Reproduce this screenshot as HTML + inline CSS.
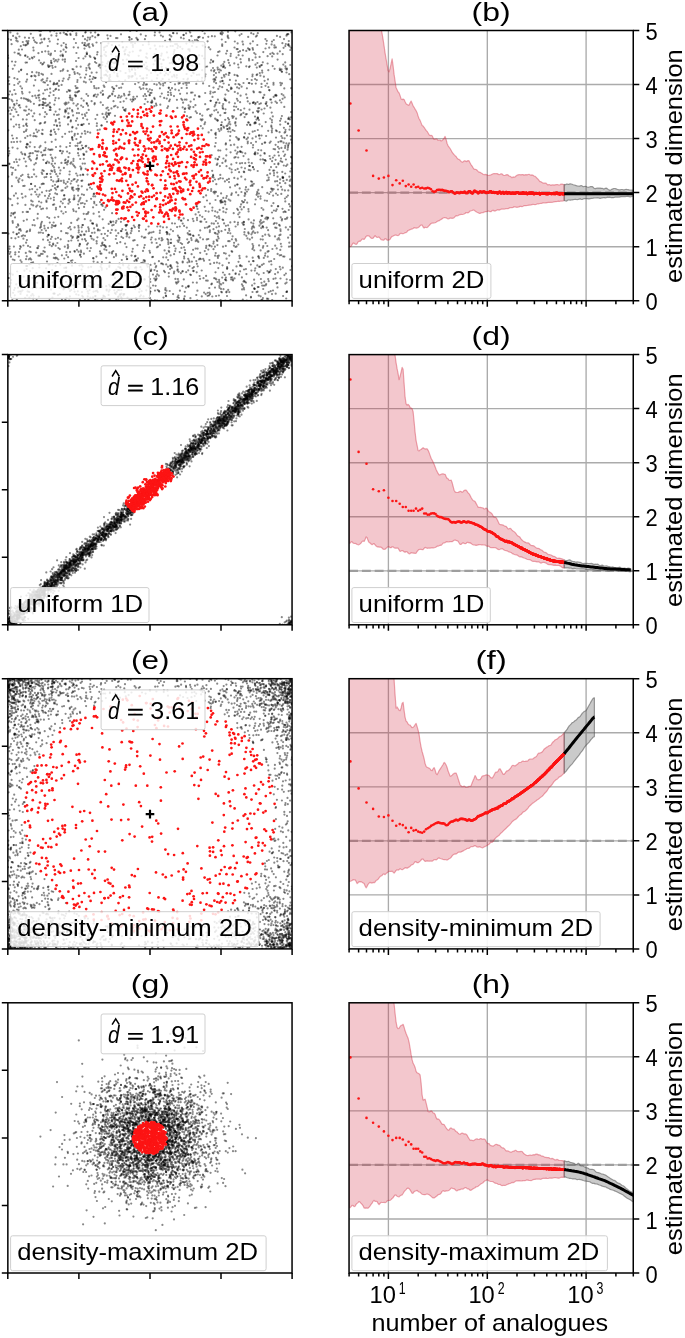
<!DOCTYPE html>
<html><head><meta charset="utf-8"><title>figure</title>
<style>
html,body{margin:0;padding:0;background:#fff;}
svg{display:block;font-family:"Liberation Sans", sans-serif;filter:blur(0.35px);}
text{fill:#000;}
</style></head><body>
<svg width="685" height="1338" viewBox="0 0 685 1338">
<defs>
<marker id="g" markerUnits="userSpaceOnUse" markerWidth="4" markerHeight="4" refX="2" refY="2" overflow="visible"><circle cx="2" cy="2" r="1.1" fill="#000" fill-opacity="0.47"/></marker>
<marker id="r" markerUnits="userSpaceOnUse" markerWidth="6" markerHeight="6" refX="3" refY="3" overflow="visible"><circle cx="3" cy="3" r="1.35" fill="#fc1414"/></marker>
<marker id="m" markerUnits="userSpaceOnUse" markerWidth="6" markerHeight="6" refX="3" refY="3" overflow="visible"><circle cx="3" cy="3" r="1.3" fill="#fc1414"/></marker>
<clipPath id="cl0"><rect x="7.85" y="30.5" width="284.2" height="270.2"/></clipPath>
<clipPath id="cr0"><rect x="349.05" y="30.5" width="284.2" height="270.2"/></clipPath>
<clipPath id="cl1"><rect x="7.85" y="354.6" width="284.2" height="270.2"/></clipPath>
<clipPath id="cr1"><rect x="349.05" y="354.6" width="284.2" height="270.2"/></clipPath>
<clipPath id="cl2"><rect x="7.85" y="678.7" width="284.2" height="270.2"/></clipPath>
<clipPath id="cr2"><rect x="349.05" y="678.7" width="284.2" height="270.2"/></clipPath>
<clipPath id="cl3"><rect x="7.85" y="1002.8" width="284.2" height="270.2"/></clipPath>
<clipPath id="cr3"><rect x="349.05" y="1002.8" width="284.2" height="270.2"/></clipPath>
</defs>
<rect width="685" height="1338" fill="#fff"/>
<text x="150.3" y="20.9" font-size="26" text-anchor="middle" textLength="38.3" lengthAdjust="spacingAndGlyphs">(a)</text>
<text x="491.1" y="20.9" font-size="26" text-anchor="middle" textLength="39" lengthAdjust="spacingAndGlyphs">(b)</text>
<g clip-path="url(#cl0)">
<polyline points="72.5,69.1 97.9,230.4 234.5,278.4 200.1,202 102.5,242.6 177.9,235.7 60.9,201.5 199.1,55.4 275.6,144.8 78.4,237.1 277.6,59.6 197.5,208.9 35.1,186.2 133.4,100.2 259.8,67 206.1,247.9 100.6,266.7 216.5,102.4 70.4,278 31,184 53.3,181.4 140.1,76.1 83.6,124.1 239.7,258.2 62.8,56.2 44.7,116.8 33.9,133.3 178,45.9 250.8,185.9 178.9,237.4 272.8,116.4 213.9,223.7 252.5,185.8 272,41.6 163.1,264.3 274.4,45.4 148.6,233.6 85.7,168.9 136.3,276.6 196.9,113.1 264.7,153.7 80.9,203.3 104.4,249.3 81.4,180.8 108.9,80.8 9.3,99 186.5,85 88.1,95.8 27.2,266 58,295.2 94.4,88 133.2,240.6 50.5,55.2 69.8,97.6 142.7,262.6 143.3,78.3 80.4,166.5 92.4,36.2 87.2,40.4 81.9,145.5 68.1,124.4 77.8,143.3 246.2,94.4 59.1,118.9 252.9,41.3 58.5,129.3 221.2,291.8 181.6,88 67.3,186.6 223.8,66.1 78.7,155.5 32.2,189.1 183.5,79 188.2,258.8 57.4,61.5 78.4,236.7 202.5,30.9 30.8,263.7 256.6,292.1 129.7,71.4 183.6,69.5 96.9,226 58.7,85.9 10.6,273.7 67.6,181.9 255.1,79.1 284.4,256.6 133.4,271.8 115.5,63 86.3,70.3 282.5,208.8 24.4,270.7 124,219.7 55.8,134 76.1,211.6 229.6,128.7 65.8,51.8 112.2,51.4 152,90.1 88.2,227.3 88,105.7 32.1,72.2 144.8,260.6 258.9,120.1 277.1,181.2 15.6,93.9 268.7,281.2 42.4,104.9 220.4,81.7 262.7,226.5 55.6,272.6 102.1,204.4 115.3,61.7 106.4,108.4 154.6,54.1 10.4,252.1 257.3,45 32.7,268.2 144.6,104 230.3,222.4 282,71.8 208.8,47.4 85.7,281.5 198.3,241.9 226.2,100.7 199.9,215.3 285.7,212 254.2,250.3 21,70.2 90.4,57 253,261 105.7,247.2 23.7,220.8 224.7,201.1 8.3,130.3 34.2,274.8 290.3,50 228.4,91 254.7,288.8 143.5,296.4 55.8,120.2 54.2,125 55,100.3 81.2,105.6 275.9,47.4 288.3,190.4 207.9,189.9 213.4,243.6 216.1,296 154.9,60.7 58.3,216.8 257.3,191.8 258.1,108.4 209.5,226.2 273.2,218.3 286.4,143.4 223.2,108.8 40.5,145.9 97.7,292 27.1,79.6 259.9,221.8 14.1,290 58.3,259.5 49.6,242.3 55,51 257.1,111.1 291.9,142.7 163,227.3 113.2,221.6 205.7,294.1 42,42.3 223.4,158.5 259.1,245.4 48.5,234.9 225.1,279.5 125.5,225.2 20.3,55.2 70.3,33.8 65.8,212 286.7,218.7 20.5,293.9 69.1,300.6 16.8,138.2 189.6,62.8 18.2,180.4 131.5,255.6 56.6,33.5 129.1,37 70.7,229.4 247.1,124.8 204.7,219.2 141.6,78.5 121.5,231.1 38.8,232.7 179.3,239.9 151.2,269.7 265.2,160.2 283.3,64.6 238,210 254.2,288.3 148.8,276.9 144,237.7 158.9,261.2 240.3,265.2 50.8,239 178.6,271.8 265.4,39.1 71.1,285.6 89.7,55.8 247.2,97.9 193.1,249.8 282.3,138 277.7,195 242.9,202.4 199.6,96.7 61.9,255.3 68.5,102.6 253.2,245.8 203,37.8 138.4,286.5 10.9,215.7 241.6,146.8 96.4,256.6 103.7,117.3 28.2,101 185.4,82.8 229.2,102.4 153.1,285.5 227.3,129 35.3,80.1 161.6,240.5 220.7,33.1 256.9,35.7 40.8,62.9 285.5,121.9 221.8,122.3 30.1,229.6 237.8,178.7 51.1,62.6 43.4,251.1 86.4,151.7 128.6,272 129.6,52.3 17.7,41.4 218.8,255.7 286.1,166 165.4,293.1 272.7,66.1 278.4,142.1 68.2,79.3 26.7,211.9 56.1,88.9 219.5,287.8 82,292.1 39.8,123.7 276,137.6 202.2,70.2 280.2,124.6 101.5,234.1 62.5,54.5 46.7,80.7 276,193.5 54.5,61.3 235.9,80.6 68,284.8 253.1,247.6 24,131.9 285.3,201.4 263,98 117.1,75.8 211.1,191 189.8,41.6 262,264.9 203.2,258.9 154.3,278.6 263.9,76.7 101.9,262 112.3,87.2 107.7,107.5 17.7,198.3 97.8,94.7 77,238.1 78.2,185.6 234.6,221.9 286.6,69.6 94.7,103.2 242.8,285.9 68.4,228 86.1,74.5 44.6,247.5 221.2,284.4 43.6,272.5 210.4,62.7 26.8,265.9 147.7,101.8 22.5,174.8 285.3,283.6 195.4,105.2 55.9,209.5 269.2,90.1 57.6,43.8 108.6,294.9 21.3,291.6 215.8,134.8 42.5,170.2 228.7,75 235.9,125.6 57.3,187.1 264.3,94.9 214.6,106.5 21.6,262 144.1,247.7 26.5,129.6 213.2,92.5 111.1,61 227.9,232.9 258.7,111.1 58,186.4 238.2,214.3 116.5,85.8 284.7,97.4 201.8,296.4 70.7,121.4 8,55.6 39.5,30.9 91.6,101.2 27.4,44.3 26.7,147.7 276.8,131.2 51,53.7 102.8,95 282.4,43.2 204.7,33.5 89.6,290.1 54.2,204.4 106.2,286.2 265.6,243.1 215.2,133.8 139.2,292.1 218.8,216.4 130.8,233.2 169.2,247.5 167,234.2 138.7,55.8 179.7,252.1 50.4,173.8 217.9,257.9 54.1,114.6 237.7,49.1 170.6,255.4 273.9,210.5 126.5,233.7 28.7,282.8 94.1,86.1 54,82.8 42.3,155.6 149.5,250.8 79.7,199.7 55.6,139.7 239,138.9 77.2,220.2 30.6,153.2 67.7,31.1 210.8,100.8 183.7,218.4 277.6,253.9 249.8,239.4 94.9,78.1 252.6,48.1 79.8,243.9 250.4,170.3 49.1,264.1 271.8,130.6 168.3,242.2 115.1,96.1 52.5,264.4 109,114.9 258.1,196.7 43,208.6 140.9,295.3 174.2,271.7 215.1,255.7 194.1,257.3 215.8,137.8 129.5,39.9 108.6,110.1 228.9,62.8 48.5,149.4 239.7,188.4 175,84.3 275.7,293.7 280.1,36.9 283.2,177.6 36.5,136.5 269.6,156 10.4,199.2 93.1,207.3 138.5,82.5 86.9,103.9 170.3,90.1 160.3,226.4 247.8,101.4 75.9,95.7 222.8,33.1 148.1,91.4 282.2,189.7 251.8,163.2 13.7,213.1 121.4,293.6 80.3,254.5 291,156.9 27.5,136.1 220.3,174.9 64.9,198.9 188.6,234.5 267.3,175.2 196.9,263.8 17.9,224.4 25.6,62.6 88.4,293.5 219,226.4 99.1,270.9 84.7,45.1 209.3,288 285.3,145.9 45.6,148.1 35.2,191.9 244.3,137.7 86.4,68 265.4,253.3 170.3,265.9 9.2,151.1 168.8,88.1 255.3,104.2 290.3,65 116,56.6 55.6,111.6 264.8,200.5 136.4,270.7 141.2,263.1 163.5,59.9 25.1,297.8 12.2,94.7 225.9,143.4 187.7,233.2 119.9,283.9 210.5,91.7 90.6,220.7 119.3,290.1 78.2,190.7 47.1,89.5 217.5,55.5 80.4,175.2 190.2,32.5 124.7,110.3 134.8,227.2 11.6,44.2 229.3,230.6 262.9,298 110.7,222.1 120.9,231.1 219.9,166.1 202.1,77.8 82,281.5 253.1,145.1 9.5,286.5 212.3,177 237.8,100.7 67.8,248.2 287,68.7 93.6,239.7 182.7,261.5 125.4,110.8 221.8,202.2 86.7,200.9 218.6,238.4 95.4,296.1 218.8,232.4 26,259.2 54.9,132.1 78.7,232.4 168.8,87.6 21.8,193.9 268.7,272.7 216.9,262.6 127.1,224.9 51,177.2 25.7,110.7 218,112.4 125.8,230 97.1,54.5 23.2,186 223.4,211.7 67.8,118.1 83.9,253.7 74,288.8 168.8,273.1 90.4,297.5 38.8,130.5 255.9,36.6 57.1,194.2 69.2,91.1 218.3,150.4 273.5,82.9 262.2,285.6 167.3,239.1 54.4,286.2 95.3,296 153.6,64.3 42.6,253.9 275.6,159.8 184.8,112 89.4,63.9 40.7,123.2 222.5,80.9 8.4,278 51.1,130.7 182.7,223.6 262,126.3 226.2,198 181.4,247.9 290.4,270 76.3,35.2 84.2,45.2 186.4,43.6 41.8,133.6 105.7,114.3 41.7,172.6 243.5,281.6 244.9,281.8 79.3,245.9 33.2,298.6 65.8,183.8 173.7,54 252.5,244 96.5,96.8 155.6,239.4 31.2,183.9 111.4,108.4 264.5,108.5 49.2,274.9 221.9,292.3 135.9,267 168.3,244.1 262.1,70.6 264,163.2 131.7,77.2 290.3,171.4 88.7,147.8 71.2,235.9 155.9,49.2 95.1,58.5 163.2,83.7 15.4,238.3 26.3,166.2 18.8,49.7 246.3,50.9 184.1,225.9 96.9,123.4 171.1,242.9 257.2,74.4 36.2,129.7 63.6,78.6 101.6,56 109.6,289.9 249,67.1 162.9,36.6 29.6,58.9 82.6,203 223.6,83.5 291,139.7 184.1,247.3 280.5,234.7 135.1,98.8 53.6,91 73.2,209.3 43.3,93.5 142.9,45 283.6,142.7 257.5,291.7 177.3,107.9 274.2,259 30.8,252.1 193.9,267 191.4,36.2 81.6,269.6 216.1,83.2 159.6,32.4 282.7,54.2 44.4,38.5 157.2,274.4 250.3,43.6 55.4,66.9 227.3,268.3 273.5,84.7 217.6,159.5 193.5,221.1 69.3,77.5 271.7,112.6 31.3,110.6 111.8,67.2 23.7,44.9 217.3,240.9 74.4,72.2 187.2,239.3 217.8,196.1 79.9,300.1 101.2,204.5 66.5,297.8 136.7,31 24.6,185.8 126.3,225 31.9,177 81.9,133.6 289.6,185.3 27.6,56.9 91.7,72.7 116,38.1 243.9,222.2 40.1,227.7 271.6,102.6 213,181.2 263.3,209.7 240.8,110.2 174.9,223.5 22.9,119.4 264.7,142.7 56,207.8 278.7,238 54.4,293.7 63.4,289.4 179.9,290.7 217.6,67.7 45.4,99.2 119.9,294.3 135.4,255.9 138,258.3 144,82.9 136.3,267.8 12.8,274.7 273.6,189.2 208.6,132.4 196.3,83.9 279.8,68.6 108.1,97.9 221.8,39.5 59.6,109.3 176.8,75.2 217.8,69.6 169.7,291 246.9,88.3 48.6,235 239.4,255.9 275.8,269.1 249.4,165.9 51.4,35.4 177.4,48 81.7,227.3 207.2,109.7 97.6,130.2 212.3,296.5 118.8,52.5 266.7,227.6 121,34.3 22.8,42 281.3,102.5 54.8,217.5 90.8,248.1 225.3,300.7 8,155.5 223.3,64.2 198.1,41.2 103.4,295.6 279.4,235.3 262.1,222.7 189.5,49.4 107,115.9 36.3,97.9 26.7,256.3 85.7,287.2 216.7,239.8 81.3,168.2 81.2,235.3 226.5,166.2 286.9,34.5 280.8,85.2 102.7,245 50.2,81.3 51.5,73.9 260.9,279 49.8,102.9 197.7,266.3 23.2,235.3 64,288.1 246.6,139.2 15.2,254.5 106.4,250.1 45,82.6 84.5,48.6 107.2,63.5 283.9,127.8 204.1,58.5 84.8,131.2 78.2,148.8 119.5,263.7 182.7,262.5 175.4,278.9 121.5,236.9 59.6,122.7 244.6,117.1 215,287.6 68,262.9 278.2,152.2 232.8,279.4 234,106.5 220.4,178.2 66.1,267.7 77.1,118.4 261.2,150.3 26.7,269 219.5,51.4 284.9,190.4 229.9,140.3 196.8,206.6 29.4,251.4 88.9,231.1 22,91.8 124,93.8 188.8,285.9 241.1,204.4 115.8,222.8 113.7,224.8 63.6,180.7 22.4,180.3 204.1,292.6 171.8,267.9 207.1,66.5 121.6,285 249.4,49.2 144.5,279.2 161.1,263.5 239.7,84.8 93,223.6 215.9,102.8 85,39.2 224.3,61.9 182.1,244.1 279.7,255.3 214.6,193.4 26.1,242.7 211.3,284.3 161.7,66.8 73.5,103.4 235.7,239.2 63.9,182.7 151.2,300.2 191.1,92.7 33.1,262.4 40.3,35.7 267.1,180.5 71.6,181 171,239.5 274.6,223 11,119.4 116.3,299.2 176.6,283.6 161.7,53.7 281.5,69.3 34.7,120.2 40.4,34.7 131.8,228.4 239.9,151.3 57.4,243 14.4,78.2 207,200.5 19.5,105.1 272.2,300 20.8,230.7 143.5,96.1 110.5,80.7 279.1,148.6 127.8,54.8 67.7,70.9 252.4,232.7 156.2,266 53.2,243.7 46.5,190.8 25.1,55.8 106.3,70.5 201.7,270.5 211.3,70.4 194.9,40 47.8,46.1 13.3,214.2 115.7,230.4 164.6,250.4 44.1,62.5 48,65.3 54.7,284.5 210.3,263.9 66.4,255.1 68.1,160.9 240.1,271.3 238,222.6 150.5,264.9 109.4,265.6 122.6,83.9 162.6,239.6 261.5,135.5 184,298.5 173,231.1 186.8,227.6 12.6,221.2 73.4,161 125.7,109 285.4,66.3 218.6,179.2 267,200.8 166.2,264.4 255,232.9 265.5,48.5 289.8,180.9 196.9,39.9 144.6,261.7 210,294.2 278.2,206.2 139.7,87.3 21.3,152.4 94.2,201.8 225.6,279.8 90.9,236.3 178.9,90.3 291.4,168.5 255.6,57.4 32.8,116.3 267.4,271 225.7,144.4 39.5,194.7 220.3,200.8 269.4,272 51.3,170.7 112.6,62.4 130.7,99.6 61.6,84.9 287,291.4 13.1,35.9 58,39.5 92.9,223.6 78.5,149.4 25,235.8 76,120.8 102.5,113.9 38.4,53.2 253.6,261.2 231.3,194.9 12,174.6 16.9,100.5 197.2,300.3 84.7,234.7 108.9,96.6 145.7,84.7 276.5,227.9 42,192.3 110,95.9 224.6,98.6 153,256.8 17.9,53.6 107,121.8 205.1,76.4 12.8,259.5 57.3,83.1 61.5,190.7 69,288.5 39.9,104.8 88.7,109.9 225.2,229.8 227.6,129 246,187.2 211.3,130.2 66,281.8 221.2,128.2 183.3,83.7 187,116.2 254.8,131 75.4,282.4 84.8,203.8 249.3,133.8 11,39.8 267.1,105.8 83.9,194.9 100,202.1 190.2,274.5 268.2,298.9 26.6,119.5 140.9,89.1 238.4,52.1 178.8,297.9 211.1,59.9 11.9,186.2 260.6,296.3 77.5,80.1 247.8,141.7 107.4,76.1 132.1,101.5 180.2,46.9 107.4,235.8 86.9,53.9 156,276.4 58.7,114.6 120.3,97.5 68.4,157.1 43,233 283.8,165.5 242,201 280.3,82.8 126.5,256.7 81.9,231.6 263.7,113.5 80.4,197.9 129.8,76.4 68.1,257.2 145.9,229.6 232.7,117.9 178.3,295.5 102.6,205.9 48.5,234.8 135,43.2 140.2,275.1 86.7,103 118.4,266.9 115.8,239 39.1,60.3 265,255.7 234.2,144.7 80.6,141.9 112,253.5 68.1,117 87.5,44.6 172.1,76.7 93,297.4 189.6,117.6 252.1,285.4 218,159.2 259.4,104 258.8,274.6 221.8,77.8 146.1,62.5 69.9,146 23.4,238.7 117.1,243.2 41.2,223.4 41,253.9 92.5,44.3 104.9,233.8 285.5,129.8 47.9,240.2 184.7,296.3 16.6,227.2 247.7,143.3 38.9,97.7 147.6,266.7 232.9,270.3 86.2,231.4 234.4,157.7 64.8,246.7 282.3,171.9 14.9,288 280.3,249.9 253.2,102.7 65.5,187.9 286.6,197 285.8,227.4 154.4,106.2 123.4,295.4 113.2,251.2 219.1,72.3 226.6,126.2 240.6,151.9 227,296 49.7,110 22.6,197.6 93.5,291.7 101.8,286.7 118.1,297 85.6,146.4 285.2,173.5 69.3,131.8 61.2,231.2 134.9,267.8 275.1,274.1 45.2,154.9 235.4,122.2 77,249.8 260.9,103.3 271.4,126.8 11.7,110.1 164.9,272.2 29,37.9 151.4,92.8 223,67.2 48.5,264.7 70.7,183.6 246.8,114.1 221.5,231.2 170.1,269.1 175.3,89.6 63.6,49.7 154.5,270.1 263.3,52.1 28,245.9 275.2,227.6 229.9,79.9 29,109.5 126.9,259.2 51.2,134.9 259.1,258.2 272.1,188.9 289.3,242.7 29.5,153.6 74,39.1 237.6,147.4 269.6,271.9 114,63.3 8.5,278.1 47.1,173.8 52.6,282.4 68.8,200.4 65.4,112.3 127.7,281.6 242.8,299.5 15.9,193.4 25.4,204.9 105.8,52.2 127.5,297.7 35.8,163.2 226.4,149.3 80.2,159 288.6,45.3 193.4,107.1 27.1,126 265.7,285.3 136.2,259.5 236.2,106.8 213.2,61.1 89.8,251 22,49.5 19.1,229.7 103.8,296.2 268.7,177.7 216.8,217.3 225.2,204.3 127.8,267.3 279.9,100.3 168.8,276.6 179.8,83 262.1,143.9 74.5,251.1 70.9,120.4 163.5,297.6 162.5,46.3 188,78.6 36.7,42.9 87.7,296.4 81.1,252.2 146.7,53.7 175.2,251.1 260.1,266.7 124.8,54.4 42.5,129.9 150.2,291.7 278.4,163.4 261.5,87 11.4,238.1 287.3,217.5 166.3,257.4 240,163.4 73.7,273.7 26.5,41.2 260.7,223.7 82.4,225.1 82.3,180.6 116.4,220.9 70.6,34.9 78.3,225.8 179.8,226.5 270.3,53.9 191.4,75.8 160,244.9 53.6,95 9.6,253.8 250.9,297.5 251.7,80 255.8,83.6 57.6,176.3 15.3,109.3 136.5,285.7 211.7,114.5 253.4,91.4 228.4,38.2 9.4,164.1 68.2,246.7 78,282.1 118.6,296.4 252.7,131.7 57.4,263 245.2,163.2 53,204.8 52.5,158.8 110.7,64.8 143.3,88.4 252.1,237.7 90.2,132.7 51.2,149.7 226.6,209.2 72.1,137.3 93.8,284.4 135.9,298 256,141.8 266.4,217.4 37.8,213.9 28.2,99.5 89,43.8 8.3,176.7 156.9,78.4 279.9,51.3 225.4,112.8 96.5,42.5 13.3,232.3 192,46 217.4,163.7 253.9,220.4 252.5,292 216.5,227.3 164.7,75.3 116.3,235.8 101.3,264.5 232.2,277.3 178.4,281.4 268.7,292.1 225.4,94.6 74.8,251.7 41.7,230 10.4,32.4 29.7,189.5 270.7,192 16.5,111.9 248.7,233.6 136.4,37.9 189.5,262 36.2,206.7 89.9,68.8 77.4,175.6 15.5,61.8 145.3,237.4 20.8,46.2 32.6,201.5 253,49.7 268.3,70.2 241.9,277.4 58.8,98.3 161.4,63.9 271.2,188.7 26.2,280.8 232.2,116.2 53.5,225.9 20.1,291.4 160.3,104.7 255.9,136.7 72.7,140 96.7,243.4 72.4,111.4 38,248.1 58.5,59.6 229.1,228.8 70.6,99.7 135.2,69.8 39.3,94.9 111.2,274.8 69.7,108.3 227.1,50.9 262.8,62.3 203.4,197.2 149,70.3 284.4,275.1 62.8,55.5 30.8,33.8 68.4,203.7 219.3,218.3 35.2,95.7 275.6,278.3 149.6,232.7 237.1,87.4 33.5,295.6 242.7,55.5 104,47.7 184.9,250 106.1,75.1 80,255.2 215.9,73 193.4,271.2 147.1,69.2 239.5,217.1 62.7,80.9 260.7,239.3 14,142 85.3,133.7 159.9,230.7 206.8,239.4 273.8,54 18,287.7 173,33 281.7,94.1 106.4,112.7 267.3,192.9 217.5,212.3 124.4,51.3 188.5,286.8 198.3,37.7 48.8,67 59.9,150.8 154.3,84 53.1,273.7 243.5,156.1 190.9,117.2 30.7,101.8 253.9,102.3 235.2,123.4 252.2,227.2 9.6,246.5 35.2,136.1 51,289.6 32.5,294 191.9,261.6 281.2,255.2 214.8,216 25.5,196.4 262.9,159.4 211.9,36.2 255.3,152.4 63.7,43 72.3,189.2 46.5,201.9 79.8,143 154.8,45.7 39.9,255.7 257.7,171 238.3,195.2 225.4,161.5 279.8,225.7 167.3,108 204.8,47 87.9,37.6 268.6,251.2 248.8,122.6 62.7,59.7 173.1,294.1 64.9,61.7 256.8,80.1 63.9,167.9 94.6,232.7 170.7,92.8 246.8,300.5 166.8,227.3 236.1,118.7 259.2,108 16.9,162 222.6,105.9 53.8,257.9 262.2,215.8 180.9,220.5 253.3,223.6 128.5,76.2 39.3,267.5 129.4,94.4 244.2,280.8 80.8,136.9 280.1,120.8 49.7,244.9 234.8,91.9 76,61 219.2,156.9 268.2,279.1 101.7,268 82.2,295.9 96.3,63 151.8,102.8 259.8,73.1 102.7,219.3 279.9,183.1 228.2,241.2 169.7,35.2 282,83.4 44.3,225.8 146.9,84.4 272,294.1 104.3,245.1 37.5,218.4 258.3,150 43.7,105.2 157.1,271.2 241.6,209.4 244.4,234.5 174.2,245.9 219.1,279.9 172.8,46 231.2,279.5 99.4,216.4 58.4,180.9 41,226.8 34.3,164.5 207.6,41.3 84.1,154.6 267,298.5 51.3,180 151.5,232.5 235.7,273.3 14.3,90 223.2,104 278.9,155.6 73.7,47.3 244.3,108.5 169.8,63.2 73.6,179.7 285.9,273.5 268.2,130.8 234.6,74.9 8.5,110.8 134.5,260.9 83.4,58.5 250.1,124.5 56,278.3 43,108 179.1,59.2 187.9,243 229.6,168.3 90.6,236 195.7,111.4 216.3,109.8 282.1,219.1 290.1,226.8 222.4,162.9 90.2,37.5 82.1,114.5 115.7,293.9 52.3,171.3 207.2,227.6 52.4,297.5 229.4,274.2 280.5,269.3 21.3,98.2 243.8,171.7 233.9,245.7 155,290.6 165.1,82.7 227,89.8 47,261.5 230.8,53.8 100.4,253.6 66.4,34.2 93.5,258.4 238.5,139.9 229.7,73 281.3,193.9 34.2,113.4 212.5,96.9 100,251.4 260.6,250.4 18.8,256.5 111.9,45.1 122.8,47.5 209.4,245.4 55.8,84.1 222.2,87.2 32.7,288.2 162.1,69 254.5,288.9 177.7,269.4 194,99.3 217.4,245.1 95.3,94.5 126.1,226.2 172,88.2 112.2,93.5 96.8,126 287,135.5 8.4,198.3 86.7,112.8 51.7,227.4 257.5,102 273.8,224 33.9,85.6 287.9,195.5 245.3,194.2 259.6,56.9 136.3,259.9 36.9,276.7 213.7,241.7 36.3,176.5 289.6,46.4 49.8,65.9 144.1,64.7 137,96.5 47.4,161.5 50.3,92.6 132.8,248.8 101.5,125.4 215.8,132.9 139.7,289.2 166.9,52.4 81.3,125 216.4,279.5 200,258.5 83.7,213.8 197.7,80.6 23.5,125.9 101.8,299.9 116.7,271.2 43.8,98.6 187.4,79.6 288.1,237.7 270.3,118.6 27,115 104.6,54.6 286.8,179.9 191.6,254.2 236.1,192.4 16.2,124.6 168.1,92.2 74.2,197.5 118.6,218.9 197.4,290.7 243.1,44.4 110.5,221.4 78.1,91.7 146.6,77.9 258.9,193.6 284,39.1 41,31 54.4,293.5 29.4,264.3 49.9,264.4 260.4,75.7 211.2,189.2 231.3,164.4 224.9,100 106.6,289.5 30.9,160.4 133.5,284.8 171.1,94.9 269.7,142.8 274.5,155.5 124.3,294.1 34.8,225.4 284.3,88.4 54.3,30.7 266.9,300.5 41.5,80.4 135.2,289.1 90.8,32.6 82.8,148 156.9,247.3 230.3,233.3 159.2,82.8 281.4,147.9 163.2,257.3 246.3,66.3 277.9,206.3 64.1,195.5 271.9,132.3 262.6,236.2 177.1,227.1 139.9,296.5 215,179.5 169.2,69 263.3,246 262.3,72.6 291.1,112.1 127,232.7 210,115.3 32.4,96.2 290.1,280 109.3,266.9 129.3,300.4 156,103.7 218.3,88.9 135.1,84.1 22.5,290.3 269.5,169.9 255.5,54.3 200.1,278.8 192.6,268.2 218.5,129.2 43.5,82.2 86.2,145.8 183.8,279.4 245.8,114.4 207.7,292.8 58.8,89.9 76.2,294.3 195.6,214.4 245,133.3 166.9,46.9 54.9,171.9 36.6,72.4 95.5,119 210.3,49.3 55.9,60.1 281.7,71.5 240.3,206.8 262.4,299.8 227.8,35.6 226,74.3 166.1,73.3 100.5,67.7 187,83 281.5,141.4 29.2,291.9 116.3,269.6 267.2,219.3 62.9,151.4 57.1,126 140.8,50.4 105.5,66.3 22.2,284.6 79,188.9 281,158.6 125.5,49.7 72,263 166.5,232.2 60.6,150.8 247.2,79 64.6,103.5 105.8,74.5 280.6,231.1 244.6,195.9 258,118.4 198.5,37.1 123.1,47.2 166.8,98.6 288.5,118.7 235.3,150.5 262.9,247.7 82.2,239.3 281.9,116 117.4,38.1 166.9,232.2 18.9,252 261.9,65 229.9,65.3 231.6,169.5 43,74.7 48.7,54 125.2,80.4 257.7,153.4 28.2,174.6 27,62.5 221.5,125 230.9,89.1 56.2,174.2 60.3,33.2 49.8,222.6 80.8,149.3 252.6,60 174.5,50 288.4,119 240.1,102.2 187,93.3 88.5,65.4 61.9,299.2 110.6,232.9 98.9,212.1 42.3,174 77.8,133.9 244,269.5 54.4,254.2 225.2,119.8 93.2,272.1 61,223.7 183.6,34.9 123.4,64.1 147.2,58.1 33.9,220 290.4,186.3 69.5,153.2 226.2,53.6 288.2,229.7 96.6,241.2 291.2,88.2 105.6,207.4 143.7,260.2 105,296.8 85.4,56.4 56.6,181.7 238.6,67.5 84.9,77.7 120.9,221.8 193.5,270.8 52.4,149.6 245.5,189.6 48.5,66.6 192.3,65.7 256.8,67.6 88.9,184.4 87.7,131.9 236.5,266.4 199.1,74.7 53.1,285.9 60,206.7 271.6,44.4 252.4,76.3 160.1,58.9 231.6,251.2 121,297.2 10.9,256.7 89,123.8 72.3,100.3 234.5,131 52,225 285.9,159.5 86.8,52.7 189.5,65.4 268.4,87.2 281.4,136.2 273.4,203.2 283.1,296 27,143.9 16.2,159.4 214.9,146.4 200.7,119.3 244.8,229 290,126.4 200.2,237.6 210.7,116.3 193.5,235.9 70.1,251.9 188,220.2 108.4,113.7 12.8,222.8 272.5,52.9 186.6,74 220.6,300.1 84.9,163.6 117.8,76.4 289.9,119.4 78.9,284 115.4,105.8 267.6,251.7 81.5,264.8 48.3,104.6 57.1,84.1 59.8,249.1 71.3,289.8 11.5,213.2 18.8,105.6 214.7,191.7 214.1,81.7 241.4,192 192.5,92.5 225.3,201.8 262.7,226.3 281,118.7 248.6,211.4 188.3,49.4 279.8,70 184.1,256.6 64.3,267.9 76.4,128.4 246.9,191.6 291.4,32.4 241.5,167.5 132.3,251.7 252.9,147.5 42.8,183.6 205.2,104.2 69.4,199.3 41.7,184.2 260.5,198.7 43.9,103.2 97.2,114.9 139.5,225.3 77.9,108.7 244.2,172.2 289.1,143.3 18.5,237 262.8,239.6 128.8,265.4 189.5,266.1 140.8,34.4 129.5,91.8 132.8,51.5 224.5,113 70.1,95.6 281.4,246.5 235.5,247 51.8,246.2 12.6,147.6 71,260.8 41.3,209.1 219.7,86.4 32.8,153.2 89.5,47.2 229,119.5 272.2,56.4 150.1,298.2 118.9,95.6 95.5,291.2 21.3,69.6 258.1,112.2 240.7,151.6 80.3,234.8 11.1,167.3 216.1,77.3 65.1,207.1 103.5,227.9 263.8,257.9 112.3,94.5 220.9,70.5 39.2,275.9 208.3,36.8 237.7,168.9 137.4,245.2 123,107.6 224.7,274.9 205.2,93 78.9,208.2 258.4,256.4 263.7,263.8 230.1,187.3 81.9,194.3 277.6,176.7 218.1,52 16.3,40.6 248.8,83 10.4,113.9 54.1,167.4 74.6,179 196.3,261.1 41.9,221.8 72.4,30.9 36.5,194.5 154.8,263.7 60.3,146.4 74.8,133.9 260.8,220.2 238.6,55.2 78.6,295.1 273.2,170.7 107.4,35.3 50.8,131.6 181,37.7 283.4,95.3 101.2,245.8 69,179.2 209,295.5 200.2,230.4 108.7,223.9 8.3,155.6 58.5,179.1 79,113.1 55.6,98 131,42.7 26.1,266 275.2,245.7 66,233.1 116.8,291.9 93.1,258.1 280.5,141.3 253.5,34.1 55.3,258.4 259.3,135.4 100.7,102.4 280.5,278.5 219.7,209.9 65.8,102.5 288,147.6 195.7,241.1 141.6,291.2 9.9,107.7 224,127.7 179.6,237.8 213,68 118.4,300.4 225.8,245.9 49.8,194.1 291.9,266.2 228.9,262.8 113.5,101.2 191.2,238.2 50,149.9 269.2,47.7 222.7,107.9 223.2,207.9 225.7,253.6 52.2,270.1 88,279.9 212.4,207.6 41.5,73.8 96.9,290.6 19,276 62.7,203.3 243.5,83 288.3,34.2 258.9,135.6 223,246.7 251.1,143.1 255.2,154.5 214.9,246.7 27.9,144.4 247.2,202.7 164.5,70.9 129.2,69.5 46.8,174 254.4,123.4 190.5,234.7 77.9,188.7 144.9,39.2 63.8,32.7 176.9,44.2 138.7,226.6 228.3,131.5 233.7,116.6 214.8,78.9 145.8,35.8 35.5,76.3 263.3,97.4 273.6,149 201.3,221.7 241.5,34 59.1,80.9 61.4,45.6 42.6,134.1 289,246.7 190.9,275.1 155.7,267.3 201.6,120.3 241.3,114.1 188.9,70.4 225.7,160.3 14.6,52.5 55.4,157.6 284.3,106.9 253.8,183.8 130.2,30.9 50.5,107.6 40.3,43.2 133,47 40.1,206.7 235.5,274 178.3,81.4 112.2,225.4 258.6,287 66.5,47.8 43.4,159.8 63.3,199.4 261.7,215.8 49.2,218.1 29.7,100.5 192.8,218.8 82.7,163.6 131.5,230.9 126.6,47.2 239.5,212.6 270.7,291.2 286.5,72.5 55,188.2 182.4,271.5 271.6,205.9 58.3,181.2 62.3,136.8 8.4,233.7 206.3,222 228.9,84.9 12.2,205.2 12.5,101.3 221.2,129.7 159.9,88.3 82.9,296.8 221.3,65.7 261.5,282.8 8.2,58.1 217.7,120.2 225.3,100.1 85,299.4 205.6,66.8 91.9,223.3 172.1,223.3 223.6,66.6 266.2,284.1 262.2,187.2 45.4,102.9 207.7,280.7 168.7,250.8 224.9,181.4 242.5,41.7 38.8,90.6 206.3,245.9 69.4,263.2 120.4,102 26.9,99.6 276.9,35.9 175.2,44.2 129.1,268.7 73.3,285.6 77.3,145.8 121.5,96.3 243.9,207.2 46.1,268.3 271.1,261.2 14.5,105.3 288.8,210 239.1,172.2 237.6,184.5 230.8,145.2 216.8,164.9 269.3,194 49.1,162.7 215.2,80.2 22.8,212.1 109.6,299.4 214.8,36.3 151.3,106 23.4,245.5 214.2,278.2 66.2,111.1 285.3,183.2 145,94.2 114.9,277.9 189.5,30.8 39,105.3 37.2,248.1 48.9,196 64.3,258.5 63.3,213.5 189.1,260.7 101.8,269.7 53.6,222.5 42,51.9 153,274.6 77.5,87.9 55.8,257.5 19.9,248.8 276.9,102.9 170.6,265.2 200,113.9 266.1,103.8 280.5,70.2 199.3,64 288.1,146 55.7,225.4 124.4,95.4 177.7,282.5 104.4,75.2 276.3,167.1 38.5,255.7 268.6,234.6 169.4,234.3 108.8,291.6 72.9,236.9 41.4,39.3 39.9,187.5 19.1,53.7 80.7,66.7 255.3,268.3 41.2,152.3 15.5,169.9 150.1,279.1 102.9,105 112.1,213.2 19.1,124.8 133,99.2 117.7,107.3 288.8,117.6 280.7,217.3 270.4,107.7 55.7,121.5 285.2,62.4 120.3,242.2 148,264 73.4,69.5 76.3,33.3 78.4,218.7 108.4,43.4 267.6,63.5 119.1,88 104.5,245.5 125.1,275.5 49.5,298.8 257.3,265.4 146.3,290.3 36.5,276.8 266.1,136 290.8,246.3 38.8,75.2 82.6,266.4 182.7,107.4 123.1,238 236.4,57.6 176.7,77.7 254.2,53 234.3,177.9 14.6,65.3 275,95.3 49.7,41.4 161.2,80.9 259.1,266.8 93.6,261.6 16.3,284.4 39.3,264.3 234.1,242.8 65.1,133.8 202.2,55.9 279.8,266.8 292,95.2 75.2,167.4 247.9,137.7 119.9,267.5 70.5,274.6 66,44.6 291.8,157.7 11.5,142.1 250.3,125.2 208.3,239 168.1,74.6 71.3,240.5 277.6,185.3 240.9,62.4 42.7,79.3 277.3,283 17.2,271.5 158.8,275.7 214.9,92.1 83.1,118.2 272.4,249 182.4,48.8 249.5,49.9 206.1,275.9 72.5,126.9 51.5,63.1 99.3,64.7 27.6,291.4 24,158.5 237.8,224.6 213.5,79.4 249.6,165.9 11.6,99.8 50.4,134.6 259.5,124.3 184.8,99.6 18.8,232.9 254.8,122.6 78.6,227.7 277.9,272.4 229.5,127.7 151.8,80.7 93.6,213.7 290.4,235 257.7,118.2 291.2,217.3 33.3,47.6 91.2,81.9 183.6,35.1 280.6,161.2 219.4,263.3 110.5,35.9 172.7,63.6 9.3,77.2 80.9,250.6 190,234.4 192.3,41.4 43.8,183.8 106.9,117.1 283.4,180.9 69.7,171.5 53.4,84.3 111.8,229.9 26.8,144.6 122.9,263.8 34.2,56.8 97.2,278.1 74.9,95.2 259.7,138.5 189,82.8 95.7,77.8 230.3,124.3 123.2,265.3 49.2,95.9 94.1,193.7 241.7,266.2 71.2,222.9 77.3,82 219.3,281.9 50.2,31.5 147.2,286.1 81.5,98.5 209.9,203.6 258.3,189.9 286.6,282.6 9.3,84.1 217.9,99.7 215.5,272.3 240,51.2 217.6,120.8 50.7,198.5 272.9,157.6 81.7,124.7 237.8,76.1 44.6,123 31.2,295.6 88.4,267.4 36.2,252.6 98.2,34.6 52.7,161.1 255.6,103 229,182.1 255.7,199.5 174.1,74.9 74.8,73.9 19.5,81.8 34.5,75.7 84.9,239.2 86.5,94.1 90,76.2 244.9,200 213.5,249.2 170.5,243 129.3,237.4 76.2,173.5 177,33.3 82.9,148.2 237.8,93.4 268.7,179.9 19.4,36.5 271.4,264.5 29.9,231.1 209.2,86 222,34.5 20.2,246.1 245,192.9 73.5,158.9 230.6,152.3 243.1,50.2 165.5,288.2 178.7,83.7 273,290.5 52.6,186 154.9,32.4 13.6,116.5 36.9,151.5 105.6,246.2 251.1,181.3 249.7,66.3 97.6,262.4 213.1,175.8 174.5,76.4 244,202 226.8,196.1 255.5,64.7 202.3,115.6 42.8,99 32.4,277.8 25.4,55.3 235.1,185.7 150,252.7 35.2,42 257.8,130 185.2,253.3 292,201.3 239.1,274.4 82.9,273.8 78.1,195.5 213.5,229.2 246.3,235.8 69.6,75.1 166.5,290.7 32.6,225.1 252.1,181.8 283.2,256.5 13.1,167.9 253.3,231.3 249.1,60.5 112,252.1 76.4,53 117.6,64.4 12.1,135.5 154.3,97.9 113.4,88.5 114,106.6 57.1,258.3 81.8,186.3 290.6,136.2 188.6,105.4 231.9,239.3 236.9,98.8 64.3,195.2 255.6,123.2 238.1,64.6 177.1,299.9 251,296.8 124.1,109.8 78,153.2 231.8,88.4 154.7,35.3 248.2,36.9 36.5,273.2 15.3,252.4 174.1,254.2 204.9,227.8 249.5,109.7 111,222.5 47.8,85 243.9,224.7 274.6,68.8 46.3,162.9 191.6,240.1 204.5,124.2 133.4,96.9 101.2,43.2 117.3,73.9 87.5,174.6 172,62.6 44.3,39.3 145.4,99.2 259.4,225.7 23.6,276.7 95,62 156.6,243 183.7,38.5 67.2,164.5 234.9,103.3 91.8,189 287.9,123.7 278,189.5 112.3,70.5 16.7,233.9 253.9,92.3 155.4,71.3 257.4,63 132.8,76.1 160.9,35.5 122.3,229.1 31.3,194.5 66.3,162.6 255,204.3 208.5,109 58,237.8 19.5,159.6 50.2,285.9 14.5,260.1 73.7,284.8 168.2,240 69.9,226.8 232.2,251.8 86.4,214.1 265.6,160.9 50.7,154.8 67.1,35 65.8,46.9 60.6,71.1 46.8,208.4 285.8,44.1 43.1,239.6 271,99.6 94.3,203.3 38.9,72.9 109.6,246.2 192.9,282.5 285.1,154.5 159.1,70.3 203.1,83.4 61.4,211.3 131.7,39.1 225.6,42 59.7,294.2 55.7,245.7 196.7,272.3 70.2,90.7 103.7,85.5 61.9,153.3 56.1,189.6 182.3,100 25.8,252.9 98.7,66.1 246,282.6 238.6,84 68.7,90 83.4,153.8 85.7,32 66.4,252.2 116,254 68.5,241.1 169.9,99.6 121.8,260 96.4,88.4 37.1,155.3 29.6,156.2 222.8,202.2 79.1,91.2 43.3,282.5 108.7,113.5 285.1,147.9 75.5,86.1 286.8,291.9 36.2,287.7 276,130.4 29.7,146.5 28.2,176.8 54,129.6 280.4,229.4 31.5,262.9 60.3,264.8 113.3,91.3 267.7,256.7 274,175.3 226.6,258.7 219.4,131.1 266.5,102.1 195,95.4 238.1,109.2 102.7,297.8 20.8,247.1 252.5,138.4 58.9,167.6 44.6,228.4 94.1,228.4 9.3,153.5 234.5,47.5 213.1,174.9 282.8,267.7 14.1,104.2 42.3,64.5 128.7,78 216.3,184.2 83.9,81.7 40.6,288 42.6,286 116.1,255.7 107.9,38.6 268,79.4 135.8,281.7 276.6,95.5 160.7,70.3 25.6,161.6 16.4,177.7 131.4,299.3 74.6,291.7 87.7,291.4 17.1,141.8 93.3,196.3 167.5,233.1 44.8,251.9 26.9,219.6 288.5,44 264.3,281.7 228,118.1 17.4,79.2 215.6,233.4 84.9,43 265.3,218.6 102.4,62.3 114.3,290.3 206.6,254.1 26.4,123.6 125.6,73 53.9,200.1 82.2,125.1 119.2,81 252.7,257.7 159.9,46.3 240.5,59.2 225.5,109.3 78.1,47.6 219.7,283.8 272.4,190.6 225.8,212.5 214.1,262.9 55.7,265.9 29.9,208.8 151.7,237.5 33.5,136.2 248.8,162.5 139.9,50.6 123.7,101.3 218,236.6 85.3,32.6 150.3,48.5 239.6,35.3 190.6,101.6 288.8,41.1 184.7,109.2 136.8,78.7 131.7,228.5 85.9,240.8 261.5,299.9 35.3,151.1 277.9,146.8 206.1,195.4 62.6,70.6 42.5,104.6 275,236.4 161.2,55.7 156.7,84.7 279.6,132.2 202.3,216.8 225.1,67.8 78.6,58 165.1,40.8 47.9,198.3 65.6,159.5 189,241.9 61,180.9 160.5,73.2 64.5,116.7 10,91.4 116.8,286.3 178.8,219.3 287.6,34.2 249.8,103.6 213.5,87.6 67.6,233.3 257.8,117.4 56.4,35.8 237.8,152.1 285,198.5 8.3,39 277.5,287.4 28.4,41 221.8,31.6 73.7,211 169.2,251.9 214.3,110.6 109.4,79.7 76.9,113.1 46.2,105.8 226.6,291.7 238.3,244.5 134.6,240.2 31.4,204.6 90.5,286.8 107.6,71.8 40.9,225.1 12,61.5 136.8,260.8 78.1,124.8 19.3,127.3 207.4,300.6 213.6,192.2 18.4,291.7 74.1,165.9 49.7,106.5 177.5,266.5 188.7,107.9 224.4,76.7 162.6,78.9 196.5,239.6 240.6,115.2 159.1,238.7 103.1,94.2 267.7,217.7 275.5,101.6 73.4,190.3 100.8,92.7 274.4,47.6 65.6,34.2 89.8,282.4 274.2,170.5 228.7,199.6 211.7,223.4 110.4,63.1 39.3,276.7 28.5,157 237.6,43.4 269.6,236 87.3,248.3 152.2,257.2 200.8,126.1 123.3,254.7 222.5,265.3 290.1,206.4 150.3,281.9 236.6,246.4 77.8,180 161.7,238.1 270.7,270.4 84.8,114.3 37,157.9 104.1,209.8 225.9,225.8 60.4,170.4 83.7,100.7 230.6,56.1 122.3,42.1 291.1,163.3 16.6,38.5 45.3,51.3 68.4,113.4 240.6,95.7 252.4,249.1 101.7,77.9 242.4,222.9 20.5,260.3 268.1,230.2 83.8,158.8 48.4,51.7 284.6,132.7 281.8,220.4 196.9,74.8 285.1,219.1 88.8,184.9 208.3,249.6 164,270.9 71.3,162.4 49.4,190.9 189.4,108.9 139,231.1 109.4,252.7 67.7,162.3 275.1,149.3 177.5,270.4 43.7,170.9 95.2,37.3 118.3,233.2 236.2,240.7 284.2,156 56.8,125.3 223.2,283.1 14.3,85 188.2,270.3 133.7,283.2 102.6,90.8 21.8,236.2 87.1,189.7 30.2,258.4 229.6,241.2 98,229.4 261.6,208 219.5,69.6 228.2,60.2 290.3,79.3 288.2,123.6 150.9,270.9 143.3,84.9 79.9,244.3 252.2,184.7 57,115 22.5,93.6 287.6,149.7 215.5,158.7 102.3,65.1 105.4,46.7 12.8,68.8 200.2,252.8 78.1,240.5 254.1,227.4 282.6,98.8 91.7,238.6 202.5,119.4 55.6,238.8 228,31.8 222.4,81.1 252.9,102.9 24.9,153.9 258.5,256.7 146.8,264.7 257.8,287.1 220.7,201.4 73.6,199.4 93.7,194.2 51.1,189.8 38.4,246.2 260.5,159.5 254.5,283.5 256.5,119.6 18.7,182.1 209.9,230.4 286.7,279.3 104,50 43.9,150.5 265.2,234.7 106.1,82.2 156.6,278.7 33.2,37.8 229.3,255.6 120.4,71.2 125,53.8 97.5,52.2 268.1,217.9 242.1,163.1 97.6,300.7 106.8,268.8 215.3,104.9 247.4,238.4 47.3,217 8,66 171.3,36.4 249,58.9 290.1,259.3 100.4,64.9 126.3,98.5 265.7,103.6 173.4,33.2 75.7,96.3 68.3,263.1 73.1,187.6 186.8,87.9 209.4,260 215.5,200 77.1,92.3 281.1,186.8 83.1,107 95.5,299.9 226.3,155.4 30.3,135.4 148.6,226.5 280.8,243.8 34.2,174.3 171.2,266.5 285.4,131.8 106.2,257.8 209.6,245.6 286.5,35.7 218.9,295.5 59.6,287.6 77.6,73.2 12.3,172.8 261.5,83.9 129.6,286.6 248.6,219.4 33.7,169.7 236.4,162.8 61.4,162.9 152.3,101.9 197.6,248.7 127.5,234.4 213.9,75.1 174,96.1 92.6,79 196.5,205.9 187.9,286.3 51.1,60.8 8.4,148.1 272,122.3 230.5,131.8 271.9,120.1 55.1,226.2 222.2,44.4 153.4,231.9 261.2,228.1 66.4,147.1 89.7,79.5 145.7,68.2 199,259.4 118,97.6 289.2,74.2 37.2,282.8 149.8,95.3 26.1,146.9 185.9,61.4 88.4,299.8 82.4,42.9 28.1,43.3 220.8,202.7 186.5,99.7 106.7,290.4 30.2,247 267.1,83.5 144.6,279.7 246.4,274.1 223.4,126.5 236.8,153.7 83.9,234.7 203,239.3 231,277.6 184.9,57.7 170.6,41.6 206.1,280.6 32.5,58.3 55.3,193.4 26.3,81.7 121.3,276.2 251.8,228.8 31.9,57.5 67,91.8 76.4,105.6 267.6,56.2 84.9,274.2 245.9,269.1 88.5,45.6 79.5,265.5 231,87.7 93.1,45.8 97.4,237.3 248.8,169.9 215.2,211.3 108,230.9 53.3,293.6 276.6,283.3 47.3,256.4 197,217.9 241.9,284.3 104.4,86.9 177.7,263.3 277.5,239.4 228.2,289.9 105.5,119 282.6,176.9 101.4,253.7 28.8,113.9 157.6,75.1 217.9,223.3 63.9,276.9 11.2,280 264.5,160 236.7,49.1 221.4,200.2 235.3,31.3 83.7,155 223.2,220 66.5,271.6 37.3,132.1 50.6,110 193.8,73.3 264.6,80.8 263.2,227.5 39.5,147.3 93.6,287.2 58.4,248 257.6,232.4 26.5,232 86.1,46 36.4,159.2 17.5,148.5 18.2,115.2 274,173 138.9,225 87.9,243.3 243.2,224.6 250.8,264.6 28.8,259.3 45,90.1 233,280.5 212.9,61.9 265.3,293.7 234.2,110.2 67.8,244.9 45.3,142.3 88.8,285.6 25.5,45.5 94.9,300.4 67.3,108.6 272.1,161.2 59.9,173.6 254.5,153.9 256.6,194.8 231.8,193.4 234.8,41.5 160.3,96.5 214.8,232.8 53.9,197.5 26.4,106.7 266.8,40.8 148.7,42 198.9,96.4 227.7,36.8 95.1,58.7 109.9,74.9 87.8,213.7 251.2,222.6 146,57.2 14,195.7 202.7,45.6 72.1,110.1 259.6,66.1 78,204.5 287.3,164.7 198.6,212.2 257.8,33.2 230.3,200.7 18.1,83.6 284.8,211.4 33.6,50.4 74.4,199.1 76.2,88.2 114.6,68.1 228.1,225.3 270.1,173.7 123.7,294.1 101.6,125.5 75.2,263.1 213.9,71.3 87.2,119.6 214.4,70.2 200.8,259.2 166.1,296.2 84.1,206.9 121.9,298.3 157.7,290.1 255.5,122.4 148.8,44.3 22.4,154.1 127.7,288.1 156.5,105.3 267.3,246 193,72.5 150.9,102.3 38.4,151.4 36.6,300.2 251.4,234.3 133.8,225.5 81.1,169.4 218.4,230.8 122.9,59.9 82.9,174.5 70.5,97.5 204.8,251.1 67.1,151.6 177,56.6 210.3,93.6 155.6,285.8 276.7,209.4 126.7,236.4 169.2,101.2 272,212.5 33.2,205.4 98.4,285 51.7,157.6 199.6,276 66.6,103.7 166,67.8 246.6,256.7 176,282.3 83,225 109.7,262.6 74.6,227.4 127.2,259 93.8,96.2 135.1,73.1 13.9,246.6 43,102 169.7,39.5 146.6,88.8 190.2,106.9 154.7,99.1 13.3,107.7 239.1,88.3 163.4,59.9 51.7,141.8 77.8,291.3 275.1,181.4 211.6,246.4 223.5,289.2 143.2,78.6 180.7,243 43,63.8 266.3,43.8 228.6,123.6 129,55.7 94.5,104.3 291.1,117.3 175.6,248.7 102.1,243.5 28,211.9 226.3,292.3 34.7,147.1 132,69.3 284.6,138.3 257.1,193.4 53.1,244.6 20.2,107.5 241.3,176.7 279.1,224.8 215.9,221 216,191.9 212.3,210.6 157.1,300.6 106.1,55.9 126.5,247.1 235.4,170 215.6,278.6 8.5,80.8 110.1,286.3 120.3,294.9 110.2,113.1 46.3,176.9 85.3,116 173.9,273.3 69.9,296.4 50.1,88.7 39.6,100.4 253.2,226.1 181.4,220.7 118.3,283.5 212.2,170.8 65.4,109.8 84.8,219.2 74.3,195.7 217.5,256.2 238.2,157.5 243.8,221.8 47.4,236.6 132.6,42.5 25.9,44.9 34.1,40.3 70,291 13,138.5 272.2,128.6 31.2,259.6 276,95.8 182.7,271.2 30,271 222.2,277.6 234.3,63.4 189.4,231 273.5,278.9 161.8,93.6 285.6,68.4 289.4,176.7 64.5,288.4 170.5,82 291.2,47.9 217.4,282 50.2,107.5 222.9,178.5 238.5,261.8 18.3,165.5 15.8,37.7 72.2,137.3 114.1,88.9 107.1,45.8 220.7,33.8 121.3,290 228.9,178.9 256.6,75.1 149.8,89.4 155.4,280.4 269.1,261.6 74.5,135.6 78.8,230.3 77.5,236.4 103.5,238.2 286.4,292 15,212.7 114.2,72.4 86.8,54.2 185.5,59.4 18.9,71.6 283.5,212.1 69,117.2 177.9,279.1 110.1,76.8 120.3,268.2 271.3,125.6 235.6,157.1 131.9,69.7 221,288.9 132.8,45.2 208.6,211.6 223.9,75.1 224,253.1 117.9,64.9 109,78.2 261.6,109.5 290.5,179.5 89.7,39.3 52.7,67.8 61.8,287.4 158.9,290.9 60,125.7 150,293.7 17.7,203.6 235.6,226.5 270.2,99.5 196.3,295 263.7,221.8 29.6,92.3 16.7,103.5 113.9,257.2 193,235.5 115,115.8 254.8,270.6 96.4,205 229.5,121.9 55,163.5 221,125.2 282.6,177.9 230.2,136.1 243.4,112.9 164.2,97.9 278.3,164.3 224.1,223.4 25.2,137.9 170.8,229.5 125.1,243.6 183.1,102.7 225.9,277.7 15,217.4 80.6,77.5 76.4,139.1 98.5,287.3 227.5,125.3 12.3,300 52.2,65.8 65,160.5 285.3,46.1 69.5,174.5 263.2,289 65.1,111.2 63.3,69.3 137.8,39.9 88.8,229.1 252.9,167 200.3,221.6 53.7,58.9 181.3,98.8 195.7,248.6 65,59.4 56,147 219.4,102.9 144.8,245.1 54.3,104.6 31.6,76 211.9,283.7 273.7,96.9 46.4,200.7 189.7,51.1 273.8,40 210.5,100.8 55.3,89.6 245,168.3 265.5,85.8 85.8,82.4 274.5,164 163.2,85.5 277.5,53.7 205.1,122.4 39.8,114.4 136.6,299.1 186.1,33.3 62.7,190.3 264,285.7 185.1,252.9 99.8,129.6 79.5,74.3 289.1,204.2 265.2,142.5 253,112.6 121.2,87.7 251.2,33.2 141.7,269.5 244.4,232.2 249,261.5 270.7,141.5 75.5,145.8 31.2,200.7 209.8,232.1 72.2,138.8 269.5,90.3 215.7,143 75.4,92.3 232.6,236.3 149.5,95 176.7,262.2 283,177.7 227.1,267.2 152,100.7 146.2,96 55,184.8 201.8,80.7 244,137.2 203.5,278.2 167.9,266.7 275.9,94.9 215.7,253.1 265.7,122.1 185.2,108.4 65.4,104.6 92,232.8 197.4,240.7 271,167.1 209.5,292.5 174,51.9 185.9,287.7 94,95.3 45.2,122.1 26.1,124.7 216.5,119.7 159.8,233 211.6,155.2 254,169.3 43,154.8 96.6,72.5 54.5,170 246.1,295.3 170,72.2 78.7,201.4 137.4,39.3 208.7,226.8 24.2,110.3 151,73 237.1,184.5 259.5,92.2 71.7,131.5 13.1,292.8 91.1,266.8 37.2,189.5 251.9,83.8 14.8,295.3 242.1,289.4 114.9,293 137.9,67.9 60.7,51.3 177.6,297.2 44.5,177.3 215.1,118.7 19.4,178.7 150.3,291.6 9.3,163.6 76.7,181.7 134.9,256.4 31.3,76.3 237.4,138.4 248.3,232.4 207.6,295.8 88.4,212.2 288.2,44.9 76.6,66.7 51.8,236.9 72.3,237.9 93.5,77.1 252.6,74.6 230.4,300.1 134.5,68 150.3,271 180.1,93.8 180.9,273.2 90,187.6 109.2,284.8 72,265.7 236.2,137 76.5,189.1 39,201.5 245.3,153.4 149.1,286.7 220.3,150.5 199.6,36.8 95.2,196.4 186.2,272.2 22,88.4 48.1,227.9 20.4,141.6 118.5,59 65.4,299.3 258.7,295.6 51.7,163.9 65.7,272.3 52.8,165.8 182.4,286.2 243.8,287.9 46.7,114.2 205.7,211 41.3,202.5 47.3,78.3 20.5,86.3 30.3,142.3 279.5,239.6 72.4,260.3 37.4,205.5 97.8,35.3 72.3,127.6 60.5,55.6 73.1,115.4 21,176 151.8,242.7 139,228 157.3,226.5 255,116.6 202.7,128.4 27.1,295.4 16.8,299.7 121.4,287.1 277.2,172.6 254.1,279.7 260.5,196.3 244.1,289.5 150.4,288.1 237.2,208.8 283.6,47.8 99.7,230.3 184.2,258.4 126.8,59.5 60.7,239.3 45.2,112.2 128.5,95.1 155.9,279.7 261.1,65.3 72.8,164.4 184.8,291.8 54,84.2 196.6,47 248,48.4 223.3,197.9 241.6,86.7 237,75.3 170.6,46 219.3,286 129.6,37.6 260.5,155.5 189.2,40.1 204,260.7 95.2,32.4 187.5,262.5 96.7,224.7 257,273.3 40.7,232.5 132,76 205.4,74.4 77.8,104.1 9.5,248.8 248.4,209.1 8.2,251.4 82.9,36.2 27.2,231.1 29.4,297.7 184.2,299.5 158.1,246.6 29.4,177.5 33.9,103.8 75.9,43 20.2,229.2 190.4,298.2 264.4,153 249.4,83.2 25.2,155 248.2,122.4 16.8,234.3 226.2,280.5 193.2,42.7 65.1,163 66.1,267.8 286.2,298.5 150.9,239.5 221.1,193.4 47.4,105.3 165.2,289.8 160.5,84.4 45.2,150.2 141.8,236.6 198.8,235.1 94.2,57.5 270.3,158.8 231.7,172.3 235.4,84.2 48.7,38.8 176.9,99.8 168.2,57.6 197,220.1 289.5,129.7 118,290.1 87,244.6 91.1,198.8 8.9,94.5 168.1,260 10.8,283 165.9,295.7 70.1,143.1 275.9,211 248.3,189.5 255,153.4 17.5,33.7 162.1,263.5 147,75.2 218.3,268.1 263.7,273 83.2,174.9 46,230.6 159.2,291.6 53.5,286.5 273.1,195.6 227,179.9 27.1,74.2 166.7,253.6 217.5,234.2 38.2,196.7 227,268.8 86.4,289 280.1,179.4 46.1,163.2 18.3,225.6 78.6,251.7 45,195.8 89.2,67.6 143,250.9 240.2,265.9 242.3,152.5 282.2,161.9 154.9,300.3 119.2,45.3 38,95.5 248.5,159.4 69.9,202 108.1,61.7 222.6,219.5 147.1,66.5 253,167.3 229,72.9 169.9,39.3 223,272.5 111.2,54.2 98.6,88.1 71.1,280.3 98.7,35.1 276.7,248.4 135.3,74.6 23.9,98.4 105.2,240 288.3,144.8 140.5,267.2 178.4,241.9 70.5,163.6 71.9,187.7 232.7,130.2 14.2,162.1 283.3,151.5 80.9,256.8 196.8,282.7 25.7,98.8 27.6,42.6 155.2,71 72.4,98.5 177.6,240.5 13.8,126.6 58.9,279.3 25.9,131.1 220.3,115.3 233.7,213.2 204.7,206.8 222.2,45.9 251.4,270.6 29.6,158.9 276.6,223.3 26.9,240 169,79.5 213.6,177.5 168.1,106.3 150.2,93.1 24.9,37.6 38.9,296.7 168.1,95.1 229.3,292.1 260.6,92.3 245.2,179.4" fill="none" stroke="none" marker-start="url(#g)" marker-mid="url(#g)" marker-end="url(#g)"/>
<polyline points="119,168.2 104.5,171 101.9,181.6 183.2,149 145.1,166.4 148.7,148.6 160.5,192.8 164.8,188.2 102.6,140.2 128,193.4 145.5,211.6 106.6,156.7 178.6,175.9 159.6,143.3 128.9,168.3 151,111.3 183.1,189.5 160.6,211 148.4,184.1 104.8,128.6 94.1,163.2 142.9,154.6 132.2,121.4 128,185.1 184.1,173.7 193.5,167 106.1,128.8 113.8,200.5 114.1,150.3 190.4,209.1 102.8,164.3 131.6,163.2 143.6,198.6 112,123.2 137.7,165.4 137.4,164.1 145.8,201.4 177.6,126.5 116.3,209.7 122.1,157.7 128.6,122.8 147,113.5 136.6,212 117.5,209.6 125.2,173.9 206.2,163.1 91,184 130.5,175 160.3,113.5 146.7,178.3 151.5,142.6 113.4,143.6 129.2,113.6 117.5,204.2 193.8,178.3 159.6,136.7 197.2,148.7 138,167.6 120.9,134.4 195,154.7 197.9,128.7 119.4,168.1 137.9,186.4 122.4,207.4 187.3,162.3 129.1,143.1 209.7,181.4 116.3,192 113.3,136.1 147.3,174.5 146.6,131.3 172.5,209.5 139.4,167.6 104.9,156.1 128.8,140.9 175.5,207.7 205.7,162.6 178.9,130.7 125.6,218.3 193.9,175.8 176.1,153.9 180.6,188.3 90.7,149.4 147.6,171.4 112.9,124.4 193.6,207.7 99.1,145.1 188.2,128 132.9,149.5 169.9,210 133.2,161 162.8,171.3 166.8,150.1 177.6,152.1 108.1,200.2 168.9,218.9 138.4,169.5 196.5,181.8 92.3,149.1 167.3,150.4 177.9,191.4 164.6,140 171.2,155 207.5,156.3 103.6,203 123.8,202.4 186.1,167.1 118.9,201.5 183,173.9 175.7,199.7 131,196.2 138.1,161.1 152,185.3 186.6,134 99.5,155 122.4,190.8 186.5,143.1 175.1,215.5 140.7,107.4 150.5,138.2 173.7,184.2 172,117.9 165.2,214.3 116,142.8 143,218.6 147.7,181.5 94,154.1 157.8,139.7 169.9,176.9 191.4,209.9 186.7,149.7 203.2,164.5 194.1,134.4 111.4,122.9 166.5,212.5 176.6,182.8 193.1,132.3 158.3,223.8 159.6,113.3 132.1,116.4 142.5,192.7 169,166.2 134.5,155.5 116,204.3 134.7,142.8 178.5,149.7 192.1,132.9 114,129.6 171.7,210.9 141.5,124 140.1,140.8 204,178 173.3,193.8 149.5,109 93.2,175.8 165.8,203.9 148,138.9 122.3,208.4 175.3,188.1 111.8,188.8 146.4,220.9 93.6,183.2 173.7,172.6 116.5,213.3 92.6,161.5 194.2,165.1 148.9,200 186.4,179.5 129.5,188.6 184.4,146.9 180,162.8 165.7,133.1 118.4,170 143.9,146.3 192.1,191 127.3,120.4 169.7,201.9 115.2,159.6 121.4,218.3 135.2,139 163.9,216.4 101.3,178.6 139.2,196.8 130.8,125.8 193.9,158.2 141.4,204.5 175.8,208.9 141,196.2 168.2,197.7 148.2,135.5 130.4,176.7 160.3,209.8 146.8,181.1 143.6,202.4 153.5,188.3 147.9,190.9 175.6,189.5 170.3,200.6 133.5,109.6 111.1,166.2 100.2,178.2 159.3,212.5 155.6,156.9 177.5,193.5 186.4,119.6 148.2,159.6 102.5,179.8 155.2,206.2 198.9,191.2 146.3,109.4 206.5,144.4 163.2,205.1 124.4,143.7 120.5,180 159.9,121.3 142.3,158.5 103.5,155.2 105.2,195.5 139.8,142.6 175.2,203.5 190.4,180.8 110.8,200 143.8,203.9 186,204.4 116.9,155.6 186.4,173.4 102.9,143.3 128.1,221.3 142.1,203.4 173.1,158.9 206,164.7 201.8,134.9 99.8,187.2 153.7,161.2 198.1,135.3 141.5,126 210,178.5 197.2,203.4 133.1,132.1 125.4,202.7 134.6,194.4 207.4,176.2 176.1,208.8 179.4,210.6 168.1,150 126.8,116.5 187.1,120.2 161,175.2 171.3,183.8 183.2,191 199.9,186.9 193.1,187.9 94.9,173.3 159.5,141.5 145.1,164.6 119,139.8 100.8,188.8 121.9,181.2 156.2,147.4 156.6,193.2 154,195.6 198.9,147.8 160.1,207.2 177.1,171.3 151.6,210.1 205.7,159.8 168.1,216 119.2,202.8 196.1,155.4 132.5,184.6 130.2,134.9 175.1,162.3 151.4,223.4 120.7,159.2 179.5,142.3 121.5,157.8 127.2,200.7 118,201.1 175.3,164 134.1,220 178,156.8 167,160.9 106.9,205.7 143.5,209 119.1,195.5 99.7,156.6 153.3,217.3 145.4,191.6 182.1,117.4 100.2,181.8 148.1,159.1 98.8,146.9 153,126.6 143.7,218.8 118.7,162.4 122.2,120.9 202.5,146 172.9,148.9 181.9,162.2 119.6,171 136.8,168 138.5,149.5 173.6,137.2 199.9,185.7 149.1,196.7 144.5,115.2 168.6,142.6 166.4,115.7 183.6,199.2 147.2,115.8 102.1,147.1 100.8,189.8 100.2,185 155.4,174.7 210.1,155.8 132.5,204.8 162,150.2 171.9,163.9 151.9,197 200,152.5 156.8,198.3 179.6,211.7 104.9,153.1 185,177.9 165.4,185.3 175.5,210.4 191.1,132.3 120,146.8 179.2,181.3 201.8,175.7 189.8,182.4 152.8,157.9 203.6,178.4 145.4,133.8 109.3,174.3 165.1,196.4 92.2,168.7 99.6,145.5 108.8,201.2 121.9,178.5 141.3,160.7 137.5,215.6 120.9,196.8 199.4,183.9 193.9,151.8 113,200.3 171.7,200.3 106.6,148.2 116.3,154.2 194.6,162.3 103,194.5 170.8,171.2 152.8,151.2 200.5,193.3 208.5,145.2 183.8,115.7 151,111.7 123.2,208.2 122.7,130.1 173.4,165.6 208.1,182.6 145.2,212 193.5,131.8 113.3,141 153.9,115.6 106.7,161.3 198.2,138.6 104.4,152.3 98.9,188.9 132.9,170.1 124.4,218.7 181.9,138.1 178.3,163.1 102.2,176.3 142.8,127.9 180.6,150 149.3,140.3 191.6,165.4 151.4,149.1 156,148.7 200.9,170.1 156.5,199.2 175.6,207.5 143.4,172.8 111.6,169.9 155.8,159.2 203.7,161.8 161.9,146.3 202.6,152 97.6,186.7 113.4,164.8 98.2,133.6 191.3,145.4 194.9,159 164.8,189 138,113.7 201.4,148.8 118.8,129.3 171.6,130.6 177.9,174.1 96.9,168.9 180.4,148.1 141,117.3 194.4,140.1 183.6,122.2 166.8,188.5 160.1,125.2 101.4,200 181.2,192.2 179.5,187.1 147.5,174.5 201.7,190.3 117.9,168.7 145.8,213.6 180.9,191.2 167.4,156.4 123.5,206.6 171.7,133.2 120.9,117 119.1,180.8 135.5,133 135.3,138.4 137.8,110 191.1,156.9 164.1,221.9 206.2,177.8 188.1,189.7 189.8,133.9 153.9,156.6 169.6,194.4 191.4,149.5 116.3,201.2 143.6,131.6 182.6,198.2 115.8,148.9 100.2,164.8 122.7,174.5 114.3,121.9 96.9,193.4 132.1,191 121.7,147.9 97.5,137.2 112.3,167.8 150.9,132.1 176.6,190.6 179.1,166.1 147.2,189.5 125.4,173.2 151,170.3 175.2,144.8 196.7,164.9 196.1,203.7 124.4,167.5 144.7,174.2 138.1,155.2 209.6,162.3 92.6,175.1 165.3,180.7 156.7,175.3 98.4,188.1 132.2,217.1 145.5,216.2 154.4,147.1 190.3,194.2 180.5,181.6 135.8,182.7 129,169.7 185,128.8 109.9,169.9 167.7,214 146.6,189.6 142.7,162 113.6,131.8 160.7,180 179,217.5 160.3,204.5 137.1,132.1 202.9,188.5 152.3,184.9 169.2,163.5 154.1,142.4 170.9,116.6 144.5,151 203.7,139.6 109.7,164.8 173.1,208.6 179.3,145.5 101.4,173.6 109.7,165.1 195.8,159.4 146.3,197.1 145.4,148.8 102.4,148.7 192.5,176 112.5,193.1 124,148.6 160.7,110.5 164.8,148.7 182.4,214.5 163.4,200.3 146.1,155.8 117,180.4 168.1,202.7 138.2,172.5 120.9,171.6 130.2,190.8 134.8,133.4 204.4,146 128.6,210.3 129.3,140.6 117.2,160.4 143.1,111.8 114.9,188.9 141.5,157.2 148,212.6 198.7,202.2 129.1,202 210.1,157.2 167,136.7 152,107.4 118.1,203.3 132.2,197.2 99.2,193.8 170.6,196 127.4,207.3 148.5,162.2 176.2,135.2 173,188.8 192.9,135.5 130,198.6 138.8,213.1 137.9,145.7 176.4,172.3 112.1,197.7 162,212.7 171.1,197.4 190.4,185 178.2,133.5 169.4,169.7 186.5,128.8 108.2,165.7 199,171.8 117.8,170.3 168.2,174.1 170.7,126.5 130.4,206.8 135.8,144.9 168.4,137.6 137.4,116.8 87.7,170.1 106.5,149.1 187.3,130.2 166,167.3 157.5,164.3 177.6,134.1 131.9,191.3 170.8,145.7 161.3,121.1 125.6,168.1 167,149 177.3,146.1 163.9,134.3 175.6,116.7 156.6,141.2 126.6,158.9 183.6,124.8 129.1,125.6 174.4,176 173.1,111.3 116.5,202.3 207.6,172.4 184.2,126.8 147.1,128.6 204.9,188.3 139.3,160.2 196,174.4 135.9,202.5 118.7,148.6 126.3,180.8 127.6,125.9 153.3,160.5 141.6,191.6 159.9,136.1 176.4,153.9 167.2,157.3 200,156.9 120.1,170.7 110.3,168.8 175.7,164 126,133.4 117.1,131.8 169.5,147.9 166.2,163.2 185,199.2 174.8,178.5 206,156.4 114.1,173.5 180.2,214.5 189.2,146.2 161.9,132.1" fill="none" stroke="none" marker-start="url(#r)" marker-mid="url(#r)" marker-end="url(#r)"/>
<path d="M145.7 165.9h8.6M150 161.6v8.6" stroke="#000" stroke-width="2.2" fill="none"/>
</g>
<rect x="101.1" y="41.7" width="103.9" height="39.8" rx="2" fill="#fff" fill-opacity="0.83" stroke="#cfcfcf" stroke-width="1"/>
<text x="108.1" y="71" font-size="24" text-anchor="start" textLength="11.5" lengthAdjust="spacingAndGlyphs" font-style="italic">d</text>
<path d="M112.1 52.4L115.7 46.6L119.3 52.4" fill="none" stroke="#000" stroke-width="1.5" stroke-linejoin="miter"/>
<path d="M128.1 61.6h14.6M128.1 66.4h14.6" stroke="#000" stroke-width="1.9" fill="none"/>
<text x="150.3" y="71" font-size="24" text-anchor="start" textLength="48.8" lengthAdjust="spacingAndGlyphs">1.98</text>
<rect x="10.6" y="263.5" width="139" height="34.9" rx="2" fill="#fff" fill-opacity="0.83" stroke="#cfcfcf" stroke-width="1"/>
<text x="17.3" y="287.9" font-size="24" text-anchor="start" textLength="125.8" lengthAdjust="spacingAndGlyphs">uniform 2D</text>
<rect x="7.85" y="30.5" width="284.2" height="270.2" fill="none" stroke="#000" stroke-width="1.5"/>
<path d="M7.8 300.7v6.0M7.8 30.5h-6.0M78.9 300.7v6.0M7.8 98h-6.0M150 300.7v6.0M7.8 165.6h-6.0M221 300.7v6.0M7.8 233.1h-6.0M292.1 300.7v6.0M7.8 300.7h-6.0" stroke="#000" stroke-width="1.5" fill="none"/>
<g clip-path="url(#cr0)">
<path d="M388.4 30.5V300.7M487.3 30.5V300.7M586.1 30.5V300.7M349.1 246.7H633.3M349.1 192.6H633.3M349.1 138.6H633.3M349.1 84.5H633.3" stroke="#ababab" stroke-width="1.35" fill="none"/>
<path d="M349.1 192.6H633.3" stroke="#9e9e9e" stroke-width="2.2" stroke-dasharray="8.9 3.9" fill="none"/>
<polygon points="349.1,-76 350.1,-76.2 351.1,-75.8 352.1,-72.5 353.1,-69.5 354.1,-69.1 355.1,-67.9 356.1,-65.6 357.1,-63.8 358.1,-63 359.1,-60.7 360.1,-55.9 361.1,-53.9 362.1,-52.5 363.1,-48.5 364.1,-45.8 365.1,-44 366.1,-42.4 367.1,-39.8 368.1,-35.6 369.1,-32.9 370.1,-31.5 371.1,-26.7 372.1,-22.6 373.1,-18.1 374.1,-12.6 375.1,-7.1 376.1,-0.6 377.1,5.6 378.1,11.2 379.1,17.8 380.1,23.9 381.1,28.6 382.1,33.6 383.1,39.6 384.1,46 385.1,53.1 386.1,59 387.1,65 388.1,70.6 389.1,71.8 390.1,68.3 391.1,63.7 392.1,58.8 393.1,65.9 394.1,74.4 395.1,81.2 396.1,87.8 397.1,89.7 398.1,91.9 399.1,93 400.1,95.6 401.1,98.9 402.1,99.6 403.1,99.1 404.1,99.6 405.1,101.8 406.1,103.7 407.1,104.4 408.1,105.1 409.1,105.1 410.1,102.7 411.1,101.1 412.1,103.3 413.1,105.9 414.1,107.3 415.1,109.2 416.1,110.7 417.1,112.7 418.1,116.1 419.1,118.8 420.1,120.4 421.1,122.9 422.1,125.4 423.1,126.1 424.1,127.3 425.1,128.9 426.1,130.3 427.1,131.3 428.1,133 429.1,134.8 430.1,135.6 431.1,135.3 432.1,135.8 433.1,137.8 434.1,139.3 435.1,139.3 436.1,138.8 437.1,139.2 438.1,140.3 439.1,140 440.1,140 441.1,141 442.1,140.4 443.1,139.5 444.1,138.1 445.1,136.4 446.1,139.4 447.1,143.5 448.1,145.8 449.1,147.2 450.1,148.5 451.1,150.2 452.1,152.1 453.1,153.5 454.1,154.7 455.1,155.7 456.1,156.5 457.1,158.1 458.1,159.1 459.1,159.4 460.1,160.3 461.1,161.4 462.1,162.1 463.1,161.9 464.1,160.8 465.1,160.8 466.1,161.6 467.1,161.1 468.1,160.6 469.1,160.9 470.1,162.9 471.1,164.8 472.1,166.1 473.1,167.8 474.1,169.2 475.1,169.3 476.1,169.5 477.1,170.3 478.1,171.4 479.1,172.2 480.1,172.3 481.1,172.9 482.1,173.6 483.1,174.3 484.1,174.7 485.1,174.4 486.1,174.6 487.1,174.9 488.1,175.4 489.1,175.5 490.1,175 491.1,174.8 492.1,174.3 493.1,173.8 494.1,173.5 495.1,173.7 496.1,173.7 497.1,173.6 498.1,174.1 499.1,174.7 500.1,174.3 501.1,173.7 502.1,174 503.1,175 504.1,175.5 505.1,175.3 506.1,174.9 507.1,174.6 508.1,175 509.1,176 510.1,176.3 511.1,176.9 512,177.7 513,176.9 514,177.1 515,177 516,175.9 517,175.2 518,174.8 519,174.7 520,174.7 521,174.8 522,174.6 523,174.6 524,175.1 525,174.8 526,174.6 527,174.9 528,174.5 529,174.4 530,174.8 531,175.1 532,174.9 533,175.2 534,176 535,176.3 536,177.1 537,178.2 538,179.1 539,180.4 540,181.6 541,181.7 542,182.4 543,183.1 544,183.2 545,183.1 546,183.2 547,184.2 548,184.9 549,184.5 550,184.8 551,185.4 552,184.9 553,184.8 554,185.1 555,184.8 556,184.7 557,184.6 558,184.7 559,185 560,184.7 561,184.1 562,184.1 563,184.4 564,184.5 564.2,184.4 564.2,200.6 564,200.6 563,200.9 562,201.1 561,201 560,201.3 559,201.4 558,201.2 557,201.5 556,201.7 555,201.7 554,201.8 553,202.1 552,202.3 551,202.3 550,202.4 549,202.4 548,202.4 547,202.7 546,202.9 545,202.8 544,202.8 543,202.9 542,203.3 541,203.4 540,203.5 539,203.8 538,203.9 537,204 536,204.5 535,204.7 534,204.5 533,204.4 532,204.6 531,204.9 530,205.1 529,205.2 528,205.3 527,205.5 526,205.7 525,205.7 524,205.7 523,206.3 522,206.7 521,206.4 520,206.4 519,206.9 518,207.1 517,207.3 516,207.2 515,206.8 514,206.9 513,207.4 512,207.7 511.1,207.6 510.1,207.6 509.1,208.1 508.1,208.7 507.1,208.6 506.1,208.5 505.1,209 504.1,209.1 503.1,209 502.1,209.1 501.1,209.2 500.1,209.6 499.1,210.1 498.1,209.9 497.1,209.9 496.1,210.5 495.1,211.1 494.1,210.9 493.1,210.2 492.1,210.6 491.1,211.7 490.1,211.7 489.1,211.2 488.1,211.1 487.1,211.5 486.1,211.7 485.1,211.7 484.1,212.1 483.1,212.6 482.1,212.6 481.1,212.8 480.1,213.4 479.1,213.3 478.1,212.7 477.1,212.3 476.1,211.8 475.1,211 474.1,210.1 473.1,210.1 472.1,210.5 471.1,210.8 470.1,211 469.1,212 468.1,212.9 467.1,212.6 466.1,212.5 465.1,213.5 464.1,214 463.1,214.3 462.1,214.5 461.1,214.4 460.1,214.6 459.1,215 458.1,215.6 457.1,215.8 456.1,215.7 455.1,216.6 454.1,217.7 453.1,218.2 452.1,218.3 451.1,218.2 450.1,218.1 449.1,218.6 448.1,219 447.1,218.5 446.1,217.8 445.1,217.6 444.1,217.7 443.1,218 442.1,218.9 441.1,219.4 440.1,220 439.1,220.8 438.1,220.9 437.1,221.5 436.1,222.2 435.1,222.7 434.1,223 433.1,223.1 432.1,223.1 431.1,223.5 430.1,224.5 429.1,225.7 428.1,226.7 427.1,227.6 426.1,227.5 425.1,227.2 424.1,228 423.1,227 422.1,225 421.1,225.1 420.1,225.8 419.1,226.9 418.1,227.6 417.1,228 416.1,228.2 415.1,227.8 414.1,227.7 413.1,228.5 412.1,229.1 411.1,229.2 410.1,229.6 409.1,230.1 408.1,230.5 407.1,231.7 406.1,232.6 405.1,232.7 404.1,233.2 403.1,233.6 402.1,233.6 401.1,233.3 400.1,233.6 399.1,234.9 398.1,235.6 397.1,235.5 396.1,235.1 395.1,235.1 394.1,235.5 393.1,236.1 392.1,236.4 391.1,237.5 390.1,239.3 389.1,239.9 388.1,240.2 387.1,240.2 386.1,239 385.1,238.6 384.1,239.9 383.1,240.3 382.1,239.8 381.1,239.6 380.1,238.3 379.1,237.2 378.1,237.2 377.1,237.5 376.1,236.8 375.1,235.7 374.1,236.9 373.1,238.2 372.1,238.4 371.1,238.2 370.1,237.1 369.1,236 368.1,235.7 367.1,235.8 366.1,236.4 365.1,238.1 364.1,239.4 363.1,239.1 362.1,239.1 361.1,240.4 360.1,241.4 359.1,241.1 358.1,241.9 357.1,243.7 356.1,244.4 355.1,244 354.1,243.2 353.1,243.2 352.1,244.6 351.1,246.2 350.1,246.7 349.1,246.6" fill="#d1283f" fill-opacity="0.26" stroke="#d1283f" stroke-opacity="0.4" stroke-width="1.2" stroke-linejoin="round"/>
<polygon points="564.2,184.6 565.2,184.8 566.2,184.2 567.2,184 568.2,184.3 569.2,184.1 570.2,183.8 571.2,184 572.2,184.3 573.2,184.7 574.2,185 575.2,185.2 576.2,185.7 577.2,185.9 578.2,186 579.2,186.3 580.2,185.9 581.2,185.5 582.2,186.1 583.2,186.7 584.2,186.5 585.2,186.2 586.2,186.5 587.2,187 588.2,187.3 589.2,187 590.2,186.7 591.2,186.6 592.2,186.6 593.2,187.3 594.2,188.3 595.2,188.6 596.2,188.4 597.2,188.2 598.2,188.1 599.2,188 600.2,188.1 601.2,188.3 602.2,188.3 603.2,188.8 604.2,188.9 605.2,188.3 606.2,188.1 607.2,188.6 608.2,189.4 609.2,190.1 610.2,190.1 611.2,189.7 612.2,189.1 613.2,188.7 614.2,188.5 615.2,188.5 616.2,188.9 617.2,189.3 618.2,189.6 619.2,189.8 620.2,189.8 621.2,189.5 622.2,189.5 623.2,189.8 624.2,189.9 625.2,189.5 626.2,189.3 627.2,189.5 628.2,189.7 629.2,189.9 630.2,190 631.2,190 632.2,190.1 633.2,190 633.3,189.9 633.3,196.3 633.2,196.3 632.2,196.3 631.2,196.6 630.2,196.8 629.2,196.6 628.2,196.4 627.2,196.4 626.2,196.5 625.2,196.6 624.2,196.6 623.2,196.6 622.2,196.6 621.2,196.7 620.2,196.9 619.2,197.1 618.2,197.1 617.2,197.2 616.2,197.1 615.2,197.1 614.2,197.5 613.2,197.7 612.2,197.7 611.2,197.6 610.2,197.3 609.2,197.2 608.2,197.3 607.2,197.2 606.2,197.6 605.2,197.9 604.2,197.7 603.2,197.6 602.2,197.8 601.2,198.1 600.2,198.4 599.2,198.2 598.2,197.8 597.2,197.9 596.2,198 595.2,198 594.2,198 593.2,198.2 592.2,198.3 591.2,198.4 590.2,198.6 589.2,198.9 588.2,198.9 587.2,198.7 586.2,198.7 585.2,198.6 584.2,198.6 583.2,199 582.2,199.5 581.2,199.3 580.2,198.9 579.2,199.1 578.2,199.5 577.2,199.6 576.2,199.5 575.2,199.4 574.2,199.5 573.2,199.6 572.2,199.8 571.2,200 570.2,200.2 569.2,200 568.2,200 567.2,200.6 566.2,201.1 565.2,200.8 564.2,200.4" fill="#505050" fill-opacity="0.3" stroke="#505050" stroke-opacity="0.55" stroke-width="1.2" stroke-linejoin="round"/>
<polyline points="350.4,103.5 358.6,130.5 366.5,150.5 373.1,175.9 378.8,178.6 383.9,177.5 388.4,175.9 392.5,185.1 396.2,180.2 399.7,183.4 402.8,180.7 405.8,186.1 408.6,184.5 411.2,186.7 413.6,184.5 416,187.2 418.2,186.7 420.3,188.3 422.2,187.8 424.2,188.5 426,188.4 427.7,187.8 429.4,188.2 431,189.2 432.6,191.2 434.1,191.9 435.6,191.4 437,190.1 438.3,189.9 439.7,189.7 440.9,190.1 442.2,189.9 443.4,190.4 444.6,190.9 445.7,190.8 446.8,191.1 447.9,191.4 449,192.3 450,191.7 451,191.3 452,191.3 453,192.2 453.9,193 454.8,193.7 455.7,193.2 456.6,192.4 457.5,192.7 458.3,192.5 459.2,193.2 460,192.9 460.8,192 461.6,192.5 462.4,192.7 463.1,192.4 463.9,192.5 464.6,191.6 465.3,192.6 466,193.2 466.7,192.8 467.4,193.2 468.1,192 468.8,191.2 469.4,191.2 470.1,191.3 470.7,192 471.3,193 471.9,193.1 472.6,193.6 473.2,192.8 473.7,191.5 474.3,190.7 474.9,190.7 475.5,191.8 476,191.8 476.6,191.9 477.1,192 477.7,192.8 478.2,193.4 478.7,192.8 479.3,192.2 479.8,191.5 480.3,191.6 480.8,191.7 481.3,191.9 481.8,192.5 482.3,192.2 482.7,192 483.2,191.5 483.7,191.6 484.1,191.9 484.6,191.8 485.1,192.1 485.5,192.6 486,192.9 486.4,192.9 486.8,192.5 487.3,192.7 487.7,192.6 488.1,192.6 488.5,192.6 488.9,192.1 489.4,192.2 489.8,191.6 490.2,191.2 490.6,191.2 491,191.2 491.4,191.9 491.7,192.7 492.1,192.8 492.5,192.6 492.9,192.3 493.3,192 493.6,192.1 494,192.5 494.4,192.8 494.7,192.9 495.1,192.7 495.4,192.4 495.8,192.4 496.1,192.2 496.5,192.3 496.8,192.6 497.2,193.1 497.5,193.4 497.9,193.4 498.2,192.9 498.5,192.3 498.9,192.2 499.2,192 499.5,191.9 499.8,191.8 500.1,192.1 500.5,192.8 500.8,193.5 501.1,193.5 501.4,193 501.7,192.9 502,193.1 502.3,193 502.6,192.6 502.9,192 503.2,192 503.5,192.8 503.8,193.4 504.1,193.8 504.4,193.6 504.7,193.3 505,193 505.2,192.8 505.5,192.8 505.8,192.6 506.1,192.1 506.4,192 506.6,192.2 506.9,192.9 507.2,193.6 507.4,193.5 507.7,193.3 508,193.1 508.2,192.9 508.5,192.9 508.8,192.6 509,192.3 509.3,192.5 509.5,192.7 509.8,193.2 510,193.3 510.3,192.9 510.5,193.2 510.8,193.2 511,193.4 511.3,193.7 511.5,193.2 511.8,193 512,192.8 512.3,192.9 512.5,193.2 512.7,193 513,192.9 513.2,193.1 513.4,193.5 513.7,193.6 513.9,193.1 514.1,192.7 514.4,192.7 514.6,193.3 514.8,193.6 515,193.7 515.3,193.5 515.5,193.1 515.7,193.1 515.9,192.8 516.2,192.8 516.4,192.9 516.6,192.9 516.8,192.7 517,192.5 517.2,192.5 517.5,192.8 517.7,192.7 517.9,192.5 518.1,192.5 518.3,192.7 518.5,193.2 518.7,193.1 518.9,193.1 519.1,193.3 519.3,193.3 519.5,193.6 519.7,193.6 519.9,193.3 520.1,193 520.3,193 520.5,193 520.7,193.5 520.9,193.7 521.1,193.7 521.3,193.6 521.5,193.4 521.7,193.4 521.9,193.5 522.1,193.4 522.3,193.3 522.5,192.9 522.6,192.4 522.8,192.4 523,192.6 523.2,192.9 523.4,193.3 523.6,193.5 523.8,193.5 523.9,193.3 524.1,192.9 524.3,192.8 524.5,193.1 524.7,193.2 524.9,193.3 525,193.2 525.2,193.2 525.4,193.2 525.6,193.2 525.7,193.2 525.9,193 526.1,192.8 526.3,192.7 526.4,192.8 526.6,193 526.8,193.2 526.9,193.6 527.1,193.9 527.3,194.1 527.5,193.9 527.6,193.7 527.8,193.8 528,193.8 528.1,193.8 528.3,193.5 528.5,193.1 528.6,193.1 528.8,193.2 528.9,193.3 529.1,193.2 529.3,193.1 529.4,192.8 529.6,192.7 529.7,193 529.9,193.5 530.1,193.7 530.2,193.5 530.4,193.3 530.5,193.1 530.7,193.2 530.9,193.1 531,192.9 531.2,192.9 531.3,192.8 531.5,193.1 531.6,193.5 531.8,193.6 531.9,193.5 532.1,193.4 532.2,193.2 532.4,193.1 532.5,193 532.7,192.8 532.8,192.9 533,193.3 533.1,193.3 533.3,193.2 533.4,193.1 533.6,193.1 533.7,193.6 533.9,194 534,194.2 534.1,193.9 534.3,193.7 534.4,193.5 534.6,193.4 534.7,193.4 534.9,193.5 535,193.7 535.1,193.5 535.3,193.4 535.4,193.2 535.6,193.5 535.7,193.5 535.8,193.4 536,193.3 536.1,193.2 536.3,193.4 536.4,193.6 536.5,193.8 536.7,193.8 536.8,193.7 536.9,193.8 537.1,193.7 537.2,193.8 537.3,193.8 537.5,193.6 537.6,193.4 537.7,193.3 537.9,193.2 538,193.5 538.1,193.5 538.3,193.3 538.4,193.2 538.5,193.2 538.7,193.4 538.8,193.5 538.9,193.3 539,193.3 539.2,193.1 539.3,193 539.4,193.1 539.6,193.5 539.7,194 539.8,194.3 539.9,194.2 540.1,194.1 540.2,193.9 540.3,193.9 540.4,193.9 540.6,193.8 540.7,193.9 540.8,193.8 540.9,193.8 541.1,193.8 541.2,193.6 541.3,193.6 541.4,193.5 541.5,193.3 541.7,193.4 541.8,193.6 541.9,193.4 542,193.4 542.1,193.3 542.3,193.4 542.4,193.6 542.5,193.4 542.6,193.3 542.7,193.4 542.9,193.6 543,193.4 543.1,193.4 543.2,193.4 543.3,193.5 543.4,193.7 543.6,193.6 543.7,193.4 543.8,193.4 543.9,193.5 544,193.5 544.1,193.6 544.2,193.5 544.4,193.2 544.5,193.2 544.6,193.2 544.7,193.4 544.8,193.5 544.9,193.4 545,193.4 545.1,193.4 545.3,193.3 545.4,193.2 545.5,193.2 545.6,193.4 545.7,193.6 545.8,193.7 545.9,193.7 546,193.9 546.1,194 546.2,194.1 546.4,194 546.5,193.7 546.6,193.4 546.7,193.3 546.8,193.2 546.9,193.3 547,193.4 547.1,193.5 547.2,193.6 547.3,193.6 547.4,193.6 547.5,193.6 547.6,193.7 547.7,194 547.8,194.2 547.9,194.1 548.1,193.8 548.2,193.4 548.3,193.3 548.4,193.4 548.5,193.4 548.6,193.5 548.7,193.6 548.8,193.7 548.9,193.5 549,193.4 549.1,193.6 549.2,193.5 549.3,193.6 549.4,193.5 549.5,193.7 549.6,193.8 549.7,193.6 549.8,193.5 549.9,193.5 550,193.4 550.1,193.5 550.2,193.5 550.3,193.5 550.4,193.8 550.5,193.8 550.6,193.7 550.7,193.7 550.8,193.6 550.9,193.6 551,193.4 551.1,193.4 551.2,193.6 551.3,193.8 551.4,194.1 551.5,193.9 551.6,193.8 551.7,193.6 551.7,193.5 551.8,193.4 551.9,193.5 552,193.5 552.1,193.7 552.2,193.8 552.3,193.8 552.4,193.7 552.5,193.6 552.6,193.4 552.7,193.3 552.8,193.3 552.9,193.2 553,193.2 553.1,193.2 553.2,193.5 553.3,193.9 553.3,193.9 553.4,193.5 553.5,193.1 553.6,193.1 553.7,193.2 553.8,193.3 553.9,193.4 554,193.4 554.1,193.3 554.2,193.3 554.3,193.4 554.3,193.5 554.4,193.6 554.5,193.3 554.6,193.3 554.7,193.5 554.8,193.8 554.9,193.9 555,193.9 555.1,193.9 555.1,193.9 555.2,193.8 555.3,193.6 555.4,193.3 555.5,193 555.6,193.1 555.7,193.3 555.8,193.6 555.8,193.7 555.9,193.3 556,193.2 556.1,193.1 556.2,193.1 556.3,193.1 556.4,193.2 556.5,193.4 556.5,193.6 556.6,193.6 556.7,193.5 556.8,193.4 556.9,193.1 557,193 557,193 557.1,193 557.2,193.1 557.3,193.1 557.4,193.2 557.5,193.5 557.6,193.6 557.6,193.6 557.7,193.6 557.8,193.7 557.9,194 558,193.9 558.1,193.7 558.1,193.7 558.2,193.6 558.3,193.6 558.4,193.5 558.5,193.4 558.5,193.4 558.6,193.4 558.7,193.4 558.8,193.5 558.9,193.7 558.9,193.7 559,193.5 559.1,193.5 559.2,193.7 559.3,193.9 559.4,194.1 559.4,194.2 559.5,194.3 559.6,194.3 559.7,193.9 559.8,193.5 559.8,193.2 559.9,193.2 560,193.2 560.1,193.3 560.1,193.4 560.2,193.6 560.3,193.7 560.4,193.9 560.5,194 560.5,194.1 560.6,194 560.7,193.8 560.8,193.6 560.8,193.5 560.9,193.5 561,193.4 561.1,193.5 561.2,193.6 561.2,193.6 561.3,193.6 561.4,193.7 561.5,193.5 561.5,193.5 561.6,193.4 561.7,193.4 561.8,193.6 561.8,193.8 561.9,193.9 562,193.9 562.1,193.7 562.1,193.4 562.2,193.5 562.3,193.7 562.4,193.9 562.4,193.8 562.5,193.6 562.6,193.5 562.7,193.6 562.7,193.9 562.8,193.9 562.9,193.9 563,193.9 563,193.9 563.1,193.8 563.2,193.7 563.3,193.6 563.3,193.7 563.4,193.6 563.5,193.7 563.5,193.4 563.6,193.4 563.7,193.7 563.8,193.7 563.8,193.9 563.9,193.9 564,193.8 564.1,194.1 564.1,194.1 564.2,194" fill="none" stroke="none" marker-start="url(#m)" marker-mid="url(#m)" marker-end="url(#m)"/>
<polyline points="564.2,193.7 565.7,193.7 567.2,193.7 568.7,193.7 570.2,193.7 571.7,193.7 573.2,193.7 574.7,193.7 576.2,193.7 577.7,193.7 579.2,193.7 580.7,193.7 582.2,193.7 583.7,193.7 585.2,193.7 586.7,193.7 588.2,193.7 589.7,193.7 591.2,193.7 592.7,193.7 594.2,193.7 595.7,193.7 597.2,193.7 598.7,193.7 600.2,193.7 601.7,193.7 603.2,193.7 604.7,193.7 606.2,193.7 607.7,193.7 609.2,193.7 610.7,193.7 612.2,193.7 613.7,193.7 615.2,193.7 616.7,193.7 618.2,193.7 619.7,193.7 621.2,193.7 622.7,193.7 624.2,193.7 625.7,193.7 627.2,193.7 628.7,193.7 630.2,193.7 631.7,193.7 633.2,193.7 633.3,193.7" fill="none" stroke="#000" stroke-width="3" stroke-linecap="butt" stroke-linejoin="round"/>
</g>
<rect x="351.9" y="263.5" width="139" height="34.9" rx="2" fill="#fff" fill-opacity="0.9" stroke="#cfcfcf" stroke-width="1"/>
<text x="358.6" y="287.9" font-size="24" text-anchor="start" textLength="125.8" lengthAdjust="spacingAndGlyphs">uniform 2D</text>
<rect x="349.05" y="30.5" width="284.2" height="270.2" fill="none" stroke="#000" stroke-width="1.5"/>
<path d="M633.3 300.7h6.0M633.3 246.7h6.0M633.3 192.6h6.0M633.3 138.6h6.0M633.3 84.5h6.0M633.3 30.5h6.0M388.4 300.7v6.0M487.3 300.7v6.0M586.1 300.7v6.0M349.1 300.7v3.6M358.6 300.7v3.6M366.5 300.7v3.6M373.1 300.7v3.6M378.8 300.7v3.6M383.9 300.7v3.6M418.2 300.7v3.6M435.6 300.7v3.6M447.9 300.7v3.6M457.5 300.7v3.6M465.3 300.7v3.6M471.9 300.7v3.6M477.7 300.7v3.6M482.7 300.7v3.6M517 300.7v3.6M534.4 300.7v3.6M546.8 300.7v3.6M556.4 300.7v3.6M564.2 300.7v3.6M570.8 300.7v3.6M576.5 300.7v3.6M581.6 300.7v3.6M615.9 300.7v3.6M633.3 300.7v3.6" stroke="#000" stroke-width="1.5" fill="none"/>
<text x="645.6" y="310.2" font-size="24" text-anchor="start" textLength="12.2" lengthAdjust="spacingAndGlyphs">0</text>
<text x="645.6" y="256.2" font-size="24" text-anchor="start" textLength="12.2" lengthAdjust="spacingAndGlyphs">1</text>
<text x="645.6" y="202.1" font-size="24" text-anchor="start" textLength="12.2" lengthAdjust="spacingAndGlyphs">2</text>
<text x="645.6" y="148.1" font-size="24" text-anchor="start" textLength="12.2" lengthAdjust="spacingAndGlyphs">3</text>
<text x="645.6" y="94" font-size="24" text-anchor="start" textLength="12.2" lengthAdjust="spacingAndGlyphs">4</text>
<text x="645.6" y="40" font-size="24" text-anchor="start" textLength="12.2" lengthAdjust="spacingAndGlyphs">5</text>
<text transform="translate(682.0 166.1) rotate(-90)" font-size="24" text-anchor="middle" textLength="233.7" lengthAdjust="spacingAndGlyphs">estimated dimension</text>
<text x="150.3" y="345" font-size="26" text-anchor="middle" textLength="36.6" lengthAdjust="spacingAndGlyphs">(c)</text>
<text x="491.1" y="345" font-size="26" text-anchor="middle" textLength="39" lengthAdjust="spacingAndGlyphs">(d)</text>
<g clip-path="url(#cl1)">
<polyline points="274.2,384.8 196.5,442.3 60.3,572.9 65,568.9 250,400.1 35.9,592.1 48.8,580.8 27.8,605.8 200.8,442.7 234.5,412 197.4,448.2 23.9,605.7 239,400.5 14.9,614.6 193.8,442.5 27,603 291.7,361.7 52.3,582.6 254.4,390.5 106.7,534.2 8.9,618.5 123.6,521.3 264,388.1 76.4,560.9 210.3,434.2 42.3,592.4 109.3,526.3 186.1,450.9 79.6,557 35.5,595.1 82.3,548.5 38.8,588.1 115.2,522.6 206.5,433.9 50.9,580.2 215,431.8 248.1,396.6 24.6,613.3 218.3,422.8 274.5,375.5 8.4,358 186.8,460.4 104.3,523.3 53.2,580.6 76.2,564.5 239.2,406 30.3,600.7 214.4,428.2 220.2,424 266.7,373.3 257.3,386.5 116.4,529.5 72,557.1 89.7,549.4 98.4,540.1 270.3,375.9 263.7,377.9 119.3,510.1 64.2,587.4 126,505 247.8,403.4 54.8,578 85.9,556.5 237.8,402.2 206.7,430.7 201.1,442.5 181,466.2 176.8,470 278.1,366.1 228.9,421.7 192.6,443.5 218.1,421.3 241.2,398.9 205.5,430.6 202.5,438.5 249.8,389.6 112.4,525 77.2,551.4 39.6,604 207.2,422.2 91.7,541.4 177,462.1 70.2,566.4 245.3,399.3 53.2,593.2 53.1,585 106.6,529.2 26.8,608.1 22.3,619.6 64.9,569.5 233.8,399.2 64.2,570.5 175.2,470.5 251.9,395.8 246.5,399.6 37.7,589.9 270.6,373.6 43.4,598 9.4,362.4 250.5,397.1 249.5,402.9 193.7,448.4 211.6,429.4 240.2,410.4 14.8,619.1 69.3,567.4 96,544.6 39.6,593.6 265.9,386.6 77,559 180.2,469.3 178.7,457.9 207.5,438.3 55,583.7 220.2,423.4 83.3,558.8 119.9,523.7 227.7,421.9 170.7,462.5 172.3,461.9 87.9,549.1 31.8,594.8 253.7,384.6 68.6,577.9 256.6,385 95.8,545.9 253.1,396.3 207.3,443.8 76.1,560.9 78.1,570.1 214.3,430 105.1,528.9 212.8,430.9 174.5,465.7 98.9,535.6 96.5,535 70.9,560.5 119.8,520.5 74.4,562.1 74.6,562.5 223.6,427 33.5,600.3 27.4,608.1 233.7,410.5 238,404.4 74.7,559.5 198.6,444.2 182.4,462.4 36,601.8 185.3,451.3 246.9,398 172.8,457.8 108.1,529.1 195.1,453.1 226.2,411.2 208.9,429 244.2,401.8 63.4,582.2 182.1,459.8 286.1,365.2 73.6,560.3 56.8,583.9 22.6,608.9 66.6,575.9 193.7,440.4 238.2,414.1 270.7,376.5 52.1,583.9 226.4,425.6 267.6,379.3 290.8,360 271,385.2 216.1,436 52.3,584 75.4,556.6 233,413.1 287.7,357.9 61.8,577.9 104.3,530.6 274.5,373.5 54.5,580.3 255.1,387.8 247.8,400.7 221.6,416.7 61,583.4 41.8,589.1 77.5,555.2 85.7,552 64.5,564.3 54.8,585.8 284,363.4 110.8,530.9 268.3,372.5 51.8,585.6 76.1,565 24.4,613.2 259.5,385.6 129,512.2 252.9,393.9 103.7,530.9 67.5,570.1 31.1,603.1 269.9,390.7 83.7,554.6 207.6,431.1 19.6,613.1 195.2,449.4 291.4,622.2 42.9,595.1 79.3,551.9 231.7,425.3 175,465.1 242.8,405.9 283.1,362.5 194.3,448.7 192.8,453.3 24.5,616.9 49.4,586.7 236.2,408.9 241.4,404.9 43.8,590.8 77.9,567.2 99,534.1 227.4,422.1 271.5,380.1 63.7,575.4 291.1,361 44.4,589.8 99.4,531.6 57.1,560.3 62,578.2 123.5,509.7 72,570.4 77.4,559.5 248,397.1 221.7,423.4 288.6,365.2 102.6,535.5 197.8,442.7 231.8,420.1 73.1,556.3 121.1,523.5 12,623.3 82.3,560 185.4,456.2 112.1,529.5 98.7,536.5 27.2,606 102.3,535.2 18.7,621.4 93.2,546.7 207.9,438.5 190.8,447 249.3,396.5 128,513.6 121.7,513 32.3,599.6 17.9,612.1 116.7,520.6 181.2,461.9 63.5,574.7 130.1,510.3 80.6,555.8 231.9,414 105.2,538.6 193.5,452.5 226.9,423.6 85.8,545.9 48.8,583.7 54.2,584.9 273.4,370.6 55.4,580.3 254,390 223.3,422.7 268.4,379.8 229.1,407.6 90,555.3 223.5,419 51.5,580.3 191.5,443.3 66.5,568.8 25.1,620.5 251.7,390 289.9,356.2 274,375.4 91.5,557.4 74,556.5 245.8,394.7 82.5,556.2 124.4,508.8 76,568.6 97.6,540.8 217.1,433.7 105.8,535.9 227.5,418.5 180.7,465 35.1,600.6 46.7,584.3 114.5,523.5 58.3,575 207.2,436.9 175.4,461.7 264.4,374.9 240.8,408 120.1,517 226.1,419.5 230.8,416.1 260.9,383.1 193.3,443.3 275.1,367.7 264.6,374.6 11.9,622.4 8.2,624.8 87.3,545 180.9,456.2 242.5,402 266,378.6 61.7,580.1 20.3,613.2 29.7,609 14,614.5 213.9,436 104.7,532.2 106.2,533.9 37.9,600.2 189.3,452.6 49,584.7 23,619.9 280.1,367.9 206.2,438.8 82,557.5 194.9,455.1 30.2,600.2 242.8,405.7 187.4,453.3 246,397.2 288.4,362.9 225.2,421.9 75.2,569.6 223.7,423.2 182.4,457.7 118.4,516.4 262.7,375.7 34.6,594.6 271.7,376 42.9,594.7 23.9,613.7 172.2,472.8 217.4,431 132.6,512.1 77.5,563.1 206.1,435.3 76,565.9 64.8,575.6 180,454.6 113.9,516.9 91.3,549.6 183.5,460.7 228.8,407.9 183.3,460.7 245.2,394.8 220.3,420.3 200.5,439.5 15.9,621.7 289.9,622.8 232.3,408.8 23.3,605.1 30.5,598 277,377 117.4,520.7 207.4,440.7 109.4,526.8 224.3,421.4 82.4,557.1 167.9,465.1 238.3,403.3 18.2,618.1 53.2,579.5 246.9,397 32.7,611.8 274,374.4 83.3,560 52.6,583.5 13.1,612.3 256.7,392.4 201.3,441.4 252.8,398.1 59.4,573.9 32.7,601.9 36.6,591.6 202.3,440.9 100.4,531 38.1,593.8 244.6,399.4 286.8,367 288.9,617.7 106.8,526 193,448.8 288.1,359.1 48.4,589.3 38.2,597.4 10.4,359.2 281.1,365.5 43.7,593.8 34.8,601.1 283.9,366.4 81.7,558.2 69.6,572.3 196,448.4 227.9,413.6 252.4,390.2 230.4,412.2 267.7,374.5 77.1,556.9 265.7,379 273.4,368.9 254.5,394.5 79.9,562.4 270.4,379.2 290.3,624.4 24.4,618.3 15.9,623.4 106.1,534.8 21.2,613.8 47.7,590.5 231.9,417.9 131.6,515.2 75.3,557.3 275.5,374.2 244.3,403.9 30.6,604.1 181.2,453.6 212,434.8 248.8,391.8 282.4,362 95.3,543.6 104.3,524.1 282.3,368.4 80.1,560.2 249.3,395.4 229.1,408.2 262.8,379.7 193.2,456.6 128.4,507.3 219.4,420.1 39.9,590.6 51.6,585.9 59.7,577.1 262,381.8 70.2,564.2 88.2,553.4 234.3,411.2 278.1,363.5 271.6,372.1 261.5,382.2 46.8,596.9 130,512.6 290.2,359.3 185.7,446.4 9.6,359.2 278.9,365.6 64.9,574.9 19.2,613.5 216.7,422.9 111.5,518.9 73,567.7 45.2,594 283.8,364.1 273.4,373.1 33.4,600.3 25.1,611.3 129.6,509.9 239.2,396 263.5,371.9 223,419.1 276.9,368.6 256.5,386.1 286.2,360.5 75.2,556.4 259.6,386.1 192.8,445.9 272,369 288.9,360.5 246.7,399.8 224.1,420.4 66.2,565.8 103.4,537.1 117,522.4 70.4,562 268.2,378 14.1,618 217.3,428.1 79.6,558.5 22.7,612 64.9,579.8 276.4,360.9 117.8,514 203,432.5 41.6,591.3 109.9,524.6 33.3,603.4 82.8,555.3 198.2,446.4 245.5,395.4 76.5,553.3 117.1,522.8 276.2,368.7 257.3,377.6 170.3,465.4 218.9,418.4 223,427.9 232,406.9 227.5,410.2 89.3,544.1 173.6,467.9 248,390.9 182.2,460.3 219.9,420.9 47,582.9 43.8,595.9 191.4,454.5 276.1,370.2 262.3,382.8 119.2,522.9 251.3,395 190.3,447.8 64.9,567.1 47.4,584.1 17.8,617.3 50.4,581.8 189.1,458.3 279.8,623.8 221,419.1 71,560.8 15.3,621.4 247.3,390.8 284.5,361.8 246.4,402.1 264.4,383.4 68.2,567.6 264.8,371.1 188.5,451.4 185.6,449.1 127.7,511.2 191.5,461.4 230.1,419.1 106.4,526.2 57.3,581 73.7,558.8 201.8,440.7 288.3,355.6 239,406.8 127.3,506.3 250.1,392.7 215.4,425.2 251.1,400.9 281.1,360.1 105,534.6 105.7,527.8 242.2,404.3 218.5,419.1 194.5,446.1 205.6,443.3 97.6,541.3 21.5,609.9 247.9,402.9 35.9,594.4 84.7,549.7 85.8,547 114.7,526.3 40.8,584.2 243.9,400.5 220.9,420.5 22.7,608.6 116,514.7 218.2,420.2 263.2,372.5 250.9,396.6 218.6,420.7 47.1,594.2 274.9,367.2 127.4,512.6 129.7,513.5 236,409 236.7,403.6 8.7,622 184.2,455.8 196.2,447 114.2,527.3 175.5,459.2 95.6,547 101.4,538.5 45,595.8 10.7,617.8 68.1,565.6 108.1,528.7 99.7,535.3 270.8,381.2 22.8,606.8 30.4,607 72.9,559.9 69.8,560.5 228.8,416.4 289.6,620.5 108.4,527 70.4,561.8 117.2,517.1 112,518.8 95.6,543.6 189,456.4 78.8,554.7 110.5,530.6 174.7,469.3 281.1,361.9 290.3,624.6 177,457.3 181,445 285.9,359.6 81.3,559.4 40.5,587.5 270.1,374.7 209.6,437.9 67.6,563 115.6,525.2 69.2,563.1 271.4,369.6 274.6,371.2 89.4,556.5 39.6,598.4 273.7,367.1 65.6,559.8 254,391 48.5,587.8 283.2,369.2 61.7,569.8 73.2,561.3 45.4,586.9 54.8,580.7 94,540.5 220.7,420.3 172.3,466.7 118.8,513.3 52.5,577.7 40.7,600 201.3,449.3 284.9,370 104.6,538.4 94.5,543.8 239.8,402.5 72.8,568.3 59.6,573.2 265.3,380.4 236.4,418.4 267.5,382.6 100.6,542 285.2,366.2 287,355.6 183.9,462.1 251.4,387.6 119.4,519 57.5,578.8 11.3,607.4 103.1,532.1 65.4,565.3 65.8,572.8 101.9,539.1 213.1,431.2 61.2,562.2 288.6,622.8 239.6,408.2 219,417.6 247.6,399.1 70.3,564 239.4,394.5 277.5,374 247.6,398.2 189.2,449.1 74.4,568.8 226.1,418.7 124.5,516.9 90.1,546.4 69.3,574.2 208.6,441.9 11.4,614.4 235.1,408.5 14.7,621.1 176.6,463.8 58.9,571.5 178,462.4 273.4,372.3 110.8,526.7 44.8,588.8 179.5,468.1 116.3,519.9 254,390.6 207.6,438.1 258.8,385.7 80.7,556.2 185,453.1 123.6,516.4 231.4,409.7 281.8,361.8 204.3,445.6 123.2,511.8 274.5,380 51.5,580.4 190.8,443.9 17.2,618.4 96.4,538.2 20.4,602.4 111.2,531.6 220.3,414.2 101.1,540 39.7,595 234.5,409 247.8,391.4 61.4,576.8 27.9,606 220.2,428.5 193.2,443.5 196.6,447.1 229.2,410.9 121.1,517.2 66.6,566.2 200.9,436.1 36.9,592.3 233.3,418 189,450.5 82.8,560.6 80.3,547.4 219.9,426.3 115.4,529.1 243.4,399.2 275.2,369.4 278,366.7 88.9,548.3 58.5,581.9 191.5,449.5 197.7,441.1 281.9,364.9 234.6,400.3 48,592.3 36.2,594.6 18.1,605.9 101.2,539.4 44.9,585.6 56.4,575.4 287.5,356 199.5,437.9 246.3,398 271.9,375.9 114.8,526.7 80.1,548.5 201.9,440.9 65.6,562.3 195.6,449.4 37.1,595.2 107.5,531.2 184.7,459 205.9,434.2 237.8,404.8 32.2,608.4 38.2,589.8 280.8,364.9 230.3,410.5 32.4,592.9 282.6,360.7 82.5,552.9 39.6,591.3 31.6,599.2 274.2,365 237.4,401.7 247.4,393.3 258.8,383.4 33.5,599.9 253,391.8 59.7,575.4 267,380.3 55,583.8 120.8,512.2 115,526.7 91.2,551.6 69.7,564 93.7,540.1 219.7,421.7 215.1,433.8 194.1,447 115.3,518.9 86.4,543.3 59.8,567.1 275.5,360.3 75.3,558.1 53.4,578.3 226.5,414.5 12.4,622.7 64.5,571.1 87.9,545.3 186.4,453 185.1,448.6 43.1,592.2 40.7,595.3 17.1,620.4 243.2,391.7 225.5,415 195.6,436 29.5,605.8 86.2,543.4 174,466.5 226.1,418.5 55.6,572 196.5,440.6 8.7,614.2 44.9,593.2 218.8,426.7 244.3,402.2 62.8,571.7 208,428.9 251.5,389.1 182.1,468.8 176.3,466.8 212.3,435.7 187,453.4 192.6,452.3 190.3,451.9 203.1,444 192.4,450.6 42.8,591.4 111,524.9 284.5,359.2 13.5,616.6 28,603.3 288.5,354.8 238,394.6 178.2,458.3 64,583.3 31.1,595.4 251.8,403.6 178.3,454.9 278.3,362.7 82.3,553.3 275.7,372.6 214.2,425.3 129.5,509.8 236.5,410.2 57.3,577.5 283.6,369.4 88,548.4 192.3,447.7 59.8,569.7 255.8,394.1 118.1,509.8 66.8,577.6 185.2,449.2 87.8,546.5 181.3,459.7 287.4,358.7 239.7,398 190.5,445.8 98.4,539.5 44.3,592.3 237.5,407.4 264.3,381 222.8,420.8 204.1,433.1 186,456.5 273,382.2 123.3,515.8 239.1,408.9 191.4,448.2 234.4,409 266.4,378.8 22.1,614.7 121.2,519.8 232.3,415.4 66.2,568.7 42,587.7 8,358.2 231.1,416.5 63,573.6 26.7,606.2 286.7,355 91.3,544.4 46.9,584 209.1,427.3 64,562.8 240.7,405.3 38.1,590.1 75.3,562.3 225.8,417.5 224.6,424.2 37.9,598.1 95,544.6 38.8,595.6 130.6,513.1 13.9,612.8 264.1,375.9 108,535.7 113.3,525.6 105.7,536 267.3,375.7 284.1,370.7 187.7,444.8 65.6,568 186.1,453.7 29.9,611.6 291.4,356.9 185.6,460.3 24.6,603 61.2,578.3 230.4,417 208.4,427.4 244.1,403.6 23.7,610.4 105.4,534.2 207.1,432.1 231.1,412.9 40.8,598.1 236.2,402.3 44.4,596.7 258.9,385.4 83,549.9 75.4,566.3 189.8,450.5 19.4,610.7 261.6,384.9 217.8,428.3 20.9,596.7 197.9,447.9 270.3,374.9 57.2,577.8 82.6,564.4 234.5,412.8 74.9,559.9 83.9,547.5 248,394.2 234.7,405.1 86.1,545.5 92.7,534.3 217.4,423.5 22.4,608.3 200.9,442.9 56.6,580 251.6,395.4 123.4,519.5 217.1,420.3 205.3,441.9 210.9,429 285.9,359.9 41.4,593.3 33.6,599.5 28.7,601.3 107.8,526.4 272.8,362.6 56.1,580.3 74.5,566.1 19.3,616 177.1,477.3 85.8,554.7 16.2,616.3 82.4,553.3 17.5,607.8 86.4,548.3 213.8,418.4 11.8,618.1 24.7,616.9 237.7,409.5 279,362.8 57,576.2 64,561.8 72.3,560.9 72.5,571.1 272.3,365.9 19.9,611.6 244.1,395.4 133.9,512.5 84.4,554.9 96.5,544 29.5,607.7 56.3,582.4 17.1,613.8 100.3,532.9 200.3,434.8 81.4,559.7 20.5,612.7 260,385.5 263.3,386.8 261.4,381.7 213.1,433.1 128.3,516.1 225.4,412.3 228.9,411.6 198.3,442.4 115.4,527.3 87.2,548.2 104.4,527.5 76.4,561.5 69.6,563.7 215.9,429 236.7,407.7 233.8,400.6 93.1,545 99.2,540.2 175.1,460.5 26.5,604.3 97.6,539.9 32.3,604.1 259.8,381 211,436.9 280.1,359.5 126.5,510.7 178.5,473.1 97.2,542.2 238,406.6 110.2,527.2 238.3,412.5 175.5,474.8 210.4,438.2 270.4,368.2 89,549.6 28.7,604.3 110.1,526.5 174.7,466.8 210.3,437.4 73,563.6 8.2,354.9 75.1,560.4 44,596.2 57.2,575.5 121.7,521 218.9,429.9 33.8,589.9 198.1,434.7 39.2,589.5 286.3,358.3 125,505.4 255.9,389.6 36.8,591.5 51.9,583.2 43.7,590.3 92.7,541 236.7,406 23.8,605.1 9.8,618.4 181,464.1 124.7,521.8 209.7,431.5 239.3,393.4 58.1,577.1 111.3,524.2 186.8,452.9 39.1,605.8 68.2,568.6 116.6,526.5 51.5,588.4 123.7,503.4 101.7,529.5 68.3,567.7 203.2,445.8 244,402 125.7,516.6 12.2,621.5 273.2,371.9 99.5,537 76.9,557.6 215.2,431.5 106.8,526.8 287.1,359.6 227.7,423.4 212.7,426.3 12.8,617.3 87.3,549 275.8,378.7 114,517.2 199.4,444.6 82.2,553.6 261.6,388.5 201.2,431.9 8.8,622.1 94.4,543.8 57.8,581.2 88.1,550.8 44.5,586.8 224.9,425.8 33.8,600.9 103.4,535.8 174.4,468 247.5,395.9 27.7,607 82.5,549.9 180.1,460.5 49.8,581.4 199.3,445.7 237.4,406.3 112.8,527 27.4,610.9 60.8,572 279,377.2 257.6,381.6 274.4,371.1 288,356.7 66.8,572.9 32.7,600.6 197.7,445.8 45.7,590.5 130.8,510.9 274.8,371.7 263.4,370.1 33.2,599 231.6,422.3 229.5,418.2 289.6,362.3 257.6,390 80.8,554.5 18.3,607.6 263.2,382.8 218.6,423.1 69.2,571.2 41.5,592.6 281.6,362 93.2,549.4 183.2,455.2 51.6,577.1 179.2,461.2 11.2,618.4 35.9,595.8 24.7,608.1 93.3,537.9 172.4,464.9 169,468.1 93.5,540.1 121.7,513.7 235.5,400.7 51.7,582.9 89.8,536.7 228.6,419.8 220,418.2 203.7,435.3 111.4,521.6 210.2,422.1 244.4,408.1 26.4,600.6 289.7,359.6 13,619.6 181.5,454.3 25.6,604.6 273,364 175.9,464.6 216.5,428.6 278,380.3 219.4,425.7 178.3,469.6 200.3,442.1 246.9,398.3 273.5,368.4 104,517.1 16,624.2 46.3,572.4 225.8,415.1 215.2,424.5 103.8,528.9 203.6,427.7 290.5,357 190.5,451 172,473.1 74.3,560.5 83.9,547.7 215.8,421.3 105.3,535 29.4,602.2 173.2,467.7 128.6,508.4 34.9,598.8 235,401.6 246.6,397.7 223.7,412.6 35.2,592.9 114.2,516.7 115.2,522.1 36.5,604 14.1,616.1 120.7,520.1 47.7,582.2 229.3,415.1 82,554.2 32.4,597.2 250,387.6 172.9,471.9 101.2,538.4 239.7,416.4 103.5,539.9 199.4,435 128,511.9 291.1,616.7 29.8,595.7 47.4,587.1 249,394.8 114.4,519.8 82.6,554.9 124.9,516.5 258.1,395 11.3,358.8 84.8,568.7 93.6,543.3 71.1,563.1 121,517.9 223.4,423.6 131.6,514.9 54.6,586.8 92.1,549.2 93,545.1 12,621.9 91,545 24.5,602.2 35.6,610.6 272.7,365.9 18.1,614.7 27.5,607.5 179.1,456.6 290.9,360.3 281.7,366.3 271,376.7 129.4,508.5 125,515.8 18.7,615.5 20.1,615.5 58.1,574.4 251.5,391.3 232.1,411.6 21.9,604.3 273.1,365.9 227.2,418.7 92,549.4 9.5,621.4 125.7,509.9 80.7,556.2 82.7,553.2 221.3,407.6 180.2,458 53.6,575.5 215.9,426.9 213.5,428.9 179.8,461.9 284.7,622.4 70.9,563.9 47.6,582.9 236.1,403.6 283.6,362 55.9,584.6 37.4,593 216.6,427.2 40.6,602.1 47.3,584.8 260.3,387.6 64.6,572.7 39.8,597.3 89,549 91.9,540 16.1,612.9 23.8,610.4 70.2,569.5 17.1,607 179.9,455.3 82.3,551.5 237.7,413.3 106.9,528 45.5,582.8 43,586.1 118.7,519.6 9,622 118.1,518.8 76.7,548.9 266.5,375.2 68.1,578.5 281.8,358.7 97.9,527.6 251.3,398.4 243.2,403.3 233.8,403 209.6,436.7 10.8,354.7 121.2,519.6 284.6,361.4 179.3,461.3 232.5,413.9 63.4,570.1 95.9,538.3 187.6,456.4 92.4,548.6 280.8,362.1 238.8,412.3 166.9,467.9 228.5,401 68.5,569.7 9.1,355.6 192.3,445.6 60,575 81.7,558 49.2,587.4 8.1,355.1 195.6,454.3 189,451 203.9,437.7 62.4,577.6 196.1,453.7 77.6,551.8 66.2,568.4 260.4,384.3 259.8,380.6 224.1,428.5 188,459 252.2,394.1 113.2,525.6 51.9,578.7 286.8,364.5 78.9,558.5 218.9,433.4 40.2,596.9 217.9,417.1 280.4,361.3 225.3,421.3 286.7,362.8 40.9,596.4 237.5,411.1 90.4,550.1 44.7,590.7 124.1,518.5 126.5,514.1 256.7,393.4 282.3,360.5 88.6,546.3 102.7,532.6 180.1,460.8 125.6,516.5 286.8,364 212.1,435.6 85.5,554.9 48.2,588.6 191.2,442.9 37.2,596.5 264.7,386.1 238.3,409.6 272.9,375.2 197.9,439 199,441.9 43.5,588.4 35.1,602.5 67.8,571.1 248.1,402.1 10.9,616.4 248.6,390.1 55,579.3 254.9,385.2 54.3,576.6 79.1,553.3 119.2,522.1 32.7,595.4 289.9,355.8 70.9,571.3 245.6,402.8 18.1,617.5 284.2,359.9 42.8,599.5 267.1,378.2 93.1,551.9 195.4,441.4 208,429.4 285.1,360.6 108.2,529 42.7,600.5 26.5,601 279.3,358.4 206.8,448 266.9,384.2 23.8,619 282.7,363.9 259.5,388.6 171.8,470.6 220.1,422.8 283.9,358.9 251,395.1 29.9,604.6 76.8,559.5 32.6,596.9 107.7,529.7 46.1,588.2 118,518.8 61.1,565.1 230.7,412.4 284.3,359.3 69.4,566.2 238.1,414.7 115.6,533.1 245.4,398.9 181.8,460.4 51.3,576.3 262.8,381.1 242.9,401.1 65.6,572.7 50.9,591.8 183.7,457.7 229.9,420 190,450.5 280.4,359.4 226.1,417 210.6,427.2 252.1,391.2 53.5,567.3 51.4,584.8 208.2,437.2 131.1,518.9 217,417.9 22,604.3 226.3,424.4 79.5,549.5 69.7,559 169.6,465.4 116.4,529.7 288.7,621.4 260.4,387.1 81.1,560.4 212.3,424.9 34.4,608.6 177,461.8 286.8,366.2 221.2,415.1 239.3,404.8 207,432.1 116.4,524.5 126.4,520.4 104.4,534.2 29.6,598.9 219.5,417 61.6,570.3 65,567.9 114.5,523.8 246.6,396 108.5,533.1 16.8,615 15.6,606 234.1,415.3 117.4,519.9 188.9,449.7 103.8,536.3 33.4,609.7 78.7,566.5 40.5,594.2 42,595.6 191.4,446.8 208.9,446.1 80.8,552.8 244,399.6 40.6,600 175.7,466.1 54.1,576.2 195,454 69.3,567.8 31.6,601.8 183.7,467.6 76.1,564 228.9,409.4 130.1,524.6 223.3,420 192.4,440.8 116.2,518.2 228.2,414.3 65.1,578.3 210,431 75.8,562 10.5,359 288.8,368.2 67.7,562.5 179.5,460.9 18.4,611.7 190.7,448.9 241.5,414.7 16.3,611.9 176.4,454.5 282.9,364 250,395.9 44.7,581.8 45.2,583.3 22.6,617.5 263.2,386.6 93.9,544.1 76.6,569.4 277.2,369.8 117.2,520.7 87.9,549.2 175.6,468 112.6,525.5 258.8,385.7 254.8,395.9 211.5,424.4 177.2,460.2 116.6,518.8 266.6,378.9 171.5,466.4 109.1,526.8 186.5,462.8 180.5,464.3 116.1,512.9 282.6,369.9 278,361.4 11,623.7 124.8,509.2 169.9,465.6 75.3,568 229.8,406.1 203.1,435.7 233,410.3 47.1,579.6 281,360.5 178.2,460.7 14.1,615.7 193.3,450.6 36.9,596.8 265.7,378.5 256.8,400.9 239.9,398.4 72.2,568.7 61.8,575.1 79.8,558.6 59.9,573.5 37.3,595.3 240.4,412 222.2,422.3 291.6,620.7 21.5,606.5 273.5,371.4 184.3,456.7 39.7,591.2 38.3,595 224.7,410.9 208,434.3 69.4,564.8 37.9,594.6 63.2,565 80.7,558.3 26.1,606.5 96.4,533.3 90.8,545.9 237.4,396.7 87.3,541.3 264.1,383.1 274.8,372.1 206.2,435.9 57.8,579.9 41.7,592 9.3,621.5 114.7,521.6 9.1,356.6 71.7,569.7 105.8,533.7 42.1,590.5 199,440 43.2,590.6 110.8,524.5 56.7,572.5 195.3,449.1 75.9,557.3 214,429.6 263,375.8 269.9,367.3 277.3,364.6 121.1,523.1 80,554.3 78.3,559.4 173.1,463.7 77.8,555 112.4,524.6 74.4,564.7 29.7,601.1 237.1,408.9 263.8,380.5 73.6,561 76.3,549.5 279.6,366.4 244.8,396.6 128.3,518.9 263.4,384.9 94.6,539.5 187.5,452.4 274.9,379.6 174.5,463 76.5,570.6 231.5,406.7 231.8,419.9 263.7,390.4 221.6,421 39.2,600.5 91.7,544.3 132.4,514.7 285.4,356.9 61.3,573.6 42.8,592.3 268.4,373.2 108.8,528 64.3,574.2 208.1,429.9 236.1,408.9 214.2,423.5 49.9,586 273.5,369 234.2,421.3 287.5,624.2 212.5,436 74,568.2 258.6,388.9 260.2,384.3 85.4,549.3 185.8,454.9 80.6,563.5 231.6,408 227.6,422.3 35.8,601.5 214,433.4 255.4,390.7 48.3,589.7 244.2,409 276.9,375.5 72.2,560.4 189,460.2 112.3,517.1 225.3,416.3 222.1,418.9 255.3,393.2 52.2,586.5 188.7,445.9 227.9,413.3 191.1,449 194.1,439.6 219.6,424.6 108.6,537.2 282.6,360.9 35.2,601.5 117.8,514.8 82,553.9 278.8,377.6 204.9,443.6 41.5,598.7 19,615.4 203.1,444.1 242.1,393.4 44.7,590.9 27.2,611.4 61.8,571.2 277,364.3 190.2,455.8 217.4,417.7 127.2,509.6 181.2,462.2 212.5,437 101,539.2 238.3,397.7 36.8,604.2 210.2,423 273.7,370.3 189.6,466.3 42.9,589.7 195.1,452.9 95.2,538.4 97.1,538.5 287.2,357.5 223,421.1 116.1,525.6 119.8,517.3 223.8,417 84.6,553.4 262.2,382.3 269.4,366.1 206.8,434.4 250.1,397.2 291.8,623 274,374.2 201.7,437 288.8,624.4 63.9,567.8 259.3,383.5 193.3,435.7 11.6,624.5 120.4,521.6 128.8,508.1 283.4,368.5 91,544.1 44.9,585.7 233,410.9 181.6,457.2 63.6,569.2 285.9,362.3 8.9,356.6 14.2,623.4 120.2,518.8 54.5,574.2 31.8,600.3 33,604.9 172.9,459.1 106.7,534.9 173.3,469.4 75.5,571 22.4,610.6 246,394 16.8,616.2 61.9,574.7 124.8,519 207.7,438.5 102.8,528.6 11.3,607.6 52.1,584.7 241.4,400.4 180.2,456.6 85.5,549.6 248.3,407.7 73.2,554.3 234,411.1 113.9,520.8 186.8,464.7 203.6,438.5 97.5,539.9 275.1,369.9 223.9,416.3 270.6,378.3 31.4,594.4 253.5,384.6 224.5,419.7 21.6,618.8 115.7,513.8 108,519.9 170.2,463.9 29.8,608.8 228.8,417.4 201,439 113.3,529.2 248.8,399.2 65.1,575.8 28.3,610.4 269.2,377.3 193.1,449.9 203.2,434 222.5,424.9 111,522.3 92.4,549.2 72.8,573 92.4,546.1 13,356.8 38.7,591.8 282.7,366.2 171,463.7 219.6,418.4 40,597 95.4,549 186.9,452 71.9,565 15.6,621.6 67.1,566.6 37.4,591.8 251.8,392.2 95.5,538.4 63.1,570.6 90.3,547 276.9,371 39.6,596.5 48.1,588.3 26.7,610.4 75.1,562.8 270.1,377.6 262.3,372.6 226.5,414.7 108,524.7 61.8,573.1 245.7,396.7 223.9,417.4 122,516.4 36.9,592.6 192.3,454.3 248.9,389.8 288,364.9 198.6,444.7 122.8,515.2 289.7,358.2 243,410.7 215.6,423.7 85.3,538.8 10.9,622.9 281.7,365.6 19.9,617.6 272.5,370.3 265.7,382.6 195.7,449 116.7,526.5 201.4,440 70,563 203.6,434.5 108.3,534.6 186.5,455.6 172.7,472.9 54.5,591.1 286.7,360 88.5,545.7 239,400.5 259.4,376.7 266.7,375.2 281.1,364.5 18.1,614.9 211.6,429.2 281,360.7 232,411.8 291.9,359.3 207,434.4 56.8,582.3 71.3,569.8 270.1,363.4 238.5,408.4 266.3,372.6 111.6,530.1 226.7,424.9 61.7,568 184.6,454.7 194.7,454.2 246.7,386.7 82.8,554.9 230.5,418.9 88,548.8 250,394.5 69.5,574.4 91.9,544.4 94.1,547.2 193.2,457 44.4,592.6 247.4,394.8 110.9,531 62.6,580.5 50.6,571.5 261.5,379.9 205.2,433.7 276.7,374.7 20.1,614.3 226.5,416.9 269.3,373.7 191.4,448.7 198.8,443.8 252.1,390 260.3,385.5 113.4,525.2 103.9,530.2 99.1,538.1 287.5,355.3 33.9,591.5 176.5,463.1 110.1,522.5 217.4,420 232.9,408.3 46,584.5 195.2,451.6 31.6,599.2 289.7,356.5 16.8,611.3 273.6,376.7 61.7,582.9 288.7,359.5 65.8,567.5 260.9,381.1 76.7,561.5 87.4,550.3 42.8,587.6 225.7,420.8 189.2,456.5 249.4,390.7 63.5,570 247.1,395.8 251.8,391.8 18.4,615.3 254.4,382.7 15.1,624.6 38.6,596.1 260.1,385.3 112.2,522.6 290.9,358.3 65.6,572 226.3,424.4 254.1,390.6 275.5,378.1 248,393.7 184.7,466 88.9,544.6 53.5,586.2 288.9,619.8 127.4,511.3 268.7,372.8 90.6,548.3 19,615.6 218.8,423.6 171,469.7 53,582.3 109.6,531.5 115.9,527.3 234.1,411 291.4,624.7 80.1,549 184.5,457.8 94.8,547.7 171.3,466.5 194,451 205.3,442.5 60.2,578.5 235.6,406.9 16.9,616.8 103.8,545.6 282,365.8 290.9,358.2 200.4,448.8 205.4,443.4 74.3,562.1 37.9,602.3 126.1,512.6 127.8,519.4 219.3,422.7 19.5,617.4 96.5,546.5 182.4,461.9 289.5,623 45.3,585.8 100.5,530.1 276.7,372.2 47.2,584.8 181.3,461.9 174.5,458 282,374.4 8.7,357 190.3,451.8 67.6,567.1 201.7,442.7 279.4,367.1 112.8,528.3 199.8,441 39.2,600 67.5,567.5 99.1,530.8 246,397.7 85.7,548.4 111.1,527.9 120.6,514.8 252.8,396 245.1,398.7 283.2,360.3 236,421.2 17.3,614 59.5,573.9 254,384.8 125.9,505.9 271.2,375.2 191.9,448.7 223,414.2 10.1,621 215,421.9 177.2,462 289.1,623.3 261.4,376.6 93.3,549.5 87.2,559.7 52.6,577.4 54.8,584.5 61.1,578.1 209.9,430.5 99.3,537.7 187.1,450.8 282,363 203,432.7 269.4,383.2 102,528.7 267.9,379.5 51.6,576.6 283,371.3 260.2,377.2 174.7,453 87.9,550.5 203.5,440.6 66,567 284.6,360.5 9.7,620.4 10.1,616.8 237.7,397.5 244.4,408.7 268.7,377.1 81.5,547.6 130.9,512.9 11.7,620.8 264.3,381 286.9,620.6 288.1,355.4 19.8,616.6 245.2,400.2 207.6,433.2 52.8,582.5 48.9,589.3 131.5,510.2 83.9,553.6 187.3,459.7 62.7,570.6 9.7,617.6 79.2,560.5 10.2,621.1 123.4,514.7 172.6,471.4 50.3,579.6 280.6,366.4 266.8,387.7 89.1,554.5 67.8,571.4 69.6,570.5 63.8,569.8 249.8,389.7 200.3,440.3 281.2,369.1 189.6,455.8 269.5,378.4 281,366.5 175.3,465.5 17.1,618.2 95.4,538.4 231.2,409.3 220.4,426.4 28.8,608.3 260.6,381.4 195.8,443.3 117.5,527.7 19.6,619.1 247.3,398.6 53.9,581.4 97.2,539.1 35.8,607.5 117.8,528.4 263.6,389.5 80.2,553 218.9,423.3 190.4,459.6 128,515.9 31.3,608.8 279.1,368.8 278.9,378.2 70.4,563 121.6,519.1 72.8,562.3 273.9,372.8 102.1,534.5 121.8,520 188.5,460.5 25.8,600.3 26.6,608 224.2,418.1 120.6,514.7 42.3,597.7 73.9,555.7 208,438.5 116.6,522.4 38.9,603 26.4,607.4 202.5,430.8 34.9,594.7 90.5,546.1 78,560.2 290.7,356.7 240.7,405.5 211.5,431.9 253.6,391.6 191.4,450.3 192,449.6 23.1,619.9 244.1,395.2 184.9,455.2 170.6,470.8 227.1,419.9 118.4,523.7 175.8,465.1 28.1,603 197.9,450.4 48.5,581.7 210.7,426.6 117.7,515.2 185.1,453.3 53.4,578.9 246.4,402.5 182.2,462.9 112.8,523.1 268.2,379.8 27.2,604.4 57.2,580.7 261.4,381.3 71.4,567.6 244.8,404.2 64.2,575.7 119,520.5 69.5,570.6 289.9,357.9 11.8,623.2 241.9,405 109,524.4 44.7,589.4 69.5,565 204,432.5 9.9,607.9 95.8,536.1 278.7,371.7 63.4,571 238.6,402.2 8,357.7 63.3,585.6 265.9,386.7 47.6,588.4 209.1,436.7 58.5,577.9 232.7,410.7 33.4,603.6 283.3,366.5 88.3,549.6 127.3,508.5 36.4,591.6 86.3,546.6 251.5,394 190.4,448.1 285.4,361.7 208.5,428.1 102.6,535.6 264.5,383.2 50.7,582.8 82.2,541.9 22.5,607.1 97.6,531 260.8,384.4 192.7,447.7 178.8,468.7 227.4,422.7 89.1,555.9 110,531 266.6,376.1 222.6,423 8.5,366.1 94,545.4 242.5,399.4 39.5,603.5 205.8,424 69.1,561.4 94.6,539.9 86.4,554 114.9,524.2 45.7,587.6 22.1,610.8 117.6,513 73.5,561.9 189.2,457.8 26.3,612.4 241.9,401.8 228,421.5 182.5,459.1 275.5,371.3 80.6,554.9 101.4,544.9 255.6,379.9 279.2,359 50.4,589.8 197.8,447.4 239.2,412.4 258,391.9 111,534.8 289.9,358.3 290.8,355 193.6,444.6 61.9,580 51,587.4 126.7,510.7 177.5,462.3 22.3,611.1 254.9,393 27.9,606 211.2,432.7 247.2,402.7 263.6,377.3 263.9,385.8 262,381 103.5,532.7 66.2,565.9 182.8,453.3 127.7,514.1 255.1,385.1 185.8,457.4 246.5,396.3 8.6,613 189.7,439.3 88,541.5 41.9,593.1 120.8,516.9 263.4,380.5 217.9,421 92.6,543.2 199.4,440.2 257.6,383.7 83.6,551.9 271.8,378.8 195.4,448.4 248.2,395.8 169.9,470.3 114,526.7 205.2,441.7 92.5,545.9 257.5,382.3 188.2,450 260.8,386 32.8,598.4 200,442.2 51.3,585.9 64.2,568.1 257.5,383 290.5,621.8 101.4,533.6 196.9,453.9 60,577.1 257.9,379.8 24,603.9 276,373.2 65.3,568 247.2,403.7 285.4,369.2 102.2,534.6 176.6,463.5 259.1,385.3 207.9,439.3 76.3,560.8 240.2,403.4 51,596 213.9,422.1 265.1,379.8 46.9,585.3 100.3,526.6 103,534.5 40.1,598.6 280.5,360.5 260.5,388.9 182.9,461.4 229.9,413.5 239.9,403.5 194.6,447.5 82.1,554.5 180.2,466.9 287.3,362.8 197.8,446.7 277.9,371.3 23.2,612 53.4,585.7 226.3,412 14.7,621.3 40.1,595 90.9,544.8 201.9,439.5 104.3,524.7 273.4,370.3 205,430.4 266.4,380.3 290.8,621.4 61.4,577.5 90.1,545.8 177.3,470 39,597.5 221.9,425.7 129.6,514 286.2,359.6 222.3,415.2 253.3,400.8 201.6,433.5 82.2,552.6 217.5,421.2 63.4,572.5 85.7,544.8 86.6,552.5 80.4,567.5 11.9,614 15.2,620.8 109.2,528 8.8,624.4 63.5,576 278,370.9 256.5,389.1 54.6,572.4 280.5,361.1 63.3,575.4 274.9,370.7 17.2,619.1 91.3,546 70.9,564.4 55,575.3 193.9,445.6 107.4,531 71.3,575.3 56.6,586.3 29.5,598.1 261.7,388.7 238.7,395.6 186.9,463.6 282.6,371.9 281,376.9 250.2,393.9 105.7,534.5 70,562.9 280.8,367.3 227.9,409.6 227.7,423.9 40.9,589.4 225.4,415.6 116.4,515.2 23.6,612.3 109.6,525.6 178.7,453.7 235.7,411.5 114.8,523.2 245.8,399 193.9,448.8 89.2,546.7 283.9,361.7 38.1,594.8 72.9,565.4 126.4,513.4 126.5,517.2 236,410.7 277.8,368.6 65.1,570.9 289.6,623.7 261.2,370.9 60.1,580.1 215.3,437.6 128,520.6 234.2,409.9 48.9,588.9 44.6,588.2 108.3,528.8 65.1,566.2 35.5,597.7 37.5,596.3 119.9,516.6 247.6,400.6 36.9,599.1 121.2,510.6 87.8,553.8 88.3,547.2 85.3,549.1 103,541 40.8,595.6 93.8,539.3 249.2,396.6 63.6,580.9 60.5,580.1 90.5,544.8 235.2,411.4 16.9,610.6 122.8,510.5 172.6,461.4 60.4,571 270.4,380 249.1,394.6 30.5,607.9 229,415.4 99.9,535.6 287.2,367 171.1,467.3 238.8,401.5 120.9,516.8 14,623.2 22.4,604.1 235.2,405 203.3,435.9 223.5,418.5 29.1,609.6 93.8,542 67.1,573.8 179.3,464.7 128.8,513.6 128.7,511.6 106,529.5 229.7,415.6 17.8,618 269.7,371 199,448.7 232.3,417.7 265.8,381.2 117.9,520.9 276.3,374.1 238.1,404.4 179,460.3 43.8,592.5 199,445.8 132,511.5 92.1,548.4 212.8,433.6 270.5,372.2 277.2,361.9 279.9,363.6 179.8,460 44.6,588.1 74.3,570.2 278.8,363.9 193.2,448.4 180,463.8 283.3,364.9 29,603 23.4,607.9 56.6,571.9 218,430.1 83.6,560.1 194.8,450.9 192.2,457 14.8,613.7 103.6,533.8 191.3,448.8 125.5,518 119.4,522.8 63.8,566.7 106.8,533.5 69.5,566.8 200.9,446.2 221.4,421.3 56.4,584.1 279.5,369.6 173.1,473.9 116.5,526.9 240.1,400.3 214.6,430.3 29.8,601.6 190.5,457 83.5,550.3 55.4,577.1 107.9,530.9 197.9,445.1 195.3,437.1 222,417.3 227.1,417.8 237.7,401.9 66.9,569.2 192.9,447.2 270.4,378.9 207.4,431.9 61.3,580 119.9,525.8 187.8,446.6 279.8,374.4 190.1,441.3 212.9,431 17.6,611.8 285.4,360.3 262.2,390.2 196.5,452.7 189,450.1 243.9,398.9 69.9,565.8 10.7,616.9 291.9,356.5 269.2,372.2 191.9,452.5 101.8,534.9 214.6,430.6 78.6,558 256.2,393.2 84.4,548.8 90.9,545.6 21.9,609.4 288.5,362.1 127.3,514 64.4,565.5 278.6,366.6 29.7,603 23.6,621.9 189,456 82.5,552.7 279.9,368.2 223.6,419.6 272.4,376.2 235.5,409.1 220.7,412.6 44.2,585.7 291.5,365.8 28.2,618.8 104.2,525.8 201.2,435.8 207.2,436.7 269.8,381.3 271.8,363.2 84,551.6 28.4,593.2 254.2,385.7 38.6,597 104.5,530 101.9,545.4 227.9,412.7 8.4,355.3 60.9,578.6 215.6,421.1 123,516.8 186.1,448.5 233.4,403.3 32.9,613.5 94,536.9 220.3,419.9 207.5,433.8 261.5,390.9 249.6,385.4 242.7,408.8 265.8,384.6 272.6,369.5 275.5,365.8 59.6,587.8 117,529 114.4,518.8 229.9,405.7 68.7,567.3 260.7,377.9 52.1,569.2 121.3,519.8 38.2,604 277.4,371.3 251.9,399.4 30.4,607.7 248.3,399.8 23.6,614.1 61.2,572.5 184.3,455.5 125,516.8 109.2,533.1 11.9,620.3 121.9,508.9 94.3,534.4 22.9,605.3 283,360.3 73.5,558.8 17.5,354.7 199.1,448.4 265.5,369.1 275.9,367.9 198.9,446.6 244.2,399.8 190.6,447.7 241.5,405.7 90.6,544.1 66.4,565.1 46.5,586.3 175.8,458.9 84.9,551.1 287.2,367.1 287.2,365.4 253.4,391.9 263.3,383.8 61.3,572.5 115.9,524.9 259.9,386.4 27,612.9 240.7,399.4 41.1,598.1 48.3,588.2 102.9,532.5 201,443.4 214,431.6 267.3,378.8 61.4,573.1 212.8,433 216.5,432.5 89.2,547.8 235.8,410.2 284.6,356.4 78.8,560.5 165.9,463.9 23.9,603 187.5,456.9 53.6,588.2 241.4,406.5 28.7,606.5 105.8,539.5 114.3,523.6 67,562.9 235.1,408.1 271.9,368.9 278.7,366.9 78.9,563.5 47.5,589.8 238.2,411.4 67.9,576 23.3,613.3 92.7,551.9 22.7,612.5 67.2,578.2 13.7,619 235.9,410.3 276.7,369.8 83.7,547.3 177.9,463.8 82.1,555 220.3,416.8 94.5,540.1 260.6,378.1 8.7,618.9 87.3,548.5 185.7,456.8 24.6,607.9 104.2,533.5 121.7,513.3 12,618.5 277.5,368.4 18.7,612.7 80.2,554.8 280.4,355.8 217.9,413.1 93.8,537.4 67.3,564.8 73.8,561.6 112.4,526.4 228,413.8 44.4,594.2 246.7,395.3 194.3,446.5 257.8,395.6 80.6,551.7 107.3,529.5 167.2,464.1 221.6,419.1 41,589.3 235.5,400 69.6,564 56.2,582.6 24.7,610.5 119.1,521.9 68.2,572.9 10.1,623.4 19.9,624.7 12.2,622.2 224.9,411.6 99.4,531.7 181.8,471.5 197.2,450.2 27.7,608.1 249.2,392.3 85.5,562.4 102.8,529.6 31.3,604.5 13.4,623.4 113.4,531.2 251.9,401.1 19,607.1 39.1,595.3 271.2,370.5 204.9,442.1 54,581.6 221.6,424.1 27.9,605.4 23.3,607.5 82.3,545.8 64.4,571.5 24.7,610 291.5,621.6 179.4,465.6 9.7,620.3 181.5,460.8 288.3,364.9 224.4,424 96.6,540.9 48.5,590 128.1,514.3 227.4,416.7 104.6,537.9 77.8,558 106.5,530.5 9,610.8 40,600.9 78,556.2 26,606.4 86,551.3 52.6,573.1 118.7,520.6 277.7,365.6 108.6,531.1 49.2,584 66.5,567.2 49.9,589.3 121.3,521.3 263,386.3 15.4,619.2 110.6,534.2 61.2,566.6 27.8,604 236.2,412.4 101,540 123.2,512.8 44.9,594.8 186.7,457.1 85.4,548.6 288.3,356.1 210,437.6 47.8,586.2 173.4,468.3 68.7,564.3 278.3,363.9 282.2,359.1 19.4,612.5 54.9,574.2 40.2,592.7 190.2,444.8 289.6,358.4 41.6,588.2 206.5,430.9 233.6,415.8 40.2,595.9 30.6,610.2 97.5,536 80,563.5 11.4,623.1 219.4,420.7 267.8,379.3 264.6,381.3 79.8,561.5 199.8,436 228.7,409.2 224,421.6 88.6,553.9 267.5,384.7 234.5,408.8 202.1,454.1 17.2,619.9 217.8,430.4 58.4,579.6 183.1,459.7 255.4,388.7 64.9,573.8 127.2,507.9 204.4,434.8 282.6,361.9 58.1,576.7 181,462.7 271.8,374.9 77.2,551.1 81.8,547.1 100.6,532.5 225.2,425.2 21.5,617.1 17.9,609.8 131.7,512.5 126.7,517.7 198,445.5 185.4,457.7 237.5,408.9 182,458.5 124.6,506.5 17,622.6 71.8,566.2 90.7,537.3 40.3,590.1 211.5,430.7 218.5,421.1 111.1,522.3 194.8,434.8 227.8,410.6 232.7,410.6 33.9,593.1 45.8,590.2 283.9,363 232,416.2 81.6,559.5 119.7,526 123.6,514.9 57.4,585.2 250.7,389 194.1,440.6 174.9,457.2 183.2,458.4 250.2,398.6 261.4,381.8 72.8,564 103,533 186.2,452 12.2,620.7 226.4,425.4 108.1,526.1 92.2,555.1 43.1,592.5 39.4,598.3 176.9,473.8 224.3,425.8 63.1,567.2 237.8,414.3 104.7,536.1 37.5,591.5 180.9,455.2 127.7,509 64.5,570.1 70.9,565.6 182,454 96.6,542.4 261.6,393.8 228,405.2 106.3,538.8 32.7,600.9 223.3,423.8 80.8,547.3 273.2,371.3 47.1,580.6 49.1,590.5 41.8,595.2 101.5,535.3 110.3,524.3 79.9,557.2 81.4,552 272.7,383.6 189.7,446 62.6,565.4 21.3,614.7 33.7,602.4 225,413.6 27.9,602.7 240.8,403.1 221.1,411 87.8,543.7 178.5,465.2 217.3,422.7 116.8,521.1 245,400.5 98.9,542 260.6,381.2 175.9,466 29.3,607.6 93.1,545.1 192.7,452 104.6,539.6 90.4,541 283.3,368.5 121.6,516.2 55.9,587.9 222.5,425.5 69.7,563 121.3,513.2 15.4,614.9 9.2,358.6 101.3,533 219.8,427.7 251.7,391.9 214.1,424.7 169.1,469.1 16.8,355.8 180.2,466 274.6,373.8 67.1,568.2 266.5,384.3 245.3,399 247.5,397.6 130.8,515.1 58.5,573.5 281.5,364.7 98.8,538.9 82.3,554.7 25.1,602 92.4,539.4 211.2,424.5 210.7,430.8 129.6,509.7 280.2,363.3 236,406.7 209.6,433.6 44.2,591.9 14,623.5 20.8,622.8 289.1,357.1 254.1,388.7 285.9,355.3 42.4,591.6 107.3,529.2 251.8,397.1 182.4,463.9 195.8,443.8 17.7,611.9 58.1,569.7 58.9,569.4 55.2,582 29.5,609.6 31.9,597.1 193.2,436.2 24.7,606.9 188.5,461.3 69.7,574.3 215.6,423.1 57.7,574 276.3,371.8 12.9,616.8 45.6,587.1 274.7,365.6 238.9,405.9 76,570.7 73.3,570.8 240.3,405 39.7,596.8 171.4,463 288.2,361.2 103.5,536.7 27.4,603.5 62.6,570.9 64.6,565.6 289.1,362.9 224.9,419.6 196.9,445.4 18.6,618 85.3,549.4 69.1,570.2 198.9,439.2 16.4,619 290.3,622.6 31,601.6 57,573.7 249.6,397 178.2,472.9 263.6,386.3 216.2,419 178.2,471.6 56,576.8 213.7,429.1 183.6,462.7 26,602 35,600.7 284.9,377.3 119.8,520.1 281.8,617.2 204.8,438.2 99.3,537 12.5,610.5 15,617.3 166.5,466.4 244.6,403.4 84.9,548 59.7,575.6 180.1,474.5 49.6,588.6 15.9,608.8 12.2,616.1 92.7,541.3 44.5,585 224.2,413.5 96.4,548.5 270,377.2 238.7,411.5 280.5,363.4 178.4,457.8 269.7,371.9 66.8,563.3 114.4,526.8 115.8,524.4 34.4,602.5 11.2,622.1 251.1,393.6 277.4,362.1 27.9,606.7 8.5,620.6 17.4,622.2 25.3,607.6 215.6,426.6 109.5,512.8 106.3,530.6 121.5,512.5 277.7,374.9 229.9,414.9 224.9,424 48.2,586.5 220.7,425.3 112.9,530.5 257.3,377.9 73.4,556.3 88.2,540.8 224.6,417.2 121.2,514.6 201.3,426.7 223.8,412.9 283.1,362.5 271.6,376.3 202.3,453.1 78.9,564.1 62.7,569 44.6,583.7 28.1,601.8 284,361 178.8,461.7 224.1,412.4 108.1,536.7 188.1,456.2 120.8,527.3 34.9,602.4 202.2,439.4 106.6,524 213.2,425.5 17.8,614.5 43.7,590.1 189.9,447 94.9,548.8 50.5,586.2 16.4,615.1 204.7,438.4 113.9,522.2 13.7,621.1 224.6,426 33.7,594.9 175.8,467.7 69.7,559.3 77.6,564.2 195.2,443.9 191,448.9 246.8,401.5 93,548.1 263.2,387 43.9,594.9 33.4,592.4 54.3,582.4 97.6,536.7 124.5,508.7 175.1,461.8 98.4,539.2 36.8,596.6 206.9,431.5 290.9,359 208.2,419.3 39.8,585.1 47.7,583.4 282.2,362.5 71.4,560.7 246.1,391 279.1,364.5 242.9,400.2 178,461.6 259.9,390.4 262.9,380.6 71.2,561.5 203,442.9 89.8,553.9 264.5,381.8 77.3,555 97.5,538.3 213.5,425.9 246.9,398.3 266,378 230.1,407.4 68.5,563.2 8,623.1 19,604.2 199,453.1 214.5,436.1 277.1,368.6 205.3,426.6 25.6,601.9 227.2,407.2 8.3,357.4 39.6,593 103.7,539.8 178.5,460.1 98.3,530.8 185.5,459 44.8,595.7 127.5,509.4 198.5,444.4 41.2,601.1 28.8,605.5 258.5,382.2 91.9,542.6 111.4,531.2 63.7,570.1 110,523.8 28.7,602.6 78,558.9 48.7,594.2 29.8,600.2 105.2,522.4 178.6,461.7 258.5,383.6 58.4,583.6 34.5,599.2 18,619.1 269.6,372.8 44.3,593.4 48.2,588.2 57.5,572.6 180.4,459 84.3,544 99.1,531.4 267.2,375 269.6,368.1 121.1,517.6 64.2,566.4 17.1,617.6 213.2,421.4 123.1,505.4 185.2,452.7 254,391.3 23.1,608.8 230.3,417.5 195.2,443.9 186.8,450.1 261.7,376.6 122,518.2 53.1,580.4 106,540.3 244.6,394.6 33.7,604.7 177,462.2 89.2,553.5 263.7,385.3 208.3,434.8 91,545.5 115,526.3 276.2,372.5 184,454 271.9,369.6 240.3,402.2 60.1,582.9 215.4,422.1 90,552.4 183.5,466.8 20,604.2 58.8,565.3 278,362.5 184.6,460 58.3,579.6 25.2,611.9 17.3,616.2 8.3,619 58.7,590.9 70,553.2 10.9,616 254.8,388.2 116.2,526 210.6,433.2 29.9,593.9 267.4,374.4 89.9,541 269.3,377.1 93,543.4 249.7,398.8 170.4,470.1 191.2,450.6 274.9,360.6 280.2,367 244.9,392.4 238,405.6 16.2,611.4 264.2,382 183.7,462.5 132.9,513 268.1,378.9 58.9,574.6 95.6,538.3 71,565.1 63.8,571.6 99.7,537.7 40.5,588.4 265.6,377.5 279.7,374.1 76,565.5 78.4,555.5 287.1,360.7 238,405 121.3,515.6 253.4,390.9 59.1,576.4 75,572.7 51.4,577.4 205.8,434.3 90.9,547.3 286,621.5 50.5,579.9 235.4,411.8 221.9,422.6 14.2,621 28.9,602.5 83.9,550.1 182.1,450.8 255.9,396.5 218.9,420.1 196.1,439.4 238.4,416 88.4,548.6 82.8,557.4 203.2,437.7 207.7,433.5 32.9,602 179.1,462.4 268.6,369.1 99.2,536.8 255.5,392.9 198.4,443.7 219.7,419 251.9,394.1 13.6,622.2 69,565.4 36.1,594.8 53,576.7 252.7,394.4 258.6,381.2 52.9,590.4 254,389.6 265.1,388 199.8,449.5 50.6,585.7 43.5,594 242.8,399.5 184,457 219.2,425.9 62.9,570.5 183.9,466.5 66.3,557.2 279.7,372.7 55.9,574.7 61,572.1 22.6,607.5 9,357.2 77.8,565.4 75.1,556.3 77,557.2 43.6,587.4 216.2,437.2 276.1,372.5 89.8,553.2 201.6,446.9 200.2,451 74.1,563.5 88.9,552.8 174.9,463.8 235.7,407.6 119.1,516.3 233.9,416.7 60.9,572.6 84.8,543 41.7,590.5 242.7,407.7 258.2,390.8 89.2,547.5 78.8,560.6 188.6,450.1 277.9,366.6 238.9,410.4 96.6,534.9 109.1,533.7 187.2,459 130.4,511.6 224.3,417.4 278.3,363.8 123.7,515 84.8,552.7 64.8,568.6 129.1,509.9 175.4,461.2 60.3,579.6 40.5,601.8 50.9,584 44,598.2 238.4,412.3 94.8,545.6 283,358 188.5,454.1 200.4,436.6 51.2,589.7 51.3,581.2 66.1,577.6 185.9,451.9 187.6,458.4 279,364.9 121.9,509 236.5,415.5 216,425.2 104.9,537.6 250.3,380.6 34.5,596.3 215.5,431.5 207.4,433.9 95.3,544.6 124.5,520.8 211.3,433.1 128.5,508.8 262.1,385.3 253.1,391.2 220.6,427 118.8,518.3 111.6,527.1 89.9,542.1 249.5,394.7 176.3,472 182.2,452.4 200.7,442.6 92.2,545.9 114.2,523 217.6,424.7 257.6,382 269.1,379.5 100.8,539.9 204.9,430.6 190.2,445.6 232.6,407.3 223.7,416 116.4,520 232.6,425.3 283.4,358.2 28.8,611.1 258.7,390.1 253.8,402.4 38.4,597.1 210.2,425.2 235.2,411.3 44.6,588.3 210.8,434.3 173.1,461.3 238.7,414.1 19.8,611.8 122.9,514.6 183.3,466.4 280.6,367 117.5,519.1 74.5,555.3 104.4,536.6 261,384.6 74.4,562.2 13.2,623.4 19.2,614.6 90.2,546 17,611.9 38.8,592.1 114.6,530.5 195.8,437 10.9,619 9,356.2 13.4,616.6 183,450.6 254.2,388.1 111.1,528.7 37.6,595.3 199.1,438.8 261.3,395.1 25.3,617 192.9,455.2 188.8,454.9 222.5,418.6 53,574.4 106,527 195,448 268.9,377.4 270.9,371.8 40.7,590.5 252.2,389.1 196.7,450.9 279.9,369.5 215.7,427.3 192.6,443.6 87,539.4 116.3,520.3 82.1,545.5 111.4,528.3 47.4,582.7 118.8,527.6 32.3,591.5 100.6,533.9 89.5,555 238,405.4 66.3,565.1 115.8,526.3 8.3,623.1 77.8,565.8 111.7,523 180.5,459.8 280.3,361.7 235.1,407.6 122.7,519.4 30.2,590 36.1,598.3 72.4,558.3 264.5,372.7 29.6,598.8 206.5,440.2 91.2,541.9 73.6,561.8 113.9,518.7 47.9,580.5 204.4,440.6 31.3,608.1 250.7,393.5 20.7,613.3 286.8,361.6 244.4,398.6 279.8,358 83.1,552.7 42.6,586.9 102.4,532.1 12.2,618 76.1,559.5 43.2,586.9 58,575 252.9,392 14.5,608.1 256.4,390.1 34.3,602.8 8.7,618.9 29.9,596.4 260,375 228.4,419.8 257.2,388.3 205.4,440.5 44.7,590.7 267,373.3 169.2,469.4 101.8,538.1 252.9,386.5 246.8,398.8 55.2,582.2 212.7,426.5 86.6,551 95.4,539.6 280.1,359.7 282.2,368.2 92.2,542.8 122.6,514.9 209.7,432.9 26.5,595.5 44.3,591.1 241.3,409.2 207,427 121.8,516.7 231.1,416.5 12.5,620.2 240.2,406.9 36.9,596.1 269.9,371.7 15.3,615.8 48.4,595.6 62.3,571.4 285.3,366.2 36.1,602.9 208.5,434.3 214.3,425.5 19.7,617.5 17.2,615.9 268.1,370.7 213.4,427.2 51.1,586.2 101.8,528 66.7,576.1 240.6,396.5 268.1,374.5 239.1,402.3 98.9,542.1 46.7,588.3 44.6,583.9 27.4,612.1 68.8,570.4 86.2,560.3 55,582 121.1,515.2 25.8,610.3 237,402.3 234,406.6 264,377.4 204.7,439.4 230.1,411.3 179.5,464.7 43.1,592.3 271,383.2 284.6,368.5 175.9,459.4 283.3,371.5 252.2,398.4 195,440.9 277.4,380 97.7,536.7 102.8,529 33.8,596.2 17.6,619.2 74.1,564.3 44.5,582.6 227.6,417.3 188.1,454.2 212.4,426.3 188.4,452.7 203,440 117.3,522.7 280.9,371.3 278.8,374.9 217.7,421.9 238.4,411 276.2,370.8 87.5,553.5 175.3,462.8 252.1,395 218.1,426.8 283.1,372.6 270.9,370.7 66.3,561.8 269.6,374.3 211,428.3 282.5,624.7 29.7,603.8 33.9,605.8 35.7,596.7 214.9,437 222.5,420.5 190.9,458.3 287.9,364.5 247.5,406.8 199.8,449.2 282.9,366.5 228,409 260.4,373.9 245.1,396 78,563.7 253.6,380.2 87.5,552.2 251.8,393.2 224.5,421 66.6,561.9 270.2,371.7 61.1,565.8 89.7,540.1 86.9,555 211.3,418.9 187.7,456.5 221.2,425.5 126.9,514.9 219.4,430.4 93,538 109.9,529.1 202.2,438.2 44.3,589.4 287.1,362.4 266.5,372.4 249.3,392.6 73.7,564.2 262.9,376.4 19.3,607.7 182.2,456 25,607.8 222.1,427 55.9,580.5 279.2,360.3 59.5,577 66.5,573.7 117.4,525.3 289.1,367.9 41.1,580.2 23.1,614.6 70.4,568.2 257.4,383 253.5,391.3 279.6,372 281.1,370.8 252.8,392.8 26.5,606 177.7,468.1 81.3,556.2 202.2,434 233.5,407.8 35.3,591.2 109.8,527.5 217.9,410.5 186.5,458.6 50.4,578.4 288.4,357.2 259.1,389.5 236.1,403.3 38.4,596.5 90.2,552.4 186.1,455.3 226.2,421.1 227.4,430.5 291.4,364.4 86.6,550.2 258.6,389.1 16.7,611.8 9.4,623.4 43.3,593.7 179.4,468.6 59.9,574.4 113.3,526.9 218.4,428.9 203.7,438.4 117.6,517 170.3,468.8 39.3,594.2 181.6,457.7 240.7,398.4 202.1,440.4 27.4,610 276.4,372.5 242.2,397.4 107.3,526.8 112.2,522.5 90.1,551 218.4,414.1 11.5,611.6 12.7,624.5 74.9,561.6 173.2,471.6 184.1,458.3 246.3,395.7 91.4,553 20.1,602.7 232.2,407.7 259.1,389.3 49.9,584.3 272.9,369.3 34.7,598.9 228.5,413.2" fill="none" stroke="none" marker-start="url(#g)" marker-mid="url(#g)" marker-end="url(#g)"/>
<polyline points="151.3,491.1 151.9,483 168.4,473.9 130.3,503.8 160.4,477.1 135.2,503.6 135,504.6 127.7,504.1 139,493.4 157.9,476.9 157.9,482.5 136,499.5 153.7,488.2 158.5,485.5 164.6,480.6 153.2,479.8 131.1,499.8 137.4,500.4 164.7,476.2 136.3,506.6 165,474.1 164.9,476.2 141.7,498.5 163.4,473.8 164.5,480.7 150.4,487.6 145.6,497.8 166.3,481.2 166.1,469.7 136.9,502.4 144.2,489.4 132.8,508.4 162.1,475.7 147.1,497.3 134.4,511.7 132.4,501.3 164.8,471.8 139.1,502.4 165.5,477.9 128.7,497.4 134.6,503.7 156.9,480.2 138.7,500.8 128.4,504.2 142,496.8 127.9,497.7 155.6,487.6 165.3,486.5 159.8,479.3 130,506.2 150.2,483 140.2,486.4 166.2,476.1 140.7,502.4 154.8,484.8 157.9,472.8 142.3,503.5 152.8,482.4 135.3,503.1 149.5,491.8 136.7,495.3 155.3,492.3 164.1,481 158.8,485.9 166.6,473.3 162.1,466.1 150.4,480.2 145,492.9 163.7,472.2 151.4,492 158.5,483.3 151.1,485.2 151.3,488.2 157.7,483.1 153.1,473.1 134.5,508.2 131.1,508.7 169,478.6 159.8,477.1 135.5,487.6 132.7,510.1 150.1,488.5 143.9,494.5 153.2,488.6 126.6,504.3 165.1,479.4 139.3,503.9 144,493.7 132.2,503.1 140,495.3 134.4,502.5 144.4,500.5 165.2,476.7 161.3,487.4 142.1,506.8 145.9,489.5 162.4,488.2 128.3,506 145.9,486.7 136.8,505.2 143.3,502.4 146.8,489.6 169.4,475.9 151.4,484.3 161.3,480.2 144.5,502.9 144.9,494.3 153.8,482.2 158.7,480.5 144.1,499.9 140.9,500.3 144.4,491 152.8,486.4 156.5,485 148.9,489.5 167.8,470 163.9,480.3 140.1,501.8 143.5,491.1 141.3,499.4 167.1,472.4 136.6,506.5 152.5,485.8 157.6,477.1 136.1,506.9 142.7,502.2 167.8,471.6 130.9,506.7 147.7,494.7 157.8,475.9 158.3,480.8 134.4,500.5 167.2,477.9 130.4,505.2 141.9,496 139.6,494.4 143.3,501.1 158.1,480.9 134.1,488 131.7,508.4 165.6,476.5 153.4,488.8 170.8,480.3 142.2,498.1 146.6,495.2 137.9,495 161,472 132.4,507.9 138.1,497.3 169.4,477.1 135,501.4 148.2,490.4 136.3,506.2 133.9,496.8 165.9,471.3 130.1,506.4 171.5,477.9 133.6,509.6 135.1,495.8 151.4,488.7 151.9,480.9 141.5,503.6 147.9,489.6 138.8,491.5 133.6,508.2 133.1,511.1 155.3,488.7 160.2,482.8 126.5,502.3 144.2,490.4 144.8,493.8 135,496 148.1,493.3 154.1,492.4 148.5,493.2 157.4,495.2 142.8,504.6 149.5,491.2 169.7,475.6 164.3,473.9 137.7,499.3 136.5,498.6 144.2,495.8 129.9,495.6 147,490.1 139.5,493.3 146.6,488.1 171.8,473.3 136.6,498.8 147.9,490.9 155.6,493 139.7,499.2 160.2,479.8 163.3,472.9 164.3,477.5 149.3,480.9 164.5,474.7 134.2,509.6 141.3,500.9 138.6,504.2 162.1,478.2 152.6,489 147.2,492.6 141.1,503.6 152.1,486.3 148,497.8 132.7,502.9 155.9,491.3 149.4,483.6 141.1,498.3 159.5,486.1 151.9,488.2 142.7,494.2 152.9,495 128.4,505.2 151.9,483.6 141.9,501.6 141,493.9 126.1,503.2 144.3,493.6 133.8,499.7 156.3,489.2 150.7,493.8 142.1,500.2 126.2,502.4 139.9,500 142.7,492.6 153.4,482.3 137.9,503.9 146.4,491.1 136.8,490.4 139.5,496.3 169.3,472.7 153.8,480 168.5,473.1 127.5,505 144.2,498.9 141.1,499 163.3,478.5 165.5,473.4 137.2,504.2 137.5,499.6 140.6,500.2 165.1,480 142.4,496.3 148.5,495.2 162.4,479.2 143.8,501.4 159.2,476.9 165.8,483.1 143.4,495.4 151.2,489.4 166.2,478.7 139.2,499.8 146,490.4 164.2,480.6 141.3,494.7 134.2,501.4 137.3,499.3 147.2,493.2 128.7,505 158,487.9 152.5,490.3 148.9,486.7 161.4,484.5 151.4,490.2 166.6,473.2 146.6,484.6 140.4,495.7 137.3,496.8 137.5,504.9 152.2,494.5 131.7,505.3 142.8,488.5 133.8,506.6 155.1,484 165.6,472.1 163.8,476.4 152,488.5 135.4,503.4 162.1,489.1 131.6,508 169.5,475.2 138.2,493.8 147.9,491.9 134.8,498 147.8,487.2 139.4,498.3 163.5,477.5 156.1,492.4 165.7,472.6 143.9,488.5 142.4,497.2 133.7,503.4 143.6,503.6 131.1,506.3 141.8,495.2 141.8,492 154.3,489.8 161.9,478.2 163.8,470.8 129.8,505.3 160.7,473.8 145.2,502.3 153.5,489.8 166.1,480.3 134.5,508.7 158.6,474.2 167.6,471.8 146.9,481.9 148.5,486.5 139.8,498.4 167.2,479.1 172.3,475.5 166.9,473.5 148.6,488.3 152.5,486.2 146,494.2 144.4,479.3 128.8,506.7 163.5,473.4 162.7,475.6 160.2,479.1 140.8,497.5 150.4,491.9 141.3,489 146.2,479.7 131.8,503.9 150.4,489.9 169.8,472.3 158.4,475.2 156.4,481.1 139.9,495.8 164,475.5 133.8,499.2 159.1,479.7 159,473.4 141.6,495.1 158.4,474 147.1,498 134.5,507.4 128.3,505.1 160.5,474.8 153.3,481.3 168.6,470.8 155.6,488 162.8,473.7 144.1,494.8 140.8,508.2 154.5,494 134.5,503 147.6,497.7 143.5,494.4 159,480 138.2,487.6 161.5,477 144.8,506.6 159.9,478.2 132.4,507 140.5,489.9 160.6,485.8 134.2,503.6 165.8,472.4 141.5,491.5 169,473.2 143.3,508.2 155.2,479.6 141.9,496.8 140.8,498 171.3,479 161.4,476 150.3,494.9 153.6,491.2 158.2,475.9 149.7,491.8 154.3,488.7 134.1,505.3 149,499.1 150.3,493.9 162.6,482.4 160.6,476.6 159.1,481.8 170,474.2 137.2,506.1 135.1,506.8 137,501 169.4,478.7 159.2,474.1 159.7,484.7 148.6,492.6 166.7,474.3 141.2,497.1 147.2,492.9 141.7,499.2 132.2,510.2 173.5,476.6 132.4,503.9 169,470.1 136.7,501.5 141.8,496.3 139.7,507.4 134.4,509.5 151.2,482.2 149,497.7 145.4,484.3 158.7,482.3 157.4,486.9 134.8,498 151.1,481.8 137.2,505.6 142.4,489.3 138.3,500.6 148.1,484.5 136.7,496.2 132.3,508.4 135.1,501.6 150,500.1 165.8,476.5 141.2,495.7 164.1,481.4 154.1,489 154.4,483.7 159.4,483.6 138.6,500.6 138.9,509 153.5,484.1 147.3,493.4 168,469.4 156.5,482.1 142.8,482.2 148.4,498.4 135.8,500.6 145.5,499.9 157.7,483.3 157.3,494.3 153.1,485.2 161.2,484.7 168.4,471.7 159.1,485.3 161.7,470.6 168.1,481 154.6,475.7 149.5,489.1 132.8,499.4 157.9,483.9 152.2,497.1 148.4,484.4 135.6,498.4 148.4,491.9 156.2,487.5 127.8,503.1 161.2,480.6 137,509.1 130.6,508.6 142.1,490.5 164.5,478.1 152.2,491.2 153.1,489.8 162.4,480 167.1,470.7 143.1,504.3 140.2,500.4 136.6,498.5 141.4,491.7 149,487.8 132.2,504.5 131.3,503.1 153.7,488.4 148.7,481.9 137.1,489.2 134.6,507.3 148.4,486.9 151.4,489.4 137.5,503.3 147,494 150.3,493.1 142.8,491.2 132.8,501.2 154.8,482 154.4,485 163.8,470.2 167.1,472.8 166,474.2 130.7,508.5 159.7,478.8 161.9,467.4 163,477.6 168.4,470.5 132.3,510.3 169,474.5 164.7,472.3 141.2,504.6 138.5,504.8 160.7,485.2 160.3,473.1 155.3,478.9 156.3,489.8 154.4,487.6 131.2,501.2 144.6,491.3 148.4,490.7 135.4,503 139.1,503.5 149.9,494.3 155,483.1 159.2,482.2 161.3,478.5 140.1,494.9 131.8,504.2 149.3,492.1 147,499.3 149.3,490.2 132.2,499.5 152.6,490.1 134.3,510.3 162.9,476.7 135.1,500.7 160.8,474 135.5,495.3 134.4,504.2 152.1,485.8 157.3,476.1 151.8,491.3 148.7,496.7 152.3,476.7 135.4,504.4 157.3,489.8 154.8,494.2 167.7,473.5 138.6,497.7 128.8,500.9 168.9,475.8 167.6,472.1 162.4,475.2 166.9,475.9 170.8,481.1 137.5,492.1 142.5,496.8 155.2,490.4 128.6,506.9 136.3,505 146.1,479.5 148,501.7 145.9,496.2 154.4,481.1 164.5,478.1 165.5,479.9 136.5,506.7 154.8,495.2 152.2,485.8 166.6,477.7 133.7,506.1 140.9,506.6 150.6,487.3 139.3,506.2 154.6,493.1 146.7,496.7 146.3,490.4 162.8,473.6 145.6,499.4 152.2,495.2 152.2,489.2 159,478.8 146.1,496.3 161.8,474.9 166.1,476.8 152.6,486.1 162.4,485.3 139.1,501.9 138.1,495.9 151.1,482.7 162.5,475.5 168,474.8 157.6,482.9 149,487.9 143.2,500.6 126.5,500.7 163,481.4 150.7,484.6 164.2,478.8 166.5,471.4 138,499.9 132.3,498.3 130.9,504.4 138.7,504.5 163.7,477.5 148.1,488.7 155.9,481.1 142.2,490.5 152.7,481.9 142.5,502.3 133.2,507.9 166.3,480.6 150.8,498.8 146.4,497.9 145.8,502.4 145.1,495.6 155,483.5 136.7,506.1 147.9,488" fill="none" stroke="none" marker-start="url(#r)" marker-mid="url(#r)" marker-end="url(#r)"/>
</g>
<rect x="101.1" y="365.8" width="103.9" height="39.8" rx="2" fill="#fff" fill-opacity="0.83" stroke="#cfcfcf" stroke-width="1"/>
<text x="108.1" y="395.1" font-size="24" text-anchor="start" textLength="11.5" lengthAdjust="spacingAndGlyphs" font-style="italic">d</text>
<path d="M112.1 376.5L115.7 370.7L119.3 376.5" fill="none" stroke="#000" stroke-width="1.5" stroke-linejoin="miter"/>
<path d="M128.1 385.7h14.6M128.1 390.5h14.6" stroke="#000" stroke-width="1.9" fill="none"/>
<text x="150.3" y="395.1" font-size="24" text-anchor="start" textLength="48.8" lengthAdjust="spacingAndGlyphs">1.16</text>
<rect x="10.6" y="587.6" width="138.4" height="34.9" rx="2" fill="#fff" fill-opacity="0.83" stroke="#cfcfcf" stroke-width="1"/>
<text x="17.3" y="612" font-size="24" text-anchor="start" textLength="125.8" lengthAdjust="spacingAndGlyphs">uniform 1D</text>
<rect x="7.85" y="354.6" width="284.2" height="270.2" fill="none" stroke="#000" stroke-width="1.5"/>
<path d="M7.8 624.8v6.0M7.8 354.6h-6.0M78.9 624.8v6.0M7.8 422.2h-6.0M150 624.8v6.0M7.8 489.7h-6.0M221 624.8v6.0M7.8 557.2h-6.0M292.1 624.8v6.0M7.8 624.8h-6.0" stroke="#000" stroke-width="1.5" fill="none"/>
<g clip-path="url(#cr1)">
<path d="M388.4 354.6V624.8M487.3 354.6V624.8M586.1 354.6V624.8M349.1 570.8H633.3M349.1 516.7H633.3M349.1 462.7H633.3M349.1 408.6H633.3" stroke="#ababab" stroke-width="1.35" fill="none"/>
<path d="M349.1 570.8H633.3" stroke="#9e9e9e" stroke-width="2.2" stroke-dasharray="8.9 3.9" fill="none"/>
<polygon points="349.1,192 350.1,193.4 351.1,195.8 352.1,200.9 353.1,205.8 354.1,207.5 355.1,208.2 356.1,209.4 357.1,213.3 358.1,220 359.1,223.9 360.1,225 361.1,227 362.1,231.1 363.1,235.2 364.1,238.7 365.1,242.4 366.1,244.6 367.1,246.2 368.1,250 369.1,255.2 370.1,257.6 371.1,257 372.1,258.9 373.1,263.8 374.1,267.2 375.1,269 376.1,271.1 377.1,273.3 378.1,276.5 379.1,282.5 380.1,287.5 381.1,289.2 382.1,292.6 383.1,296.4 384.1,296.9 385.1,298.8 386.1,305.6 387.1,310.9 388.1,315.6 389.1,321.4 390.1,327.4 391.1,333.7 392.1,339.5 393.1,344.5 394.1,349.5 395.1,355.7 396.1,362.8 397.1,368.7 398.1,373.7 399.1,379.6 400.1,376.2 401.1,372.1 402.1,367.4 403.1,369.2 404.1,383.2 405.1,397.2 406.1,403.8 407.1,405.2 408.1,404.3 409.1,405.3 410.1,407.5 411.1,408.1 412.1,408.7 413.1,411.6 414.1,421.5 415.1,432.3 416.1,440.6 417.1,445.3 418.1,450.5 419.1,450.9 420.1,449.8 421.1,449.5 422.1,448.5 423.1,447.7 424.1,448.4 425.1,449.1 426.1,448.8 427.1,448.8 428.1,450.3 429.1,452.6 430.1,455.4 431.1,458.2 432.1,460 433.1,462 434.1,464.3 435.1,466.8 436.1,469.4 437.1,471.4 438.1,473.4 439.1,474.8 440.1,474.8 441.1,474.2 442.1,473.9 443.1,473.8 444.1,474.3 445.1,474.3 446.1,476.6 447.1,478.4 448.1,478.8 449.1,480.2 450.1,480.5 451.1,480.1 452.1,482.5 453.1,486.3 454.1,490.2 455.1,491.9 456.1,492.4 457.1,492.5 458.1,492.4 459.1,491.9 460.1,491.2 461.1,491.6 462.1,492.3 463.1,491.7 464.1,490.5 465.1,490.1 466.1,490 467.1,491.4 468.1,492.8 469.1,493.8 470.1,495.4 471.1,497.5 472.1,499.2 473.1,500.5 474.1,500.9 475.1,501.6 476.1,503.4 477.1,505.3 478.1,507.1 479.1,507.5 480.1,507.2 481.1,507.7 482.1,507.7 483.1,508 484.1,509 485.1,508.8 486.1,508.1 487.1,508.8 488.1,510.6 489.1,511.7 490.1,512.2 491.1,513 492.1,514 493.1,515.8 494.1,517.1 495.1,517.2 496.1,517.8 497.1,519.4 498.1,521.6 499.1,523.8 500.1,524.6 501.1,524.7 502.1,524.8 503.1,525.1 504.1,525.8 505.1,526.1 506.1,526.3 507.1,527.6 508.1,528.9 509.1,528.8 510.1,528.3 511.1,529 512,530.1 513,531 514,531.6 515,532.4 516,533.7 517,535.1 518,536.1 519,536.5 520,537.3 521,538.8 522,540 523,540.9 524,541.6 525,542.1 526,542.6 527,542.9 528,542.8 529,543.3 530,544.5 531,545.3 532,545.6 533,545.6 534,546 535,546.9 536,547.8 537,548.1 538,548.3 539,548.6 540,549.3 541,549.9 542,550.3 543,551.2 544,552.2 545,552.4 546,552.6 547,553.5 548,554.4 549,554.7 550,554.7 551,555 552,555.6 553,556.1 554,556.3 555,556.7 556,557.4 557,558.3 558,558.4 559,558.1 560,558.3 561,558.6 562,558.9 563,559.4 564,559.9 564.2,560.2 564.2,567.8 564,567.9 563,567.9 562,567.4 561,566.5 560,565.9 559,565.5 558,565.5 557,565.5 556,565.4 555,565.2 554,565.3 553,565.2 552,564.8 551,564.6 550,564.6 549,564.6 548,564.4 547,563.8 546,563.1 545,562.7 544,562.4 543,562.3 542,562.7 541,563.1 540,562.6 539,561.9 538,561.8 537,561.9 536,561.6 535,561.4 534,561.3 533,561.4 532,561 531,560.3 530,559.7 529,559.6 528,559.5 527,559.3 526,558.8 525,558.3 524,558 523,557.6 522,557.1 521,556.9 520,556.9 519,556.5 518,555.6 517,555.1 516,554.8 515,554.6 514,554.3 513,553.9 512,553.2 511.1,552.5 510.1,552.2 509.1,552 508.1,551.4 507.1,550.8 506.1,550.6 505.1,550.5 504.1,550 503.1,549.2 502.1,548.6 501.1,548.8 500.1,549.3 499.1,549.6 498.1,549.4 497.1,548.7 496.1,548 495.1,547.6 494.1,547.5 493.1,547.7 492.1,547.6 491.1,547.6 490.1,547.4 489.1,546.4 488.1,546.1 487.1,546.3 486.1,545.8 485.1,545.1 484.1,545 483.1,545 482.1,544.9 481.1,544.8 480.1,544.5 479.1,544.6 478.1,544.9 477.1,545.2 476.1,545.4 475.1,545.1 474.1,545 473.1,544.8 472.1,544.2 471.1,543.4 470.1,542.9 469.1,542.9 468.1,542.3 467.1,542.4 466.1,543.4 465.1,543.7 464.1,543.2 463.1,542.9 462.1,543.3 461.1,544.4 460.1,544.4 459.1,543 458.1,541.3 457.1,540.7 456.1,540.4 455.1,540 454.1,540.3 453.1,541 452.1,541.7 451.1,541.7 450.1,541.5 449.1,541.9 448.1,542 447.1,541.6 446.1,541.9 445.1,542.6 444.1,543 443.1,543.1 442.1,544.3 441.1,545.3 440.1,545.2 439.1,545.8 438.1,546.2 437.1,546.2 436.1,547 435.1,547.5 434.1,547.8 433.1,547.8 432.1,547.6 431.1,547.8 430.1,548.2 429.1,548.1 428.1,548.1 427.1,548.3 426.1,547.7 425.1,547.4 424.1,548.4 423.1,549.6 422.1,549.7 421.1,549.3 420.1,549.3 419.1,549.5 418.1,550.3 417.1,551.5 416.1,553.1 415.1,553.5 414.1,553.1 413.1,553.2 412.1,552.8 411.1,552.7 410.1,553.6 409.1,553.8 408.1,553.1 407.1,551.9 406.1,551.5 405.1,552.3 404.1,551.9 403.1,550.9 402.1,550.5 401.1,551 400.1,551.4 399.1,549.9 398.1,548.2 397.1,548 396.1,548.2 395.1,548.2 394.1,547.7 393.1,546.9 392.1,546.8 391.1,547.7 390.1,547.7 389.1,546.8 388.1,546.9 387.1,547.3 386.1,548.3 385.1,549.2 384.1,549.3 383.1,549.2 382.1,548 381.1,547.2 380.1,547.2 379.1,547.1 378.1,546.9 377.1,546.8 376.1,546.1 375.1,544.9 374.1,543.7 373.1,543.9 372.1,544.7 371.1,544 370.1,543 369.1,542.5 368.1,540.6 367.1,537.8 366.1,536.9 365.1,539.5 364.1,541.4 363.1,541 362.1,541.5 361.1,543 360.1,543.9 359.1,544.6 358.1,544.8 357.1,544.5 356.1,543.7 355.1,543.4 354.1,543.5 353.1,543 352.1,541.9 351.1,541.9 350.1,543.1 349.1,543.3" fill="#d1283f" fill-opacity="0.26" stroke="#d1283f" stroke-opacity="0.4" stroke-width="1.2" stroke-linejoin="round"/>
<polygon points="564.2,560.2 565.2,560.4 566.2,560.5 567.2,560.6 568.2,560.2 569.2,559.8 570.2,560.1 571.2,560.8 572.2,561.4 573.2,561.6 574.2,561.5 575.2,561.9 576.2,562.1 577.2,561.9 578.2,562 579.2,562.2 580.2,562.3 581.2,562.7 582.2,563.3 583.2,563.6 584.2,563.4 585.2,563.4 586.2,563.5 587.2,563.4 588.2,563.5 589.2,563.5 590.2,563.5 591.2,563.4 592.2,563.6 593.2,564.2 594.2,564.3 595.2,564.2 596.2,564.3 597.2,564.2 598.2,564.4 599.2,565.2 600.2,565.8 601.2,565.4 602.2,565.1 603.2,565.6 604.2,566 605.2,566 606.2,565.8 607.2,566 608.2,566.6 609.2,566.7 610.2,566.9 611.2,567.2 612.2,566.9 613.2,567.1 614.2,567.5 615.2,567.6 616.2,567.7 617.2,567.7 618.2,567.5 619.2,567.2 620.2,567.4 621.2,567.9 622.2,568.2 623.2,568.3 624.2,568 625.2,568.2 626.2,568.7 627.2,568.4 628.2,568.1 629.2,568.2 630.2,568.6 630.8,568.8 630.8,571.6 630.2,571.8 629.2,571.7 628.2,571.4 627.2,571.3 626.2,571.4 625.2,571.3 624.2,571.2 623.2,571.2 622.2,571.1 621.2,571.1 620.2,571 619.2,570.9 618.2,571.1 617.2,571.2 616.2,570.8 615.2,570.7 614.2,570.7 613.2,570.7 612.2,570.6 611.2,570.4 610.2,570.6 609.2,571 608.2,570.8 607.2,570.6 606.2,570.5 605.2,570.5 604.2,570.7 603.2,570.7 602.2,570.5 601.2,570.3 600.2,570.2 599.2,570.3 598.2,570.4 597.2,570.3 596.2,570.2 595.2,570.1 594.2,569.9 593.2,569.7 592.2,569.7 591.2,569.8 590.2,569.7 589.2,569.6 588.2,569.7 587.2,569.7 586.2,569.5 585.2,569.2 584.2,569 583.2,568.9 582.2,568.8 581.2,568.8 580.2,569 579.2,569 578.2,569 577.2,569 576.2,568.8 575.2,568.5 574.2,568.4 573.2,568.6 572.2,568.7 571.2,568.1 570.2,568 569.2,568.2 568.2,567.9 567.2,567.8 566.2,567.9 565.2,567.9 564.2,567.8" fill="#505050" fill-opacity="0.3" stroke="#505050" stroke-opacity="0.55" stroke-width="1.2" stroke-linejoin="round"/>
<polyline points="350.4,379.5 358.6,451.9 366.5,463.8 373.1,489.2 378.8,491.3 383.9,490.2 388.4,497.8 392.5,501 396.2,501 399.7,503.8 402.8,507 405.8,507 408.6,510.8 411.2,510.8 413.6,510.8 416,508.6 418.2,510.8 420.3,509.7 422.2,508.6 424.2,513.5 426,513.5 427.7,514.8 429.4,514.6 431,513.6 432.6,513.3 434.1,513.4 435.6,514.1 437,515.7 438.3,516.6 439.7,517.1 440.9,517.1 442.2,517.6 443.4,518.2 444.6,518.7 445.7,518.9 446.8,519 447.9,519.1 449,519.8 450,521.1 451,522 452,522.4 453,522.2 453.9,522 454.8,522.4 455.7,522.6 456.6,522.1 457.5,521.8 458.3,521.5 459.2,521.5 460,521.9 460.8,522.5 461.6,522.4 462.4,522.2 463.1,521.6 463.9,521.3 464.6,521.8 465.3,522 466,522.2 466.7,522.4 467.4,521.9 468.1,521.9 468.8,521.9 469.4,522 470.1,522.5 470.7,522.5 471.3,522.5 471.9,523 472.6,523.1 473.2,523.3 473.7,523.2 474.3,523.5 474.9,524.2 475.5,524.5 476,524.7 476.6,524.8 477.1,525 477.7,525 478.2,525.4 478.7,525.8 479.3,526.1 479.8,526.5 480.3,526.6 480.8,526.8 481.3,527 481.8,527.3 482.3,527.7 482.7,528.1 483.2,528.6 483.7,528.8 484.1,529.3 484.6,529.5 485.1,529.6 485.5,529.8 486,529.7 486.4,530.2 486.8,530.7 487.3,531 487.7,531.4 488.1,531.2 488.5,531.3 488.9,531.2 489.4,531.2 489.8,531.6 490.2,531.9 490.6,532.1 491,532.2 491.4,532.1 491.7,532.3 492.1,532.6 492.5,533 492.9,533.4 493.3,533.6 493.6,533.9 494,534 494.4,534 494.7,534.2 495.1,534.5 495.4,535.1 495.8,535.8 496.1,536.1 496.5,536.3 496.8,536.7 497.2,536.8 497.5,536.8 497.9,536.5 498.2,536.8 498.5,537.2 498.9,537.8 499.2,538.1 499.5,538.2 499.8,538.4 500.1,538.6 500.5,539 500.8,539.3 501.1,539.3 501.4,539 501.7,539 502,539.2 502.3,539.7 502.6,540 502.9,540.1 503.2,540 503.5,540 503.8,540.3 504.1,540.7 504.4,541.1 504.7,541.1 505,541 505.2,541 505.5,541.4 505.8,541.4 506.1,541.2 506.4,541 506.6,540.9 506.9,541.3 507.2,541.8 507.4,542 507.7,542.1 508,542 508.2,541.9 508.5,541.9 508.8,541.9 509,541.9 509.3,541.9 509.5,541.9 509.8,542.1 510,542.3 510.3,542.5 510.5,542.5 510.8,542.6 511,542.7 511.3,542.7 511.5,542.8 511.8,542.6 512,542.8 512.3,543.1 512.5,543.5 512.7,543.8 513,544 513.2,543.9 513.4,543.9 513.7,543.9 513.9,544.2 514.1,544.3 514.4,544.5 514.6,544.6 514.8,544.7 515,544.9 515.3,544.9 515.5,545.1 515.7,545.1 515.9,545.3 516.2,545.5 516.4,545.6 516.6,545.8 516.8,545.8 517,545.8 517.2,545.8 517.5,546 517.7,546.2 517.9,546.3 518.1,546.4 518.3,546.3 518.5,546.6 518.7,546.6 518.9,546.7 519.1,546.8 519.3,547 519.5,547.2 519.7,547.3 519.9,547.4 520.1,547.5 520.3,547.6 520.5,547.9 520.7,548.1 520.9,548.3 521.1,548.2 521.3,547.9 521.5,547.8 521.7,547.9 521.9,548 522.1,548.2 522.3,548.5 522.5,548.8 522.6,549.1 522.8,549.2 523,549 523.2,549 523.4,549 523.6,549.2 523.8,549.4 523.9,549.5 524.1,549.5 524.3,549.6 524.5,549.6 524.7,549.6 524.9,549.7 525,549.9 525.2,550.1 525.4,550.3 525.6,550.5 525.7,550.5 525.9,550.6 526.1,550.4 526.3,550.5 526.4,550.5 526.6,550.6 526.8,550.7 526.9,550.8 527.1,550.9 527.3,551 527.5,551.2 527.6,551.5 527.8,551.7 528,551.8 528.1,551.6 528.3,551.5 528.5,551.4 528.6,551.6 528.8,551.8 528.9,552.1 529.1,552.3 529.3,552.4 529.4,552.3 529.6,552.3 529.7,552.3 529.9,552.5 530.1,552.7 530.2,552.8 530.4,552.8 530.5,552.8 530.7,552.9 530.9,553.1 531,553.2 531.2,553.3 531.3,553.3 531.5,553.3 531.6,553.4 531.8,553.5 531.9,553.6 532.1,553.7 532.2,553.7 532.4,553.8 532.5,553.9 532.7,554.1 532.8,554.2 533,554.2 533.1,554.2 533.3,554.1 533.4,553.9 533.6,554 533.7,554.1 533.9,554.2 534,554.2 534.1,554.2 534.3,554.2 534.4,554.4 534.6,554.5 534.7,554.6 534.9,554.6 535,554.7 535.1,554.9 535.3,555 535.4,555 535.6,554.9 535.7,554.9 535.8,554.9 536,554.9 536.1,555 536.3,555.2 536.4,555.4 536.5,555.6 536.7,555.6 536.8,555.5 536.9,555.5 537.1,555.5 537.2,555.5 537.3,555.5 537.5,555.5 537.6,555.7 537.7,555.8 537.9,555.9 538,556.1 538.1,556.1 538.3,556.1 538.4,556.1 538.5,556.1 538.7,556.2 538.8,556.2 538.9,556.2 539,556.3 539.2,556.4 539.3,556.4 539.4,556.4 539.6,556.3 539.7,556.3 539.8,556.5 539.9,556.6 540.1,556.8 540.2,556.8 540.3,556.8 540.4,556.8 540.6,556.7 540.7,556.8 540.8,556.8 540.9,556.7 541.1,556.8 541.2,556.8 541.3,557.1 541.4,557.2 541.5,557.2 541.7,557.3 541.8,557.2 541.9,557.3 542,557.4 542.1,557.3 542.3,557.4 542.4,557.4 542.5,557.6 542.6,557.7 542.7,557.7 542.9,557.6 543,557.4 543.1,557.5 543.2,557.7 543.3,557.7 543.4,557.7 543.6,557.8 543.7,557.9 543.8,558 543.9,558 544,558.1 544.1,558.1 544.2,558.2 544.4,558.3 544.5,558.4 544.6,558.4 544.7,558.3 544.8,558.2 544.9,558.1 545,558.2 545.1,558.3 545.3,558.4 545.4,558.5 545.5,558.4 545.6,558.4 545.7,558.3 545.8,558.3 545.9,558.3 546,558.5 546.1,558.8 546.2,558.9 546.4,558.9 546.5,558.6 546.6,558.6 546.7,558.7 546.8,559 546.9,559.3 547,559.3 547.1,559.1 547.2,559 547.3,559 547.4,559 547.5,559.1 547.6,559.1 547.7,559.1 547.8,559.1 547.9,559.2 548.1,559.4 548.2,559.5 548.3,559.5 548.4,559.5 548.5,559.6 548.6,559.7 548.7,559.6 548.8,559.5 548.9,559.6 549,559.7 549.1,559.8 549.2,559.9 549.3,560 549.4,559.9 549.5,559.7 549.6,559.6 549.7,559.5 549.8,559.7 549.9,559.8 550,559.9 550.1,560 550.2,560 550.3,560.1 550.4,560 550.5,560.2 550.6,560.2 550.7,560.2 550.8,560.2 550.9,560.2 551,560.2 551.1,560.2 551.2,560.3 551.3,560.5 551.4,560.6 551.5,560.7 551.6,560.6 551.7,560.5 551.7,560.4 551.8,560.4 551.9,560.5 552,560.6 552.1,560.6 552.2,560.5 552.3,560.5 552.4,560.6 552.5,560.6 552.6,560.8 552.7,560.8 552.8,560.9 552.9,561 553,561.1 553.1,561.2 553.2,561 553.3,560.8 553.3,560.6 553.4,560.7 553.5,560.9 553.6,560.9 553.7,561 553.8,561 553.9,561.2 554,561.3 554.1,561.2 554.2,561.1 554.3,560.9 554.3,560.9 554.4,561 554.5,561.2 554.6,561.3 554.7,561.3 554.8,561.2 554.9,561.1 555,561.1 555.1,561.3 555.1,561.3 555.2,561.3 555.3,561.2 555.4,561.2 555.5,561.1 555.6,561.1 555.7,561.1 555.8,561.2 555.8,561.3 555.9,561.3 556,561.3 556.1,561.3 556.2,561.4 556.3,561.4 556.4,561.3 556.5,561.3 556.5,561.5 556.6,561.6 556.7,561.5 556.8,561.4 556.9,561.3 557,561.4 557,561.5 557.1,561.5 557.2,561.6 557.3,561.5 557.4,561.4 557.5,561.4 557.6,561.4 557.6,561.4 557.7,561.5 557.8,561.5 557.9,561.6 558,561.5 558.1,561.4 558.1,561.4 558.2,561.6 558.3,561.8 558.4,561.8 558.5,561.8 558.5,561.7 558.6,561.7 558.7,561.8 558.8,561.7 558.9,561.6 558.9,561.7 559,561.8 559.1,562 559.2,562 559.3,562 559.4,562 559.4,562.1 559.5,562 559.6,562 559.7,561.8 559.8,561.7 559.8,561.7 559.9,561.7 560,561.7 560.1,561.7 560.1,561.8 560.2,561.9 560.3,562 560.4,562 560.5,562 560.5,562.1 560.6,561.9 560.7,561.9 560.8,561.9 560.8,561.9 560.9,562 561,562 561.1,562.1 561.2,562.1 561.2,562.1 561.3,562.1 561.4,562.1 561.5,562.1 561.5,562.2 561.6,562.2 561.7,562.1 561.8,562.2 561.8,562.3 561.9,562.3 562,562.3 562.1,562.1 562.1,561.9 562.2,561.9 562.3,561.9 562.4,562 562.4,562 562.5,561.9 562.6,561.9 562.7,561.9 562.7,562 562.8,562.1 562.9,562.3 563,562.3 563,562.2 563.1,562.2 563.2,562.1 563.3,562.2 563.3,562.3 563.4,562.4 563.5,562.3 563.5,562.5 563.6,562.4 563.7,562.4 563.8,562.3 563.8,562.3 563.9,562.4 564,562.3 564.1,562.3 564.1,562.3 564.2,562.4" fill="none" stroke="none" marker-start="url(#m)" marker-mid="url(#m)" marker-end="url(#m)"/>
<polyline points="564.2,562.4 565.7,562.7 567.2,563.1 568.7,563.4 570.2,563.8 571.7,564.2 573.2,564.5 574.7,564.8 576.2,565 577.7,565.3 579.2,565.5 580.7,565.7 582.2,565.9 583.7,566.1 585.2,566.3 586.7,566.5 588.2,566.6 589.7,566.8 591.2,567 592.7,567.1 594.2,567.3 595.7,567.5 597.2,567.6 598.7,567.8 600.2,568 601.7,568.1 603.2,568.3 604.7,568.5 606.2,568.6 607.7,568.7 609.2,568.8 610.7,568.9 612.2,568.9 613.7,569 615.2,569.1 616.7,569.2 618.2,569.3 619.7,569.3 621.2,569.4 622.7,569.5 624.2,569.6 625.7,569.7 627.2,569.7 628.7,569.8 630.2,569.9 630.8,569.9" fill="none" stroke="#000" stroke-width="3" stroke-linecap="butt" stroke-linejoin="round"/>
</g>
<rect x="351.9" y="587.6" width="138.4" height="34.9" rx="2" fill="#fff" fill-opacity="0.9" stroke="#cfcfcf" stroke-width="1"/>
<text x="358.6" y="612" font-size="24" text-anchor="start" textLength="125.8" lengthAdjust="spacingAndGlyphs">uniform 1D</text>
<rect x="349.05" y="354.6" width="284.2" height="270.2" fill="none" stroke="#000" stroke-width="1.5"/>
<path d="M633.3 624.8h6.0M633.3 570.8h6.0M633.3 516.7h6.0M633.3 462.7h6.0M633.3 408.6h6.0M633.3 354.6h6.0M388.4 624.8v6.0M487.3 624.8v6.0M586.1 624.8v6.0M349.1 624.8v3.6M358.6 624.8v3.6M366.5 624.8v3.6M373.1 624.8v3.6M378.8 624.8v3.6M383.9 624.8v3.6M418.2 624.8v3.6M435.6 624.8v3.6M447.9 624.8v3.6M457.5 624.8v3.6M465.3 624.8v3.6M471.9 624.8v3.6M477.7 624.8v3.6M482.7 624.8v3.6M517 624.8v3.6M534.4 624.8v3.6M546.8 624.8v3.6M556.4 624.8v3.6M564.2 624.8v3.6M570.8 624.8v3.6M576.5 624.8v3.6M581.6 624.8v3.6M615.9 624.8v3.6M633.3 624.8v3.6" stroke="#000" stroke-width="1.5" fill="none"/>
<text x="645.6" y="634.3" font-size="24" text-anchor="start" textLength="12.2" lengthAdjust="spacingAndGlyphs">0</text>
<text x="645.6" y="580.3" font-size="24" text-anchor="start" textLength="12.2" lengthAdjust="spacingAndGlyphs">1</text>
<text x="645.6" y="526.2" font-size="24" text-anchor="start" textLength="12.2" lengthAdjust="spacingAndGlyphs">2</text>
<text x="645.6" y="472.2" font-size="24" text-anchor="start" textLength="12.2" lengthAdjust="spacingAndGlyphs">3</text>
<text x="645.6" y="418.1" font-size="24" text-anchor="start" textLength="12.2" lengthAdjust="spacingAndGlyphs">4</text>
<text x="645.6" y="364.1" font-size="24" text-anchor="start" textLength="12.2" lengthAdjust="spacingAndGlyphs">5</text>
<text transform="translate(682.0 490.2) rotate(-90)" font-size="24" text-anchor="middle" textLength="233.7" lengthAdjust="spacingAndGlyphs">estimated dimension</text>
<text x="150.3" y="669.1" font-size="26" text-anchor="middle" textLength="38.4" lengthAdjust="spacingAndGlyphs">(e)</text>
<text x="491.1" y="669.1" font-size="26" text-anchor="middle" textLength="31.4" lengthAdjust="spacingAndGlyphs">(f)</text>
<g clip-path="url(#cl2)">
<polyline points="261,740.3 14.2,703.4 38.1,732.6 235.6,683.3 69.8,707.8 291.6,923.6 215,931.9 289.8,914.1 18,933.9 275.8,920.8 284.3,871.7 131.5,692.5 71.9,696.4 60.7,933.4 14.1,809.3 94.6,928.8 29.7,710.7 86.2,695.9 277.4,735.6 17.1,691.8 17.3,936.5 282.4,940.8 59.3,695.4 287.3,765.4 25.6,947 289.5,945.2 242,941.8 254.2,924 45.1,712.4 9.1,948.1 36.2,742.3 241.3,942.1 72.9,691.3 265.3,691 43.6,937 280.2,934.1 24.8,941.8 243,938.7 24.7,678.9 254.4,942.1 253.3,743.1 260.6,914.1 288.1,932.8 51.3,924.4 24.4,943.9 76.8,914.2 9.4,856.9 22,680.3 288.5,919.9 178.7,686.4 277.2,858.1 289.2,946.8 72.7,922.8 280.4,888.2 291.9,684.9 248.9,893.4 64.5,948.8 291.9,889.1 244.6,920.9 14.8,947.6 290.6,790.6 285.1,911.3 105.8,938.8 138.8,687.8 261.2,906.9 235.8,938.3 269.4,916.9 268.2,765.3 255.3,906.6 265.9,933.2 287.5,706.3 291.8,682.7 11.6,935.9 17.1,900.7 62.4,931.9 234.5,697.4 19.8,939.2 254.4,680.5 9.3,685.3 9.8,702 277.6,922.3 11.7,804.8 14.2,924 209.2,944.4 280.8,914.6 281.1,773.1 186.1,692.4 281.6,687.5 291.8,931.3 25.4,922.3 285,892.8 35.6,716.3 28.3,940.4 276.4,681.5 276,688.2 46,701.6 44.9,699 241,694.1 278,865.6 27.8,948.6 284,682.3 20.6,947.8 279.7,692.3 291.1,713.6 222,943.7 31.6,936.6 275.4,896.8 24.9,753.1 273.8,794.3 55.1,944 38.6,918.3 266.5,941.5 32.1,897.4 22.9,758.9 20.8,933.5 279.9,774.7 18.6,758 268.5,924.6 41,946.5 17.9,886 32.8,702.9 291.1,696.2 12.6,820.7 28.2,688.3 25.9,938.4 24.1,946.1 27,873.3 86.1,944.2 261,703.8 286,696.4 33.9,937.1 38.1,692.8 258.7,908.6 32.8,871.4 196.3,701.1 54.2,682.6 53.8,943.3 16.1,766.9 210.9,706.5 15.2,700.5 47.8,944.9 248,904.4 183.1,697 282.4,940.9 273.9,947.1 260.3,938.1 93.6,923.5 157.5,680.2 52,683.3 59.8,918.7 26.8,937.7 25.5,688.3 263,920 10.4,746.5 272.5,780.7 288.9,717.2 286.4,944.5 45.3,930.3 97,946.7 10.1,858.3 75.4,935.1 74.4,913.4 285.5,803 51,926.2 48.8,719 291.7,703.8 11.8,912.4 229.9,941.3 263.7,930.3 265.5,933.3 125,684.2 10.2,774.8 52.6,709.3 233.2,925.1 240.2,695.3 146.1,943.9 31.5,905.6 275.7,928.7 10.6,683.3 28.3,700.3 68.7,945.6 291.4,714.4 17.6,737.1 31,707.1 69.8,681.4 52.1,692.2 222.4,689.3 269.3,916.6 14.2,932.8 235,715.6 266.3,948.3 280.1,756 9.9,897.8 261,907.7 62.1,720.1 273.8,689.6 274,944.7 39.3,716.1 250.3,937 30.6,680.5 276.4,747.9 10.9,871.9 66.5,939 18.5,724.3 66.2,689.4 15.1,943.5 50,943.4 19.5,764.7 14.9,724.6 51.4,918.5 20.7,942.9 291.9,764.9 271.6,941.9 289.8,943.6 286.2,692.8 27.8,891.7 31.4,917 51.2,711.2 290.7,689.1 55.5,935.8 279.4,684.9 92.1,937.8 289.1,733.1 41.6,679.2 251.3,945.2 21.3,743.9 274.3,862.7 10.7,848.1 80.9,936.9 127.8,679.7 284.1,760.1 250.7,706.6 288.5,934.1 286.2,682.8 290.8,682.2 25.7,927.3 175.4,686.7 286.9,685.4 279,850.8 82.2,944.9 276.8,930.2 228.9,716.2 20.7,948.9 265.5,919.2 284.1,913.6 250.8,905.1 21.4,922.2 285.6,687.8 17.7,687.1 50.6,687 278.3,839.4 281,926 286.3,739.3 121.7,943.2 247.5,943.9 89.4,941.5 41.5,935.4 26.9,714.1 284.7,685.3 24.9,707.2 15.1,801.7 25.8,692.4 139,945.4 256.4,734.9 253.3,735.3 269.9,935.8 87.8,938.3 248.8,714.8 267,896.4 272.2,713.5 290.3,938.3 265.3,876.6 14.8,763.9 268.8,681.2 288.7,689.4 273.9,890.5 262.9,692.3 262.1,948.5 291.7,942.8 279.8,903.3 50,930.7 21.8,782.5 282.2,691.7 13.9,685.3 259.9,921.9 270.3,710.1 100.8,684.6 12.6,680.8 36.6,695.1 14.3,874.3 20.9,680.5 10.1,689.7 49.7,700.7 19.6,780.8 231.9,936.7 11.6,935.8 274.2,947.4 18,928.4 12.8,688.5 283.7,684.7 10.6,695.5 99.3,691.8 283.3,709.8 278.9,937.3 264,703.3 289.6,730.6 41.7,685.5 259.7,701 288.1,918.6 43.1,686.4 16.5,944.6 260.5,685.2 50.9,714.5 14,946.1 124.3,688.4 13.4,691.1 243.1,910.5 19.1,682.1 8.2,922.7 259.1,884.6 8.6,889.1 68.7,701.2 275.2,828.9 261.2,934.4 18.3,913.3 280.9,736.2 24.1,903.9 283.9,700.1 271.4,679.9 74.6,922.1 43.7,690.8 59.9,931.6 183.8,945.7 14.7,733.6 24.1,729.7 275.5,682.6 48.2,684.5 97.4,943.5 283.5,915 202.6,940 289,693.7 219.3,940.2 26.6,886.1 21.4,946.4 14.9,948.2 200,938.4 36.2,930.7 22,736.5 19.5,939.1 8.1,726.5 267.8,934.5 256.9,917.4 260,724.2 73,713.6 41.9,694.1 285.4,731.5 35.5,680.5 25.9,696.3 286.2,945.3 23.4,908.3 11.6,690.3 20.7,926.2 287.8,907.5 273.9,902.7 270.9,686.2 22.2,830.3 34.7,710.3 266,696.9 41.5,683.5 24.5,902.8 282.5,906.2 17.6,853.6 206.4,685.2 26.5,940.7 283,781.3 51,899.4 11.3,938.1 288.3,830.4 206.4,932.7 244.3,892.8 28.8,945.2 9.1,928.7 36.1,699.2 13.4,699.2 27.3,903.8 46.6,929.2 267.6,916.8 36,943.9 273.1,944.7 33.6,904.7 18.2,693.8 32.2,734.4 223.7,933.3 283.8,727 10.7,919.9 197.6,945.7 14.3,725.3 270.3,906.2 167.5,690.7 11.7,862.1 291.2,938 278.1,867.3 49.6,908.7 261.7,692.9 46,705.5 284,927 256.7,690.7 17.4,933.3 24.9,891.6 28.7,730.6 262.3,910.5 290.5,902.6 36.3,695.3 39.7,925.4 49.4,938.2 35.2,723.1 8.2,681.2 288.6,857.4 275.6,738.6 239.9,935.7 249.8,680.8 284,936.9 35.9,873.9 11.4,715.9 257.9,901.5 284.4,814.6 248.1,903.8 249.7,692.4 289.4,688.2 286.8,683.2 26.1,680 17.5,742.7 262,945.8 285.7,945.4 23.7,942.3 239.1,706.1 30,867.1 18.5,923.6 289,687.5 290.7,785.4 263.1,934.6 23.9,892.3 285,913.4 11.2,706.2 38.8,682.2 279.7,758.4 77.2,921.6 272.8,698.1 286.4,697.4 142,692.5 38.3,938.2 29.6,946.3 14.6,906.8 286.2,836.9 37.4,697.4 18.8,907.3 8.4,944.2 18.1,747.5 287.2,854.3 11.3,927.9 20.4,726.8 275.9,925.3 37.5,889.3 16.3,687.4 276.8,696.2 262.8,909.3 20.2,851.9 250.8,939.1 73.4,684.7 248,913.2 11.2,867.4 114.9,693.3 14.2,944.2 266.9,934.5 54.3,940.5 209.9,679 210,703.3 34.5,930.9 21,863.2 187.5,698 24,946.9 268.8,860 235.1,711.9 264.1,907.8 25.9,737.3 289.4,891.3 22.6,947.1 30.7,947.6 260.1,691.2 66.6,925.9 240.5,946.6 57.9,714.5 62,681.2 238.9,691.2 18.2,682.1 275.5,684.5 270,691.5 57.6,682.1 237,705 288.2,689.3 54,936.2 291.2,738.6 236.1,685.8 8.4,888.1 249.6,725.6 31.6,680.2 269.5,710.8 180.6,679.4 147.8,941.7 10,710.9 275,719.6 268.8,936.1 39.4,683.4 44.3,895.4 87.4,698.5 17.2,948.3 53.2,681.9 194.4,692.2 35.2,925 254.7,716.8 255.9,696.2 8.6,792.3 289,739.5 277.4,753.1 67.8,696.1 217.9,946.2 11.9,770.7 50.2,917.8 52.5,943.8 12.3,684.8 16.7,942.6 291.5,913.8 42.1,740.4 48.4,681.2 28.6,867.9 104.1,689.7 145.2,947.9 266.5,913.3 289.7,779.7 32.9,770 38.8,938.3 40,686.2 12,696.7 29.7,735.5 7.9,701.3 20.7,834 284.3,916.7 285.2,689 257.5,730.3 267.1,705.2 11.9,718.8 273.7,696 283.6,944 278,684.6 289.8,700.2 289.9,840.7 286,740 120.4,687.3 279.2,700.2 290,691.9 285.3,696.3 158.1,947.9 8.5,696.7 234.4,715.6 286.9,683 102.8,936.3 287.8,691.7 9.8,680.3 89.1,933.8 85.9,697.8 105.7,926.3 19.2,943.5 276.6,931.8 36.4,943.5 242.1,709.2 69.8,942.2 29.4,925 14.5,924.9 253.7,691.4 277.7,926.2 45.4,694.8 237.3,711.6 205,692.8 191.2,926.8 253.8,941.1 248.7,941.9 13.9,845.1 21.6,761.7 248.8,690 53.4,945.1 287.4,694.2 275.3,705.6 37,941.1 14.8,911.5 257.1,704.8 74.6,687.6 283.9,724.8 59.9,691.9 101.9,946.5 254.2,711.6 9.6,690 219.1,701.1 270.8,948.7 64.1,932.1 278.3,931.2 124.2,946.1 81.9,678.9 249.3,714.9 274.2,857.5 9.9,691.9 283.3,914.3 282,939.2 223.6,691.2 16.3,931.4 16,694.2 159,683 111.3,935.6 58,942.1 26.6,751.7 248.2,685.9 285.8,699.4 277.2,741.8 277.2,683.9 16.6,754.8 238.1,713.5 246.3,718.4 281.9,711.3 291.4,946.2 274.6,942.3 16.6,875.7 290.1,924.3 20.9,788.7 38.5,886 271.3,908.1 30.4,852.5 49.6,728.4 55.2,703.6 32.4,749.2 8.2,688.1 237.4,727.8 16.8,688.6 282.1,789.6 46.6,919.4 281.4,689.4 8,691.5 58.5,911.6 106.7,680.9 286.5,757.7 281.7,942.3 277.1,679.5 264.5,686.5 77,713.8 283.8,698.2 286.5,722.5 12.3,696.3 286.1,935.8 48.3,687.7 239.1,709.7 31.8,922.6 272.3,940.6 264.6,932.5 65.4,684.1 268,920.4 273.1,852.2 255.4,939.9 12.7,929.3 271.4,700.4 270.3,933.2 157.4,938.4 13.1,921.7 277.3,902.6 31,685.8 273.1,683 238.4,947.4 244.9,905.8 285.4,702 32.5,700.2 283.5,927.4 246.6,697.3 91.1,699.1 271.8,683.6 112.9,935.4 12.2,684.5 14.4,936.1 263.8,707.1 23.7,740.3 25.5,898.2 40.2,698.8 273.5,935 21.3,722.2 25.2,888.7 259.6,943.9 59.4,923.8 101,944.9 265.8,757.8 93.8,942 11.3,934.7 279.6,940 32.4,681.9 263.8,684.4 263.6,695.3 8.2,686.7 290.1,946.7 16.5,892.4 19.6,787.7 58,900 24.6,680.7 9.4,911.5 14.7,708.4 85.1,701.2 253.9,728.1 210.6,708.2 8.3,914.6 210.6,946 273.5,937.7 23.9,710.5 25.8,888.8 230,916.7 25.9,908.3 282.7,708.5 32.6,883.6 235.1,921.5 14,698.4 42.2,707.6 26.4,754.3 279,939.3 287.4,940.5 23.8,732.7 93.9,685.5 287.7,709.5 101.1,683.2 37.7,719.5 73.2,692 29.9,686.3 20.8,692.9 287.2,774.8 254.8,930.8 13.3,697.6 289.7,925.6 248.9,910.9 279.8,940.8 16.2,694.2 266.2,939.7 8.4,730.9 54.2,730.6 70.1,925.8 38.6,943.2 268.8,714.1 96.9,687 288.9,862.9 289.9,944.9 86.2,938.9 286.8,927.8 190.2,678.9 223.3,695.5 279.8,899.6 262,703.4 261.9,684.1 260.4,684.9 23.1,729.3 9.1,947.5 250,687.8 260,683 286.9,696.1 288.5,870.9 32.7,918.4 52.9,945.1 68.6,717.9 255.8,689 240.9,686.6 283,700.1 287.6,694.7 19.6,934.1 13.5,913.7 80.7,682.9 280.7,709.2 237.1,714.6 22.5,692.7 283.5,937.9 271.4,719.3 30.6,728.4 270.7,726.4 282.5,705.3 7.9,717.6 186,685.9 13,679.1 290.7,749 234.2,936.2 238.7,915.9 12.1,708.3 28.2,922.6 242.2,719.1 225.4,920.6 279.7,902 16.5,850.3 288,945.4 163.7,946.8 272.3,938 74.2,696.6 275.9,719 256.7,894.3 225.2,691.2 176.7,943.4 39.1,946.6 280.7,948.7 234.9,910.3 80.2,944.4 271.5,708.8 24.5,679.6 248.2,926.3 29,688.5 234.3,944.2 10.8,906.4 215.4,701.8 274.8,938.7 44.4,696.6 279.5,866.8 31.5,699 29.4,873.8 274,731.2 214.4,927.4 30.7,939.2 195,685.7 262.1,740 10.2,905.1 287.8,885.6 229.1,930.4 258.8,942.3 33.6,921.4 282.6,904.1 255.7,882.1 58,711.3 19.1,936.2 280.1,683.3 287.8,910.5 290.7,685.8 41.3,934.6 272.2,921.3 24.7,907.7 72.2,680.2 157.4,944.8 46,713 18.6,910 16.1,941.5 27.7,926 95.5,701.8 17.8,904.1 10.5,916.9 23.4,926.6 290.4,692.9 270.1,679.2 86.1,692.6 271.7,939.2 50,917.4 113.9,678.9 21.1,716.1 46.6,743.2 27.9,679 16.2,686.9 58.3,695.4 258.9,683.1 282.2,695.6 11.6,715 288.6,934.5 15.7,712.2 29.6,934.8 103.4,693.5 246,707.9 8.6,940 201.8,689.8 18.9,882.3 78.2,679.9 14.7,941.4 290.3,938.4 48.7,711.2 278.4,709.2 19.2,747.9 289.3,691.4 285.5,694 8.8,685.9 283.7,935.9 19.3,720 24.1,929.4 14.8,733.9 272.4,905.3 9.3,720.9 39.9,732.6 30.7,904.8 14.1,721.5 53.4,683.4 34.8,947.4 206.5,943.5 49.2,694.5 9.5,927 20.3,919 44.5,879.1 22.2,948.2 24.3,942.4 48.2,736.5 235.9,691.2 275.4,840.5 27.4,945.3 211,678.9 23,898.6 22.4,841.6 91.4,931.2 287.3,698.2 277.4,944.1 46.2,922 267,869.6 282.9,832.2 46.8,699.7 59.9,926 269.4,939.3 254.8,683.7 292,939.4 280.2,915.7 28.2,680 38.3,722.5 272.8,941.5 14,734.3 276.1,779.1 20.8,870.7 39.4,904.2 261.5,900.4 77.8,948.2 30.6,877 14,881.6 248.1,718 289.4,689.5 289.9,942.5 280.9,930 277.9,703 13.2,707.7 290.6,909.3 289.5,686.1 48.4,905.5 250.4,690.8 34.1,936.6 172.4,945.8 52.6,918.2 9.9,731.6 75.5,680.6 191.9,692.5 32.5,683 90.1,689.2 24.2,915.2 8.5,889.2 271.4,708.6 27.5,758.4 9,763.8 31.9,886.8 258.6,679.4 259.6,944.5 11.6,753.5 24,738.9 267,943.7 210.9,688.9 268.9,921 30.5,736 9.8,786.9 61.4,686.2 30.4,686.3 243.5,717.3 282.3,732 271.3,680.5 52.5,922.6 271.4,731 276.3,925.6 20.7,906.5 124.8,692.2 45.4,922.2 21.7,825 12.8,684.6 282.7,948.2 80.3,944.3 52.9,920.3 10.6,924.5 105.4,940.2 262.6,681.2 18.8,702.1 18.9,731.6 277.9,898.8 38.8,919.7 17.9,939.6 284.3,683.3 276.7,937.8 9.1,785.5 21.4,933.8 85.6,947.6 30.5,692.1 241.8,940.9 20.3,680.8 15.4,702.5 284.2,696.4 286.2,680.7 110.1,939 287.2,946 85.1,923.6 279,695.5 57.2,925.2 291.3,747.2 22.3,915.5 219,694.2 276,681.2 269.1,694.4 69.6,687.4 289,938.4 271.3,719.5 289.1,937.4 38.6,729.4 30.8,942.5 242.6,686.6 27.9,948.3 285.1,701.6 274.7,698.1 65,927.8 244.3,702.8 42.8,926.7 59.2,932.5 99.3,929.9 278,722 289,869.7 291.8,863.1 26.2,941.1 271.8,944.9 280.9,684 111.9,945.4 16.8,734.6 18,709.1 9.4,686.8 253.9,933.8 271.7,946.9 273.5,944.7 11.9,932.1 56.9,690.5 56.3,946.9 9.8,704.5 60.7,693 38.3,942.3 272.1,941.9 271.7,912.4 268.4,885.6 230.7,928.5 10.5,945.6 36.8,902.9 278.1,744.2 273.4,925 38.3,934.1 291.9,864.6 52.7,686.4 277,930.4 246.8,680.9 215.9,701.7 287.7,922.5 117.1,695.2 15.4,923.3 38.2,944.4 86.1,706.1 261,729.7 52.7,940.6 89.2,937.9 197.4,684.7 25,926 287.2,714.3 275,938.6 30.5,861.9 287,773.7 21,760.7 38.7,947.2 20.8,679.7 44.3,947.4 29.1,759.8 20.4,945.1 19.3,679.3 38.2,697 231.3,681.5 48.1,946.2 281.4,948.8 233.7,948.9 31.6,942.1 19.7,810.8 9.5,693.2 29.2,916.9 280.3,942.9 19.6,939.3 11.3,708.5 263.9,898.1 252.5,924.6 16.4,767.3 47.6,902.2 267.6,908.4 281.8,715 87.9,918.6 247,683.4 20.2,684.4 80.1,713 180.7,934.9 247.8,920 21.8,847.3 237.4,699.5 8.6,722.1 52.5,735 12.5,918.9 282.3,767.4 23.3,945.5 25.2,707.4 44.4,926.4 287,815.9 74.8,937.4 38.7,933.8 10.1,885.1 291.1,727 24.7,893.8 43.9,942.2 207.4,948.6 9.8,919.4 278.3,726.8 46.9,913.5 29,681.5 289.9,905.7 274.1,720.1 37.3,684.6 12.6,702.7 53.9,679.2 280.5,929.4 11.1,847.6 252.4,939.1 9.6,927.5 275.9,877.3 281.4,697.8 14.1,946.4 248.8,937.7 25.4,684.8 122.8,947.1 14.8,719.4 122,936.2 228.7,702.6 29.2,719.7 284.9,702.9 256.9,944.2 272.7,696.6 51.2,686.9 15.3,945.9 18.6,948.7 9.3,688.2 53.2,891.8 284.6,920.3 290.3,948 270.5,774.8 47.9,688.4 62.2,706.5 42.2,744.4 9.8,925.7 15.1,734.2 22.8,812 37.2,728 287.1,727 179.2,936.2 274.7,947.9 259.8,887.4 11,744.1 287.8,738.5 82,681.6 257.4,689.3 176.9,679 236.3,935.7 287.2,876.3 71.6,682.6 214.2,938.8 291.6,723.6 255.4,685.8 250.6,690.4 17,909.5 231.7,703.7 203,945.3 54.3,682.6 246,681.5 222.3,701.9 238.1,692.5 16.8,820 289.1,925.6 85.4,930.8 287.6,919.4 62.9,929.1 10.5,927.4 40.7,746.2 236.2,695.5 287.8,893.8 269.6,709.4 25.5,682.8 45.4,680.9 63.9,940 287.5,939.1 48.1,914.4 250.9,927.9 288.8,938.3 286.8,934.3 279.3,826.5 45.8,932.5 220.6,920 26.4,768.3 274,907.9 28.7,682.5 283.4,898.8 263.4,687.5 19.6,691 290.4,749.8 45.2,898.7 280.8,859 27.1,745.9 15.8,689.7 251.5,690.4 225.3,696.7 243.9,942.9 162.9,685.4 236.1,934.7 258.7,698 267.8,946 266.5,761.9 282,934 265.4,917.7 284.4,889.9 274.3,838.7 15.7,948.8 79.9,936.7 43.9,719.7 48.2,715.6 14.9,684.3 56,947.3 278.5,685.6 43.5,940.8 272.1,714.2 23.7,718.1 30.7,702.1 253.6,707.4 21.8,752.3 8.8,717.3 48.4,886.6 202.5,936.2 76.2,685.5 23.5,943.8 206.9,937.1 283.6,847.4 278.7,714.5 9.6,875.8 13.4,702.8 68.4,689.1 36.1,937.8 258.6,933.2 289.3,874.3 47.1,941.6 190.7,687 286.7,938 27.6,709.6 11.1,867.5 285.6,727.3 234.5,703.3 285.9,935.2 139.9,687.1 243,945.8 121.5,678.9 57.5,943.6 26.6,682.8 234.8,934.6 275.9,819.2 105.2,683 279.6,930.3 272.9,839.4 289.5,943.2 13.9,922.6 28.8,690.9 268.2,946 51.5,697.7 221.6,932.2 9.2,678.8 206.9,935.5 23.3,941.5 144.8,944.5 287.6,701.9 265.2,715.5 11.6,918.5 278.6,690.6 22.2,696.3 69.2,911.6 285.7,700.9 289.7,908.7 264.2,905.2 271.4,923.4 292,757.4 17.2,679 271.1,934.4 289.3,721.4 36.8,888.7 24.4,681.7 285.4,686.4 290.2,736.2 41.5,679.7 15.3,687.4 8.8,920.7 272.4,688.2 18.5,679 100.5,943 286,738.2 16.9,930.3 274.7,786.8 48.7,937.9 9.2,934.8 263.7,710.2 263.9,938.9 53.3,931.3 78.6,689.2 53.3,708.8 280.3,947.4 261.8,699 42,695.6 20.1,685.9 94.1,705.7 128.6,695.1 11.9,679.3 277.3,678.9 280.8,692.6 223.7,686.1 50.9,921.1 228.1,911.3 271.4,941.2 10.9,786.3 8.5,687.6 23,945.7 27.9,929.2 283.4,682.9 15.7,945.6 23.7,802.3 58.3,913.5 248.7,926.9 34.4,766.1 253.8,701.5 269,683.7 18.6,682.9 75.6,921.9 8.3,772.8 133.9,932.5 272.1,687.9 23.3,760.8 202.3,942.5 28.7,683.6 13.6,845 52.4,687.3 216.7,923.2 67.5,693.7 15.6,832.7 36.6,684 16.6,729.2 8.9,687.2 65.9,903 14,697.7 258.3,941.9 287.1,922.4 42.3,700.8 73,944.3 274.7,768.7 219.2,945 286.7,941.1 53.5,692 54.8,944.5 263.8,713.6 249.2,943.4 271.1,722.3 33.6,931.8 283.2,692.2 291.5,696.7 275.1,940.8 287.3,730.2 218.5,693.5 275.8,707.4 287.5,797.9 289.9,812.1 12.4,931.7 10.7,947.4 289.9,924.7 18.4,945.9 52.1,699.8 32.7,708.8 45,935 253.1,689.1 30.2,703.4 55.1,689.1 7.9,718.1 31,727.8 283.3,842.9 281.9,933.8 237.3,908.7 8,948.3 255.3,723.3 255.1,683.6 279.5,846.7 28.7,845 251.7,943.3 24.5,866.5 70.5,714.4 48,898.8 282.6,935.8 276.8,727.6 46.5,703 285.7,946.4 10.5,690.4 13.7,936.8 8,684.2 30.5,937.5 11.5,759.9 200.5,690.3 238.3,910.2 18.8,912 274.3,910.4 268.5,929.1 78.8,915.8 53.8,699.6 44.3,695.4 275.6,933.1 33.6,945.2 214.9,680.6 19.7,772.5 263.7,720.1 31,906.5 31.5,683.4 9.4,875.6 14.8,929.6 56,680.7 22.3,936.6 26,942.6 8.6,773.5 84.8,918.3 31.9,683 52.3,941.6 13.2,944 252.7,898.8 273.3,699.3 163.7,692.1 38.9,685.6 48.2,904.7 269.4,695.2 290.6,784.3 27.1,776.9 252.6,889 141.5,936 287.7,681.3 178.2,938.6 59.7,935.3 260.7,698 249.1,908.7 287.7,821.3 8.3,840.7 8.1,685.8 27.7,853 37.3,698.1 17.6,869.9 283.2,704.1 29.5,696.9 30.7,685.8 108.7,941.8 289,701.9 279.9,700.7 277.5,685.5 64,706.1 15.9,946.1 21.9,943.1 46.1,914.3 190.1,684.9 35.3,686.5 74.3,941.9 254.2,897.8 268.7,679.7 30.9,736.9 261,687.7 256,944.8 29.6,872.4 60.3,946.5 38.2,711.6 52,900.2 27.8,883.7 60.2,684.6 273.9,683.6 240.4,706.3 275.5,695.2 20.4,866.5 55.7,935.5 16.5,711.8 157.6,686.5 280.1,937.2 20.2,686.2 282.8,940.2 9.4,939.5 277.8,940.8 43.3,887.9 237.5,940.8 196.5,679.6 13.9,712.9 288.9,718.9 182.6,944.5 252.3,703.9 237.6,693.3 291.4,686.3 73.7,709.7 291.6,831.8 51.2,693.8 31.7,941.2 276.4,735.8 43,710.9 263.9,749.9 11.8,828.7 17.3,690.2 226.3,709.9 287.1,916 282.8,692.4 287.1,737.5 262.7,679.8 285,724.9 25.4,691.8 277.6,704.4 256.7,693 93,943 253.1,742.4 26.6,687.1 246.2,904.4 242.6,931.5 38.3,684.8 282.6,684.7 26.6,915.2 14.7,944.7 270.4,684.9 209.4,696.5 34.2,926.3 8.2,860.6 7.9,925.2 196.9,679.8 289.8,933.1 276.3,944.5 286.7,923.4 235.8,945.2 279.1,867.4 13.2,947.6 18.9,735.4 105.2,693.6 25.1,706.2 10.7,918.7 18.6,896.3 196,939.2 289,908.6 12.7,764.1 286.7,739.8 176.7,681.1 279.3,700 32.4,946.4 260.4,699.8 9.9,714.1 288.6,791.1 262.7,912.4 268.3,728.2 57.7,687.5 181.1,684.7 278.8,774.3 17.5,948.6 152.3,942.5 21.7,924.3 283.5,731.2 265.8,919.5 61.8,914.6 250.2,712.7 288.3,931.2 58.5,898.4 54.3,682.4 31.2,696.6 40.6,929.6 12.3,679 269.7,690.9 39.1,928 9,927.6 237,944 249.3,907.6 11.7,688.8 290.4,700.1 10.9,921.3 269.1,694.9 43.6,913 281,710.3 9.2,697.5 34.4,701 259,691.5 246,725.2 253.5,944.2 11.9,927.4 10.3,877.3 269.7,692.1 262.4,931.1 216.6,678.7 277.2,906.5 290.1,850 9,939.3 266.9,861 22.7,726.8 98.5,698.3 39.3,680.5 10.2,730 287.3,928.9 269,726.8 50,935.1 9.6,809.9 283,708.6 291.1,679.2 265.3,866.3 285.1,754.8 21.8,887.6 274.7,910.7 196.2,693.6 281,914.3 145.2,936.7 28.4,855.8 8.5,938.4 267.4,941.4 284.5,682.7 280.7,947 189,936.2 220.2,934.7 23,687.6 14.4,924.4 178.7,940 291.3,947.6 263.9,692.5 38,887 96.5,944.8 11,946.7 291,928.7 253.1,928.8 23.9,935 26.8,721.2 20,944.8 284.7,692.8 285.8,731.9 22.5,718.7 25.2,897 271.2,947.2 20.6,678.8 75.3,708.4 12.1,935.5 9.2,684.5 227.4,712.6 19.8,947 88.7,948.2 247.8,933.6 220.8,698.4 16.5,851.8 55,723.9 180.1,695.4 13.4,852.7 250.9,945.1 160.7,681.1 239.7,947.7 246.9,932.4 14.4,899.9 282.2,935.3 247.9,687.6 249.6,896.6 23,704.7 244.2,681.2 284.3,811.9 287.2,861.1 278.5,938.2 266.8,943 16.9,680.9 282.3,942.5 8.2,732.6 216.2,930.7 15,904.7 36.6,945.3 35.4,931.6 12.7,685.9 267,913 273.7,716.3 170.6,943.3 13.4,691.9 280.3,944.1 34.8,941 20.8,692.4 10.2,936.2 76.6,943.2 273.8,722.6 242.9,682.3 59.3,932.9 9.8,681.1 60.1,727.9 38.2,888.3 39.3,754.4 13.4,910.5 196.1,947.2 269,705.4 13.8,678.9 282.2,948.3 18.3,932.7 8.2,849.2 253.1,921.8 279.6,688.8 240.7,703.8 285.8,703 8.9,938.1 43.8,892.8 26.7,743.4 30.2,932.4 289.9,696.8 153.5,935.7 67,931.4 11.6,779.9 278.5,947.3 263.6,937.2 19.8,848.5 264,916.6 66.1,913.6 273.7,874.1 25.1,914.5 290.2,707.7 272.1,684.1 44.9,948.7 194.7,696.1 290.8,689.9 260.3,688.7 246.2,706.1 164.1,682 266.2,759.5 20.9,948.4 45.4,946.8 9.1,700.7 40.7,692.8 237.5,908.4 20.1,701.6 268.2,893 49,944.4 18.8,805.5 280.2,719.6 8.4,685.5 211.4,703.6 21.8,942.9 283.5,861.2 24.9,868.9 116.2,687.2 231,685.1 22.8,843.2 26.2,722.6 31.6,706.4 32.3,715.5 45.3,706.6 268.6,895.1 233,926 172.8,937.2 14.3,691.8 130.7,679.7 259.8,703.8 228.4,945.7 21.4,724.9 11.3,784.5 263.6,908 288.1,698.5 265.2,704.5 15.7,718.7 235.4,917.1 242.6,946.8 42.6,912.7 288.8,936.6 226.7,689.4 30.6,929.3 12.7,937.5 249.2,735 13.4,871.4 67.7,931.1 275.3,922.6 272,937.2 14.8,681 14.5,945.5 155.2,686.7 16.1,918.3 25.8,730.4 42.9,933.4 277.6,945.2 21.5,930.1 275.6,885.8 22.9,681.2 282.4,827.7 273.6,696.9 30.8,891.5 275.9,699.4 52.3,686.6 11.2,943 15.8,709.9 82.2,939.7 28.3,921.9 281.5,929.5 16.1,941.6 54.6,917.8 27.1,743 52.8,679.7 252.9,923 289.4,693.5 275.2,917.1 290.6,681 72.6,711.9 226.4,684.6 8.8,682.5 255.2,730.9 266.2,906 24.2,877.5 219.2,921.6 266.6,759.3 270.2,913.9 237.7,698 10.5,931.2 221.2,704.5 27.6,888 245.5,703.4 22.8,914.5 290.1,690.8 12.8,947.5 268.4,699.9 13.7,698.7 14.3,682.7 252.3,679.8 107.5,932 24.2,938.2 282.9,748.4 248.3,701.3 30.2,947.9 31.1,681.7 287,911.4 280.2,858.9 21.2,710.4 279.9,908.6 14.7,680.6 266.1,945.8 24.1,926.4 287.7,929.1 15.8,937.2 49.2,700.1 11.3,771.6 28.8,684.5 80.3,697.1 21.5,726 281.2,699.2 282.5,948.8 277.5,703.4 271.2,681.2 210.9,697.3 71.4,706.9 13.1,685 266,944.6 81.4,698.6 9.4,691.3 289,923.6 250.1,920.7 283.8,791.8 13.8,831 10,927.2 28.3,945 68.1,700.7 23.1,893.3 12.2,690.8 17.9,911.9 234.7,690.2 267,887 286.3,879.7 16.8,900 271.6,704.9 241.5,680 215.4,948.6 289.3,718 36.7,937.7 269.9,944.7 24.8,948.1 263.8,690.9 10.5,694.2 10.4,892.6 282.5,948.7 277.7,702.6 37.4,936.1 275.2,901.4 177.4,681.1 40.1,935 275.4,917.3 14.6,947.2 31.8,689.8 49.2,927.1 281.4,689.8 23.3,943 286.8,945.7 286,764.7 12.1,712.9 264.6,688 28.1,717 264,701.6 282.3,721 15.1,725.2 29.8,748.2 51.9,695.4 102.4,679.1 240.2,679.4 254.8,725.9 291.1,746 9,701 285.6,689.2 13.8,923.4 64.6,683.9 26.5,915.9 288.2,872.6 34,888.7 284.5,923.9 130.7,938.9 269.2,774.8 283.1,937.5 278.8,746.9 288.2,703.3 285.6,928.3 67,932.5 277.5,730.1 247.1,939.3 203.9,688.2 13.5,836.8 33.2,687 259,929.5 216.6,944.8 281.7,705.9 273.6,684.7 266.3,729.1 288.7,693.3 31.3,944.9 290.2,912.7 261.2,700.4 284.5,682.6 25.7,688.1 249.8,930.4 43,689.5 25.1,937.9 20.2,932.7 246.6,944 14.4,683.3 51.4,726.3 107.7,927.7 26.7,946.4 24.4,932.8 73.1,948.7 266,691.1 87.2,948.7 275.1,704.3 44.4,934.8 245.3,922.5 22.9,931.9 274.7,897.9 290.7,935.2 290,730.7 54.4,702.5 25.8,864.1 9.3,943.8 284.8,912.1 279.7,704.5 259.6,705.3 30.6,771.7 38.1,721.1 290.9,729.9 34.4,682.3 22.2,919.3 51.5,932.2 257.7,931.8 40.5,690 31.5,872.3 289.6,945.8 285.3,935.4 17.5,855.2 9.7,680 25.7,697.3 39.4,948.7 8.2,946.2 18.8,928.5 265.4,883.3 285.4,855.1 282.8,745.9 42.7,682.8 8.6,941.6 12.8,898.6 64.9,943.4 42.7,695 54,703.4 16.9,744.7 40.7,719.6 74.1,948.5 291.1,923.9 10.9,837.1 256.7,698.6 22.6,936.9 48.4,680.6 26.6,941.5 257.6,935.7 56.5,715.3 284.1,929.9 241.9,695.6 50,708.8 289.9,694.3 12.6,679.1 63.6,692.8 55.6,700.6 65.7,684.6 18.6,942.2 290.4,897.3 20,695.3 72.5,685.9 286.4,846.9 49.5,698.4 20.4,947.1 27.7,726.2 256.6,945.1 252.8,932.3 18.7,876.2 270.3,700.8 265.3,931.9 33,695.2 224.4,695.4 45.9,935.5 46.2,948.2 91.7,697.1 12.6,931 250.5,934.3 11.1,825.6 41.9,895.1 274.9,729.8 110,692.4 31.4,737 16.1,845.2 290.1,800.6 15.6,938.6 13.5,727.8 274.9,764.9 281.9,800.5 268.7,942 52.5,680.7 41.3,943.5 8.1,845.6 271.9,717.7 22.3,685.6 237.7,943.5 101.8,937.4 18.2,865.8 75.3,945 21.7,705.6 245.8,925 12,698.1 45.4,938 279.6,700.3 14.8,695.7 200.6,938.4 22.1,679.6 248,730.8 167,932.8 105.8,698.1 27.7,945.3 279.6,887.2 229.9,926.9 9.7,936.2 291.1,714.1 271.7,692.7 218.9,948.6 19,787 238.8,679 66,695 55.1,944.7 26.8,730.3 29.8,862.8 25.2,940.1 73.7,684.8 48.8,909.3 25.4,920.5 286.9,926.4 48.7,929 30.1,936.7 290.5,744.9 33.2,937.6 238.4,692.3 252.6,694.9 76.7,695.7 93.5,941.1 248.4,690.6 22.7,779.2 32.2,691 247.1,939.9 289.9,928.1 258.6,689.9 77.7,699.2 7.9,681.5 8.1,938.9 285.2,804.9 274.2,699.3 34.9,692.9 282,693.4 275.3,930.2 68,930.3 288.3,683.6 211.3,680.1 14.7,917.3 51.7,891.3 134.6,686.2 43.3,712.5 257,682.3 56.4,714.7 224.8,928.2 79.7,943.6 275.5,688.4 12.8,683.6 287.5,724.3 33.5,717.2 279,948.7 22,940.7 14.8,902 220.7,706 11,680.6 287.9,928.4 71.9,692.8 283.6,947.4 33.2,907.3 25.6,716.4 18.9,680.3 11.1,934.8 16.8,691.9 281.5,759.6 16.8,925.9 83.6,688.3 289.2,684.1 80.8,919.8 281.5,940.6 112.2,680.9 8.1,706.8 7.9,686 44,700.6 9.6,758.9 258.4,937.2 36.7,721.4 21.5,877.6 265.1,710.4 42.8,945.5 31.2,944.8 17.6,715.8 291.5,793.7 56.1,692.5 277.2,912.5 289.2,934.9 286.5,947 22.7,893.1 217.6,936.3 280,934 279.5,762.5 84.2,947.3 12.5,785.4 79.9,711.8 279.8,935.5 273.8,710 37.1,721.9 276.9,905.1 235.6,927.9 201.1,694.4 280.8,694.9 45.8,935 240,693.8 102.2,701.1 10.2,679.1 237.1,701.1 272.9,932.9 282.1,942.6 244.3,711.9 11,702.3 276.7,727.3 81.9,687.9 281.8,684.1 58.4,924.5 276.9,799.8 286.9,696.7 16.1,799.5 8.8,689.4 289.6,716.4 101.2,694.1 286.1,934.3 18.4,701.3 44.3,944.8 47.4,895.7 63.5,915.1 19.6,693.8 240.6,727.5 276.7,943.3 264.9,863.4 289.3,718.6 114.8,679.9 63.7,948.8 16.5,877.8 290.5,718 277.9,934.9 291.6,941.1 276,807 9.6,903.2 269.7,882 26.8,920.6 16.1,704.4 275.6,807.9 33,705.6 16.8,701.7 25.4,930.7 17.7,945.3 279.5,687.4 285.7,926.1 282.3,785.7 14.5,937.6 34,934.3 19.9,832.3 10.1,690.2 235.3,948.4 20.8,943.3 283.3,884 34.4,907.8 210.7,699.9 18.8,936 21.4,942.1 270.1,897.1 229.1,943.6 17.6,759.7 65.6,683.3 28.3,743.6 273.5,898.7 249.9,943.7 68.9,948.1 286.2,937.1 193.2,926.8 217.2,683.7 81.4,943.1 284.3,691.2 9.6,938.8 26.7,943.5 264.9,944.9 272.8,723.1 40,940.7 235,931.8 271,898.6 271.1,868.4 22.8,804 103.7,936.2 285.2,725.1 58.4,686.4 290.9,944.5 256.9,682.3 245,679.8 282.9,695 287.6,925.3 14.3,938.2 75.1,933.3 35.1,729.7 288.8,882 29.6,694.4 245.4,725.3 292,908.3 14.8,887.3 14.3,891 12.2,922.9 284.9,909.7 251.9,717.3 33.7,703.1 281.7,686.9 27.2,684.9 280.7,939.6 9,747.7 289.7,945.3 188.9,939.1 280.4,941 19.9,938.5 118.9,930.1 116.1,930.5 13.5,884.9 291,696.7 145.6,693.6 286.7,890.4 209.4,931 24.1,912.9 31.4,932.4 15.5,932.4 250.6,925.3 267.6,694 277.4,897.3 109.9,693.2 125.8,696.4 281.4,937.7 23.5,691.8 288.6,695 264.4,692.8 12,711 10.8,824.1 291.8,886.5 272.3,853.1 23.4,700.7 19.1,943.7 10,783.7 225.7,697.8 45.9,937.4 280.6,881.9 288.2,927.4 277.3,861.3 11,940.6 274,689.1 25.7,719.1 22.3,895.4 272.9,706.3 35.6,683.9 278.2,747.5 31.1,879.2 291.6,692.7 24.9,940.1 270.6,919.6 290.7,715.8 36.7,928.8 202.8,934.8 48.9,893.5 268.7,730.9 12.4,738.6 19.9,690 287.8,804.2 262.5,739.3 52.2,693.1 35.1,714.7 23.1,935.5 22.3,684.1 237.9,916.3 287.3,699.3 39.7,703.4 213.1,701.3 202.5,691.9 272.1,871.4 45.1,924.3 22.8,902.3 38.7,701.6 291.8,905.3 243.4,937.6 21.2,945.6 24.3,701.4 277.3,775.8 57.8,948.6 266.1,685.4 233.3,945.3 30.8,700.2 250.6,696.6 8.3,686.4 69.2,931.6 89.6,686.8 268.7,877.6 14.2,930.9 92.5,686.8 271.7,848.4 254.6,940.7 28.4,886 50.3,729.3 197.2,945.4 289.1,712.4 243.2,699.3 184.9,681.5 36.4,710.7 48.5,889.8 8.9,944.8 12,920 22.6,695.6 20.4,742.2 278.4,696.4 38.3,705.7 282.2,685.2 44.6,943.5 267.3,932.2 282.5,925.2 287.2,938.8 265.7,928.8 8.4,933.7 291.9,931.3 41.4,688.4 13.3,942.2 24.1,726.4 281.6,772.2 241.8,728.7 7.9,701.5 266,686.5 274.9,684.5 34.5,688.5 250.6,718.8 15.2,707.3 163.2,940.3 177.4,686 290.3,702.2 101.4,689 273.1,693.4 22.4,838.5 290.3,856 88.6,944.1 279.9,763.9 285.1,691.3 32.7,770.9 22.5,948 152.3,947.8 285.7,905.9 19.9,903.6 233.5,707.7 38.7,945.6 264.5,875.8 269.9,944.1 35.3,754.7 19.1,683.8 290.5,934.7 37.3,680.3 275.4,907.2 51.6,927.6 258.9,726.1 253.8,719.2 290.9,689.7 284.3,734.7 283.1,945.4 234.2,944.4 247.5,947.9 12.9,862.6 280,686.9 39.7,928.3 19.8,913.3 84.4,916.7 186.1,687.2 272.2,899.8 100.9,930.5 290.5,685.9 41,943.9 289.2,681.3 261.7,934.2 287.7,725.8 279.1,749 289.6,851.5 279.7,947.4 209.1,681.2 25.7,685.4 90.4,684.1 24.6,863.2 255.2,937.4 14.3,678.9 19.5,766.3 8,930.8 18.5,752.4 263.6,723.7 249.7,738.1 74.8,691.1 288.8,689.7 206.5,689 18.6,866.4 23,695.4 31.5,928 20.6,936.9 15.5,699.7 266.8,727.9 218.5,927.7 281.6,767.5 206.3,940 221.2,946.5 258.7,735 280.3,923.3 277.8,947.2 202.5,679.7 15.9,717.6 263.9,725.7 135.8,687.7 83.4,930.8 112.2,937.1 289.1,932.7 264.5,924.1 232,683 271.3,685.6 39.9,938 248.6,706.3 228.4,680 231.8,943.4 269.9,937.5 14.7,735.2 25.4,858.3 9.6,684.2 282.9,761.5 286.3,745.9 292,702.9 56.8,944.9 27.9,682.9 28.1,683.3 267.6,695.1 32.7,929.3 290.2,707.4 38.7,738.1 289.6,679.1 234.3,690.7 8.3,844.8 48.3,931 7.9,942.1 14,741 14,934.9 11.8,699.4 28.2,855.4 41.2,938.6 9.6,818.6 14.2,923.1 47.9,887.2 15.2,913.1 285.9,824.5 25.4,942.4 197.6,948.4 268.4,935.9 30.5,943 282.4,925.9 289,784.3 282.2,735.4 18.6,934.3 291.3,945.4 22.1,843 25,948.8 10.7,948.7 57,704.5 152,942.8 269.5,940.2 23.2,688.8 22.9,932.7 284.8,947.1 290.2,719.3 23.1,682.4 11.9,684.9 100.3,939.3 24.8,835.7 266.1,686.2 288.1,920.3 10.4,689.8 22.5,876.7 279.1,722.5 238.9,933.4 17.4,921.1 237.2,723.1 117.9,681.9 240.3,923.5 36.5,921.2 244.4,939.6 231.9,933.2 257.7,687.1 44.8,684.7 269.5,901.3 8.1,867.2 34.6,752.7 14.1,691.8 62.2,693.2 75.4,933.7 266,704.4 261.7,707.1 69.5,687.5 26.9,948.5 26,696.2 8.9,944.1 36.7,719.5 11.2,918.2 18.8,701.5 207.2,940.5 288.8,943.5 37.4,933.3 223,925.9 283.1,742.1 286.1,759.5 253,904.8 42.4,924.9 20.1,932 276,946.5 60.5,693.8 29.9,689.3 10.7,946.2 265.5,693.4 286.8,696.2 25.9,917.9 259.7,718.8 271.6,699.5 288.6,683.2 14.2,794.7 150,690.7 11.8,937.2 275.6,678.8 275.5,775.5 17.9,884.8 38.5,721.5 244.8,922.8 270.2,946.3 93.9,921.5 23.7,924.4 11.2,938 55.2,937.9 37.4,681.7 83.4,924.7 290.3,680.5 32,947 52.5,689.4 37.9,693.8 224.1,696.3 247.1,935.7 228.5,943.8 233,903.2 280,720.9 252.9,906.4 282.3,921.2 266.6,941.1 71,947.6 8.2,812.9 38.8,937.2 211.7,948.2 16.1,935.3 11.3,941.5 220.3,690.4 258.9,945 42,901 175.5,935.9 274.2,728 42.9,705.6 289.1,705.9 276.1,937.9 69.8,708.8 11.7,706.5 274.1,886.2 41.9,710.5 227.7,699.4 287.5,693.6 41.3,923.2 13.1,922.9 72.9,946.3 227.4,931.3 250.2,681.4 15.3,855.3 28.6,847.8 30.7,693.7 76.8,685.7 172.5,936.8 268.9,688.8 57.6,941.3 255.5,927.3 10.1,946.2 281.6,853.1 195.2,927.1 256.7,888.3 266,699.8 16.5,760.4 88.1,935.9 287.4,703.6 19.4,914.2 289.5,726 264.8,941.4 30.2,686.1 8.5,830.5 23.9,925.2 221.2,927.3 283.2,853.6 37.2,751.5 274.5,717.6 12.8,798.5 30.3,712.4 9.3,924.8 66.5,678.8 107.5,926.2 51.2,923.4 265.3,716 289,944.5 251.6,933.6 10.2,713.5 274.7,947.1 254.9,945.8 115,679.4 281.9,945.3 204.8,700.7 214.2,699.5 287.5,753.1 289.8,680 272.4,948.6 90.4,692 30.4,724.8 38.9,714.1 288.5,939.2 204.8,926.8 14.3,702.6 273.6,938.4 274,945 32.1,729.1 59.8,683.5 156.4,691.5 14.4,917.5 287.4,701.5 248.1,688.3 268.3,930.4 240.9,926.7 29.9,686.5 284.2,688.4 252.4,682.3 191.5,697.2 281.4,740.4 52,683.9 257.6,908.4 240.4,691.3 284.1,934.8 240,698 11.2,948.4 163.9,690.3 282.5,683.2 11.5,945.7 268.2,946.7 256,689.6 266.2,889 24.4,929.2 240.9,711.9 251.9,883.6 19.3,946.6 265.1,704.8 15,694 68.2,696 266.3,941.7 265,869.4 273.3,944.7 32.7,938 267.5,722.5 72.5,932.6 234.5,923.8 290.1,717.9 244.3,937.3 25.9,839.6 262.1,681.1 288,875.9 274.4,709.3 103.8,939.9 277.2,934.3 287.1,755.6 283.2,730.1 245.6,903.6 8.5,727.7 232.4,945.7 261.1,876.2 36.3,717.2 192,934.3 278.9,727.4 14.4,903.3 187,944.3 24.5,802.2 15.5,737.8 31.8,687.8 25.2,942.2 19.7,697 242.7,938.7 253.7,928.3 44.3,692.5 287.2,929.7 19.7,942.7 290.5,865.1 256.2,711.7 277.8,789.1 10.8,938.6 280.7,747.3 269.8,905.7 15.3,946.6 31.9,717 214,945.5 231.1,909.7 9.7,896.2 90.3,679.8 267.5,890.7 21.3,734.5 18.4,912.6 35.8,944.3 250.6,930.9 12.8,931 47.3,682 12.1,703.2 288.1,747 9.3,751.2 226.4,692.5 14.3,679.7 271.8,853.3 285.7,780.5 212.9,702.8 25.9,749.3 267.5,692.2 254.6,923.8 12.1,948.6 20.2,843 168,695.7 274.9,692.2 14.9,687.7 64.3,918.3 225.6,936.8 208.7,691.4 274.1,905.8 26.2,937.7 269.2,934.5 277,730.1 34.8,905.6 16.7,773.5 203.2,944.4 289.8,682.3 277,718.6 45.3,906.8 37.5,943.1 266.1,879.8 10.4,947.7 269.6,851.7 18,709.4 276.8,705.7 273.6,943.5 62.9,679.4 288.3,944 226.9,689.2 206,942.9 184.4,937.3 17.4,884.3 276.5,689.8 24.2,767.8 52.2,681.5 10.7,849.3 291.7,855.9 14.5,940.4 17.8,706.4 284.1,773.1 277.1,910.8 260,935.8 30.4,930.2 31.8,697.2 62.3,723.1 26.4,929.2 12.6,898.4 16.6,941.6 241.1,688.5 39.8,733.4 271.7,681.8 20.5,930.8 291,680.7 285.3,932.2 10.6,849.4 9.5,684.9 291,679.2 272.4,742.4 25.5,723.1 120.7,944.6 276.7,680.4 171.1,944.1 258.1,689.4 255,684.9 202.8,686.3 241.3,727 239.6,716.1 244.8,732.3 11.5,941.9 284.2,684.8 65.2,916 267.6,930.5 292,684 275.4,699.4 191.8,689.1 282.5,723.4 271.9,682.4 232.9,933.6 283.2,693.3 8.8,948.7 227.1,940.9 283.9,947.3 287,823.4 271,925.3 287.1,735.5 277.6,702.7 19,680.2 79.5,933.6 288.2,858 285.2,690.5 111.7,944.6 10.7,901.7 291.5,759.6 274.6,841 9.5,922.3 24.1,937.5 184.7,929.3 22.6,714.6 11.3,771.4 15.1,946.6 37.3,934.3 261.2,934.8 15.3,820.3 278.8,937.1 189.1,934.6 13.7,695.8 265.6,708.2 280.8,679.1 71.2,923 228.6,937.3 12,938.3 65.6,713.8 35.6,711.4 44.7,731.2 231,695.6 9,815.6 9.9,716.8 289.9,702.7 256.3,913.7 29.7,935.2 83.3,941.6 284.1,892.1 73.3,683.6 130.4,938.3 251.6,913.5 12.2,862 17.3,680.4 45,944 15.3,768.6 281.9,683 24.7,947.6 201.7,688.5 119,681.3 270.5,684.7 20.8,915.3 260,929.5 277.2,700.6 268.5,723.3 248.9,911 225.6,920.4 119.9,697.7 13.9,905.9 290.4,728.7 252.8,741.7 291,943.2 274.6,694.4 13.3,925.1 29.3,873.3 20.1,941.5 273.3,680.3 95.2,941.8 195.2,926.6 63.4,939.3 48,924 225.6,679.1 177.1,679.6 287.9,688.9 215.4,948.2 288.5,944.2 145.1,942.2 30.5,755.3 267.4,731.9 34.4,734.3 219.6,693.7 9.9,941.2 14.3,700 25,937.1 271.1,717.6 51.1,691.1 35.5,938.2 284.8,688.1 84.4,942.9 287.8,734.5 26.4,864.1 13.9,688.7 267.6,943.3 69.7,927.2 285.2,936.7 256.2,944.3 33.7,921 190.2,938.7 40,915.4 12.2,875.2 35.1,942.4 12.9,750 12.7,928.8 288.6,936.5 278.7,897.9 275.6,687.3 158.1,941.8 8.5,940.8 287.8,692.8 268.8,724.8 72.5,933.9 263.3,684.1 290.2,944.3 281.9,947.2 118.3,685.9 22.6,746.6 40.9,941.7 208.8,702.2 270.2,723.4 274.4,680.8 31.7,736 292,940 255.1,703.3 270.6,689.5 70.8,716.6 47.7,703.6 271.6,704.8 286.9,702.4 43.1,688.4 287.6,942.7 289.3,715.1 32,703.9 272.5,908.3 17,785.6 31.9,907.8 23.3,933.9 243.9,902.3 232.9,683.1 10.3,948.7 280.9,831.3 198.8,939.6 22.7,869.1 228.9,710.1 284.8,753 33.1,716.2 279.8,689 267.1,692.3 94.7,702.6 259.7,705.4 292,685 8.3,946.2 282.1,681.5 11.2,722.2 269.3,689 291.7,704.3 270.4,944.6 42.5,928.3 282.6,921.9 261.3,873.8 12.4,930.1 65.2,935.3 270.5,721.5 214.6,921.8 17.6,699.9 17,932.8 262.8,939 259.1,944.9 289.3,930.9 268.4,770.4 279,777.9 288.9,945.7 252.8,705.8 249.7,920.1 22.5,914.7 249.3,947 34.2,698.6 273.3,705 69.9,720.9 224.7,714.3 63.1,944" fill="none" stroke="none" marker-start="url(#g)" marker-mid="url(#g)" marker-end="url(#g)"/>
<polyline points="257.2,755.3 173.6,911 129.7,915.3 64.7,832.3 100.8,802.2 231.7,753.7 269,777.8 52.5,790.2 183.1,877.7 62.4,825.9 65.8,746.3 231.4,729.3 25.1,806.4 35.6,772.6 92.4,820.7 72.4,806.8 262.8,843.1 185.9,871.8 78.8,760.3 47.2,774.3 256.4,837.6 45.8,843 203.2,756.6 114,869.6 150.6,708.6 269.5,787 218.3,840.3 259.9,803.3 258.8,789.3 125.4,887.5 244.3,759 125.1,769.6 134.6,836.6 76.6,754.7 233.1,733.1 108.7,761.3 45.5,868.2 62.7,828.6 159.5,744.1 39.6,757.4 124,909.9 129.5,887.2 232.4,845.3 234.8,900.3 218.2,795.9 237.8,820.5 177.3,918.7 43.4,755.5 245.5,768.7 212.2,750.6 264.4,829.3 30.1,827.3 256.4,873.4 155,920.6 232.9,790.3 62.4,896.1 191.8,775.9 32.2,790.2 73.3,886.8 73.2,771.2 79.9,762.4 143.8,773.7 164,898.2 272.6,830 274.6,803.8 107.3,916.4 27.3,810.9 177.5,698.9 85.9,916.2 195.5,713.8 104.6,898.3 228.8,778.8 61.6,778.5 76.5,720.7 211.1,710.8 173.2,909.5 190.5,918.5 250.4,813.5 59.8,732.2 40,802.5 60.2,835.1 109.5,749.4 197.8,713.9 226.5,874.2 118.5,903.1 90,812.8 51.2,744.6 219.9,883.9 253.2,761.3 178.6,718.2 102.1,733.4 139.3,928.4 27,792.7 38.1,777.4 47.5,774.1 97,831 131.1,748.5 149.7,893 248.8,740.5 222.8,897.2 226.8,893.3 137.2,756.1 152.6,739 49.3,790.4 33.8,853.6 163.3,927.1 35.7,769.5 213,713.3 52.4,788.3 92.2,873.9 32.4,772.8 114.8,763.6 137.8,720.5 59.8,891.3 76,828 77.7,903.6 174.7,771.3 250.5,751.8 232.7,823 122.8,699.7 51.6,747.3 210.7,717.4 152.2,836.8 129.5,764.8 37.9,812.4 161.5,929.2 215.5,724.5 201.4,913.6 247.7,818.7 221.7,855.1 229.5,732.5 253.9,755.9 43,780.4 91.7,838.6 126.2,698.5 244.6,736.2 169.7,712.6 78.1,883.6 122.2,730.4 254.6,766.2 261,782.1 47.5,804 56.5,844.7 225.6,902.6 198.6,923.5 178.6,871.5 149.8,931.5 160.9,800.7 64,775.1 225.9,727 206.4,904.3 254.9,853.4 147.3,785.7 51.7,772.5 49.7,774.4 128.8,907.9 97.1,717.3 191.5,890.9 228.6,885.2 129.1,885.5 72.5,725.8 108.3,897.8 219.7,874 40.8,782.9 202.7,893.3 224,846.2 132,742.3 209.6,847.7 94.1,708.9 150.7,703.8 251.6,828.3 74,904.6 89.7,846.3 30,783 68.4,891.7 256.1,793.7 230.4,806.1 258.6,842.5 231.6,739.6 79.6,723.3 199.1,707.8 107.6,879.5 200.7,757.5 126.1,765.4 53.3,767 189.7,893.6 226,772.1 273.6,832.3 50.2,757.5 51.3,847.2 223.9,803.4 46.2,765.3 101.7,912 217.2,902 265.6,811.1 220.9,850.7 161.1,833.6 198.8,785.8 41.8,790.7 62.9,897.3 62,897.2 122.3,925 211.6,714.8 79.4,906.9 207.7,879.6 80.2,811.8 60.1,873 119.6,915.1 105,880.8 79,760.2 210,851.3 134.7,876.2 45.5,805.8 146.5,703.1 250.1,862.5 39.3,864.2 263,784.6 131.8,875.1 233,903.1 26,797.6 36.5,770.1 54.8,870.1 201.4,868.4 70.8,870.7 80.8,719.8 152.1,909.3 88.1,859.4 64.2,872.4 123.1,722.4 187.6,863.4 56.5,885.3 137.6,727.1 210.1,882.6 243.7,856.5 44.9,808.4 223.8,815.1 271.1,839.3 241.8,740.9 204,730.8 245.7,752 221.2,901.1 127.3,700.3 108.6,918.9 259.9,763.4 108.2,806.4 189.3,921.8 36.3,786.4 73.1,880.6 84.4,893 164.1,725.9 233.7,855.9 219.6,902.7 237.3,881.6 192.4,702.2 244.5,773.6 142.1,826.6 148.3,909 158.1,720.4 226.4,725.6 68.8,762.2 65,825.4 115.7,910.9 266.1,831 56.7,836.6 134.1,925 218,893.4 264.9,845.5 247,888.3 258.3,845.7 209.6,905.5 256.6,759.3 129.5,741.5 94,892.9 105,851.6 262.2,850.6 76.2,904.8 140.2,766.3 75.7,905.6 42.6,847.8 48.4,846.8 47.8,861.6 237.4,775 229.6,754.8 93.5,914.4 218.2,912.5 224.3,831.7 158,911.1 29.9,825.7 41.9,857.8 207.7,770 110.4,883.7 158.5,897.4 245.5,788.4 60.4,864.3 245.6,842.1 237.7,881.4 54.5,800 129.1,897.3 201,779.9 56.7,767.6 111.5,923.5 98.6,851.6 108.6,882.8 51,754.4 135.8,785.7 230.5,867.5 77.8,768.2 165.1,899.1 234.1,733.9 146,703.1 41,847.5 171.6,707.3 261.8,764.6 41.6,765.4 32.8,800.2 60.1,742.2 244.4,794.2 234.8,743.4 223.4,883.7 179.1,746.4 229.8,801.4 123.4,804.6 37.4,765.7 156,872.4 139.7,696 133.3,730.9 212.4,822.6 221.2,870.1 90.6,900.9 183.1,879.6 88.7,869.5 26.8,836 211.5,906.2 206.9,893 189.9,916.1 268.6,781.3 79.2,754.2 165.7,877.2 250.6,879.1 158.2,823.5 162.8,874.5 76,825.1 262.7,863.8 63.4,897.9 172.6,917.8 217.2,721.3 156.4,728.2 201.3,920.3 182.6,900.7 235,737.8 150.4,755.6 254.3,813.8 219.2,761.2 55,874.3 78,783.8 64.4,728.5 221.6,909.8 235.1,868.2 56.3,780.5 256.1,767.8 224.6,776.7 81.4,850.5 207.9,708.1 32,809.1 213.1,847.3 232.4,828.6 89,896.5 230.5,893.6 225.7,721.6 75.1,765.8 196.5,717.2 50.3,838.6 215.5,857.2 272,786.2 133.7,719.6 149.6,837.4 224.7,867 35.5,781.3 265.8,796.1 34.5,772.6 104.5,898.1 182.8,853.2 187.7,711.1 73.6,888 100.4,892 171.7,875.5 204.6,877.6 134.7,714 40.8,871.2 255.7,837.8 169,707.4 195.9,729.2 152.8,699.1 174.1,855 131.8,705.2 24.9,822.4 53.6,866.6 179.5,707.6 134,930.9 247,829.1 238.8,744.8 252.6,749 122.2,914 94.8,878.2 59,833.7 51.8,778.7 249.2,823.8 228.7,792.4 122.3,840.3 200.6,767.9 143.4,919.5 136.8,927 160.8,787.3 168.1,854.1 177.2,912.1 72.4,722.4 263.3,812.6 147.3,908.4 231.4,748.1 209.6,759.6 137.2,751.7 251,769.9 129.6,834.1 247.7,857.2 213,913.8 55.6,888.9 229.5,868.2 38.1,845.7 107.6,915.9 178,828.8 121.7,742.2 60.8,740.8 205.9,733.3 132.9,927.6 86.2,909.1 95.8,716.2 92,728 160,759.7 110.6,895.6 215.5,914.3 231.2,743.2 187.3,894.1 46.3,874.8 173.2,923 174.3,710.3 46.4,779.9 85.4,717.9 153.8,909.5 54.3,831.9 112.8,886.2 247.8,861.9 274,820.9 148.7,930.6 168,726.5 191.7,904.8 52.3,819.8 193.6,896.3 38.6,807.9 106.2,794.2 188.9,700.8 218.5,893.8 178.2,698 72.9,899 215.7,875.7 79,870 218.9,764.5 46.9,782.6 101.6,902.8 47.6,865.5 130.7,742.2 241.9,737.8 159,911.7 58,828.6 152,841.6 111.5,819.6 109.7,711.1 236.8,862.9 209.6,879 204.1,909.8 246.7,857.9 143.1,912.5 80.8,883.3 240.1,892.1 241.4,876.2 139.2,802.2 154.9,725 118.8,783.9 94.4,707.4 101.5,920 27,805.3 120.1,897.3 125.8,767.3 113.8,893.2 209.9,855.7 166.5,772.5 194,899 246.3,797.4 270.3,836.9 246.4,747.8 120.8,926.7 45.3,803.8 245.2,814.3 61.5,865.8 194.6,772.6 165.4,849.6 111.3,785.7 258,809.7 31.4,810.1 46.3,858.2 243.6,815.8 36,792.4 111.7,867.8 58.7,871.9 94.7,870.1 238.3,734.4 229.7,735.3 53.6,742 67,903.1 164.8,922.1 145.5,919.2 103.5,709 84.9,761.5 70.9,729.2 170.1,930.3 137.9,869 121.1,720 61.7,765.8 85.7,839.5 133.7,916.2 43,783.3 255.5,874.3 140.9,806.1 48,820.8 270.4,793 74.1,720.6 198.4,798.8 77.5,728.8 191.6,708.9 246.9,767.5 31,782 167.7,706.5 36.3,863.5 126.5,728.7 73.4,725.3 259,763.3 260.5,803.5 225.2,827.6 207,721.8 64.8,829.7 28.3,821 200.5,902.7 204.3,736.5 177.5,929.3 232.7,874.5 74.1,858.7 74,908.2 197.3,846.1 246.9,874.5 182.5,743.5 93.8,919.7 93.9,716.4 139.2,921 110.4,771.4 79,895.8 29.7,840.4 122.9,896 62.7,754.2 251.9,847.4 52.1,880.1 28.5,784.2 191.8,902.2 254.1,785.5 48.9,776.8 121.1,820.1 104.8,780 214.4,900.7 34.6,852.5 245.4,887.9 234.3,895 190,904.6 255.1,759.8 110.5,706.5 102.4,747.4 215.7,793.9 43.1,839.1 251.2,755 213.1,851.9 251.5,799.6 182.7,758.9 194.3,785.1 84.2,811 235.4,738.7 81.8,902.1 82.2,821.3 156.3,820.7 44.8,795.6 157.6,717.3 128.4,819.5 234.6,808.4 183.6,869.4" fill="none" stroke="none" marker-start="url(#r)" marker-mid="url(#r)" marker-end="url(#r)"/>
<path d="M145.7 814.1h8.6M150 809.8v8.6" stroke="#000" stroke-width="2.2" fill="none"/>
</g>
<rect x="101.1" y="689.9" width="103.9" height="39.8" rx="2" fill="#fff" fill-opacity="0.83" stroke="#cfcfcf" stroke-width="1"/>
<text x="108.1" y="719.2" font-size="24" text-anchor="start" textLength="11.5" lengthAdjust="spacingAndGlyphs" font-style="italic">d</text>
<path d="M112.1 700.6L115.7 694.8L119.3 700.6" fill="none" stroke="#000" stroke-width="1.5" stroke-linejoin="miter"/>
<path d="M128.1 709.8h14.6M128.1 714.6h14.6" stroke="#000" stroke-width="1.9" fill="none"/>
<text x="150.3" y="719.2" font-size="24" text-anchor="start" textLength="48.8" lengthAdjust="spacingAndGlyphs">3.61</text>
<rect x="10.6" y="911.7" width="248.2" height="34.9" rx="2" fill="#fff" fill-opacity="0.83" stroke="#cfcfcf" stroke-width="1"/>
<text x="17.3" y="936.1" font-size="24" text-anchor="start" textLength="234.5" lengthAdjust="spacingAndGlyphs">density-minimum 2D</text>
<rect x="7.85" y="678.7" width="284.2" height="270.2" fill="none" stroke="#000" stroke-width="1.5"/>
<path d="M7.8 948.9v6.0M7.8 678.7h-6.0M78.9 948.9v6.0M7.8 746.2h-6.0M150 948.9v6.0M7.8 813.8h-6.0M221 948.9v6.0M7.8 881.4h-6.0M292.1 948.9v6.0M7.8 948.9h-6.0" stroke="#000" stroke-width="1.5" fill="none"/>
<g clip-path="url(#cr2)">
<path d="M388.4 678.7V948.9M487.3 678.7V948.9M586.1 678.7V948.9M349.1 894.9H633.3M349.1 840.8H633.3M349.1 786.8H633.3M349.1 732.7H633.3" stroke="#ababab" stroke-width="1.35" fill="none"/>
<path d="M349.1 840.8H633.3" stroke="#9e9e9e" stroke-width="2.2" stroke-dasharray="8.9 3.9" fill="none"/>
<polygon points="349.1,516.8 350.1,517.9 351.1,521.7 352.1,524.6 353.1,526.6 354.1,531.4 355.1,534.2 356.1,535.8 357.1,540 358.1,543.8 359.1,546 360.1,547.6 361.1,551.4 362.1,556.6 363.1,558.8 364.1,559.9 365.1,562.3 366.1,566.1 367.1,570.4 368.1,573.4 369.1,577 370.1,580.5 371.1,583.1 372.1,586.8 373.1,590.3 374.1,592.1 375.1,593.8 376.1,595.8 377.1,599.3 378.1,603.8 379.1,607 380.1,609.8 381.1,612.3 382.1,615.1 383.1,618.6 384.1,621.7 385.1,625 386.1,630.1 387.1,635.4 388.1,643.4 389.1,650.7 390.1,656 391.1,661.2 392.1,667.3 393.1,672.7 394.1,679.5 395.1,695.1 396.1,708.2 397.1,707 398.1,708.6 399.1,710.2 400.1,710.7 401.1,708 402.1,703.5 403.1,702.3 404.1,710.4 405.1,717.3 406.1,721.1 407.1,722 408.1,724 409.1,724.9 410.1,725 411.1,726.5 412.1,727.6 413.1,727.2 414.1,726.4 415.1,724.7 416.1,723.5 417.1,726.6 418.1,730.1 419.1,734.4 420.1,741.6 421.1,747.1 422.1,751.5 423.1,755 424.1,758.7 425.1,763.6 426.1,766.3 427.1,767.3 428.1,767.7 429.1,768.1 430.1,768.9 431.1,770.3 432.1,770.6 433.1,768.8 434.1,767.6 435.1,770 436.1,773.5 437.1,774.7 438.1,772.7 439.1,770.6 440.1,769.1 441.1,767.7 442.1,766 443.1,764.5 444.1,762.4 445.1,763.3 446.1,765 447.1,767.5 448.1,771.1 449.1,773.5 450.1,776.1 451.1,776 452.1,775.1 453.1,774.1 454.1,773.4 455.1,773 456.1,773.1 457.1,775.4 458.1,778.6 459.1,781.8 460.1,784.8 461.1,785.8 462.1,786.7 463.1,786.7 464.1,786.1 465.1,786.7 466.1,787.5 467.1,787.3 468.1,786.9 469.1,786.4 470.1,786.5 471.1,785.7 472.1,782.9 473.1,780.6 474.1,778.2 475.1,775.5 476.1,777.3 477.1,779.5 478.1,779.8 479.1,779.7 480.1,779.6 481.1,778.1 482.1,776.3 483.1,775.8 484.1,775.7 485.1,775.4 486.1,774.8 487.1,775 488.1,775.2 489.1,775.6 490.1,776.8 491.1,777.8 492.1,778.2 493.1,776.9 494.1,774.9 495.1,772.9 496.1,772 497.1,772.2 498.1,771.2 499.1,769 500.1,768.8 501.1,770.6 502.1,772.4 503.1,774.1 504.1,774.3 505.1,773.1 506.1,771.7 507.1,770.8 508.1,770.6 509.1,769.8 510.1,768.6 511.1,767.3 512,765.8 513,765.3 514,765.7 515,765.9 516,765.2 517,764.5 518,763.7 519,762.6 520,762.5 521,762.2 522,761.4 523,761 524,761.3 525,761.5 526,761.1 527,761.2 528,760.7 529,759.5 530,759 531,759 532,759 533,758.8 534,757.9 535,757.2 536,756.8 537,755.5 538,753.8 539,753.1 540,752.9 541,752.6 542,752.1 543,750.8 544,749.3 545,748.5 546,747.7 547,747 548,746.4 549,745.7 550,745.5 551,744.9 552,743.2 553,742 554,741.1 555,740 556,739.5 557,739.1 558,738.2 559,737.1 560,736.4 561,736 562,735.1 563,734.1 564,733.1 564.2,732.7 564.2,773.2 564,773.4 563,774.2 562,775.2 561,776.1 560,776.6 559,777.1 558,778.3 557,779.3 556,779.8 555,780.7 554,781.7 553,783.1 552,784.7 551,785.8 550,786.7 549,787.6 548,789.2 547,790.9 546,792 545,793 544,794.2 543,795.5 542,796.4 541,797.1 540,797.9 539,798.8 538,799.4 537,800 536,800.9 535,801.6 534,802.4 533,803.1 532,803.8 531,804.8 530,805.7 529,806.7 528,808.1 527,809.3 526,810.2 525,811.2 524,811.6 523,812.1 522,813.4 521,814.5 520,815.1 519,815.9 518,817 517,818.2 516,819.1 515,819.6 514,820.2 513,821 512,821.9 511.1,823.1 510.1,824.3 509.1,825.4 508.1,826.3 507.1,827.2 506.1,828.3 505.1,829.2 504.1,830.2 503.1,831.2 502.1,832.2 501.1,832.9 500.1,834 499.1,835.3 498.1,836.1 497.1,836.7 496.1,837.6 495.1,838.7 494.1,839.9 493.1,841.3 492.1,842.3 491.1,842.3 490.1,843 489.1,844.2 488.1,844.7 487.1,845.4 486.1,846 485.1,846.4 484.1,847 483.1,847.6 482.1,847.8 481.1,847.5 480.1,846.8 479.1,846.7 478.1,847.2 477.1,847 476.1,846.2 475.1,845.6 474.1,845.9 473.1,846.6 472.1,846.6 471.1,846.6 470.1,847.4 469.1,848.3 468.1,848.3 467.1,848.5 466.1,849.2 465.1,849.8 464.1,850.2 463.1,850.9 462.1,851.4 461.1,851.9 460.1,852.2 459.1,852 458.1,852.4 457.1,853.2 456.1,853.9 455.1,854.1 454.1,854.2 453.1,854.8 452.1,855.9 451.1,857.4 450.1,858.3 449.1,858.7 448.1,859.4 447.1,860.1 446.1,859.8 445.1,859.5 444.1,859.7 443.1,859.5 442.1,859 441.1,858.8 440.1,858.5 439.1,857.9 438.1,858.2 437.1,859.3 436.1,859.9 435.1,859.5 434.1,859.6 433.1,860.5 432.1,861.2 431.1,861.1 430.1,861 429.1,861.2 428.1,861.1 427.1,860.9 426.1,861.1 425.1,861.4 424.1,860.5 423.1,859.2 422.1,859 421.1,860 420.1,861.1 419.1,862 418.1,862.7 417.1,862.7 416.1,861.8 415.1,861.7 414.1,863 413.1,864.3 412.1,864.7 411.1,865.1 410.1,866.3 409.1,867.1 408.1,867.6 407.1,868.3 406.1,867.9 405.1,867.7 404.1,868.6 403.1,869.3 402.1,869.8 401.1,869.3 400.1,868.7 399.1,869.6 398.1,870.1 397.1,869.8 396.1,870.4 395.1,871.9 394.1,873.1 393.1,872.1 392.1,871.1 391.1,871.5 390.1,871.4 389.1,871.3 388.1,872.1 387.1,872.7 386.1,873.6 385.1,874.6 384.1,874.1 383.1,874 382.1,875.4 381.1,876 380.1,876.6 379.1,877.8 378.1,879.2 377.1,880 376.1,880.5 375.1,882.1 374.1,882.8 373.1,882.4 372.1,883.1 371.1,882.9 370.1,882.3 369.1,883.1 368.1,884.3 367.1,886.3 366.1,887.8 365.1,886 364.1,883.5 363.1,882.9 362.1,882.3 361.1,881.7 360.1,881.9 359.1,881.7 358.1,882.7 357.1,883.6 356.1,881.4 355.1,879.8 354.1,879.8 353.1,879.7 352.1,880.4 351.1,881 350.1,881.3 349.1,881.3" fill="#d1283f" fill-opacity="0.26" stroke="#d1283f" stroke-opacity="0.4" stroke-width="1.2" stroke-linejoin="round"/>
<polygon points="564.2,732.9 565.2,731.7 566.2,730.5 567.2,729.1 568.2,727.4 569.2,725.9 570.2,724.9 571.2,723.8 572.2,722.6 573.2,722.2 574.2,721.5 575.2,720.5 576.2,720 577.2,718.9 578.2,717.6 579.2,717.1 580.2,716.4 581.2,714.8 582.2,713.3 583.2,712.4 584.2,711.4 585.2,711 586.2,710.4 587.2,708.6 588.2,706.7 589.2,705 590.2,703.3 591.2,701.4 592.2,699.7 593.2,698.3 594.2,697.8 594.4,697.8 594.4,736.6 594.2,736.7 593.2,737.2 592.2,738.4 591.2,739.4 590.2,740.7 589.2,742.1 588.2,743.1 587.2,744.1 586.2,745.2 585.2,746.4 584.2,747.7 583.2,749.4 582.2,750.9 581.2,752 580.2,753.3 579.2,754.8 578.2,756.2 577.2,757.4 576.2,758.6 575.2,759.9 574.2,761.1 573.2,762.5 572.2,763.8 571.2,764.8 570.2,765.9 569.2,767.1 568.2,768.3 567.2,769.7 566.2,771.1 565.2,772.1 564.2,773.2" fill="#505050" fill-opacity="0.3" stroke="#505050" stroke-opacity="0.55" stroke-width="1.2" stroke-linejoin="round"/>
<polyline points="350.4,761.4 358.6,788.4 366.5,802.5 373.1,808.9 378.8,816.5 383.9,817 388.4,815.4 392.5,820.8 396.2,825.7 399.7,824.1 402.8,825.1 405.8,827.9 408.6,832.2 411.2,827.9 413.6,830.6 416,830 418.2,831.6 420.3,832.2 422.2,832.7 424.2,831.6 426,829.3 427.7,828.3 429.4,827.2 431,825.9 432.6,825 434.1,824.2 435.6,823.3 437,822.9 438.3,822.4 439.7,822.9 440.9,823.3 442.2,823.4 443.4,823.4 444.6,823.7 445.7,825 446.8,825.2 447.9,824.7 449,823.5 450,822.5 451,821.8 452,821.5 453,821.5 453.9,820.8 454.8,820.5 455.7,819.9 456.6,819.7 457.5,820.4 458.3,820.2 459.2,819.7 460,819.1 460.8,818.7 461.6,818.9 462.4,818.9 463.1,819.1 463.9,819 464.6,819.2 465.3,819.4 466,819.8 466.7,820.4 467.4,820.4 468.1,820.1 468.8,819.5 469.4,819.5 470.1,820.1 470.7,820.5 471.3,820.8 471.9,820.6 472.6,820.4 473.2,820.1 473.7,819.7 474.3,819.4 474.9,819.2 475.5,819 476,818.6 476.6,818 477.1,817.2 477.7,816.6 478.2,816.1 478.7,816.2 479.3,816.1 479.8,815.7 480.3,815.5 480.8,815.1 481.3,815.2 481.8,815.1 482.3,814.7 482.7,814.3 483.2,814.2 483.7,814 484.1,813.8 484.6,813.5 485.1,813.1 485.5,812.6 486,812.7 486.4,812.9 486.8,813.1 487.3,813.3 487.7,812.6 488.1,812.3 488.5,812 488.9,811.7 489.4,811.7 489.8,811.2 490.2,810.9 490.6,810.6 491,810.6 491.4,810.6 491.7,810.5 492.1,809.9 492.5,809.2 492.9,809.3 493.3,809.3 493.6,809.3 494,809.2 494.4,808.9 494.7,809.1 495.1,809.1 495.4,808.9 495.8,808.6 496.1,808.3 496.5,808.1 496.8,807.9 497.2,808.3 497.5,808.5 497.9,808.3 498.2,807.6 498.5,806.9 498.9,806.8 499.2,806.8 499.5,806.9 499.8,806.6 500.1,806.3 500.5,805.9 500.8,805.8 501.1,805.9 501.4,805.8 501.7,805.7 502,805.5 502.3,805.5 502.6,805.2 502.9,804.7 503.2,804.1 503.5,804 503.8,804 504.1,803.8 504.4,803.8 504.7,803.6 505,803.7 505.2,803.7 505.5,803.5 505.8,803.4 506.1,803.2 506.4,803 506.6,802.7 506.9,802.2 507.2,801.9 507.4,801.7 507.7,801.6 508,801.5 508.2,801.4 508.5,801.5 508.8,801.4 509,801.3 509.3,800.9 509.5,800.6 509.8,800.5 510,800.4 510.3,800.4 510.5,800.2 510.8,800 511,799.8 511.3,799.8 511.5,799.5 511.8,799 512,798.6 512.3,798.5 512.5,798.7 512.7,798.9 513,799 513.2,798.7 513.4,798.4 513.7,798.1 513.9,797.9 514.1,797.7 514.4,797.5 514.6,797.3 514.8,797.2 515,797 515.3,796.8 515.5,796.6 515.7,796.3 515.9,796.2 516.2,796.2 516.4,796.1 516.6,796 516.8,795.8 517,795.9 517.2,795.9 517.5,795.7 517.7,795.6 517.9,795.3 518.1,795.1 518.3,794.9 518.5,794.8 518.7,794.7 518.9,794.6 519.1,794.5 519.3,794.4 519.5,794.2 519.7,794.1 519.9,793.9 520.1,793.8 520.3,793.6 520.5,793.5 520.7,793.4 520.9,793.3 521.1,793 521.3,792.8 521.5,792.6 521.7,792.3 521.9,792.3 522.1,792.4 522.3,792.4 522.5,792.2 522.6,791.8 522.8,791.6 523,791.5 523.2,791.4 523.4,791.3 523.6,791.2 523.8,791.1 523.9,791 524.1,790.9 524.3,790.9 524.5,790.7 524.7,790.6 524.9,790.4 525,790.2 525.2,790.1 525.4,790.1 525.6,789.9 525.7,789.8 525.9,789.7 526.1,789.5 526.3,789.4 526.4,789.2 526.6,789 526.8,789 526.9,788.9 527.1,788.8 527.3,788.7 527.5,788.4 527.6,788.2 527.8,788.1 528,788.1 528.1,788 528.3,787.8 528.5,787.8 528.6,787.8 528.8,787.8 528.9,787.7 529.1,787.5 529.3,787.3 529.4,787.1 529.6,787 529.7,786.8 529.9,786.7 530.1,786.6 530.2,786.5 530.4,786.4 530.5,786.4 530.7,786.2 530.9,786 531,785.8 531.2,785.6 531.3,785.5 531.5,785.3 531.6,785.2 531.8,785.2 531.9,785.2 532.1,785.3 532.2,785.2 532.4,785.1 532.5,785.1 532.7,785 532.8,784.9 533,784.6 533.1,784.4 533.3,784.2 533.4,784.1 533.6,784.1 533.7,784 533.9,783.9 534,783.8 534.1,783.6 534.3,783.3 534.4,783.1 534.6,783.1 534.7,783 534.9,782.8 535,782.6 535.1,782.7 535.3,782.7 535.4,782.7 535.6,782.5 535.7,782.3 535.8,782.2 536,782 536.1,781.8 536.3,781.6 536.4,781.6 536.5,781.5 536.7,781.3 536.8,781 536.9,780.9 537.1,780.9 537.2,780.9 537.3,780.7 537.5,780.6 537.6,780.5 537.7,780.4 537.9,780.3 538,780.1 538.1,779.9 538.3,779.9 538.4,779.8 538.5,779.5 538.7,779.3 538.8,779.1 538.9,779.1 539,779.1 539.2,779 539.3,778.9 539.4,779 539.6,779 539.7,778.9 539.8,778.7 539.9,778.4 540.1,778.2 540.2,778 540.3,777.8 540.4,777.7 540.6,777.6 540.7,777.6 540.8,777.5 540.9,777.4 541.1,777.3 541.2,777.2 541.3,777.1 541.4,777.1 541.5,776.9 541.7,776.7 541.8,776.6 541.9,776.6 542,776.7 542.1,776.7 542.3,776.5 542.4,776.1 542.5,775.9 542.6,775.7 542.7,775.6 542.9,775.6 543,775.6 543.1,775.5 543.2,775.4 543.3,775.3 543.4,775.1 543.6,775 543.7,774.8 543.8,774.8 543.9,774.8 544,774.6 544.1,774.5 544.2,774.4 544.4,774.3 544.5,774.2 544.6,774 544.7,773.9 544.8,773.9 544.9,773.7 545,773.6 545.1,773.4 545.3,773.2 545.4,773.1 545.5,773.2 545.6,773.1 545.7,772.9 545.8,772.7 545.9,772.6 546,772.5 546.1,772.4 546.2,772.3 546.4,772.2 546.5,772.2 546.6,772 546.7,771.7 546.8,771.6 546.9,771.5 547,771.5 547.1,771.5 547.2,771.4 547.3,771.1 547.4,771 547.5,770.9 547.6,770.8 547.7,770.8 547.8,770.6 547.9,770.6 548.1,770.5 548.2,770.4 548.3,770.2 548.4,770.1 548.5,770 548.6,769.8 548.7,769.7 548.8,769.6 548.9,769.6 549,769.5 549.1,769.5 549.2,769.4 549.3,769.2 549.4,769.1 549.5,768.9 549.6,768.7 549.7,768.5 549.8,768.3 549.9,768.4 550,768.3 550.1,768.3 550.2,768.2 550.3,768 550.4,767.9 550.5,767.7 550.6,767.7 550.7,767.6 550.8,767.6 550.9,767.6 551,767.5 551.1,767.4 551.2,767.3 551.3,767.3 551.4,767.2 551.5,767 551.6,766.9 551.7,766.7 551.7,766.6 551.8,766.4 551.9,766.3 552,766.3 552.1,766.2 552.2,766.3 552.3,766.3 552.4,766.1 552.5,766 552.6,765.7 552.7,765.7 552.8,765.6 552.9,765.5 553,765.3 553.1,765.2 553.2,765 553.3,765 553.3,764.9 553.4,764.7 553.5,764.7 553.6,764.7 553.7,764.7 553.8,764.4 553.9,764.3 554,764.1 554.1,764.1 554.2,764.1 554.3,763.9 554.3,763.8 554.4,763.5 554.5,763.3 554.6,763.4 554.7,763.5 554.8,763.5 554.9,763.2 555,762.9 555.1,762.8 555.1,763 555.2,763.1 555.3,763.1 555.4,762.8 555.5,762.6 555.6,762.4 555.7,762.3 555.8,762.4 555.8,762.4 555.9,762.4 556,762.1 556.1,761.9 556.2,761.8 556.3,761.8 556.4,761.8 556.5,761.7 556.5,761.6 556.6,761.4 556.7,761.4 556.8,761.4 556.9,761.4 557,761.4 557,761.2 557.1,761 557.2,760.9 557.3,760.6 557.4,760.4 557.5,760.4 557.6,760.5 557.6,760.7 557.7,760.7 557.8,760.5 557.9,760.4 558,760.3 558.1,760.2 558.1,760.2 558.2,759.9 558.3,759.9 558.4,759.9 558.5,759.8 558.5,759.8 558.6,759.7 558.7,759.5 558.8,759.4 558.9,759.3 558.9,759.3 559,759.3 559.1,759.2 559.2,759 559.3,758.9 559.4,758.7 559.4,758.7 559.5,758.7 559.6,758.7 559.7,758.6 559.8,758.3 559.8,758.2 559.9,758 560,757.9 560.1,757.8 560.1,757.9 560.2,758 560.3,757.9 560.4,757.9 560.5,757.8 560.5,757.7 560.6,757.6 560.7,757.4 560.8,757.3 560.8,757.3 560.9,757.4 561,757.4 561.1,757.2 561.2,757 561.2,756.7 561.3,756.6 561.4,756.6 561.5,756.6 561.5,756.6 561.6,756.5 561.7,756.3 561.8,756.1 561.8,755.9 561.9,755.9 562,756.1 562.1,756.2 562.1,756.1 562.2,755.8 562.3,755.6 562.4,755.6 562.4,755.6 562.5,755.6 562.6,755.5 562.7,755.3 562.7,755.4 562.8,755.2 562.9,755.1 563,755 563,754.9 563.1,754.9 563.2,754.8 563.3,754.8 563.3,754.8 563.4,754.7 563.5,754.7 563.5,754.4 563.6,754.3 563.7,754.2 563.8,754.1 563.8,754.2 563.9,754 564,753.8 564.1,753.8 564.1,753.7 564.2,753.8" fill="none" stroke="none" marker-start="url(#m)" marker-mid="url(#m)" marker-end="url(#m)"/>
<polyline points="564.2,753.8 565.7,751.9 567.2,750 568.7,748.2 570.2,746.3 571.7,744.4 573.2,742.5 574.7,740.6 576.2,738.8 577.7,736.9 579.2,735.1 580.7,733.3 582.2,731.4 583.7,729.6 585.2,727.7 586.7,725.9 588.2,724.1 589.7,722.2 591.2,720.4 592.7,718.5 594.2,717.1 594.4,717.1" fill="none" stroke="#000" stroke-width="3" stroke-linecap="butt" stroke-linejoin="round"/>
</g>
<rect x="351.9" y="911.7" width="248.2" height="34.9" rx="2" fill="#fff" fill-opacity="0.9" stroke="#cfcfcf" stroke-width="1"/>
<text x="358.6" y="936.1" font-size="24" text-anchor="start" textLength="234.5" lengthAdjust="spacingAndGlyphs">density-minimum 2D</text>
<rect x="349.05" y="678.7" width="284.2" height="270.2" fill="none" stroke="#000" stroke-width="1.5"/>
<path d="M633.3 948.9h6.0M633.3 894.9h6.0M633.3 840.8h6.0M633.3 786.8h6.0M633.3 732.7h6.0M633.3 678.7h6.0M388.4 948.9v6.0M487.3 948.9v6.0M586.1 948.9v6.0M349.1 948.9v3.6M358.6 948.9v3.6M366.5 948.9v3.6M373.1 948.9v3.6M378.8 948.9v3.6M383.9 948.9v3.6M418.2 948.9v3.6M435.6 948.9v3.6M447.9 948.9v3.6M457.5 948.9v3.6M465.3 948.9v3.6M471.9 948.9v3.6M477.7 948.9v3.6M482.7 948.9v3.6M517 948.9v3.6M534.4 948.9v3.6M546.8 948.9v3.6M556.4 948.9v3.6M564.2 948.9v3.6M570.8 948.9v3.6M576.5 948.9v3.6M581.6 948.9v3.6M615.9 948.9v3.6M633.3 948.9v3.6" stroke="#000" stroke-width="1.5" fill="none"/>
<text x="645.6" y="958.4" font-size="24" text-anchor="start" textLength="12.2" lengthAdjust="spacingAndGlyphs">0</text>
<text x="645.6" y="904.4" font-size="24" text-anchor="start" textLength="12.2" lengthAdjust="spacingAndGlyphs">1</text>
<text x="645.6" y="850.3" font-size="24" text-anchor="start" textLength="12.2" lengthAdjust="spacingAndGlyphs">2</text>
<text x="645.6" y="796.3" font-size="24" text-anchor="start" textLength="12.2" lengthAdjust="spacingAndGlyphs">3</text>
<text x="645.6" y="742.2" font-size="24" text-anchor="start" textLength="12.2" lengthAdjust="spacingAndGlyphs">4</text>
<text x="645.6" y="688.2" font-size="24" text-anchor="start" textLength="12.2" lengthAdjust="spacingAndGlyphs">5</text>
<text transform="translate(682.0 814.3) rotate(-90)" font-size="24" text-anchor="middle" textLength="233.7" lengthAdjust="spacingAndGlyphs">estimated dimension</text>
<text x="150.3" y="993.2" font-size="26" text-anchor="middle" textLength="39" lengthAdjust="spacingAndGlyphs">(g)</text>
<text x="491.1" y="993.2" font-size="26" text-anchor="middle" textLength="38.8" lengthAdjust="spacingAndGlyphs">(h)</text>
<g clip-path="url(#cl3)">
<polyline points="156.4,1078.4 205.7,1169.7 164.6,1165.6 191.5,1138.3 112.2,1178.2 233.2,1146.5 130.6,1170.9 149.8,1115.9 192.1,1161.1 192.3,1101.4 121.8,1186.4 165.3,1109.2 147.6,1102.5 138.3,1123.7 188.3,1130.5 159.1,1176.2 129.3,1130.7 200.1,1114.6 205.5,1165.8 160.7,1124.7 126.3,1101.7 78.9,1164.2 77.3,1168.8 126.8,1200.7 127.4,1169.8 180.6,1109.8 172.4,1137.9 175.8,1172.5 109.2,1111.3 179.3,1098.1 126.9,1156.9 215.7,1147.9 137.3,1157.5 198.1,1171.1 117.5,1161.7 168.7,1110.5 167.8,1104.3 126.2,1138 125.6,1177.5 197.6,1126 149,1182.2 195.4,1162.5 129.1,1168.6 156,1161 126.4,1134 128.1,1174.2 101,1106.8 169.4,1166.9 149.4,1180 139.1,1153.3 203.4,1145.1 151.7,1106.3 192.8,1112 151.7,1198.6 152.5,1191.6 148.9,1188.3 194.7,1103.6 210.3,1191.5 133.8,1166.6 155.8,1122.1 124.9,1153.6 158.1,1175.8 170.8,1141.9 171.8,1152.8 130.9,1141.1 193.8,1103.4 158.6,1118.5 198.8,1158.5 180.9,1111.1 175.9,1138 159.8,1123.5 169.4,1124.6 174.6,1172 125.9,1174.7 134,1102.3 169.3,1061.2 113,1183.6 142.1,1202.7 174.1,1098.6 221.6,1097.7 157.2,1113.1 163.8,1165.6 143.1,1165 112.3,1162.9 128.1,1128.9 185.1,1122.4 217.5,1152.2 222.8,1093.4 202.6,1153.4 114.1,1152.4 154.3,1170.7 152.4,1107 102,1078.2 201.2,1146.5 130.1,1165.2 100.9,1131.1 164.8,1118.7 169.3,1128.9 171.8,1126.9 158.9,1162.5 91.7,1109 151.6,1160.4 162.3,1151.9 64.4,1135.1 164.7,1113.9 149,1186 136,1089 129.2,1107.7 170.5,1091.2 128.3,1129.2 157,1108.2 142.6,1168.3 155.9,1053.1 206.3,1115.1 166.2,1076.4 111.7,1121.2 111.9,1119.9 164.3,1163.4 116.5,1125.5 168.5,1166.6 161.5,1182.9 191.3,1142 147.7,1121.1 185.9,1101 71,1173.8 130.8,1097.2 66.6,1164.4 67.9,1153.1 162.5,1157.7 182.5,1118 121.3,1167.4 111.5,1181.8 160.4,1093 170,1160.1 128,1186.4 134,1151.9 131.1,1194.1 128.9,1149.7 132.7,1131.8 148.2,1176.7 186.6,1136.2 141,1184 139.8,1153.1 160.3,1122.1 137.2,1182.9 170.9,1164.1 213.6,1117.6 127.2,1151 185.1,1122.9 94.2,1183.9 107.7,1160 164.4,1149.4 227,1104.1 217.4,1159.9 162.7,1151.6 180.5,1098.1 126.7,1113.2 108,1101.2 100.5,1104.1 53.1,1186.5 183.4,1153.1 205.7,1092.9 99.7,1099.8 181.1,1140 187.8,1102.9 133.9,1123.7 119.5,1131.7 155.5,1121.7 120.9,1194.3 151.7,1088.9 158.3,1156.9 163,1194.6 156.7,1200 136.6,1159.3 196.1,1137.1 180,1136.3 137,1177.8 165.4,1147.3 156.4,1160.7 113.6,1117.3 127.7,1142.1 104.8,1223.4 98.5,1127.4 133.1,1124.6 201.6,1177.5 123.9,1146 154.8,1092.2 163.2,1161.5 164.2,1153.8 104,1137.2 160.2,1157.2 143.8,1119.7 194.9,1207.9 130.5,1105.4 154.5,1113.1 120.8,1165.4 158.1,1079.6 143.7,1112.1 224.8,1140.6 171.9,1194.1 120.9,1095.4 206.4,1133.7 104,1120.5 148.4,1156.7 197,1104.4 154,1110.6 171,1127.3 193.5,1161.9 129.7,1166.3 159.9,1123.5 172.9,1126.8 130.3,1158.9 185.8,1127.9 172.1,1110.2 163.2,1120.3 180.3,1099.4 156.3,1156.4 132,1172.5 127.6,1136.9 129.9,1177.3 102.8,1091.1 163.5,1086.9 176.2,1135.1 92.7,1159.7 217.6,1183.4 149.1,1118.9 177.3,1170 170.1,1140.3 87.6,1161.2 181.3,1128.6 157.5,1202.4 97.1,1160.5 184.4,1141 159,1180.6 189.9,1167.9 150.2,1155.6 158.9,1181.4 151.7,1086.3 170.6,1090.5 176.8,1118.9 135.2,1106.7 106.7,1111 140.1,1107.6 107.4,1136.5 193.6,1153 196,1120.2 132.2,1111.6 111.8,1153.2 142.5,1091.5 159.7,1151.6 202.7,1126.6 158.6,1110.9 161,1159.8 145.6,1113.9 184.5,1163.8 134.8,1117.4 163.4,1150.8 148.9,1114.4 201.1,1187.6 125.3,1176.6 176.5,1114.9 120.3,1113.8 149.9,1177.3 181.5,1157.1 169.7,1096.3 203.1,1051.1 170.4,1126.5 125.2,1151.8 165.2,1125.2 95.8,1116.6 175.3,1121 212.1,1165.5 135.2,1177.1 122,1138.8 137.3,1191.9 175.4,1141.9 130.1,1121.3 167.7,1130.7 144.8,1108.2 127.2,1124.8 183.5,1143.5 135.7,1114.9 132.2,1158.3 153.5,1099.2 175.4,1119.2 136.3,1108.5 161.2,1123.7 120.5,1098.5 157.4,1114.9 132.4,1188.9 170.6,1109.1 142.1,1113.4 129.2,1152.1 150.7,1088.1 116.9,1167.8 147.3,1217.3 173.9,1153.7 124.1,1192.2 164,1125.4 178.5,1142.8 191.2,1147.2 184.3,1182.6 104.8,1150.6 145.9,1157.8 122.7,1104.3 200.2,1113.9 155.2,1091.6 127.1,1151.9 111.6,1112.9 177.4,1176.6 155.9,1096.6 207.1,1133 166.6,1142.9 140.6,1107.9 170.2,1033.9 196,1149.1 150.1,1084.4 133.3,1171.2 135.2,1124.4 226.1,1102.6 144.8,1174.2 115.9,1104.8 164.9,1124.9 119.9,1195.7 171.3,1127.2 129.4,1123.3 123.3,1122 132.8,1132.8 199.2,1112.6 98.2,1144 197.7,1129.2 163.8,1101.5 116.6,1172.2 208.4,1129 164.7,1109.1 173.4,1181.6 122.6,1160.7 168.3,1097.5 189.1,1127.3 122.5,1151 175.3,1123.6 167.7,1186.4 185.7,1128.9 115.4,1146.6 166.3,1168.5 169.9,1161.1 123.6,1137.6 113.5,1119.5 127.5,1108.6 135.8,1158 186.6,1181 98.8,1163.4 159.9,1123.5 115.3,1151.7 120.8,1095.5 216.6,1159.5 144.3,1156.8 95.6,1141.6 192.2,1163.3 168.5,1148.1 114.9,1158.7 136,1160.5 104.5,1174.6 136.7,1176.9 205.5,1171.2 76.8,1146.8 154.6,1086.1 172.1,1060.3 125,1120 137.7,1188.7 97.4,1166.3 157.2,1094 170,1118.7 208,1146.4 128.1,1165.5 161.2,1188.7 128.5,1132.9 132.5,1138.9 111.3,1187.3 156.1,1080.6 103.6,1145.4 91.5,1175.5 167.2,1185.7 133.4,1164.8 201.7,1112.6 138.1,1094.6 189.4,1140.2 183.9,1092.7 200,1138.8 161,1159.9 127.5,1113.4 127.3,1092.1 196.4,1047.3 112.4,1155.2 121.9,1173.8 187.6,1153.9 111.5,1133.4 146.3,1171.6 142.5,1094.2 167.1,1109.7 132.5,1134.1 106,1138.1 146.3,1177.6 166.6,1114.3 119.2,1188.5 202,1184.5 148.1,1101 123.4,1171.6 113.9,1106.1 120.1,1176 136.8,1150.5 151.2,1159.1 170.1,1152.6 167.4,1159.4 129.6,1152 179.5,1184.4 115.6,1137.7 180.8,1127.8 168,1120.9 127.6,1125.7 245.1,1173.3 137,1177 125.7,1150.6 172.5,1123 198.2,1082.1 104.4,1126.9 102.9,1115.6 162.7,1162.1 130.7,1148.1 161.2,1156.2 131.7,1136.2 170.6,1153.6 187.3,1185.2 178.4,1125.7 127.7,1172.5 197.8,1174.5 154.1,1082.3 109.6,1158.4 167.7,1138.6 170.4,1138.4 119.4,1111.2 193.4,1162.1 169,1160.2 170.5,1134 82.2,1063.8 130.2,1126.2 142.2,1109.8 158,1179.2 151.2,1105.4 190.3,1186.5 175.3,1163.1 101.9,1085.1 95.3,1111.6 197.6,1153.6 131.5,1159.1 179.2,1124.3 143.7,1174.7 107.5,1180.6 110.7,1135.7 125.2,1144.2 201.6,1134.3 200,1132.4 131.4,1163.2 209.1,1146.7 194.8,1135 146.4,1111.6 195.7,1174.9 148.4,1164.4 138.1,1167.8 169.1,1169.4 88,1140 131.9,1159.9 165.8,1164 107.6,1091.6 177.7,1186.9 148.3,1116.6 109.5,1175.8 137.5,1159.8 173.2,1128.1 193.2,1163.5 111.3,1169 202.6,1152.2 192.1,1147.6 149.3,1115.2 132.3,1142.8 142,1108.9 171.7,1127.4 106.8,1092.5 172.9,1158.2 176,1174.6 188.8,1147 108.4,1152.4 189.7,1113 130.1,1185.5 199.3,1108.7 199.5,1162.8 126.9,1195.3 127,1120.6 168.9,1119.1 124.2,1054.7 183.8,1169.9 175.5,1193.8 126.9,1175.5 134.2,1149.7 174.5,1122.2 156.2,1122.4 136.6,1155.7 182.1,1109.1 171,1152.6 143.5,1086.1 146.6,1164.3 175.9,1151.7 96.7,1144.1 126.7,1112.1 132.2,1145.5 84,1102.3 125.7,1170 172.2,1162.6 149.8,1120.6 169.3,1153.7 180,1145.1 171.3,1113.8 160.9,1090.8 176.7,1097.4 177.2,1111.1 176,1132.3 128.9,1110.5 168.6,1140.6 121.6,1148.6 198.1,1159.2 172.9,1088.7 118.1,1156.5 109.8,1122.8 209.3,1146.7 146.1,1169.7 167.1,1143 164.6,1094.8 131.2,1099 167.6,1169.6 130.9,1172.1 110.7,1142.1 119.8,1103.4 126.5,1079.1 129.6,1131.7 118.5,1139.9 163.6,1180.7 111.4,1127.4 194.3,1144.6 141.9,1154.2 59.5,1147.1 160.1,1095.9 147.5,1177 109.6,1136.6 147.4,1170.2 176,1115.3 145.6,1121 113.2,1166.9 123.6,1106.1 179.3,1095.2 193.3,1162.6 120.3,1108.8 156,1155.4 81.7,1142.4 98.9,1149.2 136.3,1172 149,1174.6 160.2,1166.4 171.9,1157.1 175.2,1149.6 92.6,1164.3 189.6,1094.9 100.8,1180.7 102.3,1106 189.1,1165.2 166,1172.2 90.8,1104.4 166.3,1160 98.1,1167 165.5,1166.1 103.1,1166.2 182.7,1129.3 171.8,1166.4 158.9,1096.7 98.9,1124.8 150.6,1154.4 195,1152.4 165.9,1108.6 142.1,1095.6 155.4,1090.4 123.1,1139.7 168.6,1110.2 135.1,1083.8 125.1,1122.5 189.3,1136.1 167.3,1143.2 203.7,1126.8 164.2,1076.6 150.3,1161.2 169,1103.4 165,1077 158.6,1157.2 196.5,1132.9 131,1156.4 115.8,1171.9 125,1171.6 102.7,1178.7 125.3,1127.3 73.4,1154.1 143.3,1164.1 123,1119.2 95.5,1165.4 137.6,1125.9 167.6,1117.7 166.6,1081.9 110.3,1135.7 145.5,1110.9 131.7,1133.6 145,1182.3 96.9,1120.2 117.8,1188.2 119.7,1147.4 189.4,1141.9 123.3,1155.7 102,1098.9 95.7,1165.5 166.1,1129.1 194.3,1095.6 191,1189.5 255.9,1138.2 210.2,1141.9 133.1,1173.9 131.7,1114 134,1178.1 105.3,1108.3 104.6,1076.3 137.7,1178.4 136.4,1166.2 152.8,1104 128.7,1151.6 128.6,1170 128.5,1159.9 193.8,1106.9 137.1,1100.1 173.2,1098.6 119.3,1107.4 184.2,1215 163.2,1116.8 142.4,1099 201,1139.3 151.4,1105.6 159.4,1103.4 84.4,1161.4 174.5,1116.1 147.7,1119.5 164.1,1152.9 85,1115 128.7,1123.5 93.5,1127.8 182.8,1114.2 166.6,1086.7 192.1,1162.1 153.2,1109.5 116.7,1127.2 120.7,1170.3 172,1068.2 135.9,1121.1 151.2,1178.7 162.1,1121.5 210.2,1162.8 149.3,1154.6 183,1121.3 188.4,1100.6 197.2,1143.8 153.9,1091.4 151.4,1167.9 130.4,1130.2 131.6,1145.1 177.7,1108.4 163.5,1114.4 181.9,1140.5 190.4,1124 139.3,1167.2 184.1,1167.3 107.2,1111.2 160.4,1178.2 152.8,1097.9 148.5,1120.8 215.4,1171 124.4,1122.2 116.2,1114.5 111.6,1163.7 194.7,1160.9 103.5,1165.2 168.3,1153.1 127,1083 148.6,1172.5 132.9,1094.8 136.7,1163.3 179.7,1163.1 107.9,1115 132.7,1177.9 110,1096.6 184.5,1156.5 151.2,1115.2 121.4,1154.3 166.6,1151.9 141.3,1158.1 152.7,1155.8 202.1,1107.5 143.9,1120.2 139.1,1170.9 62.1,1143.9 123.4,1174.7 96.1,1138.8 167.3,1068.3 80.4,1136.8 163.6,1119.7 127.4,1095.8 153.9,1175.4 161,1108.6 194.1,1172.3 86.1,1121.8 136.9,1110.8 175.8,1137.7 180.6,1180.6 206.1,1158.3 136.7,1156 165.4,1169.3 172.2,1164.5 117.7,1139.8 102.1,1129.7 171.5,1161.5 133.1,1182.1 222.9,1118 136.8,1078.2 155,1110.4 121.3,1144.8 186.9,1149.5 178.1,1145.5 112.1,1115.9 154.5,1091.5 150.4,1100.3 163.8,1159.8 135.8,1156.1 174.3,1117.2 227.7,1082.8 143,1171.7 173.9,1133.1 167.8,1112.1 133,1186.5 120.3,1159.5 191.3,1126.1 179.5,1159.8 154,1102.8 189.1,1124 143.6,1111.1 155.3,1114.5 113,1167 95,1124.1 139.6,1092.8 182.1,1150.7 117.6,1136.8 176.4,1162.7 160.9,1164.4 162.1,1168.8 196.8,1120.8 115,1074.5 119.5,1215.5 137.8,1109.5 193.1,1123.4 187,1164 163.7,1116.4 224.3,1126.6 122.9,1130.2 107.4,1162.8 109.5,1163.4 114.1,1095.4 198.4,1145.6 158.6,1093.9 192.1,1125.2 117.3,1162.5 171.3,1172.6 163.1,1180.6 141.8,1119.4 179,1123.6 174.1,1130.3 150.8,1103.1 126.4,1173.6 128,1138.2 204.3,1090.3 165,1122.5 169.9,1132.6 123.4,1115.7 188.5,1154.4 166.7,1101.4 134.7,1175.7 163.9,1165.2 163.9,1105.8 185.5,1178.2 163.7,1173.8 134.2,1097.4 130.4,1100.5 152.6,1172.7 139,1087.9 186,1097.5 153.8,1158.9 180.4,1138.1 205.6,1207.2 155.5,1120.7 130.5,1102.1 171.9,1137.1 132.1,1144.2 154.3,1117.7 168.7,1106.3 171.1,1182.6 172.9,1170.9 161.8,1157.7 158.9,1120.6 121.5,1151.3 123.8,1128.8 155.9,1096.6 119.6,1126.3 123.7,1127.7 116.8,1170.2 99.6,1133.7 116.9,1098.2 143.9,1089.5 172.6,1207.2 103.6,1131.6 146.1,1116.8 116.5,1175.8 216.9,1168.5 147.8,1159.2 141,1103.1 209.6,1096.3 192.3,1161.4 97.7,1179 199.2,1114.5 161.7,1123.3 166.8,1141.3 180.5,1129.9 84.3,1122.3 203,1179.6 158.9,1177.9 230.2,1121.5 109,1091.1 158.9,1103.2 94.1,1120.8 142.1,1111.9 183.8,1166.4 184.1,1132.2 134.6,1171.7 173.8,1199.9 169.3,1128.7 151.5,1178.6 90.5,1152 110,1127.2 126.9,1114.4 106.1,1148.8 180.9,1115 180.8,1156.5 146.3,1164.9 113.3,1139.7 169.6,1181.8 114.6,1174.5 158.2,1177.4 168,1124.4 171.7,1144.2 169.2,1122.2 160.6,1115 123.8,1165.5 163.3,1152.7 182.6,1169.9 129.7,1118 168.5,1107.9 125.8,1157.7 125.3,1097.5 161.3,1169 130.3,1152.1 99.9,1148.2 147.6,1080.6 159.3,1181.6 122.9,1134.2 217,1146.1 147.5,1155.2 152.2,1160.4 152.9,1099.8 150.2,1168.9 153.7,1089.1 180.5,1126.4 114.6,1148.7 165.9,1072.6 118.3,1100.2 167.7,1145.3 103.5,1175.9 171.9,1135.6 132.6,1097.4 108.7,1084.2 167.1,1115.2 193.2,1148.5 180.9,1183.2 121.6,1095 121.8,1109.8 113.1,1114.3 153.4,1170.2 202.1,1122.6 132.4,1141.2 188.6,1114.7 182.2,1091.9 188,1141 161.5,1210.4 149.3,1101 188.7,1186.1 135.8,1148.1 165.2,1160.7 138.9,1117.4 116.4,1127.5 127.9,1159.1 121,1084.9 114.6,1116.9 190.5,1155.1 163.2,1120 178.4,1167.1 133,1108 165.4,1107.1 168.1,1185.8 125.6,1094.8 169.8,1117.3 99.8,1162.5 138.1,1159.1 164.5,1157.1 186.2,1122 125.8,1183 186.4,1108.4 164.1,1111.2 131,1143.2 112.9,1142.8 101.3,1142.4 120.6,1155.6 177.1,1169.2 172.1,1121 166.9,1140.6 105.9,1101.7 204.7,1157 120.5,1090.6 174.8,1151.8 100.3,1143 176.1,1166.7 174,1219.4 165,1094.9 135.2,1171 183.2,1178.7 126.5,1176 163.2,1098.2 182.4,1120.8 161.4,1158.9 171.1,1130.6 181.8,1099.2 126.5,1160.5 154.3,1117.6 102.3,1081.5 125,1195.4 130.8,1083 171.3,1156.5 207.3,1144.3 154.8,1209.4 161.9,1114.3 164.9,1159.5 141.4,1112.2 128.9,1172 155.1,1120.3 150.6,1165.6 116,1177.8 128.6,1138.9 121,1116.5 127.7,1103.7 145,1106.6 152.7,1167.7 151.1,1120.9 124.6,1115.1 127.8,1098.9 173.5,1166.9 133.7,1122.6 126.9,1086.8 193,1132.8 129.4,1118.6 161.4,1116.3 140.5,1170.9 147.7,1158.5 178.1,1081 151.3,1114.3 96.4,1108.6 221.8,1178.1 169.2,1177.7 150,1176.5 119.7,1170.9 179.1,1153.5 119.8,1088.2 177.9,1170.4 106.8,1175.7 108.5,1148.6 120.1,1122.1 120.6,1101 203.6,1095.3 121.8,1166 157.7,1094.9 118.1,1185.5 87.3,1152.9 133.6,1145.6 176.9,1125.2 168.3,1140.9 40.4,1136.6 138.9,1119.4 182.5,1164.4 115.8,1181.7 209.2,1186.6 180.4,1176 126.8,1147.5 155.1,1156.4 179.7,1127.2 129.5,1147.8 113.4,1131.6 82.2,1160.9 189.8,1137.3 148.5,1102.3 136.9,1166.4 177.4,1124.9 138.2,1072.3 118.5,1155.4 165.8,1122.2 138.2,1196.6 108.1,1109.8 112.1,1154.9 150.8,1105.8 151.6,1168.1 215.4,1140.7 118.1,1111 177,1146.3 178.6,1133.9 167,1081.8 152.8,1176.7 118.9,1141.9 105.6,1153.8 169.3,1136.2 166.8,1142.4 142.5,1163.5 150.4,1181.3 113.9,1126.8 186.5,1148.6 160.9,1184.3 178.6,1113.6 93,1104.2 138.9,1161.8 130.9,1146.1 73.8,1133.4 120.1,1140.4 204.3,1176.7 125.9,1143.9 121,1097.1 190.6,1093.9 160.1,1153.6 119.8,1160.2 120.6,1145.5 175.3,1124.8 147.9,1091.2 168.4,1130.1 134.4,1155.3 176.6,1157.1 202.1,1106.6 160.3,1093.3 123.6,1115.8 59,1176.5 119.6,1131.7 168,1125.6 187.3,1150.3 163.5,1151 76.9,1138 180.9,1178.1 173.5,1144 186.6,1121.3 122.1,1110.4 161.8,1162.6 189.5,1181.4 201.3,1106.7 177.2,1105.3 121.6,1125.6 143.3,1156.6 156.5,1197.2 133.9,1123.1 134.9,1159.2 110,1165.1 133.9,1132.5 111.6,1096.1 116,1167.5 92.5,1130.8 121.9,1152.1 160.1,1093.5 216.3,1112 184.2,1148.5 86.6,1210.3 169.9,1133.2 183.9,1140.9 195.6,1094.8 177.9,1088.1 145.7,1093.9 199.3,1123.2 89.8,1135.2 122.7,1138.4 199,1120.8 155,1097.3 116.3,1148 188.5,1142.9 168.8,1167.7 103.9,1154.3 131.5,1140.9 102.6,1121.6 89.1,1176.3 171.6,1172.2 149.7,1092.1 150.9,1159.1 164.9,1088.3 149.9,1160 108.9,1120 111.8,1126.5 173.1,1185.2 115.5,1095.5 131.6,1118.6 128.5,1117.7 183.6,1158 172.5,1121.6 168.1,1140.9 171.9,1113.7 177.4,1113.7 102.8,1120.9 136.3,1114.7 125,1122.4 170.7,1074 139,1118.7 150.7,1119.7 97.5,1164.3 194.5,1154.7 75.2,1132.7 142.4,1182.3 167.5,1121.7 175.7,1100.8 125.5,1058.1 120.3,1151 50.6,1130.1 183.2,1141.7 125.8,1157.9 157.3,1183.9 113.5,1115.5 149.9,1083.8 123.3,1182.4 106.5,1087.9 111.8,1117.5 186.7,1112.3 155.8,1230.2 130.9,1153.5 142.8,1111 162.4,1186.8 150.3,1114.9 148.3,1160.4 190.4,1127.1 179.6,1133 132.4,1153.1 159.3,1073.3 123.1,1126.5 166.4,1090.7 178.9,1166.3 151.9,1163.7 175.4,1137.6 204.3,1119.6 128.7,1152.2 129.8,1077.5 186.1,1154.4 130.9,1182.1 178.5,1118.9 191.8,1185.3 126.1,1112.3 105.4,1131.7 177.2,1119.2 119.8,1098.2 170.1,1157.6 190.6,1113.1 169.9,1155 159.2,1164.9 179.6,1124.7 90.5,1135.1 132.4,1085.3 181.6,1139.4 161.7,1163.7 171.5,1122.8 136.2,1089.1 169.4,1153.1 171,1060.9 119,1178.4 163.1,1188.2 154.2,1092.8 210.5,1131.3 170.1,1151.2 154.9,1174.1 113.6,1126.5 96.5,1169.6 126.6,1188.4 177.5,1135.3 134.1,1149.7 146.4,1099.1 164.8,1163.4 169.6,1113 115.1,1121.8 170.7,1129.6 217.7,1171.7 223.8,1093.3 128.7,1069.2 133.2,1132.3 139.8,1120.3 183.7,1137.8 167.1,1151.3 137.2,1166.9 130.5,1102.8 194.3,1158.9 119.5,1091.2 115.6,1178.5 154.9,1094.7 143.7,1109.1 153.8,1119.8 123.3,1181.7 190.9,1122.2 137.1,1112.9 130.4,1084.2 159.6,1110.1 134,1149.1 112.6,1126 114.3,1085.2 86.3,1184.3 153.3,1166.8 190.3,1094.3 123.7,1134.9 134.5,1098.6 130.9,1094.5 142.5,1112.8 173.4,1166.6 124.4,1162.6 129.3,1148.5 189.5,1135.1 151.4,1114.1 134.6,1111.9 145.6,1109.9 128.8,1099 151.6,1187.7 121.1,1159.3 119.3,1151.4 122,1163.9 139.4,1181.2 208.3,1155.1 169.1,1107 120.8,1146.1 178.6,1156 170.6,1176.4 191.5,1118 145.3,1121.8 164.6,1108.5 206.3,1153 180.8,1137.8 150.8,1170.6 133.9,1151.4 127.7,1149.2 140.1,1113 95.5,1197.1 196.6,1166.7 101.7,1134 157.5,1173.2 124.3,1181.7 116.3,1153.8 166.3,1175 181.4,1151 160.4,1202.7 123.7,1185.9 129.1,1176.5 176.2,1112.3 132.9,1116 83.3,1172 141.2,1104.1 178.5,1131.9 167.3,1102.5 123.1,1127.5 156,1199 129.5,1164.5 186.1,1177.5 173.2,1165.2 164.1,1151.6 157.1,1156.9 152.6,1186.3 188.7,1178.7 91.1,1161 132.2,1137 133,1132.7 173.3,1095.8 138,1118.9 188.6,1122.7 158.6,1093.8 173.3,1134.1 112.9,1126.1 176.3,1138 184.7,1144.1 188.3,1154.5 129,1131.5 115.1,1120.2 139.3,1095.3 164.9,1117.8 109.5,1087.7 104.7,1090.2 176.6,1137.6 167.1,1112.4 177.1,1151 196.4,1207.5 173.6,1099.9 190.7,1106.8 140.2,1092.7 197,1113.4 162.5,1114.7 191.2,1102.4 147.1,1109.2 127.6,1112.6 191.1,1171.4 180.6,1122.2 131.5,1158.5 99.8,1146.6 129.2,1135.6 162.7,1151.7 218.3,1153.3 160.5,1188.8 180,1158.2 138.2,1086.3 160.2,1115.6 117.7,1147.8 120,1181.7 197.8,1130.7 90.2,1138.4 118,1073 110.4,1126.2 134.5,1156.2 170.1,1104.7 119.4,1132.1 195.5,1127.1 119.6,1144 176.7,1132.8 167.8,1115.7 117.7,1160 142.9,1072.6 193,1095.7 151.8,1175.4 116.2,1127.3 196.5,1171.9 126.6,1138.1 140.5,1109.9 136.7,1174.3 214.8,1145.1 173.2,1147.8 196.6,1127.6 158.9,1192.7 126.8,1107.6 122.7,1167.5 130.8,1141.8 154.2,1211.1 195.2,1175.4 221.3,1121.3 173.6,1089.7 187.6,1162.3 144,1087.3 135.9,1164.5 122.3,1121.5 99.6,1133.1 139.7,1118.1 167.4,1116.6 126.1,1150 110.6,1149.5 133.3,1113.8 179.4,1129.4 121.6,1119.2 132.8,1162.3 159,1123.8 159.7,1168.8 212.8,1152.8 177.2,1128.6 196.5,1171.7 159.5,1208.6 121,1101.8 145.1,1153.8 126.7,1209.2 102.6,1120.2 175.4,1107.7 136.7,1156.4 174.9,1137 169.2,1120.5 188.3,1119.9 175,1101.7 174.4,1128.8 182.5,1110.2 185.8,1146.3 182.8,1119.2 167.4,1126.6 135,1152.2 148.3,1120.6 202.1,1186.7 223.2,1131.4 167.2,1098.3 184,1138.7 172.2,1112.7 100.1,1155.5 179.5,1120.3 161.2,1123.4 136.3,1158.6 82.9,1126.9 127.9,1067.7 147.9,1156.1 98,1175.1 153.5,1157.7 131.6,1121.9 160,1094.7 247.8,1137.7 139.8,1105.6 195.6,1116.6 148.6,1192.9 193.3,1132.3 152.2,1111.7 165.7,1126.7 213.8,1145.2 185.2,1154.1 189.6,1142.2 185.4,1130.4 145.8,1107.5 183.3,1170.6 139.9,1183.3 168.5,1134.5 179.1,1197.6 187,1120.8 108.4,1121 175.3,1187.5 172.9,1132.5 165,1095.5 148.6,1078.7 147.4,1195.2 141.9,1096.1 170.8,1152.1 95.8,1133.1 177.9,1149.9 98.6,1125.3 136.4,1168.1 150.9,1174 114.9,1085.7 184.2,1152.5 128.3,1148.5 193.7,1188.5 145.5,1162.2 126.7,1123 178.3,1127.9 183.5,1124.5 156.3,1169.9 118.2,1168.8 130.6,1118 156.7,1096.8 168.9,1144.5 100.4,1128.2 189,1146 167.3,1133.3 189.8,1130.5 167.6,1164.1 127.2,1148 174.6,1152.5 170.1,1129.3 84.7,1170 200.2,1077.7 171.6,1114 176.2,1142.2 175.3,1151.9 127.7,1122.3 141.8,1087.6 136.7,1111.8 172.3,1144.8 89.5,1149 103.4,1139.9 178.6,1145.7 99.9,1154 145.5,1117.1 113.5,1161 123,1152.7 149.8,1182.4 123.8,1130.8 203,1130.8 169.9,1122.3 168.3,1136.7 179.1,1145.9 81.5,1132 113.7,1151.7 168.1,1182.1 110.9,1087.8 154.6,1195.6 139,1105.2 126.5,1161.3 131.1,1157.8 107.5,1113.4 145.3,1119.6 118.3,1120.6 93.6,1162.5 122.4,1120.7 169.9,1108.4 189.5,1163.2 136.1,1124.5 213.4,1153.3 176.2,1173.7 108.4,1134.1 166.5,1116.7 111.2,1115.1 171.9,1141.9 182.3,1131.8 135.7,1122.5 147.2,1162.7 174.5,1122.2 201.8,1133.4 164.7,1090.2 119.1,1118 167.1,1104.4 178.9,1125 137.2,1078.6 91.6,1094.4 148.2,1121 177.5,1158.2 104.2,1166.5 166.8,1114.8 103.7,1152.3 160.9,1095 129,1166.3 174.5,1111.9 166,1111.9 101.9,1126.2 216.5,1163.8 184.9,1144.6 111.8,1201.3 169.5,1158.4 151.9,1103.1 103.5,1192.5 142.5,1107.9 176.4,1113 148.7,1118.2 176.7,1135.9 147.2,1113.7 131.8,1186.9 100.7,1144.4 186.4,1159.3 94.8,1098 156.3,1121.6 152.8,1181.3 108.2,1086.5 128.1,1165.9 147.7,1118.5 172.2,1123.5 137.6,1047.9 145.2,1166.9 186.1,1164.1 119.3,1111.7 133,1129.8 120.1,1146.7 134.7,1097.9 170.9,1118.8 177.9,1120.8 163.9,1169.1 155.4,1181.1 187.8,1107 137.6,1163.4 105.8,1119.9 147.7,1168.3 139.6,1165 118.9,1108.4 153.7,1062.4 211.6,1134.6 112.6,1135.5 170,1201.9 202,1149.5 136.8,1123.5 178.8,1161.7 157.9,1153.1 99.8,1155.7 151.8,1105.1 126.7,1129 210.7,1089.7 132.8,1058.2 105.9,1149.1 147,1160.3 214.6,1151.5 139,1103.4 180.7,1102.2 184.2,1134.3 118.1,1125.5 167.5,1182.2 141.9,1170.9 142.8,1096.1 101.9,1146.5 164.1,1149.7 201.3,1112.3 160.5,1076.6 165.4,1112.1 140.1,1096.6 131.2,1203.6 89.7,1092.9 96.9,1176.7 170.8,1182.2 134.4,1110.7 208.4,1157.2 123.2,1190 182.7,1174 162.7,1112.3 148.5,1155.1 131.1,1133.7 193.9,1178.3 98.2,1120.6 155.8,1094.5 126.8,1154.7 182.6,1156.1 159.1,1090.7 119.8,1157.9 164.9,1119.8 144.1,1189.4 172.3,1125.2 133.4,1127.7 117.4,1149.9 169.4,1110.2 130.2,1185.9 123.2,1172.3 167.1,1162.3 130.6,1101.3 129.5,1182 155.8,1167.4 231.1,1094.1 140.9,1204.7 167.2,1126.2 165.4,1162.8 151,1116.9 112.3,1124.7 124.2,1096.6 120,1135.5 204.1,1147.1 126.1,1118.8 165.1,1121.4 149.3,1120 224.1,1179 112.8,1137.5 166.3,1100.1 154.4,1166.5 182.3,1178.2 121.4,1139.5 129.8,1113.1 210.3,1125.5 169.7,1160.1 187.3,1134.8 144,1181.1 110.8,1125.4 127.7,1097.9 149.6,1183.2 202.9,1174.7 112.5,1187.3 177.7,1156.3 135.5,1114.1 138.3,1163.3 128.8,1151.1 168.5,1144.9 133.5,1100.4 96,1095.7 168.7,1118.1 117.2,1108 182.4,1083.5 198.7,1147.4 137.1,1196.5 139.9,1161.2 145.5,1116.7 169.6,1134.4 178.3,1099.7 127.3,1104 121.3,1153.5 107.5,1122.4 155.5,1071.6 166.5,1147.9 89.8,1108.1 158.3,1158.8 89,1110 153.9,1162.9 140.8,1160.4 212.6,1132.4 128.6,1120.5 195.4,1119.4 197.6,1109.8 170.6,1076.2 164.6,1108.2 69.7,1139.7 99.5,1168.3 139.4,1121.6 123.9,1108 108.9,1153.6 110.7,1177.2 167,1096.1 189.4,1160.1 181.5,1146 176.4,1117.4 111.8,1150.8 138.4,1109.4 125.5,1110.4 127,1164.8 144.9,1165.4 115.1,1144.6 214.6,1114.6 123.2,1129.8 157,1115.1 173.5,1110.4 163.6,1192.5 192.9,1139.5 156.9,1160.2 215,1138.2 180.5,1128.4 200.7,1109.7 105.2,1207 182.1,1121.4 196,1152.6 125.9,1164.1 120.1,1156.4 153.3,1092.7 85.7,1120.2 110.8,1125.1 175.3,1139.6 135.1,1190.9 170.4,1145 204.1,1152.8 154.6,1204.3 165.8,1126.1 130.2,1093.1 155.9,1186.4 95.2,1122 219.7,1151 187.1,1152 159.3,1154.7 79.8,1169.6 135.6,1111.1 140.4,1197.3 167.2,1166.9 189.9,1133.5 128.2,1147.2 134.6,1161 145.5,1104.5 97.6,1157.3 120.8,1175.2 130,1165.4 116,1151.9 90.6,1141.2 139.5,1099.5 166.3,1199.2 160.4,1120.1 176.9,1132.2 223.1,1182.9 129.6,1144.1 166.4,1148.9 116.9,1131.2 124.4,1184.1 167.9,1166.6 174.8,1142.5 115.2,1124.8 167.4,1094.9 178.9,1138.2 155.8,1104 166.1,1055.6 147.9,1198.3 132,1121.9 134.3,1158.9 176.7,1133 144.1,1184.6 167.2,1113.5 105.9,1099.4 134.3,1193.3 136.5,1171.2 134.4,1105.2 105.6,1111.4 120.1,1124 128.8,1178.5 134.3,1181.4 210.1,1123.5 187.3,1187.5 132.6,1150.4 182.3,1151.7 226.7,1107.6 139.8,1124.4 208.3,1187.8 173.4,1185.1 128,1122.5 161.6,1165.8 116.4,1133 178.2,1150.7 159.3,1160 156.3,1163.2 172.4,1063.7 112.2,1172.4 168.2,1096.3 116.1,1119.6 128.7,1204.4 136.8,1158 138.7,1162.6 169.1,1109.2 169.9,1141.7 151.8,1168.3 164.8,1160 169,1149 179.7,1137.1 198.4,1108.3 134.9,1158.1 187.7,1161.1 183.3,1122.2 166.5,1085.2 128.6,1157.2 165.3,1159.8 216.2,1138.3 137.3,1098.6 135.9,1181.3 153.2,1211.4 86.1,1172 133.2,1086.4 138.8,1152.5 158,1114.5 93.4,1104 125.7,1118.4 134.2,1145.6 182.1,1108.2 79.9,1103.5 175,1134.9 174.1,1110.5 164,1164.8 116.6,1132 129.9,1165.9 103.4,1101.4 185.4,1176.3 168.2,1187.4 203.9,1131.4 115.8,1081.4 215.8,1102.4 55.3,1164.4 127,1101.5 100.5,1152.5 204.5,1100.3 103.9,1137 172.8,1114.5 169.6,1129.6 199.9,1099.2 164,1183 135.1,1160.6 145.9,1099.3 163.9,1086.7 173.4,1145.8 172.2,1170.3 171.5,1153.5 161.6,1118.3 167.6,1115.7 108.3,1087.9 148.2,1156.8 128,1113.3 163.5,1122.4 144.7,1176.8 176,1178.2 175.8,1148.1 197.3,1123.1 171.6,1211.5 100.2,1139.5 192,1147.1 130.1,1147.8 203.1,1131.7 190.7,1097.1 152.7,1218.3 145.3,1094.7 87.4,1135.5 145.3,1109.8 169.1,1147.1 228.7,1126.2 99.2,1162.2 132.5,1162.9 96.4,1119.5 165.2,1164.5 183.1,1121.1 157,1067.5 101.4,1107.1 167.6,1203 120.2,1134.8 143.8,1080.2 205.1,1147.7 137.2,1124.8 114.4,1118.6 140.8,1098.1 160.2,1108.5 151.2,1115.9 169.8,1092.4 100.7,1112.5 107.4,1157.1 242,1134.3 180.3,1149.2 187,1107.7 110.5,1178 135.6,1176.1 173.9,1189.2 155.5,1160.8 193,1177.4 152.9,1092.4 109.4,1096.1 194.9,1140.7 181.7,1150.5 180.4,1117.2 205.4,1110.2 192.6,1190.6 133.2,1128.5 111.8,1101.7 87.8,1180.9 186.6,1152.8 149.4,1161.1 173.4,1130.5 175.1,1161.8 181.8,1140.1 163.5,1125.4 100.9,1122.3 159.3,1174.7 185.3,1156.1 135.4,1078.2 185.9,1113.8 123.4,1129.9 206.3,1136.6 165.7,1156.6 149,1111.8 147.7,1157.6 227.8,1152.6 126.7,1119.3 143.3,1115.7 140.2,1111 102.4,1059.6 203.2,1175.4 175.3,1154.8 149.3,1157.1 155.4,1167.7 120.7,1133.8 114.6,1185.6 127.9,1128.2 174.1,1069.1 188.4,1096.6 190.3,1158.7 169.7,1174.8 172.5,1085 172,1140.7 144.6,1177.4 185.6,1165.2 194.7,1124 83,1153.2 113.7,1151.4 138.3,1168.3 144.1,1159.6 143.6,1091 129.7,1123.1 167.2,1138.3 132.1,1131.6 148,1177.8 181.1,1077.6 135.8,1124 100.7,1138.6 170.1,1183.9 141.5,1177.6 124.6,1153.2 128.4,1122.5 176.8,1146.7 119.7,1136.9 183.5,1109 201.5,1149.4 159.9,1151.5 193.5,1140.3 122.5,1163.8 193.3,1168.3 184.9,1114.4 138.4,1112.5 118.5,1163.4 155.4,1167.6 64.9,1157.8 174.9,1130.8 202.1,1155.4 108.9,1082.6 184.1,1141.1 175.2,1131.2 188,1131.9 166.8,1083.1 109.4,1172.8 211.4,1158.4 140.4,1179.9 164.8,1095.4 145.2,1165.2 133.2,1122.7 116.5,1155.6 186.4,1146.9 178.2,1125.3 155.7,1154.3 192.5,1109.8 101.6,1146.9 216.4,1119.1 132.9,1118.5 122.5,1144.3 141.5,1159.4 162.4,1153.4 186,1155.5 189.9,1109.2 132,1144.3 152.2,1163.3 190.1,1139.2 133,1172.5 121.7,1141.1 138.9,1160.2 172,1144.9 124.4,1155.3 125.5,1193.2 149.5,1190.7 76.2,1091.3 133.4,1216.6 145.6,1115.2 112.6,1153.6 187.3,1116.3 153.6,1112.7 190.9,1106.5 79.2,1123.6 117.7,1120.1 160.3,1077.5 235.9,1128.9 94.8,1155.6 192.8,1166 160.3,1122.3 150.4,1109.5 134.6,1116.5 106.6,1084 154.7,1155.7 103,1208.3 153.9,1190.2 124.2,1135.7 178.8,1201.2 142.2,1179.5 137.5,1096.4 102.3,1151.8 137.1,1192.1 142.1,1165.6 140.5,1154.6 171.5,1114.9 128.4,1129.2 193.2,1134.3 200.8,1150.5 182.4,1181.9 129.3,1108.5 170,1109.2 194.3,1134.6 165.6,1188.5 174.4,1171.8 130.4,1158.2 173.6,1145.1 150.5,1100.8 96.3,1140.4 130.9,1141.5 137.9,1104.8 181.8,1153.6 139.4,1191.3 151.1,1088.2 107.2,1182.7 205.9,1152 120.7,1121.2 239.5,1124.8 67.7,1185.9 144.5,1108.3 195,1139.7 117.6,1194.1 185.8,1141.8 84.6,1169.7 119.3,1136 122.8,1141.2 165.7,1106 146.1,1161.7 185.6,1138 115.8,1146.5 111.9,1134.8 191.2,1105.6 127.6,1153.4 133.9,1175.8 213.6,1112.8 189.9,1134.2 143.5,1204.6 99,1151.6 175.4,1113.5 148.4,1155.6 136.1,1152 93.1,1123.7 190.7,1154.7 196.2,1145 197.4,1129.2 158.9,1116.8 137.7,1161.3 169.4,1120 172.9,1125.6 102.6,1127.1 95.8,1150.7 138.1,1169.1 169,1127.2 180.1,1169.3 141,1092.6 177.1,1143.7 104.3,1191.7 198.8,1139.4 72.9,1170.3 150.7,1179 137.2,1158.1 186.9,1113.2 128.3,1149 175,1130.7 129.8,1179.8 90,1117.5 128.2,1092 115.9,1155.2 175,1205.8 169.7,1141.4 122.5,1152.1 108.8,1199 178.4,1167.8 111.8,1164.9 123.4,1170.5 129.8,1141.3 98.3,1081.7 113.9,1171.5 111.8,1168.7 111.8,1128.4 168.8,1114.7 198.9,1161.3 103.2,1119.3 162.9,1175 176.9,1152.3 107.2,1133.3 166.1,1074.6 123.4,1125.3 102.2,1138.3 146.7,1110.7 175.4,1107.7 144.7,1110.2 135,1102.2 126.5,1157 86.2,1121.1 138.3,1182.7 130.1,1113.5 161.1,1173.9 117.9,1110.1 172.3,1152.3 193.9,1175.8 120.7,1193.3 160.8,1117.1 121.7,1122.1 183.5,1182.2 115,1156.1 158.5,1099.6 178.8,1099 163.6,1122.1 124.7,1168.9 112.3,1121.5 167.6,1131.4 136.8,1154.9 84.9,1125.8 125,1104 149.4,1155.2 151.1,1100.9 140.5,1170.7 133,1108.5 172.4,1174.7 200.5,1092.2 122.8,1107.5 194.6,1122.4 211.6,1111.7 153.8,1180 130.9,1156.9 165.3,1160.8 180.1,1137.8 142.2,1108.8 136.8,1153.2 128.3,1135.9 115.7,1165.7 195.2,1121.4 206.3,1169.1 225.3,1134.1 160.3,1122.9 125.9,1160.9 179.9,1122.5 138.4,1086.6 129.1,1130 128.2,1130.5 107.1,1127 160.2,1120.4 90.3,1102.7 181.8,1107.5 109.6,1144.6 148.2,1165.4 144.9,1175.9 160.7,1152.4 139.4,1168.4 186.2,1122 162.6,1170.2 105.1,1157.9 172.4,1117.1 179.6,1132.9 150.3,1114.4 91.6,1139.4 147.2,1164.8 133.1,1111 159.3,1153.5 156.7,1112.9 177.9,1125.8 115.4,1115.2 216.1,1157.8 140,1188 119.5,1155.7 149.9,1109.1 178,1088.8 127.4,1127.6 162.2,1183.8 172.6,1145.8 159.5,1114.7 225.8,1151.2 219.2,1163.6 155.3,1156.3 132.1,1136.5 173.1,1140.1 191.5,1137.6 119.2,1146.5 179.4,1144.4 164.8,1117.4 216.3,1127.4 148.2,1102.2 104.7,1133.8 117.5,1148.3 114.1,1123.8 134.9,1126.1 210.6,1091.8 168.7,1146.8 115.2,1184.4 209.8,1149 79.8,1106.2 184.5,1047.7 168.5,1143.6 182.7,1165.9 166.4,1121.3 148.5,1172.3 154,1118.1 168.3,1170.3 169.3,1115.1 114.2,1126.3 177.6,1127.3 179.6,1069.9 132.9,1135.2 117.4,1144.8 110.2,1109.4 187.3,1119.6 168.7,1122.5 178.7,1124.9 150.2,1100.7 107.6,1101 112.3,1153.1 179.4,1159.5 116.3,1135.5 168.3,1119.9 168.5,1096.3 129.8,1112.5 172.2,1147.5 144.7,1174.3 148.5,1173.6 130.5,1121.9 202.5,1111.8 185.5,1173.7 138.6,1122 119.1,1210.8 184.7,1142.4 127.6,1157.5 188.9,1101.7 111.8,1117.5 122.8,1166.6 113.1,1134.6 182,1113 165.8,1128.2 132.6,1171.3 120.1,1165.7 137.7,1121.7 62,1149.5 147.2,1176.4 102.1,1188.7 179.1,1105.7 188.4,1141.6 148,1160.4 112.8,1145 161.4,1098.7 177.4,1136.9 86.2,1165.3 127.3,1126 130.3,1124.1 126.2,1164.8 180.9,1141.2 128.2,1104.5 193.1,1145.8 141.5,1103.6 99.3,1191.7 123.2,1165.3 101.5,1152.5 200,1175 130.4,1132.6 102,1132 160.1,1100.3 129,1078.5 105.7,1114.7 174,1114.7 181.2,1116.5 189.6,1174.5 178.4,1102.2 134.1,1130.6 103.7,1116.6 196,1164.3 194.1,1136.6 104.4,1089.6 167.7,1152.3 134.2,1106.1 133.6,1169 176.9,1118.9 153,1114.4 126.5,1098.9 128.4,1142.4 175.2,1154.8 163.5,1164.9 115.9,1114.8 121.5,1175.3 133.7,1146.4 191.9,1100.1 155,1176.8 132.5,1088.3 156,1168 199.4,1136 135.3,1118.6 132.8,1122.5 129.5,1082.2 101.3,1130.2 137.2,1172.3 67.7,1151.8 168.4,1141.7 148.4,1188.3 107.9,1123.9 104.8,1144 125.9,1103.6 144.6,1154.5 191.2,1157 164.5,1168.3 169.9,1148.1 145.2,1156 178.6,1143.6 115.6,1154.4 159.1,1104.3 154.9,1111.3 111.9,1139.4 120.5,1150.8 166.9,1122.1 83.1,1224.3 102.7,1143.1 130.2,1177.7 93.5,1216.8 149,1085.6 139.5,1099.8 171.5,1102.7 100.8,1097.6 206.3,1120.5 108.9,1136.9 171.8,1131.6 183.4,1159.7 128.6,1122.2 163.6,1161.6 186.4,1105.2 107.7,1154.9 175.5,1131.4 158.1,1186 148.8,1120.9 128.9,1170.2 152.8,1120.3 171,1178.6 187.8,1154.9 87.5,1131.8 121.6,1156.6 203.4,1127.6 147.4,1121.1 119,1163.1 187.3,1103.7 169,1156.4 117.7,1110.2 162.6,1166.7 144.7,1112.7 107.8,1169.3 170.9,1166.6 164.6,1125 168.3,1162.3 162.6,1165 147.7,1076.8 151.9,1109 109.1,1167.7 177.3,1176.3 180.2,1155.2 154.9,1158.1 191.2,1084.5 130.4,1088 150.1,1114.1 136.6,1124.5 92.6,1124.9 137.8,1165.8 81.2,1168.5 186.3,1068.9 93.6,1145.4 124.4,1144.7 170,1135.1 158.8,1113.2 142.9,1104.8 119.7,1166.7 166.7,1109 170.1,1102.9 102,1088.3 118.6,1158.3 136.7,1151.5 131.6,1096.2 132.8,1124.8 128,1184.8 172.2,1140.9 121.7,1141.2 131.8,1117.2 122.5,1141.8 136,1199 131.2,1145.8 132.4,1125.2 176.3,1074.9 194.9,1128.5 125.7,1157.2 105.9,1149.7 109.6,1130.4 114.8,1149.8 173.6,1136.1 138.4,1118.2 153.3,1089.8 105.4,1097.9 129,1167.6 168.8,1107.9 182.6,1127.7 191.8,1125.8 87.7,1163.8 117.7,1108.9 168,1124.9 127,1097.7 138.2,1105.2 147.1,1191.3 146.2,1179.2 130.3,1173.3 100.6,1106.7 138,1070.6 111.4,1143.5 118.8,1158 128.5,1095.1 147,1180.4 145,1170.4 182.1,1126.3 124.6,1149.9 120.5,1144.6 235.6,1151.2 145.5,1161 187.8,1107 124.9,1135.7 157.7,1164.7 82.4,1076.6 182.9,1154.8 77.2,1159.7 107.9,1155 195.8,1122.7 165.3,1157.5 205.2,1125.5 154.5,1177 185.9,1116.4 96.3,1182.8 166.5,1066.4 95.8,1113.1 186.8,1117.4 126.3,1114.1 181.1,1126.8 164.9,1165.2 106.2,1126.5 183.4,1152.7 189.8,1173.1 135.6,1089.2 174.1,1197.3 161.1,1067.4 171.7,1094.7 187.4,1183.3 162.9,1119.2 123.7,1140.8 146.7,1121.6 86.1,1150.7 150.5,1155.2 181.2,1111.7 152.3,1089.8 134.5,1108.3 204.3,1075.7 177,1126.4 198.2,1120.3 201.4,1085.3 167,1103.9 112.9,1097.7 148.2,1182.1 116.1,1184.7 106.6,1156.4 169.4,1131.2 97.7,1151.3 161.4,1111.3 108.7,1147.4 129.7,1125.2 74.7,1121 133.6,1168.5 115.5,1161.1 159.2,1089.6 155,1115.2 178.7,1147.5 118.2,1160.8 144.4,1174.1 158.5,1118.6 209.5,1127.4 181.3,1124.3 102.4,1127 162,1113.5 145.5,1117.5 194.1,1133 146.8,1180.1 183.1,1129.2 132.5,1135.6 182,1077.9 106.3,1119.7 124.5,1151.7 103.6,1115.1 149.7,1176.3 153.7,1156.6 118,1113.7 87.2,1143.2 193.2,1121.2 185.4,1182 160.2,1183.5 124.3,1127.8 172.2,1141.8 161.7,1151.1 135,1150.9 155.9,1112.6 120.5,1148.7 212.7,1121 135.5,1123.1 183.7,1125.3 168,1195.7 123.1,1154.6 127.9,1144.3 208.2,1124 140.9,1114.5 168.5,1122.5 133.8,1097 143.8,1057.3 141.4,1110 151.1,1192.7 150.7,1168.3 110.7,1095.6 185.3,1175.5 170.8,1111.2 152.3,1119.4 167.2,1142.6 199,1076.5 155.8,1069.3 138.7,1184.2 153.8,1203.2 134.4,1159.1 229.4,1148.1 178.1,1139.5 164.2,1125.6 101.5,1136.5 97.7,1150.4 199.8,1156.5 94.7,1119.4 180.2,1111.2 161.1,1166.6 171.8,1081.4 126.8,1167.7 221.1,1113.6 183.1,1124.9 96.9,1201 130.3,1118.8 134.5,1119.5 124.4,1122.5 87.2,1153.7 165.4,1111.4 130.4,1130.3 142.4,1123 184.6,1184.9 164,1112.7 146.3,1108.6 57,1082.1 147.7,1165.6 137.4,1164.9 155,1089.3 156.4,1175.1 131.1,1120.8 184.5,1150.8 123.4,1171.5 81.7,1109.3 117.3,1153.7 102.4,1139.4 124.1,1127 109.8,1149.5 170.8,1162.5 175.5,1173 167.3,1134.8 123.2,1117.1 158.5,1190.7 133.7,1165.2 179.2,1108 190.1,1132.3 179.1,1173.8 173.7,1159.8 170.8,1150.3 186.8,1169.8 138,1150.1 139.9,1155 148.2,1103.6 126.1,1080.7 88,1161 182.7,1147.3 119.4,1142 116.1,1084.1 104.9,1124.1 194.2,1117.6 124.6,1190.4 124.1,1087.7 185.6,1038.1 209.5,1129.6 114.4,1146.2 204.4,1086.1 171.5,1174.5 103.4,1146 166.5,1143.4 172.3,1103.6 78.8,1040.4 124.7,1154.7 117,1132.8 127.3,1060.4 174.5,1142.8 146.5,1155.1 189.7,1195.5 172.4,1098 226.1,1141.2 162,1122 198.7,1171.7 138.9,1151.9 190.2,1102.4 129.5,1143 170.9,1129.4 176.9,1134.7 63.4,1164.4 127.2,1209.5 120.4,1159.2 182.6,1155.5 168.6,1140.4 64.6,1140 107.8,1101.7 132.5,1152.8 150.5,1112 166.6,1133.7 146.8,1115.3 91.5,1148.4 186.3,1142.7 134,1152.4 147.9,1186.8 176.5,1119 189.7,1091 120.8,1140 156.6,1153.4 106.6,1133.7 169,1114 87.8,1117.5 169.5,1126.7 156.3,1154.7 207.5,1107.4 177.9,1150.4 186.4,1149.4 167.9,1207.7 176.1,1141.4 162.1,1125.6 172.1,1168.1 130.8,1151.5 108.5,1161.2 157.8,1163.7 107.5,1128.4 157.9,1108.6 148.9,1154.7 113.7,1112.8 158.2,1156.9 164.1,1082.8 150.8,1202.8 148.6,1159.1 134.7,1107 227.8,1109 116.9,1152 139.5,1157.8 119.4,1100 170.9,1089 151.2,1175.2 111.5,1140.2 135.1,1124.4 172.2,1167.9 191.8,1116.6 173.2,1128.9 145.4,1162.4 151.1,1164.3 155.9,1175.1 151,1107.5 171.6,1136.3 129.7,1077.4 110.2,1171.3 196.4,1133.1 85.4,1120.1 165.8,1118.9 160.9,1078.4 165.8,1146.7 127.1,1125.8 169.9,1130.5 114.3,1088.9 126.3,1127.8 211.1,1161.7 171.5,1143.6 178.2,1147.8 102.1,1184.4 216.5,1111.8 208.7,1083.9 186.3,1113.8 197.7,1097 185.7,1137.3 116.9,1119.9 144.5,1165 178.3,1127 131.5,1060 121.6,1154.1 174.7,1121.5 158.9,1178.2 223.9,1134.3 160.9,1154.1 55.7,1112.6 157.1,1090.5 120.3,1157.2 174.1,1114.8 136.4,1124.3 184.9,1091.5 179.3,1116.8 140.4,1112.7 126.8,1170.6 162.9,1121.1 141.6,1117.4 155.8,1107.6 146.6,1157.7 196.6,1130.7 188.8,1133.8 163.3,1152.4 176.3,1172.9 165.9,1171.8 170.4,1177.6 148.2,1177.2 94.6,1147.4 160.1,1101.4 143.5,1157.2 191.2,1126.8 152.4,1114 105.6,1125.3 136.8,1103.7 125.1,1134 125.7,1129.2 211.1,1159.5 119.7,1117.4 137.8,1193.8 174.6,1073.3 151.9,1108.6 119.8,1123.1 123.3,1134.6 125.2,1183.4 153.6,1157.4 143.9,1170.2 121,1101.9 168.1,1165 120.7,1065.5 179.1,1161.9 173.9,1105.5 189.7,1171.7 181,1149.5 94,1163.4 157.3,1182.4 124.4,1177.7 123.5,1158.2 184.4,1155.8 167,1160.3 125.9,1087.2 145.2,1100.2 162.1,1116.7 114.3,1140.9 210.6,1172.8 103.9,1140.5 153.1,1173.4 160.1,1161.1 179.7,1155.9 155.5,1078.5 163,1125.5 106.6,1117.3 131.6,1111.5 105.9,1121.8 154,1102.9 183.2,1151.9 111.1,1157.7 165.8,1114.3 138.2,1191.2 107.8,1110.1 122.5,1124.5 76.3,1114.5 171,1154.2 125.7,1124.2 128,1131.4 199.9,1131.6 172.6,1140.5 173.9,1124.8 100.1,1128.8 148.8,1118.4 170,1109.2 178,1118.9 93.2,1114.7 183.5,1144.4 105.4,1106.7 205.7,1082.1 171.7,1101.1 125.1,1059.3 129.7,1134.4 137.5,1045.7 186,1165.1 158.4,1123.7 121.5,1174.1 167,1180.6 149.4,1107.4 153.3,1172.2 133.3,1127.6 146.2,1166.4 118.1,1166.1 165.9,1170.5 198.7,1126.1 122.4,1134.5 202.4,1119.6 197.7,1181.1 132.8,1138.9 156.6,1154.1 141.7,1116.2 117.7,1154 174.8,1177 101,1105.2 111.6,1140.6 169.7,1125.7 195.4,1160.3 185.1,1148.5 163.8,1121.2 169.3,1148.2 119.5,1142.2 77.4,1086.5 190.5,1142.4 124.6,1131 201.7,1119 149.4,1163.3 153.9,1079 143.6,1156.5 55.7,1157.4 137.1,1117.2 134.1,1131.7 93.9,1104 117.5,1082.5 174.5,1142.7 163.9,1120.2 167.3,1114.8 152.4,1157.4 162.7,1111.7 141.1,1098.8 136.5,1157.4 110,1117.8 98.3,1105.1 182.4,1111.3 143.1,1115.9 90.5,1161.7 184.8,1122.2 190.5,1154.2 147.4,1163.3 160,1101.7 133.6,1163 105.7,1122.4 127.8,1094.4 103.1,1130.2 110.8,1145.5 169.7,1139.8 126.8,1108.9 188,1121.7 92.8,1117.5 113.9,1136.1 114.6,1129 191.4,1160.3 129.9,1162.7 141.3,1086.7 119,1129.7 170,1176.6 176,1069.9 150.6,1085.4 135.7,1188.1 120.2,1148.4 181.6,1118.6 109.1,1130.7 164.6,1120 141.6,1120.5 84.5,1091.9 178,1124.1 148.1,1183.4 145.1,1109.5 197.8,1086.9 181,1115 176.8,1156.3 211.7,1093.8 106.1,1159.7 134.4,1147.1 128.9,1127.4 159.2,1155.5 134.2,1144.3 173.3,1100.8 177.8,1161.3 160.5,1158.8 170.1,1175.7 124.1,1169.3 149.6,1157.6 152.8,1164 175.2,1131.8 168.8,1153.7 154.1,1120.7 134.4,1069.7 124.6,1141.2 163.7,1120 173.6,1179.4 119.4,1121.9 142.6,1117.1 161.1,1168 128.5,1160.6 128.5,1108.8 165.4,1102.4 182.5,1146.7 133.4,1125.5 145.2,1102.7 127.4,1131.3 135.8,1122.9 137.3,1152.6 124.5,1155.6 163.3,1124.2 136.4,1093.6 190.5,1133.1 127.9,1197 145.5,1111.4 97.5,1173 158.2,1076.4 171.7,1148.6 126.5,1203.2 140.4,1178.4 179.5,1073.8 174.6,1159 128,1197.7 169.3,1127.9 123.3,1160.7 109.1,1133.1 192.1,1150 127,1149.4 111,1177.7 136.3,1164.2 121.6,1126.9 99.2,1178.1 143.3,1086.5 148,1119.9 122.6,1112.9 100.9,1148.1 178.9,1152.3 111.5,1143.2 186.3,1130 134.6,1124.9 152.1,1176.1 161.4,1117.4 110.9,1161.3 176.6,1159 117.7,1114.9 151.9,1160.1 188.9,1145.4 160.4,1189.8 133.3,1128.1 161.1,1067.8 159.2,1154.6 160.9,1169.3 149.4,1160.2 129.2,1147.6 162.4,1224.9 170.1,1151.8 147.9,1166.3 111.6,1182.1 144.5,1111.4 158.8,1110.3 130.7,1166 173.6,1188.7 142.2,1159 192.7,1114 76.2,1132.1 187.2,1145.6 200.5,1166.1 124.8,1119.9 175.2,1131.9 192.5,1105.1 125.1,1128.3 100.6,1098.2 170.4,1159.2 212.8,1130.9 156.9,1181.7 180.2,1185.4 160.2,1158.3 120.5,1142.1 111.6,1120.5 140.4,1116.2 123.8,1094.5 134.1,1129.1 206.7,1171.1 163,1167.4 124.1,1174.6 133.5,1142.5 178.8,1092.8 141.4,1108.9 179.1,1134.5 189.6,1087.4 188.4,1109.7 178.5,1084.5 151.3,1100.2 141.4,1203.9 178.3,1097.7 131.8,1113.3 148.4,1111.7 118.6,1130.6 204.6,1164.2 104.4,1130.6 104.7,1121.9 168.1,1104.2 120,1118.6 169.6,1100.7 135.2,1164.3 174.6,1167.6 94.8,1122.3 171.3,1132.7 147.3,1061.3 158.9,1155.8 184.8,1156.6 154.4,1167.4 119.3,1126.8 96.5,1147.5 165.9,1144 84.6,1151.9 122.9,1152.7 148.4,1171.7 182,1141.2 143.1,1110.5 159.4,1165.2 158.8,1195.5 110.2,1081.2 116.7,1144.7 132.2,1113.3 154.7,1198.9 126.3,1201.9 130.1,1199.5 172.3,1187.5 162.1,1124.7 174.6,1050.4 146.2,1206.1 104.8,1137.9 135.5,1128.8 120.9,1168.8 116.3,1124 153,1163.5 152.6,1101.4 142,1188.7 186.8,1178.2 156.4,1113.4 187.9,1171.4 157.1,1122.3 148.3,1107.4 141.4,1162.6 123.2,1139.6 93.7,1149.9 131.9,1131.3 200.3,1145.8 233,1151.2 121.1,1121.1 198,1142.1 120.1,1098.8 162.1,1112.1 183.7,1122.4 132.2,1133.8 160.2,1117.6 116.4,1138.7 129.7,1194.8 152.3,1195.4 101.8,1091.9 130.5,1114.2 193,1128.7 161.4,1095.4 175.5,1139.1 160.6,1150.8 182.6,1160.9 140.2,1160.8 148.4,1106.2 114.3,1123.1 167.1,1166.1 216.1,1143.2 104.4,1162.9 114.1,1178.2 164.7,1186.3 180.9,1094.8 152.1,1170.2 112.5,1136.9 145.3,1170.7 170.3,1135.4 173.7,1118 62.1,1097 121.9,1130 127.1,1125.7 198.6,1105.5 94.9,1191.2 125.4,1085.9 225.5,1186.2 156.1,1167.3 137.1,1121.2 197.8,1162.4 163.9,1061.4 148.8,1160.5 242.4,1169.7 110.8,1100.7 115.5,1108.4 185.5,1153.8 127.9,1102.2 149.3,1120.4 135.4,1095.9 103.2,1115.2 152.8,1156.8 156.2,1062.6 97,1105.2 142.3,1118.1 112,1157.9 146.8,1119.1 204.8,1091.2 126.7,1140.6 155.4,1190.7 154.7,1117.9 185.4,1148.9 112.2,1127.1 163.8,1162.5 169.4,1100.8 116.3,1111.8 124.9,1085.9 138.2,1159.1 189,1163.9 118.7,1119.6 124.4,1163.3 101.1,1128.9 163.9,1187.5 186.2,1135.4 149.8,1113.9 191,1100.5 131.8,1154.3 164.5,1148.8 165.1,1126.6 165.5,1152.1 171.5,1094.8 159.4,1162.7 185.8,1165.6 149.4,1118.2 184.7,1153.4 136.8,1195.3 141.5,1116.1 133.9,1109.4 172.1,1118.2 181.6,1118.5 177,1146.3 115.2,1118.2 190.4,1105.1 145.3,1104.4 119.5,1160 201.7,1088.2 122.2,1110.1 122.4,1158.2 110.8,1155.4 133.3,1161.7 104.9,1109.9 117.1,1126.5 171.1,1154 154.7,1155.7 156.1,1114.7 191.8,1147.9 169.9,1147.5 181.5,1163.3 168.5,1126.9 179.6,1189.9 133.2,1109 106.1,1106.7 153.4,1112.2 107.1,1149.6 121.4,1157.5 168.2,1196.6 167.4,1146.8 155.2,1115.8 191.8,1194.6 154.7,1208.1 240,1127.8 154.8,1119.6 100.9,1088.3 154.8,1089 143.2,1093.8 130,1120.5 174.3,1146.5 167.3,1145.2 86.2,1119 167.2,1153.2 146,1178.8 109.1,1168.5 196.6,1163.7 185.9,1160.6 183,1120.2 126.6,1183.7 217.2,1129.8 84.5,1137.8 122.2,1187.7 139.4,1196.2 183.6,1148.9 187.9,1203.4 161.3,1207.2 138.4,1150.4 173.8,1119.5 166.3,1172.1 133.5,1180.8 113.3,1139.8 174.1,1125.8 78.1,1121.6 107.7,1118.8 131.6,1169.9 89.7,1160 132.9,1115.2 147.6,1167.4 137.8,1112.4 98.3,1154.1 168.3,1144.6 144.3,1109.9 168.7,1078.4 125.3,1133.3 122.1,1160.2 199.3,1165.3 159.8,1167.5 197.5,1169.6 105.4,1138.1 71.2,1103.8 163.6,1127.3 81.4,1143.5 159.4,1095 173.2,1175.1 99.8,1144.3 102.6,1173.8 138,1153.5 104.9,1152.4 125.1,1144.4 161.3,1163.5 183.3,1169.6 114.2,1155.4 156.9,1159.4 200.9,1186.6 134.9,1150.6 167.9,1202 172.2,1145.9 209.3,1153.8 154.6,1112.1 120.6,1125.3 139.6,1121.1 175.2,1081 214.4,1130.4 144.9,1160.1 158,1112.2 146.9,1110.2 108.9,1126.4 112.1,1144.8 161,1123.5 155.4,1114.1 112.5,1160.9 171.3,1173.9 213.2,1129.9 129.4,1090.2 147.9,1112.2 148.3,1171 77.9,1153.5 145.8,1085.6 188.3,1158.2 106.3,1131.5 143.2,1093.9 115.1,1145.7 166.7,1186.6 170.1,1139.8 195,1142.1 188.2,1128.2 163.4,1161.2 84.5,1146.9 171.6,1137.8 173,1157.3 96.8,1169.8 173.8,1120.4 170.8,1091.1 114.2,1141.6 190.8,1162.1 130.3,1170.8 121,1085 145.8,1218 172.8,1156 216.2,1113.4 169,1125.4 146.5,1167.2 207.7,1171.5 177.8,1168.8 124.6,1172 115.7,1114.9 151.2,1170.8 141.7,1071.5 144.6,1156.1 131.1,1187.6 155.2,1115.3 163.7,1098.8 142.5,1169.6 109.4,1090.4 113.1,1137.6 156.6,1113.1 185,1098.9 101.1,1155 146.8,1159.8 153.3,1160.1 190,1139.2 165.4,1154.9 113.6,1142 175.4,1148.2 104.9,1182 174.2,1110.9 137.4,1097.8 131.2,1185.3 94.5,1193 88.2,1188.6 166.3,1191.8 158.5,1153.1 178.1,1130 168.2,1200.5 171.4,1070.6 174.3,1132.3 180.6,1154.3 150.6,1115.3 213.1,1122.3 121.3,1188.6 82.4,1086.4 146.2,1104.5 164.1,1119.7 156.2,1160.7 148,1177.9 198.3,1136.7 124.5,1113.4 148,1178.7 173.1,1141.7 127.6,1145.8 104.9,1129.4 145.5,1111.4 166.8,1133.7 123.1,1073.7 175.5,1139.2 148.7,1117 169.6,1149.4 89.5,1137.7 180.3,1183.3 190.4,1184.2 117.2,1099.5 153.8,1177.1 118.1,1079.7 114.1,1118.2 172.8,1142 115.5,1125.2 99.4,1095.5 112,1164.9 143.5,1156.2 184.8,1102.4 181.8,1145.9 130.5,1116 156.6,1105.5" fill="none" stroke="none" marker-start="url(#g)" marker-mid="url(#g)" marker-end="url(#g)"/>
<polyline points="161.1,1142.7 147.7,1151.3 151,1122.5 154,1137.2 152.9,1147.7 159.5,1128.7 150.6,1151.7 155.1,1141.5 145.2,1137.6 157.3,1149.6 159.4,1125 152.1,1147.3 146.2,1122.1 156.1,1148.3 144.3,1149.3 143.2,1126.1 138,1131.4 161.7,1148.1 145.8,1124 154.9,1151.7 153.5,1133 161.9,1126.4 153.4,1133.4 137.8,1130 157.5,1152.1 152.2,1124.4 150.3,1141.5 153.5,1130.9 148.5,1142.1 138,1129.6 165,1139.6 139.8,1144.4 151.3,1136.8 136.4,1140 141.1,1130.8 154.3,1145 157.1,1124.3 157.1,1144 140.2,1144.6 144.5,1131.6 151.3,1136.1 139.5,1136.3 163.1,1142 148.1,1148.8 152.3,1151.9 153.1,1128 156.4,1130.2 159.9,1140.7 149.3,1140.1 157.5,1136.7 156.1,1132.4 149.7,1139.2 146.3,1126.5 138.2,1137.5 141.6,1131.9 149.2,1148.9 154.7,1123 142.2,1143.5 152,1138.2 145.7,1129.6 148.5,1124.4 154.9,1137.4 156.4,1140.9 160.8,1147.1 143,1131.2 148.7,1153.1 152.9,1153.4 156.9,1142.8 142.6,1141.5 145,1130 148.2,1130.4 157.2,1124.5 149.7,1148.6 161.8,1136.2 153.3,1131 156.6,1127.8 155.8,1128.5 160.1,1130 140.6,1137.6 153.8,1128.4 140.7,1150.6 155.2,1126.7 143.2,1139.1 160.8,1130.4 142.3,1135.6 157,1127.7 154.5,1129.7 156.2,1133.4 148.5,1124.6 140.8,1148.6 145.4,1124.3 133.6,1136.1 148,1140.8 153.2,1127 153.5,1142.9 142.1,1127 141.3,1138.7 150.3,1149.9 152.9,1142.3 163,1134.3 154.7,1125.7 165.2,1143.9 143.7,1138.5 149.8,1124 154.8,1123.4 156.1,1150.7 141.9,1126.2 164,1134.5 162,1148.8 147.5,1129.3 153.5,1145 145.7,1132.3 136.1,1138.2 155.8,1141.5 140.9,1145.1 147,1129.7 138.7,1126.8 156,1147.5 140.6,1127.5 145.8,1150.9 141.4,1129.1 136.2,1133.5 151.8,1130.6 139.3,1145.5 165.4,1138.6 162,1137.8 139.9,1141.3 135.6,1142.9 138.1,1127.1 144,1138.1 147.7,1132.5 138.7,1143.3 158.8,1135.6 133.3,1137.2 151.1,1150.6 158.1,1148.7 152.6,1140.8 163.7,1136.5 159.4,1135.5 155.2,1126.3 154.8,1135.3 144.9,1129.9 154.8,1129.5 164.8,1144.1 143.9,1143.4 144.5,1151.5 159,1129.3 153.4,1123.9 149.8,1127.3 155.9,1131.5 159.3,1139.9 139.7,1136.2 147.7,1134.8 159.6,1149.3 151.8,1136.8 141.2,1127.8 160.3,1142.3 164,1132 144.5,1150.4 157.6,1149.8 154.9,1129.4 140.4,1141.5 155.1,1136.8 138.7,1129.1 137.2,1147.1 150.1,1152.6 155.4,1138.9 147.5,1142.2 143.3,1123.1 146.2,1123.8 141.7,1147.9 145,1137 140.4,1127 143.7,1147.4 151.9,1148 147,1152.3 135.6,1133.5 165,1133.1 151.3,1124.2 162,1144.4 155,1123.2 144.2,1136.8 154.4,1144.6 137.4,1147.8 166.8,1138.8 155.6,1133.2 145.6,1143.8 163.1,1144 141.5,1136.1 163.8,1131.3 148.4,1126.2 138.9,1144.5 150.3,1139.2 159.4,1135.1 134.3,1133.2 143.1,1124.1 146.3,1136.4 152,1150.1 156.7,1137.3 138.5,1134.4 153,1139.6 141.1,1132.9 151.6,1122.1 165.7,1144.2 152.1,1152.1 154.7,1129.6 160.1,1130.4 139.4,1137.2 162.4,1131.5 159.6,1129.4 151.9,1127.2 158.2,1148.1 150.5,1133 156.4,1147.6 155.3,1124.7 143.6,1142.5 139.4,1138.6 140.9,1145.7 156.1,1146.1 150.2,1131.5 141,1143.6 146.7,1136.5 135.2,1144.6 145.6,1147.5 142.6,1145.8 156.3,1140.1 136.4,1139.9 158.3,1145.8 144.5,1138.6 160.5,1135.4 145.3,1136 143.7,1124.6 151,1128.5 149.6,1150 134.1,1138.8 146.1,1148.1 134.8,1138.8 157.1,1125 158.3,1136.3 144.6,1151 134.6,1139.9 154.2,1132.5 165.7,1137 157.4,1142.8 142.8,1125.6 133.2,1137.2 136.1,1129.5 151,1142.6 152.4,1126.6 157,1130.4 144.6,1129.6 165.6,1144.5 155.6,1126.8 153.3,1125.3 146.9,1131.3 157.2,1124.8 148.5,1142 160.5,1141.5 152.3,1131 163.7,1138.1 156.5,1124.7 156.3,1149.8 160.1,1138.6 150.3,1145.2 161.6,1139.4 138.9,1136 145.7,1132 159.4,1133.1 143,1124.6 139.4,1137.6 144.4,1125.8 157.7,1129.2 142,1145.2 159.6,1143.4 148.9,1144.1 159.7,1141.9 141,1126.4 143.3,1134.6 165.4,1140.2 152.3,1130 141,1134.6 136.7,1136.4 152,1134.6 142.8,1126.6 152.2,1128.3 152.3,1136.4 149,1124.3 152.4,1128.5 145,1138.9 153.6,1147.8 142.2,1125.9 157,1128.7 154.3,1138.8 155.9,1128.5 155.1,1134.4 163.2,1146.2 142.1,1126 137,1144.9 155.7,1142.1 153,1129 163.8,1133.6 147.2,1130.6 148,1150.9 148,1130.6 145.2,1142.7 143.6,1137.2 153.6,1135.5 154.6,1130.6 152.4,1150.3 151.9,1138.7 152.2,1123.8 144.5,1142.3 153.1,1130.5 142.3,1144 162.3,1135.3 140.6,1126.2 157.5,1133.3 140.2,1142.4 149.4,1140.1 160.7,1138.6 137.5,1132.2 158.2,1145.7 161.4,1130 145.4,1141.2 151.8,1127.3 148.1,1140.6 151.4,1126.6 155,1124.1 153,1149.6 140.5,1126.3 153.7,1130.4 158.6,1124.1 133.8,1138.6 161.4,1133.3 138.8,1140.5 154.1,1122.3 161.8,1141 137.9,1148.1 164.3,1136.3 147.8,1124.4 155.1,1135.4 152.4,1152.8 140.5,1138.3 135.4,1137.2 145.9,1150.4 139.3,1126.9 152.8,1122.5 163.2,1134.7 151.7,1125.8 141.7,1144.7 152.5,1152.7 140.9,1130.8 134.9,1136.2 136.3,1140.3 154.4,1153.6 160.8,1134.7 164.3,1139.2 142,1146.4 155.7,1130.1 158.6,1138.2 157.8,1147.7 163.2,1133 162.3,1138.3 153.1,1146 152,1135.5 160.3,1146.2 165.5,1139.3 147.9,1130.3 138.9,1140 142.8,1125.2 145.8,1137.9 161.4,1138.4 156.2,1126.2 159.3,1137.6 152.5,1150.4 154.7,1150.7 143.6,1146.5 153.5,1153.3 133.5,1140 139.7,1132.4 137.6,1137.1 135.1,1132.7 154.4,1136.6 135.3,1145.1 137.3,1134 138.6,1147.9 147.3,1128 145.5,1152.4 154.6,1138.2 147.2,1147.5 149.5,1140.7 145.4,1134.9 141.6,1141.5 139.7,1136 144.6,1142 133,1139.2 150,1142.3 159.8,1134.2 152.2,1140.3 139.8,1126.4 143.1,1136.8 156,1143.8 153.7,1122.8 146.5,1147.4 142.3,1152.3 141,1127.1 152.1,1144.9 159.2,1139.4 150.5,1144.2 153.7,1129 162,1142.1 138.2,1145.2 155.7,1143.7 144.1,1139.3 145.4,1129.5 162.7,1147.9 135.3,1130.9 147.6,1145.7 150.5,1127.5 141.3,1149.9 159.5,1140.4 145.1,1133.7 162.7,1142.8 159.8,1148.7 138.9,1134.4 142.5,1133.3 156.2,1138.6 145.4,1126.2 134.1,1141.9 139.2,1127.8 152.2,1132.4 136,1139.4 160.5,1138.1 159.2,1136.8 148,1122.8 149.5,1124.4 143.5,1125.8 139.8,1135.2 155.1,1143.5 148.4,1137.8 162.9,1135.1 158.9,1124.9 154.5,1148.4 155.2,1142.1 166.3,1138.1 138.3,1139.6 137.9,1138.3 153.4,1138.5 135.5,1136.6 153.9,1132.4 157.1,1137.8 148.1,1144.7 139.5,1135.1 158.6,1126.1 149.7,1127 155.3,1139.6 152.7,1148.1 150,1135.9 143.4,1145 161.1,1136.4 164.6,1133 160.2,1137.2 156.2,1132.2 143.9,1147.2 158.4,1145.9 146,1129.1 144.3,1134 151.2,1140.9 147.4,1147.5 136.7,1131 149.5,1142.5 158.6,1133.1 157.5,1133.4 150.5,1124.2 162,1134.7 161.6,1147.1 140.9,1146.9 152.4,1152.7 147.2,1140 143.7,1131 157.8,1150.5 146.2,1153 147.2,1143.2 164.6,1142.4 140.3,1142.4 156.6,1126.8 153.8,1131.3 157,1129.4 137.3,1132.2 150.8,1146.4 157.5,1133 160.8,1128.1 138.5,1131 141,1129.9 140.6,1136 163.2,1132.4 154.4,1127.8 146.4,1127.1 150.2,1125.9 141.7,1134.3 159.8,1127.4 139.2,1146.8 136.4,1144.5 152.9,1146 146.6,1145.1 139.2,1131.3 163,1135.5 152.4,1131.5 140.5,1129.8 160.3,1140.5 151.2,1151.4 137.3,1146.9 157.5,1143.7 147.5,1151.7 144.9,1125.8 156.2,1152.4 135.6,1130 157.4,1145 140.6,1130.3 138.4,1129.1 139.2,1147.9 135.9,1137.4 154,1131.6 151.8,1134.6 153.4,1149.7 139.6,1150 143,1136.1 149.3,1140.7 145.6,1137.4 141.1,1129.6 160.2,1140.5 150.2,1146.7 152.1,1142 148.7,1136.2 144.2,1149.1 154.9,1127.7 155.5,1136.9 139.3,1146.2 135.3,1146.3 156.5,1150.6 160.6,1125.3 154.1,1140.6 163.2,1144.6 139.7,1136.2 162.7,1134.9 142.7,1133.3 153.3,1141 146.3,1142.6 152.5,1139 139.1,1137.5 155.5,1125.9 141.3,1136.1 154.4,1151.4 154.5,1126.7 137,1134.6 164.2,1140.6 134.7,1131.1 156.2,1128 147.8,1145.7 159.9,1140.2 148.3,1152.7 137.3,1139.7 164.3,1134.9 137.7,1132.2 148.1,1133.2 163,1127.6 166,1138.1 155.9,1141 136.9,1144.8 147,1126.5 150.7,1133.2 165.6,1132.3 140.7,1125.5 138.2,1145.1 156,1134.2 153.4,1148 149,1141.9 162.1,1138.7 148.2,1142.7 151.9,1149.6 154.9,1137.5 151.6,1144.3 147.2,1133.4 138.6,1138.6 139.4,1150.1 153,1130.7 133.9,1140.1 140.2,1137.2 156.9,1129.6 155.8,1138.6 154.7,1140.8 137.9,1134.4 155.3,1152.6 141.1,1143.6 147.4,1130.3 148.6,1138.1 156.6,1138.9 144.4,1141.3 133.8,1142.3 160.1,1133.5" fill="none" stroke="none" marker-start="url(#r)" marker-mid="url(#r)" marker-end="url(#r)"/>
</g>
<rect x="101.1" y="1014" width="103.9" height="39.8" rx="2" fill="#fff" fill-opacity="0.83" stroke="#cfcfcf" stroke-width="1"/>
<text x="108.1" y="1043.3" font-size="24" text-anchor="start" textLength="11.5" lengthAdjust="spacingAndGlyphs" font-style="italic">d</text>
<path d="M112.1 1024.7L115.7 1018.9L119.3 1024.7" fill="none" stroke="#000" stroke-width="1.5" stroke-linejoin="miter"/>
<path d="M128.1 1033.9h14.6M128.1 1038.7h14.6" stroke="#000" stroke-width="1.9" fill="none"/>
<text x="150.3" y="1043.3" font-size="24" text-anchor="start" textLength="48.8" lengthAdjust="spacingAndGlyphs">1.91</text>
<rect x="10.6" y="1235.8" width="255.5" height="34.9" rx="2" fill="#fff" fill-opacity="0.83" stroke="#cfcfcf" stroke-width="1"/>
<text x="17.3" y="1260.2" font-size="24" text-anchor="start" textLength="240.6" lengthAdjust="spacingAndGlyphs">density-maximum 2D</text>
<rect x="7.85" y="1002.8" width="284.2" height="270.2" fill="none" stroke="#000" stroke-width="1.5"/>
<path d="M7.8 1273v6.0M7.8 1002.8h-6.0M78.9 1273v6.0M7.8 1070.3h-6.0M150 1273v6.0M7.8 1137.9h-6.0M221 1273v6.0M7.8 1205.4h-6.0M292.1 1273v6.0M7.8 1273h-6.0" stroke="#000" stroke-width="1.5" fill="none"/>
<g clip-path="url(#cr3)">
<path d="M388.4 1002.8V1273M487.3 1002.8V1273M586.1 1002.8V1273M349.1 1219H633.3M349.1 1164.9H633.3M349.1 1110.9H633.3M349.1 1056.8H633.3" stroke="#ababab" stroke-width="1.35" fill="none"/>
<path d="M349.1 1164.9H633.3" stroke="#9e9e9e" stroke-width="2.2" stroke-dasharray="8.9 3.9" fill="none"/>
<polygon points="349.1,839.6 350.1,841.9 351.1,846.2 352.1,849.2 353.1,850.7 354.1,852.8 355.1,856.8 356.1,861.7 357.1,865.7 358.1,868.4 359.1,871 360.1,875 361.1,879.1 362.1,882 363.1,885 364.1,886.8 365.1,887.7 366.1,890.8 367.1,894.4 368.1,897.8 369.1,900.6 370.1,903.1 371.1,906.1 372.1,910 373.1,913.3 374.1,916.2 375.1,919.8 376.1,922 377.1,924.3 378.1,929.6 379.1,933.8 380.1,933.6 381.1,934.1 382.1,939.2 383.1,945.1 384.1,947.2 385.1,947.8 386.1,953.9 387.1,961.6 388.1,967.5 389.1,972.9 390.1,979.5 391.1,986.8 392.1,993.4 393.1,998.6 394.1,1003.9 395.1,1013.5 396.1,1022.2 397.1,1027.3 398.1,1028.7 399.1,1028.3 400.1,1026.5 401.1,1025.4 402.1,1025.2 403.1,1024.3 404.1,1027.2 405.1,1030.8 406.1,1033.5 407.1,1035.9 408.1,1038.3 409.1,1042.3 410.1,1048.2 411.1,1054.4 412.1,1059.7 413.1,1063.3 414.1,1065 415.1,1067.4 416.1,1071.3 417.1,1072.8 418.1,1073.2 419.1,1073.8 420.1,1075 421.1,1083.1 422.1,1094.8 423.1,1100.1 424.1,1099.6 425.1,1099.2 426.1,1102.9 427.1,1107.1 428.1,1111.5 429.1,1111.9 430.1,1111.6 431.1,1110.8 432.1,1111.4 433.1,1113 434.1,1113.1 435.1,1114.3 436.1,1117.6 437.1,1119.1 438.1,1118.9 439.1,1119.5 440.1,1120.9 441.1,1122.6 442.1,1124.1 443.1,1124.3 444.1,1124.6 445.1,1126.2 446.1,1127.8 447.1,1129.1 448.1,1130.1 449.1,1129.9 450.1,1128.2 451.1,1127.9 452.1,1128.7 453.1,1129.1 454.1,1129.2 455.1,1130.5 456.1,1131.5 457.1,1132 458.1,1133.1 459.1,1134 460.1,1134.3 461.1,1133.6 462.1,1133 463.1,1133.4 464.1,1134.1 465.1,1133.8 466.1,1134.3 467.1,1135.2 468.1,1137.1 469.1,1138.7 470.1,1140.3 471.1,1140 472.1,1140.3 473.1,1140.8 474.1,1140.4 475.1,1139.5 476.1,1138.9 477.1,1138.9 478.1,1139.4 479.1,1139.5 480.1,1138.7 481.1,1138.6 482.1,1139.2 483.1,1139.3 484.1,1138.9 485.1,1139.5 486.1,1141.4 487.1,1143 488.1,1143.6 489.1,1143.7 490.1,1145.2 491.1,1145.7 492.1,1145.9 493.1,1146.2 494.1,1145.6 495.1,1144.7 496.1,1144.3 497.1,1144.6 498.1,1145.1 499.1,1145.2 500.1,1145.8 501.1,1147 502.1,1147.9 503.1,1147.8 504.1,1148.4 505.1,1149.7 506.1,1150.8 507.1,1150.9 508.1,1150.9 509.1,1151.5 510.1,1152 511.1,1152.1 512,1151.8 513,1151.4 514,1151.2 515,1150.4 516,1150.4 517,1151.3 518,1151.7 519,1151.7 520,1151.6 521,1151.4 522,1151.5 523,1152.6 524,1153.8 525,1154.4 526,1155.1 527,1155.5 528,1155.6 529,1155.3 530,1155 531,1155.2 532,1155.3 533,1154.8 534,1154.7 535,1154.8 536,1154.1 537,1154.1 538,1154.8 539,1154.7 540,1155 541,1155.8 542,1156.1 543,1156.2 544,1156.8 545,1157.3 546,1157.4 547,1157.6 548,1157.6 549,1157.7 550,1158.5 551,1158.8 552,1158.4 553,1158.6 554,1159.4 555,1159.9 556,1159.9 557,1159.4 558,1159.7 559,1160.5 560,1160.5 561,1160.5 562,1160.6 563,1160.8 564,1161.1 564.2,1160.8 564.2,1177.1 564,1177.1 563,1177.4 562,1177.2 561,1177.3 560,1177.8 559,1178.2 558,1178.2 557,1177.8 556,1177.7 555,1177.5 554,1177.7 553,1178 552,1178.2 551,1178.2 550,1178.1 549,1178.2 548,1178.5 547,1178.4 546,1178.2 545,1178.3 544,1178.3 543,1178.3 542,1178.7 541,1179.3 540,1179.2 539,1179 538,1179.1 537,1179.1 536,1179.1 535,1179.4 534,1179.4 533,1179.7 532,1180.3 531,1180.6 530,1180.5 529,1180.4 528,1180.2 527,1179.9 526,1180.2 525,1180.7 524,1180.6 523,1180.6 522,1180.9 521,1181 520,1180.8 519,1180.7 518,1180.8 517,1180.9 516,1181 515,1181.6 514,1182.4 513,1182.6 512,1182.4 511.1,1183 510.1,1183.5 509.1,1183.6 508.1,1184.1 507.1,1184.4 506.1,1185 505.1,1185.5 504.1,1185.4 503.1,1185.3 502.1,1185.7 501.1,1185.3 500.1,1184.4 499.1,1184.5 498.1,1184.3 497.1,1183.5 496.1,1183.3 495.1,1183.2 494.1,1182.6 493.1,1181.8 492.1,1181.5 491.1,1181.5 490.1,1181.3 489.1,1181 488.1,1180.2 487.1,1179.7 486.1,1180.5 485.1,1180.8 484.1,1181.5 483.1,1182.7 482.1,1183.3 481.1,1183.8 480.1,1184.6 479.1,1185.4 478.1,1186.2 477.1,1186.6 476.1,1186.8 475.1,1187.7 474.1,1188.2 473.1,1188.7 472.1,1189.6 471.1,1190.2 470.1,1190.3 469.1,1189.2 468.1,1188.9 467.1,1188.6 466.1,1187.6 465.1,1187.7 464.1,1188.3 463.1,1189.1 462.1,1189.1 461.1,1189.1 460.1,1189.7 459.1,1189.9 458.1,1190.1 457.1,1190.8 456.1,1190.6 455.1,1189.5 454.1,1188.7 453.1,1188.6 452.1,1188.2 451.1,1188.1 450.1,1189.4 449.1,1190.2 448.1,1190.6 447.1,1190.8 446.1,1190.9 445.1,1191.3 444.1,1191.2 443.1,1190.6 442.1,1191.4 441.1,1193.2 440.1,1194.2 439.1,1194.4 438.1,1194.8 437.1,1195.7 436.1,1196.5 435.1,1197.3 434.1,1198 433.1,1197.9 432.1,1197.2 431.1,1196.4 430.1,1195.4 429.1,1194.8 428.1,1194.3 427.1,1194 426.1,1194.3 425.1,1194.7 424.1,1194.7 423.1,1194.5 422.1,1194.2 421.1,1193.4 420.1,1192.3 419.1,1192 418.1,1191.4 417.1,1190.4 416.1,1190.8 415.1,1191.1 414.1,1191.7 413.1,1193.1 412.1,1193.3 411.1,1191.6 410.1,1189.9 409.1,1188.7 408.1,1188.1 407.1,1188.4 406.1,1189.6 405.1,1190.6 404.1,1191.7 403.1,1193.5 402.1,1194.9 401.1,1195.3 400.1,1195.8 399.1,1196.8 398.1,1196.6 397.1,1196.3 396.1,1195.2 395.1,1195 394.1,1196.2 393.1,1197.7 392.1,1198.5 391.1,1199.6 390.1,1200.4 389.1,1200.5 388.1,1200.4 387.1,1201 386.1,1202.2 385.1,1202.6 384.1,1202.4 383.1,1202.5 382.1,1202.5 381.1,1202.3 380.1,1203.4 379.1,1204.5 378.1,1203.5 377.1,1201.6 376.1,1201.3 375.1,1201.4 374.1,1200.3 373.1,1201.3 372.1,1203.2 371.1,1204.3 370.1,1205.8 369.1,1207.2 368.1,1208.2 367.1,1208.2 366.1,1207.9 365.1,1208.3 364.1,1207.9 363.1,1205.8 362.1,1204.4 361.1,1203.5 360.1,1202.2 359.1,1201.5 358.1,1202.6 357.1,1203.4 356.1,1204.4 355.1,1206.3 354.1,1206.6 353.1,1205.5 352.1,1205.3 351.1,1206.6 350.1,1207.6 349.1,1207.6" fill="#d1283f" fill-opacity="0.26" stroke="#d1283f" stroke-opacity="0.4" stroke-width="1.2" stroke-linejoin="round"/>
<polygon points="564.2,1160.9 565.2,1161 566.2,1161.6 567.2,1161.7 568.2,1161.3 569.2,1161.7 570.2,1162.3 571.2,1162.5 572.2,1162.8 573.2,1163.1 574.2,1163.4 575.2,1164.2 576.2,1164.5 577.2,1163.9 578.2,1163.2 579.2,1163.8 580.2,1165.4 581.2,1166 582.2,1165.7 583.2,1166 584.2,1166.7 585.2,1167.1 586.2,1167.6 587.2,1167.9 588.2,1168.2 589.2,1169 590.2,1169.4 591.2,1169.3 592.2,1169.3 593.2,1169.5 594.2,1170 595.2,1171.1 596.2,1172.1 597.2,1172.4 598.2,1172.6 599.2,1172.9 600.2,1173.3 601.2,1173.8 602.2,1174 603.2,1174.2 604.2,1174.6 605.2,1174.9 606.2,1175.6 607.2,1176.3 608.2,1176.9 609.2,1177.6 610.2,1178.4 611.2,1178.9 612.2,1179.5 613.2,1180.1 614.2,1180.4 615.2,1180.8 616.2,1181.7 617.2,1182.6 618.2,1183.2 619.2,1183.4 620.2,1183.9 621.2,1184.7 622.2,1185.5 623.2,1185.8 624.2,1186.4 625.2,1187.5 626.2,1188.5 627.2,1189.1 628.2,1189.9 629.2,1190.9 630.2,1191.4 631.2,1191.7 632.2,1192.6 633.2,1193.5 633.3,1193.3 633.3,1201.8 633.2,1201.8 632.2,1201.2 631.2,1200.5 630.2,1199.8 629.2,1199.3 628.2,1198.8 627.2,1198.3 626.2,1197.6 625.2,1196.8 624.2,1196 623.2,1195.1 622.2,1194.5 621.2,1194 620.2,1193.5 619.2,1193.1 618.2,1192.5 617.2,1192 616.2,1191.5 615.2,1191.1 614.2,1190.6 613.2,1190.3 612.2,1190 611.2,1189.7 610.2,1189.4 609.2,1188.8 608.2,1188.3 607.2,1187.9 606.2,1187.3 605.2,1186.8 604.2,1186.6 603.2,1186.4 602.2,1186.1 601.2,1185.6 600.2,1185.3 599.2,1185 598.2,1184.5 597.2,1184.1 596.2,1184 595.2,1183.9 594.2,1183.4 593.2,1183.3 592.2,1183.3 591.2,1182.7 590.2,1182 589.2,1181.7 588.2,1181.5 587.2,1181.3 586.2,1181.2 585.2,1181 584.2,1180.8 583.2,1180.5 582.2,1180.1 581.2,1179.7 580.2,1179.6 579.2,1179.4 578.2,1179.5 577.2,1179.7 576.2,1179.2 575.2,1178.9 574.2,1178.8 573.2,1178.9 572.2,1178.8 571.2,1178.5 570.2,1178.3 569.2,1178.3 568.2,1178 567.2,1177.7 566.2,1177.3 565.2,1176.9 564.2,1177.1" fill="#505050" fill-opacity="0.3" stroke="#505050" stroke-opacity="0.55" stroke-width="1.2" stroke-linejoin="round"/>
<polyline points="350.4,1057.4 358.6,1098.5 366.5,1117.9 373.1,1122.8 378.8,1126.6 383.9,1131.4 388.4,1135.7 392.5,1140.1 396.2,1137.9 399.7,1137.9 402.8,1139.5 405.8,1144.9 408.6,1141.7 411.2,1144.4 413.6,1148.7 416,1148.7 418.2,1148.7 420.3,1151.4 422.2,1152.5 424.2,1156.8 426,1156.8 427.7,1158.5 429.4,1158.2 431,1159.1 432.6,1160 434.1,1160.4 435.6,1160.9 437,1160.3 438.3,1160.5 439.7,1161.2 440.9,1161.8 442.2,1162.5 443.4,1163.2 444.6,1163.3 445.7,1163.1 446.8,1162.6 447.9,1162 449,1162.6 450,1162.9 451,1163.5 452,1164 453,1163.6 453.9,1163.1 454.8,1162.4 455.7,1162 456.6,1162.5 457.5,1162.4 458.3,1162.4 459.2,1162.5 460,1162.4 460.8,1163.2 461.6,1163.5 462.4,1163.5 463.1,1163 463.9,1162.6 464.6,1163.1 465.3,1163.2 466,1163.5 466.7,1163.5 467.4,1163.4 468.1,1164.4 468.8,1164.7 469.4,1164.8 470.1,1165 470.7,1164.3 471.3,1164.4 471.9,1164.1 472.6,1163.8 473.2,1164.3 473.7,1163.9 474.3,1164.1 474.9,1163.9 475.5,1163.7 476,1164.2 476.6,1164.1 477.1,1164.4 477.7,1164.7 478.2,1164.6 478.7,1164.6 479.3,1164.5 479.8,1164.4 480.3,1164.8 480.8,1164.5 481.3,1164.2 481.8,1163.8 482.3,1163.7 482.7,1163.8 483.2,1163.7 483.7,1164.3 484.1,1164.5 484.6,1165.2 485.1,1165.1 485.5,1164.9 486,1165.1 486.4,1165.2 486.8,1165.7 487.3,1165.6 487.7,1165.5 488.1,1165.8 488.5,1166.1 488.9,1166.2 489.4,1166 489.8,1165.6 490.2,1165.2 490.6,1165.2 491,1165.4 491.4,1165.9 491.7,1166.2 492.1,1165.9 492.5,1166 492.9,1166.3 493.3,1166.9 493.6,1167 494,1166.4 494.4,1166 494.7,1165.9 495.1,1166.5 495.4,1167 495.8,1167.2 496.1,1166.9 496.5,1166.5 496.8,1166.5 497.2,1166.5 497.5,1166.6 497.9,1166.1 498.2,1166 498.5,1166 498.9,1166.2 499.2,1166.4 499.5,1166.4 499.8,1166.5 500.1,1166.5 500.5,1166.5 500.8,1166.5 501.1,1166.3 501.4,1166.3 501.7,1166.2 502,1166.3 502.3,1166.3 502.6,1166.4 502.9,1166.8 503.2,1167 503.5,1167.4 503.8,1167.3 504.1,1167.2 504.4,1167.1 504.7,1167.2 505,1167.1 505.2,1167 505.5,1166.9 505.8,1166.9 506.1,1167 506.4,1167 506.6,1167 506.9,1167 507.2,1167.1 507.4,1167.1 507.7,1167 508,1166.9 508.2,1167.1 508.5,1167.2 508.8,1167.3 509,1167.3 509.3,1167.2 509.5,1167.4 509.8,1167.4 510,1167.3 510.3,1167.2 510.5,1167 510.8,1167.3 511,1167.6 511.3,1167.7 511.5,1167.6 511.8,1167.3 512,1167.1 512.3,1167.3 512.5,1167.5 512.7,1167.5 513,1167.4 513.2,1167.3 513.4,1167.3 513.7,1167.2 513.9,1167.2 514.1,1167.3 514.4,1167.6 514.6,1167.8 514.8,1167.8 515,1167.9 515.3,1167.7 515.5,1167.7 515.7,1167.4 515.9,1167.3 516.2,1167.3 516.4,1167.4 516.6,1167.5 516.8,1167.4 517,1167.4 517.2,1167.6 517.5,1167.7 517.7,1167.7 517.9,1167.7 518.1,1167.6 518.3,1167.6 518.5,1167.8 518.7,1167.7 518.9,1167.7 519.1,1167.5 519.3,1167.4 519.5,1167.5 519.7,1167.5 519.9,1167.3 520.1,1167.2 520.3,1167.2 520.5,1167.4 520.7,1167.8 520.9,1167.8 521.1,1167.7 521.3,1167.4 521.5,1167.4 521.7,1167.6 521.9,1167.7 522.1,1167.7 522.3,1167.9 522.5,1168 522.6,1168.1 522.8,1168.1 523,1168 523.2,1168 523.4,1167.9 523.6,1167.8 523.8,1167.8 523.9,1167.8 524.1,1167.8 524.3,1167.7 524.5,1167.4 524.7,1167.3 524.9,1167.5 525,1167.6 525.2,1167.6 525.4,1167.7 525.6,1167.8 525.7,1167.9 525.9,1167.9 526.1,1167.9 526.3,1167.9 526.4,1167.9 526.6,1167.7 526.8,1167.7 526.9,1167.7 527.1,1167.7 527.3,1167.7 527.5,1167.7 527.6,1167.9 527.8,1167.9 528,1167.9 528.1,1167.9 528.3,1167.9 528.5,1167.9 528.6,1167.9 528.8,1167.9 528.9,1167.9 529.1,1167.9 529.3,1167.8 529.4,1167.9 529.6,1168 529.7,1168.1 529.9,1168.2 530.1,1168.1 530.2,1168 530.4,1168 530.5,1168.1 530.7,1168.1 530.9,1168.1 531,1167.9 531.2,1167.8 531.3,1167.8 531.5,1167.9 531.6,1168.1 531.8,1168.2 531.9,1168.3 532.1,1168.3 532.2,1168.3 532.4,1168.4 532.5,1168.3 532.7,1168.3 532.8,1168.4 533,1168.3 533.1,1168.2 533.3,1168.1 533.4,1168 533.6,1167.9 533.7,1168 533.9,1168 534,1168 534.1,1168.1 534.3,1168.1 534.4,1168.1 534.6,1168.3 534.7,1168.3 534.9,1168.2 535,1168 535.1,1167.9 535.3,1168.1 535.4,1168.3 535.6,1168.4 535.7,1168.4 535.8,1168.4 536,1168.3 536.1,1168.2 536.3,1168.1 536.4,1168 536.5,1168.1 536.7,1168.3 536.8,1168.4 536.9,1168.3 537.1,1168.2 537.2,1168 537.3,1168 537.5,1168.1 537.6,1168.2 537.7,1168.2 537.9,1168.2 538,1168.4 538.1,1168.6 538.3,1168.7 538.4,1168.8 538.5,1168.6 538.7,1168.4 538.8,1168.3 538.9,1168.3 539,1168.4 539.2,1168.4 539.3,1168.6 539.4,1168.6 539.6,1168.7 539.7,1168.8 539.8,1168.8 539.9,1168.7 540.1,1168.5 540.2,1168.3 540.3,1168.3 540.4,1168.3 540.6,1168.4 540.7,1168.5 540.8,1168.6 540.9,1168.7 541.1,1168.7 541.2,1168.6 541.3,1168.4 541.4,1168.2 541.5,1168.2 541.7,1168.2 541.8,1168.4 541.9,1168.5 542,1168.7 542.1,1168.7 542.3,1168.6 542.4,1168.5 542.5,1168.4 542.6,1168.5 542.7,1168.5 542.9,1168.5 543,1168.5 543.1,1168.5 543.2,1168.7 543.3,1168.7 543.4,1168.8 543.6,1168.7 543.7,1168.6 543.8,1168.7 543.9,1168.8 544,1168.9 544.1,1168.8 544.2,1168.8 544.4,1168.7 544.5,1168.6 544.6,1168.6 544.7,1168.5 544.8,1168.5 544.9,1168.5 545,1168.5 545.1,1168.7 545.3,1168.7 545.4,1168.8 545.5,1168.7 545.6,1168.7 545.7,1168.6 545.8,1168.5 545.9,1168.5 546,1168.7 546.1,1168.9 546.2,1168.9 546.4,1168.9 546.5,1168.9 546.6,1169 546.7,1169 546.8,1168.8 546.9,1168.5 547,1168.4 547.1,1168.5 547.2,1168.7 547.3,1168.8 547.4,1168.8 547.5,1168.6 547.6,1168.5 547.7,1168.4 547.8,1168.6 547.9,1169 548.1,1169 548.2,1168.9 548.3,1168.8 548.4,1168.9 548.5,1168.9 548.6,1168.9 548.7,1168.9 548.8,1168.9 548.9,1168.9 549,1168.8 549.1,1168.7 549.2,1168.8 549.3,1168.9 549.4,1168.9 549.5,1168.9 549.6,1168.9 549.7,1168.9 549.8,1168.9 549.9,1168.9 550,1168.9 550.1,1168.8 550.2,1168.8 550.3,1168.8 550.4,1168.8 550.5,1168.8 550.6,1168.8 550.7,1169 550.8,1169.1 550.9,1169 551,1168.8 551.1,1168.8 551.2,1168.8 551.3,1168.9 551.4,1169 551.5,1169.1 551.6,1169.2 551.7,1169 551.7,1169 551.8,1168.9 551.9,1169 552,1169.1 552.1,1169.1 552.2,1169.2 552.3,1169.3 552.4,1169.4 552.5,1169.5 552.6,1169.5 552.7,1169.5 552.8,1169.2 552.9,1169.1 553,1169.2 553.1,1169.4 553.2,1169.6 553.3,1169.6 553.3,1169.5 553.4,1169.3 553.5,1169.1 553.6,1168.9 553.7,1168.8 553.8,1168.8 553.9,1168.8 554,1168.8 554.1,1168.9 554.2,1168.8 554.3,1168.8 554.3,1168.7 554.4,1168.6 554.5,1168.8 554.6,1168.9 554.7,1169.1 554.8,1169.3 554.9,1169.1 555,1169 555.1,1169.1 555.1,1169.2 555.2,1169.4 555.3,1169.4 555.4,1169.3 555.5,1169.2 555.6,1169.1 555.7,1168.9 555.8,1168.9 555.8,1168.8 555.9,1169 556,1169.1 556.1,1169.2 556.2,1169.3 556.3,1169.2 556.4,1169.3 556.5,1169.2 556.5,1169.2 556.6,1169.2 556.7,1169.2 556.8,1169.2 556.9,1169.2 557,1169.2 557,1169.2 557.1,1169.3 557.2,1169.2 557.3,1169.2 557.4,1169.1 557.5,1168.9 557.6,1169 557.6,1169.1 557.7,1169.3 557.8,1169.5 557.9,1169.5 558,1169.5 558.1,1169.5 558.1,1169.5 558.2,1169.4 558.3,1169.4 558.4,1169.4 558.5,1169.3 558.5,1169.2 558.6,1169.2 558.7,1169.2 558.8,1169.2 558.9,1169.2 558.9,1169.1 559,1169.3 559.1,1169.5 559.2,1169.6 559.3,1169.5 559.4,1169.2 559.4,1169.1 559.5,1169.1 559.6,1169.2 559.7,1169.2 559.8,1169.1 559.8,1169.2 559.9,1169.1 560,1169.1 560.1,1169.2 560.1,1169.2 560.2,1169.3 560.3,1169.3 560.4,1169.4 560.5,1169.5 560.5,1169.4 560.6,1169.4 560.7,1169.4 560.8,1169.3 560.8,1169.3 560.9,1169.3 561,1169.3 561.1,1169.4 561.2,1169.5 561.2,1169.4 561.3,1169.5 561.4,1169.6 561.5,1169.6 561.5,1169.5 561.6,1169.4 561.7,1169.4 561.8,1169.5 561.8,1169.6 561.9,1169.5 562,1169.4 562.1,1169.2 562.1,1169.2 562.2,1169.3 562.3,1169.5 562.4,1169.6 562.4,1169.4 562.5,1169.4 562.6,1169.3 562.7,1169.4 562.7,1169.3 562.8,1169.2 562.9,1169.2 563,1169.2 563,1169.2 563.1,1169.4 563.2,1169.4 563.3,1169.6 563.3,1169.6 563.4,1169.5 563.5,1169.5 563.5,1169.5 563.6,1169.7 563.7,1169.6 563.8,1169.6 563.8,1169.4 563.9,1169.6 564,1169.7 564.1,1169.6 564.1,1169.5 564.2,1169.3" fill="none" stroke="none" marker-start="url(#m)" marker-mid="url(#m)" marker-end="url(#m)"/>
<polyline points="564.2,1169.5 565.7,1169.8 567.2,1170 568.7,1170.3 570.2,1170.5 571.7,1170.8 573.2,1171 574.7,1171.3 576.2,1171.5 577.7,1171.8 579.2,1172.1 580.7,1172.5 582.2,1172.9 583.7,1173.3 585.2,1173.8 586.7,1174.2 588.2,1174.8 589.7,1175.3 591.2,1175.8 592.7,1176.4 594.2,1176.9 595.7,1177.5 597.2,1178 598.7,1178.6 600.2,1179.1 601.7,1179.6 603.2,1180.2 604.7,1180.7 606.2,1181.3 607.7,1182 609.2,1182.8 610.7,1183.5 612.2,1184.2 613.7,1184.9 615.2,1185.7 616.7,1186.4 618.2,1187.1 619.7,1187.8 621.2,1188.6 622.7,1189.4 624.2,1190.3 625.7,1191.1 627.2,1191.9 628.7,1192.8 630.2,1193.6 631.7,1194.4 633.2,1195.3 633.3,1195.3" fill="none" stroke="#000" stroke-width="3" stroke-linecap="butt" stroke-linejoin="round"/>
</g>
<rect x="351.9" y="1235.8" width="255.5" height="34.9" rx="2" fill="#fff" fill-opacity="0.9" stroke="#cfcfcf" stroke-width="1"/>
<text x="358.6" y="1260.2" font-size="24" text-anchor="start" textLength="240.6" lengthAdjust="spacingAndGlyphs">density-maximum 2D</text>
<rect x="349.05" y="1002.8" width="284.2" height="270.2" fill="none" stroke="#000" stroke-width="1.5"/>
<path d="M633.3 1273h6.0M633.3 1219h6.0M633.3 1164.9h6.0M633.3 1110.9h6.0M633.3 1056.8h6.0M633.3 1002.8h6.0M388.4 1273v6.0M487.3 1273v6.0M586.1 1273v6.0M349.1 1273v3.6M358.6 1273v3.6M366.5 1273v3.6M373.1 1273v3.6M378.8 1273v3.6M383.9 1273v3.6M418.2 1273v3.6M435.6 1273v3.6M447.9 1273v3.6M457.5 1273v3.6M465.3 1273v3.6M471.9 1273v3.6M477.7 1273v3.6M482.7 1273v3.6M517 1273v3.6M534.4 1273v3.6M546.8 1273v3.6M556.4 1273v3.6M564.2 1273v3.6M570.8 1273v3.6M576.5 1273v3.6M581.6 1273v3.6M615.9 1273v3.6M633.3 1273v3.6" stroke="#000" stroke-width="1.5" fill="none"/>
<text x="645.6" y="1282.5" font-size="24" text-anchor="start" textLength="12.2" lengthAdjust="spacingAndGlyphs">0</text>
<text x="645.6" y="1228.5" font-size="24" text-anchor="start" textLength="12.2" lengthAdjust="spacingAndGlyphs">1</text>
<text x="645.6" y="1174.4" font-size="24" text-anchor="start" textLength="12.2" lengthAdjust="spacingAndGlyphs">2</text>
<text x="645.6" y="1120.4" font-size="24" text-anchor="start" textLength="12.2" lengthAdjust="spacingAndGlyphs">3</text>
<text x="645.6" y="1066.3" font-size="24" text-anchor="start" textLength="12.2" lengthAdjust="spacingAndGlyphs">4</text>
<text x="645.6" y="1012.3" font-size="24" text-anchor="start" textLength="12.2" lengthAdjust="spacingAndGlyphs">5</text>
<text transform="translate(682.0 1138.4) rotate(-90)" font-size="24" text-anchor="middle" textLength="233.7" lengthAdjust="spacingAndGlyphs">estimated dimension</text>
<text x="369.5" y="1302.9" font-size="24" text-anchor="start" textLength="26.4" lengthAdjust="spacingAndGlyphs">10</text>
<text x="398.8" y="1294" font-size="16.8" text-anchor="start" textLength="6.9" lengthAdjust="spacingAndGlyphs">1</text>
<text x="468.4" y="1302.9" font-size="24" text-anchor="start" textLength="26.4" lengthAdjust="spacingAndGlyphs">10</text>
<text x="497.7" y="1294" font-size="16.8" text-anchor="start" textLength="6.9" lengthAdjust="spacingAndGlyphs">2</text>
<text x="567.2" y="1302.9" font-size="24" text-anchor="start" textLength="26.4" lengthAdjust="spacingAndGlyphs">10</text>
<text x="596.5" y="1294" font-size="16.8" text-anchor="start" textLength="6.9" lengthAdjust="spacingAndGlyphs">3</text>
<text x="489.9" y="1330.9" font-size="24" text-anchor="middle" textLength="236.6" lengthAdjust="spacingAndGlyphs">number of analogues</text>
</svg>
</body></html>
